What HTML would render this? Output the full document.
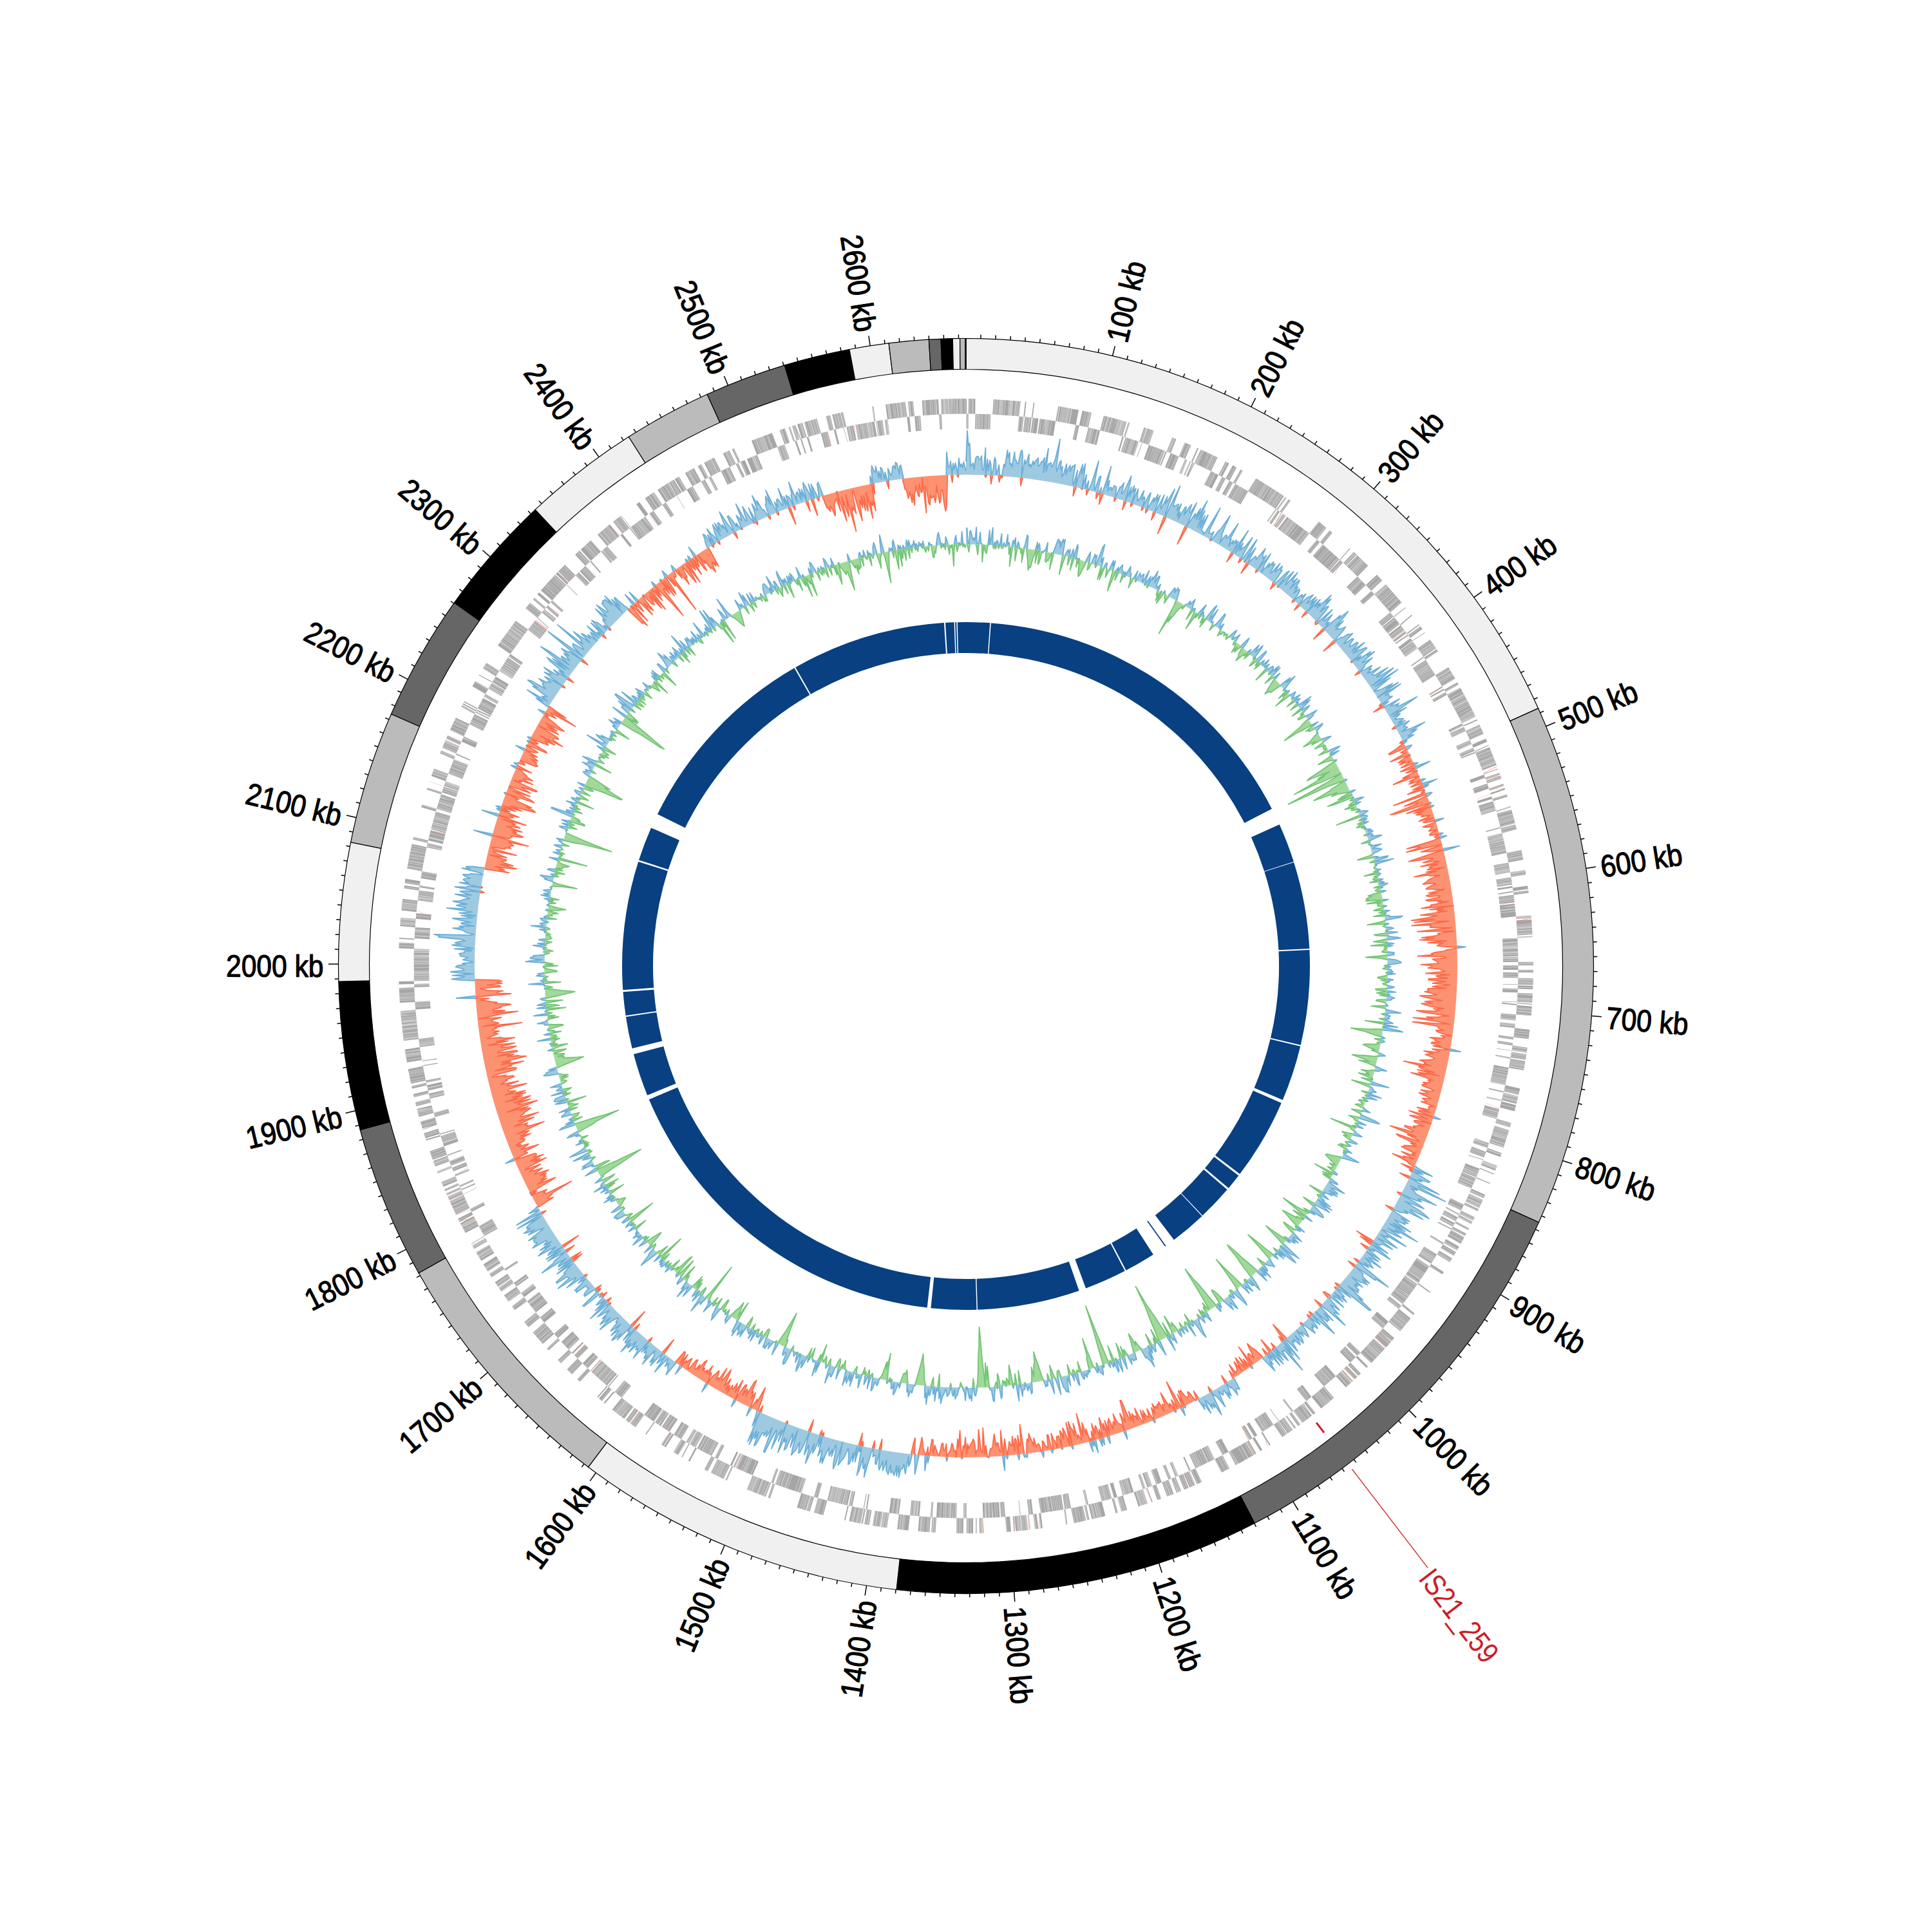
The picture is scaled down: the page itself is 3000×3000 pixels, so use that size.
<!DOCTYPE html><html><head><meta charset="utf-8"><style>html,body{margin:0;padding:0;background:#fff;}svg{display:block;}text{font-family:"Liberation Sans",sans-serif;}</style></head><body><svg width="3000" height="3000" viewBox="0 0 3000 3000"><rect width="3000" height="3000" fill="#fff"/><path d="M1503.9 630.8L1514.4 630.9M1542 631.8L1582 634.6M1581.7 634.6L1583.5 634.8M1590.6 635.5L1592.4 635.7M1603.3 636.9L1604.9 637.1M1641.2 642.3L1672.8 648.1M1678.2 649.2L1681.8 650M1682 650L1692.4 652.3M1711.1 656.8L1725.9 660.6M1726.1 660.7L1729.8 661.7M1730 661.7L1746.1 666.3M1748.5 667L1750.8 667.7M1772.9 674.7L1776.6 675.9M1777.5 676.2L1787.8 679.8M1816 690.2L1822.1 692.6M1835.2 698L1844.8 702M1854.5 706.3L1856.3 707.1M1859.6 708.6L1860.6 709.1M1860.8 709.2L1870.6 713.7M1870.8 713.8L1880.1 718.3M1880.3 718.4L1885.5 720.9M1897.6 727L1903.2 729.9M1908.7 732.8L1910.9 734M1911.1 734.1L1913 735.1M1913.3 735.3L1914.8 736.1M1920.6 739.3L1923.8 741.1M1944.2 752.8L1969.1 768.2M1969.3 768.3L1987.2 780.1M1988.9 781.3L1990.9 782.7M1994.2 784.9L1997 786.9M2040.5 819.2L2052.4 828.8M2057.1 832.8L2061.5 836.4M2088.1 859.9L2089 860.7M2094.1 865.4L2098.6 869.7M2099.5 870.6L2116.1 886.8M2129.4 900.4L2137.7 909.3M2143 915L2167.6 943.3M2173.2 950.1L2173.9 951M2182.8 962.1L2183.9 963.4M2193.6 976L2194.8 977.6M2196.1 979.3L2199.3 983.7M2202.7 988.3L2203.1 988.9M2211 1000L2220.2 1013.2M2221.1 1014.6L2223.3 1017.9M2238.9 1042.1L2245.4 1052.9M2245.7 1053.2L2249.5 1059.7M2252.8 1065.3L2254.7 1068.7M2257.1 1072.9L2275.8 1108M2275.9 1108.2L2278.8 1114M2278.9 1114.2L2280.7 1117.8M2282.7 1121.8L2283.4 1123.4M2286.6 1130.1L2293.1 1144.3M2296.2 1151.1L2296.3 1151.5M2296.5 1151.8L2298.5 1156.4M2300.6 1161.5L2301.1 1162.6M2301.9 1164.5L2302.4 1165.8M2302.5 1166L2310.1 1184.8M2310.2 1185L2312.9 1192M2314.9 1197.5L2315.3 1198.6M2317.2 1203.7L2318.3 1206.9M2318.9 1208.3L2320.4 1212.8M2323.2 1220.8L2324.4 1224.2M2325.4 1227.5L2326.2 1229.8M2328.5 1236.9L2329.6 1240.5M2334.2 1255.6L2334.7 1257.2M2335.6 1260.3L2341.3 1281.4M2341.7 1283.1L2343.7 1290.8M2350.8 1322L2353.8 1337M2356.7 1352.6L2357.9 1359.9M2360.5 1377L2361.2 1382.1M2361.5 1384.1L2362 1388M2365.8 1422.3L2366.1 1426.1M2366.3 1428.6L2367.9 1451.8M2368 1454.1L2368.1 1455.8M2369.2 1493.7L2369.2 1499M2369.2 1506.1L2369.2 1510.1M2369 1519L2368.8 1528.9M2368.7 1530.3L2368.5 1535.9M2368.2 1542.3L2368.1 1544.7M2368.1 1545L2367.4 1556.4M2367.3 1557.8L2367.2 1559.2M2367.1 1561.7L2365.9 1576.4M2363.7 1597.7L2362 1611.9M2360.2 1625.1L2359 1633.1M2358.6 1635.4L2357.3 1643.8M2356.9 1645.9L2355.8 1652.4M2355.7 1652.7L2354.4 1660M2348.8 1687.7L2346.6 1697.3M2346.1 1699.4L2343.2 1711.1M2342.8 1713L2340.3 1722.5M2335.3 1740.6L2333.4 1747.1M2332 1751.6L2326.8 1768.2M2326.8 1768.4L2323.5 1778.4M2320.7 1786.5L2318.6 1792.5M2313.6 1806.1L2310.8 1813.5M2309 1818.1L2308.5 1819.3M2303.1 1832.6L2302.6 1833.8M2295.5 1850.4L2293.1 1855.8M2292 1858.3L2286.2 1870.7M2285.4 1872.5L2283.9 1875.7M2279.3 1885L2276.8 1890.1M2276 1891.7L2274.1 1895.4M2270.9 1901.7L2269.4 1904.5M2266.3 1910.2L2264.5 1913.7M2263.7 1915.2L2262.7 1917M2262.6 1917.2L2258 1925.4M2255.5 1929.9L2252.2 1935.7M2250.7 1938.2L2247.3 1944M2244.9 1948L2241.3 1953.9M2232 1968.8L2230.4 1971.3M2230.2 1971.6L2229.6 1972.6M2211.7 1999.1L2210.6 2000.6M2187.5 2032L2186.5 2033.2M2186.4 2033.4L2185.4 2034.6M2181.3 2039.8L2165.2 2059.6M2156.2 2070.1L2152.3 2074.6M2151.6 2075.4L2145.6 2082M2145.5 2082.2L2143.5 2084.4M2141.7 2086.4L2135.9 2092.7M2135.7 2092.9L2120.8 2108.5M2115.8 2113.5L2113.5 2115.8M2105 2124.2L2101.2 2127.8M2099.6 2129.3L2095.7 2133.1M2092.9 2135.6L2091 2137.4M2090.2 2138.1L2082.1 2145.5M2063.6 2161.7L2057.2 2167.2M2057.1 2167.3L2044 2178M2035.4 2184.8L2031.9 2187.5M2030.3 2188.8L2029.1 2189.6M2028.9 2189.8L2025 2192.8M2024.9 2192.9L2022.4 2194.8M2022.2 2194.9L2015.1 2200.2M2012.5 2202.1L2008.9 2204.7M2005.2 2207.3L2003.2 2208.8M2000.7 2210.6L1992.7 2216.2M1991.8 2216.8L1984.3 2221.9M1966.5 2233.5L1964.6 2234.7M1954 2241.3L1950.9 2243.2M1944.8 2246.9L1940.8 2249.2M1940 2249.7L1917.5 2262.4M1917.2 2262.6L1913.2 2264.7M1903.7 2269.8L1891.4 2276.2M1861.2 2290.6L1853.8 2294M1851.5 2295L1842.5 2298.9M1841.2 2299.5L1834.5 2302.3M1829.7 2304.3L1825.3 2306.1M1825.1 2306.2L1822.9 2307M1818.6 2308.8L1818 2309M1817.8 2309.1L1809.6 2312.2M1809.4 2312.3L1808.3 2312.7M1799.3 2316.1L1795.9 2317.3M1795.7 2317.4L1794.2 2317.9M1794 2318L1793.2 2318.3M1785.5 2321L1783.9 2321.6M1778.4 2323.5L1764.2 2328.1M1746.9 2333.5L1738 2336M1732.9 2337.5L1729.5 2338.4M1713.6 2342.6L1707.7 2344.1M1707.4 2344.1L1692.8 2347.6M1689.1 2348.4L1685.9 2349.1M1683.8 2349.6L1680.2 2350.4M1680 2350.4L1665.4 2353.4M1655.9 2355.2L1653.7 2355.5M1617.6 2361.3L1614 2361.7M1610.9 2362.1L1605.5 2362.8M1598.8 2363.6L1597.2 2363.8M1594.8 2364.1L1585.9 2365M1585 2365.1L1584 2365.2M1583.7 2365.2L1576.2 2365.9M1575.1 2366L1573.5 2366.1M1569.1 2366.5L1561.8 2367.1M1526.8 2368.8L1525.3 2368.9M1524.3 2368.9L1520.8 2369M1516.7 2369.1L1514.9 2369.1M1511.1 2369.2L1500.9 2369.2M1495.9 2369.2L1485.3 2369.1M1453.3 2368L1447 2367.6M1444.1 2367.5L1426.5 2366.1M1411.7 2364.8L1394.5 2362.8M1378.9 2360.8L1369.6 2359.4M1368.4 2359.2L1363.9 2358.5M1363.7 2358.5L1356.9 2357.4M1351.6 2356.5L1344.1 2355.2M1342.1 2354.8L1339.5 2354.3M1338.2 2354.1L1323.9 2351.2M1323.7 2351.2L1320.9 2350.6M1315.3 2349.4L1313.5 2349M1281.4 2341.3L1267 2337.4M1260.7 2335.7L1255.7 2334.2M1255 2334L1240.9 2329.7M1199.5 2315.6L1196.3 2314.5M1193 2313.2L1189.6 2311.9M1189.4 2311.9L1182.6 2309.2M1182.3 2309.1L1164.3 2301.8M1133.6 2288.2L1131.4 2287.2M1128.5 2285.9L1109 2276.3M1104.3 2274L1099.3 2271.4M1076.5 2259.1L1074.3 2257.9M1065.1 2252.6L1063.8 2251.9M1059.2 2249.2L1051.7 2244.7M1040 2237.6L1037.1 2235.7M1036.5 2235.4L1033.3 2233.3M1010.2 2218.1L1008.9 2217.2M993.8 2206.6L990.5 2204.3M990.4 2204.2L985.8 2200.9M984.1 2199.6L978.8 2195.7M976.5 2193.9L974.5 2192.4M974.4 2192.3L971.8 2190.4M971.6 2190.2L968 2187.4M967.8 2187.3L962.2 2182.9M962 2182.8L958 2179.6M946.9 2170.6L945.3 2169.2M942.1 2166.6L937.6 2162.8M936.2 2161.6L934.8 2160.4M908.5 2136.9L904.4 2133.1M896.4 2125.5L888.7 2118M879.3 2108.6L876.5 2105.7M876.3 2105.5L874.8 2103.9M860.6 2088.9L858.4 2086.5M858.3 2086.3L857.7 2085.7M851.6 2079L848 2074.9M847.9 2074.7L836.4 2061.4M829.6 2053.3L823.1 2045.4M808.9 2027.3L808.2 2026.3M808.1 2026.1L804.4 2021.3M799.3 2014.5L793.1 2005.8M793 2005.7L792.3 2004.7M788.2 1998.9L784.1 1993M783.1 1991.6L778.3 1984.5M773.2 1976.8L769.7 1971.4M767.5 1967.9L760.5 1956.9M757.3 1951.7L749.6 1938.8M746.5 1933.3L743.6 1928.3M742.2 1925.8L741.8 1925.1M733.1 1909.2L725.2 1894M724 1891.7L723 1889.8M722.9 1889.4L721.7 1887M718.8 1881.2L714.1 1871.5M714.1 1871.3L709.2 1860.8M708.9 1860.2L708.6 1859.5M708.3 1858.8L707.4 1856.8M707.3 1856.6L705.8 1853.2M705 1851.5L703.6 1848.3M702.1 1844.8L700.9 1842M699.3 1838.3L696.3 1831.1M690.9 1817.8L689.6 1814.5M686.8 1807.2L683.7 1798.8M683.1 1797.2L678.4 1783.9M673 1767.8L672.4 1765.7M671.8 1764.1L669.4 1756.3M667.6 1750.3L667.3 1749.5M667.2 1749.1L664.1 1738.3M662 1731.1L660.7 1726.3M660.7 1726.1L659.5 1721.6M659.4 1721.4L658.9 1719.3M657.7 1714.8L656.2 1708.8M654.3 1701L653.2 1696.3M651.3 1687.8L650.4 1683.9M649.7 1680.4L645.2 1657.9M643.4 1647.9L641.4 1635.5M641.3 1635.2L640.9 1632.5M640.9 1632.2L640.2 1627.9M638.4 1614.8L634 1574.9M634 1574.7L633.5 1568.9M632.6 1556.5L631.4 1533.6M631.2 1528.3L631.1 1523.8M631.2 1472.8L631.5 1464M631.7 1458.4L631.8 1456.8M632.9 1439L633.9 1425.8M634.9 1414.9L635.3 1411.6M635.3 1411.1L636.9 1397.1M638.9 1381.1L639.6 1376.5M640 1373.2L641.1 1366.4M643.6 1350.9L646.7 1334.4M646.7 1334.2L648.7 1324.3M648.7 1324.1L651.1 1313M652.6 1306.2L653.5 1302.4M665.5 1256.7L666.7 1252.6M673.9 1229.6L674.9 1226.5M680.9 1209L685.1 1197.5M694 1174.4L695.9 1169.9M697.6 1165.7L702.5 1154.2M703.5 1151.8L705.8 1146.8M709.5 1138.6L718.4 1119.6M726.6 1103.1L727.9 1100.7M728.6 1099.3L729.5 1097.6M730.4 1095.8L731.2 1094.3M743.6 1071.7L748.4 1063.4M753.8 1054.2L754.4 1053.1M759.8 1044.2L765.3 1035.5M782.8 1008.9L786.7 1003.2M787 1002.8L810.4 970.7M825.4 951.9L832.2 943.5M836.6 938.3L838.9 935.6M843.2 930.6L845.9 927.5M848.6 924.5L857.5 914.5M857.7 914.3L859.3 912.6M859.4 912.4L870.6 900.4M871.6 899.4L874.4 896.5M875.3 895.6L885.4 885.3M901.1 870L904.4 866.9M904.5 866.8L907.9 863.6M909.5 862.1L924.3 848.7M924.5 848.6L925.3 847.9M935.2 839.3L954.3 823.4M959.2 819.4L970.4 810.7M971.6 809.8L972.1 809.4M995 792.5L999.7 789.1M1008.1 783.3L1022.1 773.9M1027.4 770.4L1044.2 759.8M1044.9 759.4L1052.5 754.8M1053.7 754.1L1060.3 750.2M1069.5 744.8L1078.4 739.8M1078.6 739.7L1083.1 737.3M1089 734.1L1094.6 731.1M1098.7 728.9L1114.1 721.1M1127.8 714.5L1137.7 709.8M1141.6 708.1L1144.6 706.7M1171.2 695.3L1202.9 683.1M1214.4 679L1222.6 676.2M1228.1 674.4L1230.5 673.6M1233.5 672.6L1237.7 671.3M1238 671.2L1238.7 670.9M1238.9 670.9L1239.4 670.7M1241.4 670.1L1249.3 667.7M1252 666.9L1271.5 661.3M1285.2 657.7L1291.8 656.1M1294.9 655.3L1307.2 652.4M1308.1 652.2L1311.6 651.4M1355.7 642.8L1357.8 642.5M1376.5 639.6L1407.1 635.7M1411.1 635.3L1418.9 634.5M1432.4 633.4L1457.6 631.8M1461.4 631.6L1479.1 631M1479.3 631L1501 630.8" fill="none" stroke="#a6a6a6" stroke-width="23.5"/><path d="M1500.6 654.3L1503.7 654.3M1514.2 654.4L1537.8 655.1M1581.3 658.2L1588.2 658.9M1590 659L1600.5 660.2M1602.1 660.4L1611.2 661.6M1613.2 661.9L1622.2 663.1M1622.4 663.1L1637.3 665.5M1668.1 671.1L1673.3 672.2M1687.3 675.2L1705.4 679.6M1739.5 688.9L1741.6 689.5M1744.1 690.2L1763.7 696.4M1763.9 696.5L1764.6 696.7M1769.2 698.2L1770 698.5M1780.1 702L1787.7 704.7M1788.1 704.8L1804.4 710.9M1805.7 711.4L1807.4 712.1M1813.5 714.5L1826.1 719.6M1835.6 723.7L1838.9 725.1M1842.9 726.9L1844.7 727.7M1846.7 728.6L1848.3 729.3M1848.6 729.4L1849.8 730M1875.1 742L1886.8 747.9M1892.4 750.8L1897.6 753.5M1903.6 756.7L1909.1 759.8M1912.5 761.7L1932.2 773M1974.1 799.6L1975.7 800.7M1977.7 802.1L1980.8 804.2M1983.6 806.2L1984.3 806.6M1985.8 807.7L1989.7 810.5M1991.7 811.9L2023.4 835.6M2023.1 835.5L2025.7 837.5M2037.5 847L2042 850.8M2046.4 854.4L2072.2 877.2M2073.2 878.1L2077.4 882M2099.4 903.4L2112.3 916.6M2120.6 925.4L2125.4 930.6M2149.6 958.4L2154.9 964.8M2155.8 965.9L2164.4 976.6M2165.5 978.1L2171.1 985.3M2172.3 986.9L2174.7 990.1M2176.1 991.8L2177.2 993.4M2180.6 997.9L2183.7 1002.1M2184.2 1002.8L2191.1 1012.5M2191.4 1012.9L2191.8 1013.5M2200.7 1026.4L2201.6 1027.7M2203.9 1031.1L2218.9 1054.5M2229.2 1071.6L2230.1 1073.1M2231.4 1075.3L2232.4 1077.1M2234.4 1080.5L2236.6 1084.4M2259.7 1128.3L2261.5 1132M2262.3 1133.6L2263.7 1136.7M2263.9 1137L2265.3 1140M2271.7 1153.9L2273.6 1158.2M2273.7 1158.4L2274.6 1160.5M2276.9 1165.7L2279 1170.6M2279.5 1171.8L2280.2 1173.6M2293.3 1206.8L2295.1 1211.7M2298.3 1220.6L2300.9 1228.3M2304.9 1240.3L2306 1243.9M2307.2 1247.6L2311.6 1262.1M2318.6 1287.4L2319 1288.9M2320.9 1296.4L2322.1 1301.2M2322.1 1301.4L2325.2 1314.5M2325.2 1314.7L2325.6 1316.5M2325.7 1316.8L2327.8 1326.7M2330.8 1341.5L2333.5 1356.5M2334.7 1363.8L2335.1 1366.3M2335.2 1366.6L2336.5 1375.2M2336.8 1377.6L2337.2 1380.3M2337.9 1385.3L2338.2 1387.2M2338.7 1391L2340.1 1402.6M2340.3 1404.5L2340.7 1407.6M2340.7 1407.9L2342.4 1424.3M2344.7 1457.2L2345.6 1485.1M2345.6 1486.2L2345.7 1493.8M2345.7 1499.2L2345.7 1505.9M2345.7 1509.9L2345.6 1514.4M2345.6 1514.6L2345.6 1518.3M2345.3 1528.2L2345.3 1529.1M2345 1535L2344.8 1540.9M2343.9 1555.2L2343.9 1556.1M2343.8 1557.8L2343.6 1559.9M2342.5 1574.5L2342.1 1579M2342 1579.2L2341.6 1583.6M2341.1 1588.5L2340.4 1595M2338.7 1608.9L2338.2 1612.6M2337.5 1617.8L2336.9 1621.7M2335.8 1629.5L2335.7 1630.2M2334.1 1639.9L2333.7 1642M2331.3 1655.8L2330.8 1658.4M2330.7 1658.6L2325.8 1682.6M2323.6 1692.1L2323.2 1693.9M2320.4 1705.4L2320 1707.2M2316.8 1719.2L2316.5 1720.4M2316.5 1720.6L2312.7 1734.1M2301.2 1771L2300.7 1772.3M2300.6 1772.5L2298.5 1778.7M2296.4 1784.6L2293.3 1793.1M2291.9 1796.8L2291.6 1797.8M2286.6 1810.7L2285.4 1813.9M2285.3 1814L2281.4 1823.6M2280.9 1824.8L2274.5 1839.7M2274.4 1839.9L2274 1840.9M2262.7 1865.5L2258.3 1874.6M2255.8 1879.6L2255 1881.1M2253.2 1884.7L2252.4 1886.2M2252.3 1886.5L2250.1 1890.8M2248.5 1893.7L2245.6 1899.1M2243.8 1902.5L2243.1 1903.9M2231.8 1924L2230.4 1926.3M2221.2 1941.8L2220.5 1942.9M2220.4 1943.1L2215.5 1951M2215.3 1951.2L2212.3 1956M2209.8 1959.8L2196 1980.6M2195.7 1980.9L2192.5 1985.6M2191.4 1987.1L2187.8 1992.2M2187.7 1992.4L2182.9 1999M2182.7 1999.2L2178.6 2004.8M2178.5 2005L2168.9 2017.5M2166.8 2020.3L2162.9 2025.2M2147.2 2044.5L2138.4 2054.7M2104 2092L2099.2 2096.9M2096.9 2099.2L2088.6 2107.3M2066.4 2128.1L2048.4 2143.8M2029.3 2159.7L2026.5 2161.8M2026.3 2162L2020.9 2166.3M2001.1 2181.3L1998.7 2183.1M1979.3 2196.8L1978.6 2197.3M1971.1 2202.4L1954.9 2213M1954.7 2213.1L1953.9 2213.6M1946 2218.6L1941.8 2221.2M1938.7 2223.1L1933.8 2226M1902 2244.1L1892.9 2249M1880.8 2255.2L1857.8 2266.3M1857.5 2266.5L1851.5 2269.3M1844 2272.6L1842 2273.5M1825.3 2280.7L1820.9 2282.5M1814.2 2285.2L1810 2286.9M1799.9 2290.8L1797.1 2291.8M1797 2291.9L1791.3 2294M1785.1 2296.2L1777.8 2298.8M1775.1 2299.8L1770.9 2301.2M1756.9 2305.8L1743 2310.1M1742.7 2310.2L1740.5 2310.8M1731.6 2313.4L1726.7 2314.8M1723.3 2315.7L1718.5 2317M1718.3 2317.1L1713.1 2318.5M1712.8 2318.5L1707.9 2319.8M1687.5 2324.7L1684 2325.5M1660.9 2330.3L1655.1 2331.4M1654.9 2331.5L1651.7 2332M1649.5 2332.4L1614.4 2338M1602.7 2339.5L1596.1 2340.3M1583.6 2341.6L1582.7 2341.7M1560.1 2343.6L1556.1 2343.9M1555.9 2343.9L1553.2 2344.1M1551.7 2344.2L1541.1 2344.8M1540.8 2344.8L1537.2 2344.9M1537 2344.9L1526.1 2345.3M1500.7 2345.7L1496.2 2345.7M1485.6 2345.6L1480.1 2345.5M1479.7 2345.5L1458.9 2344.8M1458.7 2344.7L1454.6 2344.5M1448.4 2344.2L1445.6 2344M1428.5 2342.7L1414.2 2341.4M1397.2 2339.5L1382.2 2337.5M1348.3 2332L1346.4 2331.7M1343.8 2331.2L1342.7 2331M1325.7 2327.6L1320.4 2326.5M1318.5 2326L1287.4 2318.6M1273.3 2314.8L1267.2 2313.1M1247.9 2307.3L1225 2299.8M1224.9 2299.7L1219.3 2297.8M1219.1 2297.7L1211.6 2295.1M1211.4 2295L1207.6 2293.6M1204.5 2292.4L1201.4 2291.3M1173.3 2280.1L1147.6 2268.8M1146.1 2268.2L1143.6 2267M1141.3 2265.9L1138.7 2264.7M1119.5 2255.3L1115.1 2253.1M1110.2 2250.5L1088 2238.6M1085.8 2237.4L1076.9 2232.3M1075.6 2231.6L1071.2 2229M1063.8 2224.6L1052.5 2217.7M1045.8 2213.5L1034.1 2205.8M1032.2 2204.6L1030.5 2203.5M1030.3 2203.3L1029.3 2202.7M1029.2 2202.6L1023.6 2198.8M1022.1 2197.8L1011.6 2190.5M1011.4 2190.3L1010.1 2189.4M1009.9 2189.3L1007.5 2187.5M972.6 2161.2L961.9 2152.5M952.7 2144.8L951.5 2143.8M950.1 2142.6L945 2138.2M944.9 2138.1L933.1 2127.7M933 2127.5L926.4 2121.6M925.1 2120.3L924.4 2119.7M920.5 2116L912.8 2108.6M905.2 2101.2L900.2 2096.2M897.8 2093.9L896.1 2092.2M891.5 2087.4L880.4 2075.7M875 2069.8L873 2067.6M872.8 2067.4L869.2 2063.3M854.3 2046.2L847.7 2038.3M841.3 2030.5L827.7 2013.2M823.2 2007.1L818.3 2000.6M811.4 1991L807.4 1985.4M794.8 1966.9L793 1964.1M762.3 1913.6L753.8 1898.2M742.7 1876.5L740.5 1872.2M729.9 1849.7L729.7 1849.3M727.2 1843.6L726.5 1842M725 1838.6L723.8 1835.9M718 1822.1L716.9 1819.4M714.9 1814.5L712.8 1809.2M711.5 1805.8L708.8 1798.9M705.8 1790.7L705.3 1789.3M700.6 1776.2L695.4 1760.6M694.7 1758.5L694.3 1757.1M686.6 1731.6L684.7 1724.9M679 1703.2L677.2 1695.6M676.1 1690.9L674.2 1682.7M673.4 1678.9L672.7 1675.5M668.3 1653.5L668.1 1652.3M667 1646.4L666.8 1645.2M663.4 1624.4L661.7 1611.8M656.9 1566.8L656.5 1561M656.4 1560.7L656 1555M654.9 1532.6L654.7 1527.5M654.6 1523.1L654.4 1483.3M654.4 1483.6L654.7 1473.6M655.3 1457.8L656.2 1442.8M656.2 1442.6L656.3 1440.6M657.3 1427.8L658.1 1418.9M660.2 1399.8L662.2 1384.3M662.8 1379.7L663.3 1376.6M665 1365.7L665.9 1360.2M665.9 1360L666.8 1355M674.1 1318.1L674.8 1314.8M674.8 1314.6L675.5 1311.6M676.4 1307.7L680.2 1292.1M680.6 1290.6L688 1263.4M689.2 1259.2L694.6 1242M694.6 1241.7L696.2 1237.1M697.2 1233.9L700.1 1225.2M700.5 1224.1L703 1216.9M707.1 1205.6L715.8 1183.2M718.6 1176.4L719.3 1174.8M727.3 1156.2L729.5 1151.2M729.6 1151L730.8 1148.4M739.6 1129.8L747.5 1113.9M748.8 1111.5L749.5 1110.1M750.4 1108.4L751.2 1106.7M752 1105.3L760.5 1089.6M761.6 1087.6L764 1083.3M768.7 1075.1L773.2 1067.4M773.4 1067.2L774 1066.2M774.6 1065.1L779.8 1056.5M785.2 1048L793.9 1034.5M794 1034.3L798.5 1027.6M799.5 1026.1L802.2 1022.2M829.1 985L840.1 971.1M842.9 967.5L843.6 966.7M850.3 958.5L854.5 953.5M856.8 950.8L859.4 947.8M863.8 942.8L866.2 940.1M887.9 916.4L888.6 915.7M902 901.9L907.1 896.9M908.3 895.6L917.2 887.1M923.9 880.8L925.4 879.5M940.8 865.5L942.9 863.7M943.1 863.5L943.5 863.2M943.7 863L950.4 857.1M970.9 840.2L973.8 837.9M984.8 829.3L985.9 828.4M986.5 828L1005 814.2M1005.3 814L1008.6 811.7M1015.1 807.1L1021.4 802.7M1035 793.5L1040.1 790.2M1056.6 779.8L1057.1 779.5M1072.2 770.4L1081.2 765.2M1094.4 757.9L1096.7 756.6M1096.9 756.5L1100 754.8M1105.7 751.8L1109.5 749.8M1124.6 742.1L1137.9 735.7M1147.6 731.2L1151.2 729.5M1154.3 728.1L1161.1 725.1M1164.3 723.7L1180 717.1M1210.9 705.2L1222.1 701.2M1237.9 695.9L1240.5 695M1246.5 693.1L1248.4 692.5M1256.1 690.2L1258.7 689.4M1277.6 684L1287.9 681.3M1297.6 678.8L1300.4 678.1M1312.6 675.3L1313.3 675.1M1316.8 674.3L1327.3 672.1M1330.4 671.4L1359.6 666M1361.7 665.6L1366.3 664.9M1366.5 664.8L1372 664M1375.1 663.5L1379.7 662.9M1409.6 659.1L1413.4 658.7M1421.1 657.9L1430 657.2M1458.8 655.3L1462.4 655.1" fill="none" stroke="#a6a6a6" stroke-width="23.5"/><path d="M2314 1195.1L2314.2 1195.5M2318.4 1206.9L2318.5 1207.4M2324.4 1224.3L2324.4 1224.5M2366.1 1426.2L2366.1 1426.6M2366.2 1427.7L2366.3 1428.2M2152.2 2074.6L2151.9 2075M2143.5 2084.4L2143.2 2084.7M2101.2 2127.8L2101 2128M2095.5 2133.2L2095.2 2133.5M2091 2137.5L2090.6 2137.8M2031.8 2187.6L2031.6 2187.7M2003.2 2208.8L2002.9 2209M1964.6 2234.7L1964.3 2234.8M1940.8 2249.2L1940.4 2249.4M1842.5 2298.9L1842.1 2299.1M1783.8 2321.6L1783.6 2321.7M1613.9 2361.8L1613.6 2361.8M1597.1 2363.8L1596.7 2363.8M1576.1 2365.9L1575.6 2366M1525.3 2368.9L1524.9 2368.9M1369.6 2359.4L1369.3 2359.4M1037 2235.7L1036.5 2235.4M985.8 2200.9L985.4 2200.6M749.6 1938.8L749.5 1938.6M743.6 1928.3L743.4 1927.9M725 1893.8L724.9 1893.4M719.4 1882.5L719.3 1882.2M709.1 1860.7L708.9 1860.3M677.9 1217.5L678 1217.2M702.5 1154.1L702.7 1153.7M786.7 1003.2L786.9 1002.9M874.4 896.5L874.7 896.1M954.3 823.4L954.6 823.1" fill="none" stroke="#fb6a4a" stroke-width="23.5"/><path d="M1611.3 661.6L1611.5 661.6M1764.7 696.7L1764.9 696.8M1804.4 710.9L1804.6 711M1839 725.2L1839.3 725.3M1984.4 806.7L1984.8 807M1989.7 810.5L1989.9 810.6M2077.4 882.1L2077.6 882.2M2171.2 985.4L2171.5 985.8M2230.1 1073.1L2230.4 1073.6M2303.9 1237.2L2304 1237.5M2340.1 1402.6L2340.2 1403M2317.6 1716.5L2317.5 1716.8M1933.8 2226L1933.4 2226.2M1553.1 2344.1L1552.9 2344.1M1147.4 2268.7L1147.2 2268.6M1034.1 2205.8L1033.9 2205.7M926.4 2121.5L925.9 2121.1M900.1 2096.2L899.8 2095.9M716.9 1819.3L716.7 1819M666.8 1645.2L666.8 1644.9M658.1 1418.9L658.2 1418.7M680.2 1292.1L680.3 1291.6M840.1 971.1L840.4 970.7M841 969.9L841.3 969.5M859.4 947.8L859.7 947.4M907.1 896.9L907.2 896.8M1013.3 808.3L1013.5 808.2M1287.9 681.3L1288.3 681.2M1327.4 672L1328 671.9" fill="none" stroke="#fb6a4a" stroke-width="23.5"/><path d="M1505.9 642.5L1506 619M1509.4 642.6L1509.6 619.1M1510.9 642.6L1511.2 619.1M1543.2 643.6L1544.4 620.1M1545.6 643.7L1546.8 620.2M1547.8 643.8L1549.1 620.4M1550.9 644L1552.3 620.6M1552.4 644.1L1553.8 620.6M1553.5 644.2L1554.9 620.7M1554.9 644.3L1556.4 620.8M1556.3 644.3L1557.8 620.9M1559.3 644.6L1561 621.1M1565.2 645L1567 621.6M1567 645.1L1568.8 621.7M1567.6 645.2L1569.5 621.7M1568.7 645.3L1570.6 621.8M1570.2 645.4L1572.1 622M1570.7 645.4L1572.7 622M1575.2 645.8L1577.3 622.4M1576.6 645.9L1578.7 622.5M1578.5 646.1L1580.6 622.7M1580.9 646.3L1583.1 622.9M1641.1 654.2L1644.9 631M1642 654.3L1645.9 631.2M1645.2 654.9L1649.2 631.7M1647.2 655.2L1651.2 632.1M1648.7 655.5L1652.8 632.4M1650.4 655.8L1654.6 632.7M1652.4 656.2L1656.6 633M1654.1 656.5L1658.3 633.3M1655.4 656.7L1659.7 633.6M1656.7 656.9L1661 633.8M1659.4 657.4L1663.7 634.4M1660.3 657.6L1664.7 634.5M1682 662L1686.9 639.1M1685.2 662.7L1690.3 639.8M1687.2 663.2L1692.3 640.2M1688.2 663.4L1693.3 640.5M1710.5 668.7L1716.2 645.9M1714.1 669.6L1719.9 646.9M1715 669.9L1720.9 647.1M1716.5 670.3L1722.5 647.5M1720 671.2L1726 648.5M1720.8 671.4L1726.8 648.7M1729.9 673.9L1736.2 651.3M1731.1 674.2L1737.5 651.6M1732.5 674.6L1738.9 652M1734.1 675.1L1740.5 652.5M1735.4 675.4L1741.8 652.8M1735.9 675.6L1742.3 653M1737 675.9L1743.5 653.3M1738.1 676.2L1744.6 653.6M1739.6 676.7L1746.2 654.1M1741.2 677.1L1747.8 654.6M1746.4 678.7L1753.1 656.1M1771.1 686.5L1778.5 664.2M1775 687.8L1782.5 665.5M1777.7 688.7L1785.3 666.5M1779.8 689.4L1787.4 667.2M1781.7 690.1L1789.5 667.9M1782.9 690.5L1790.6 668.3M1813.2 701.7L1821.8 679.9M1814.5 702.2L1823.1 680.4M1815.3 702.6L1823.9 680.7M1831.9 709.3L1841 687.7M1836.5 711.3L1845.7 689.7M1838.1 711.9L1847.3 690.4M1857.1 720.4L1866.8 699M1858 720.8L1867.8 699.4M1859.7 721.6L1869.5 700.2M1868 725.5L1878.1 704.3M1871.4 727.1L1881.5 705.9M1873.1 727.9L1883.3 706.8M1873.8 728.3L1884.1 707.1M1876.4 729.5L1886.7 708.4M1878.3 730.5L1888.7 709.4M1894 738.4L1904.8 717.5M1894.6 738.7L1905.4 717.8M1916.4 750.4L1927.8 729.9M1939.7 763.8L1951.7 743.6M1941.4 764.8L1953.4 744.7M1943.3 766L1955.5 745.9M1945.5 767.3L1957.7 747.3M1948.8 769.3L1961.1 749.3M1951.7 771.1L1964 751.1M1952.4 771.5L1964.8 751.6M1954 772.5L1966.4 752.6M1954.9 773.1L1967.3 753.2M1956.3 774L1968.8 754.1M1958.6 775.4L1971.2 755.6M1959.5 776L1972.1 756.1M1963.6 778.7L1976.4 758.9M1965.6 779.9L1978.4 760.2M1967.6 781.2L1980.4 761.5M1968.2 781.6L1981.1 761.9M1969.3 782.3L1982.2 762.7M1970.6 783.2L1983.5 763.5M1973 784.8L1986 765.2M1974.4 785.7L1987.4 766.1M1975.5 786.4L1988.5 766.9M1977.4 787.7L1990.5 768.2M1978.4 788.4L1991.5 768.9M1983.5 791.8L1996.7 772.4M1989 795.6L2002.4 776.3M2034.2 829.2L2048.9 810.9M2037.5 831.9L2052.3 813.6M2039.8 833.7L2054.6 815.5M2042.2 835.7L2057.1 817.5M2043.5 836.7L2058.3 818.5M2044.1 837.2L2059 819M2051 843L2066.1 825M2052.8 844.5L2068 826.5M2087.2 875.1L2103.3 858M2088.4 876.2L2104.5 859.1M2089.2 877L2105.3 859.9M2092.7 880.3L2109 863.4M2095.5 883L2111.8 866.1M2096.3 883.8L2112.7 866.9M2097.7 885.2L2114.1 868.3M2098.7 886.1L2115.1 869.2M2099.3 886.7L2115.7 869.9M2100.1 887.4L2116.5 870.7M2101 888.4L2117.5 871.6M2101.9 889.2L2118.4 872.5M2103.5 890.9L2120.1 874.2M2105.9 893.2L2122.5 876.6M2122.9 910.7L2140 894.5M2126.3 914.2L2143.4 898.2M2127.6 915.7L2144.8 899.7M2134.7 923.4L2152 907.5M2135.5 924.3L2152.9 908.5M2136.6 925.5L2154 909.7M2137 925.9L2154.4 910.2M2137.3 926.3L2154.8 910.6M2138.8 927.9L2156.3 912.2M2141 930.4L2158.6 914.8M2142.3 931.9L2160 916.4M2144.1 934L2161.8 918.5M2144.9 934.8L2162.6 919.3M2147 937.3L2164.7 921.8M2148.9 939.4L2166.7 924M2149.7 940.4L2167.5 925M2152.3 943.4L2170.1 928.1M2153.5 944.8L2171.4 929.6M2154.1 945.5L2172.1 930.3M2157.4 949.4L2175.4 934.3M2184.4 983.4L2203.2 969.2M2187.8 987.9L2206.6 973.8M2202.6 1008.4L2221.9 994.9M2204.5 1011.1L2223.8 997.7M2205 1011.9L2224.4 998.6M2206.3 1013.7L2225.6 1000.3M2207.1 1015L2226.5 1001.7M2207.8 1016L2227.2 1002.7M2208.5 1017L2228 1003.8M2209.5 1018.4L2228.9 1005.2M2213 1023.6L2232.5 1010.5M2229.6 1049.4L2249.6 1037.1M2231.1 1051.8L2251.1 1039.5M2231.8 1053L2251.8 1040.8M2232.1 1053.5L2252.2 1041.3M2233.7 1056.1L2253.8 1044M2234.6 1057.7L2254.8 1045.6M2236.8 1061.3L2257 1049.2M2238.8 1064.8L2259.1 1052.8M2243.9 1073.4L2264.3 1061.7M2247.3 1079.4L2267.8 1067.9M2247.6 1080L2268.1 1068.5M2250.5 1085.2L2271.1 1073.8M2252.5 1088.8L2273.1 1077.5M2252.8 1089.3L2273.4 1078.1M2253.1 1090L2273.7 1078.7M2253.9 1091.4L2274.5 1080.2M2254.7 1092.9L2275.4 1081.8M2256.4 1096.1L2277.1 1085M2257.4 1097.9L2278.2 1086.9M2257.7 1098.5L2278.4 1087.5M2258 1099.2L2278.8 1088.2M2259.1 1101.2L2279.9 1090.2M2260.5 1103.8L2281.3 1092.9M2261.6 1106L2282.5 1095.2M2263.7 1110L2284.6 1099.3M2266 1114.7L2287 1104.1M2266.8 1116.2L2287.8 1105.6M2267.6 1117.8L2288.7 1107.3M2268.8 1120.2L2289.9 1109.7M2269.3 1121.2L2290.4 1110.9M2269.7 1122L2290.8 1111.7M2276.6 1136.4L2297.9 1126.4M2277.3 1138L2298.6 1128.1M2277.7 1138.7L2299 1128.8M2278.1 1139.6L2299.4 1129.7M2278.6 1140.7L2299.9 1130.8M2279.9 1143.6L2301.3 1133.8M2280.9 1145.7L2302.3 1136M2282.1 1148.4L2303.5 1138.8M2292.7 1173.1L2314.5 1164.1M2293.3 1174.4L2315 1165.4M2294.4 1177.1L2316.1 1168.2M2295.2 1179.2L2317 1170.4M2296.7 1182.9L2318.5 1174.2M2297.2 1184.2L2319.1 1175.5M2297.6 1185.1L2319.4 1176.4M2298.4 1187.3L2320.3 1178.7M2299.7 1190.5L2321.6 1182M2300.2 1191.7L2322.1 1183.2M2300.6 1192.7L2322.5 1184.3M2300.9 1193.5L2322.8 1185.1M2306.7 1209.3L2328.8 1201.3M2307.3 1210.9L2329.4 1202.9M2308.3 1213.7L2330.4 1205.9M2308.9 1215.3L2331 1207.5M2312.7 1226.5L2335 1219M2313.2 1228L2335.5 1220.5M2317.7 1241.7L2340.1 1234.6M2323.2 1259.8L2345.7 1253.2M2324.7 1265.1L2347.3 1258.7M2326.1 1269.9L2348.7 1263.6M2326.4 1271.3L2349.1 1265M2327.1 1273.7L2349.8 1267.5M2327.8 1276.1L2350.4 1270M2328.1 1277.3L2350.8 1271.2M2328.6 1279.3L2351.3 1273.3M2329.6 1283.1L2352.4 1277.2M2330.8 1287.6L2353.6 1281.8M2331.2 1289.1L2353.9 1283.3M2332 1292.4L2354.8 1286.7M2339.5 1325.1L2362.5 1320.3M2339.9 1327.4L2363 1322.6M2340.5 1330.2L2363.6 1325.5M2341.1 1333.2L2364.2 1328.7M2341.3 1334.2L2364.4 1329.7M2341.7 1336.2L2364.8 1331.7M2345.2 1355.5L2368.4 1351.5M2345.4 1356.2L2368.5 1352.3M2345.6 1357.7L2368.8 1353.8M2346 1360.3L2369.2 1356.5M2350 1387L2373.3 1383.9M2354.2 1424.4L2377.6 1422.3M2354.3 1425.8L2377.7 1423.7M2354.4 1427.1L2377.8 1425.2M2355.1 1436.2L2378.6 1434.4M2355.3 1438.6L2378.7 1436.9M2355.4 1440.2L2378.9 1438.6M2355.5 1440.9L2378.9 1439.3M2355.5 1442.1L2379 1440.5M2355.7 1444.9L2379.2 1443.4M2355.8 1446.1L2379.3 1444.6M2356 1449.2L2379.5 1447.8M2356.1 1450.8L2379.6 1449.5M2356.4 1455.8L2379.8 1454.6M2357.5 1495.4L2381 1495.3M2357.5 1497L2381 1496.9M2357.5 1507.4L2381 1507.6M2357.3 1520.3L2380.8 1520.9M2357.2 1521.8L2380.7 1522.4M2357.2 1524.5L2380.6 1525.2M2357.1 1526.1L2380.6 1526.9M2356.9 1533L2380.3 1533.9M2356.4 1543.4L2379.9 1544.5M2356.1 1549.5L2379.5 1550.9M2356 1550.7L2379.5 1552.1M2355.9 1552.3L2379.4 1553.7M2355.8 1554.5L2379.2 1556M2355 1564.9L2378.5 1566.7M2354.9 1566.7L2378.3 1568.5M2354.7 1569.8L2378.1 1571.7M2354.6 1570.6L2378 1572.6M2354.3 1574.5L2377.7 1576.6M2351.6 1600.2L2375 1603M2351.2 1603.5L2374.6 1606.3M2350.7 1607.9L2374 1610.9M2348.4 1624.6L2371.7 1628M2348.2 1626L2371.4 1629.4M2347.7 1629.3L2370.9 1632.9M2347.6 1630.2L2370.8 1633.8M2346.8 1635.1L2370 1638.8M2346.5 1636.9L2369.7 1640.6M2346.1 1639.6L2369.2 1643.4M2344.9 1646.4L2368.1 1650.4M2344.5 1648.7L2367.6 1652.8M2343.9 1652.1L2367 1656.3M2343.4 1654.9L2366.5 1659.2M2343.3 1655.4L2366.4 1659.7M2336 1690.7L2358.9 1695.9M2335.5 1693L2358.4 1698.3M2334.4 1697.5L2357.3 1703M2334.2 1698.4L2357.1 1703.8M2333.9 1700L2356.7 1705.4M2333.2 1702.7L2356 1708.3M2332.9 1704.1L2355.7 1709.7M2332.5 1705.5L2355.3 1711.1M2330.3 1714.4L2353 1720.3M2323.4 1739.3L2346 1745.8M2323 1740.8L2345.6 1747.4M2322.5 1742.4L2345.1 1749.1M2320.4 1749.5L2342.9 1756.4M2319.9 1751.1L2342.4 1758M2319.3 1753.2L2341.7 1760.1M2318.5 1755.8L2340.9 1762.8M2318 1757.4L2340.4 1764.4M2317.4 1759L2339.8 1766.1M2317.1 1760L2339.5 1767.1M2316.7 1761.5L2339 1768.6M2316.4 1762.3L2338.8 1769.5M2314.5 1768.1L2336.8 1775.4M2314.1 1769.4L2336.4 1776.8M2313.2 1772L2335.5 1779.5M2312.9 1773L2335.2 1780.5M2308.9 1784.5L2331.1 1792.3M2308.7 1785.2L2330.8 1793M2302.1 1803.2L2324.1 1811.5M2301.9 1803.9L2323.8 1812.2M2301.5 1804.7L2323.5 1813.1M2301.2 1805.7L2323.1 1814.1M2300.7 1806.8L2322.7 1815.3M2283.6 1848.2L2305.1 1857.7M2283.1 1849.5L2304.5 1859M2280.8 1854.5L2302.2 1864.2M2280.3 1855.5L2301.7 1865.2M2279.6 1857.1L2301 1866.9M2278.3 1859.9L2299.6 1869.8M2277.8 1861L2299.1 1870.9M2277.5 1861.6L2298.9 1871.5M2276.7 1863.3L2298 1873.3M2276.1 1864.7L2297.4 1874.7M2273.9 1869.3L2295.1 1879.4M2268.1 1881.2L2289.2 1891.6M2267.2 1883.1L2288.2 1893.6M2266.8 1883.8L2287.8 1894.3M2264.8 1887.9L2285.7 1898.5M2264.1 1889.1L2285.1 1899.8M2260 1897.1L2280.8 1908M2255.1 1906.4L2275.8 1917.5M2253.1 1910.1L2273.7 1921.4M2250.5 1914.8L2271.1 1926.2M2249.6 1916.5L2270.1 1927.9M2243.2 1927.7L2263.6 1939.4M2242.6 1928.8L2263 1940.5M2239.5 1934.2L2259.7 1946.1M2237.8 1937.1L2258 1949M2233.5 1944.2L2253.6 1956.3M2232.6 1945.6L2252.7 1957.8M2231.9 1946.7L2252 1959M2169.9 2035.3L2188.2 2050M2168.1 2037.6L2186.4 2052.3M2166.6 2039.4L2184.9 2054.2M2165.8 2040.4L2184.1 2055.2M2164.7 2041.7L2182.9 2056.6M2163.3 2043.4L2181.5 2058.3M2162.4 2044.5L2180.6 2059.5M2161.8 2045.3L2179.9 2060.2M2160.3 2047L2178.4 2062M2158.5 2049.3L2176.5 2064.3M2157.8 2050.1L2175.8 2065.2M2157.1 2051L2175.1 2066.1M2145.5 2064.5L2163.2 2080M2143.4 2066.8L2161.1 2082.4M2141.7 2068.8L2159.3 2084.4M2140.2 2070.5L2157.8 2086.1M2139.2 2071.6L2156.7 2087.3M2134.8 2076.5L2152.2 2092.2M2132.2 2079.4L2149.5 2095.2M2131 2080.7L2148.3 2096.6M2129.1 2082.7L2146.4 2098.6M2127.6 2084.3L2144.8 2100.4M2125.5 2086.6L2142.6 2102.7M2124.7 2087.4L2141.8 2103.5M2124.2 2088L2141.3 2104.1M2123.1 2089.1L2140.2 2105.2M2122.4 2089.9L2139.4 2106.1M2121.7 2090.5L2138.8 2106.7M2120.4 2091.9L2137.4 2108.2M2118.3 2094.1L2135.2 2110.4M2117.1 2095.4L2134 2111.7M2113.4 2099.2L2130.2 2115.6M2095.1 2117.4L2111.4 2134.3M2093.1 2119.3L2109.3 2136.3M2090.9 2121.4L2107.1 2138.4M2088.7 2123.5L2104.8 2140.6M2084.1 2127.8L2100.1 2145M2083 2128.8L2099 2146M2081.7 2130.1L2097.6 2147.3M2080.4 2131.3L2096.3 2148.6M2077.5 2133.8L2093.4 2151.2M2076.8 2134.5L2092.6 2151.9M2054.8 2153.8L2070 2171.7M2054.3 2154.2L2069.5 2172.2M2051.1 2157L2066.2 2175M2047.7 2159.8L2062.8 2177.8M2047 2160.4L2062 2178.5M2045.7 2161.5L2060.6 2179.6M2044.5 2162.4L2059.5 2180.6M2043.4 2163.3L2058.3 2181.5M2041.8 2164.7L2056.6 2182.9M2040.5 2165.7L2055.4 2183.9M2027.1 2176.3L2041.6 2194.9M2024.7 2178.2L2039.1 2196.8M2020.1 2181.8L2034.4 2200.4M2019.3 2182.4L2033.5 2201.1M2014.3 2186.2L2028.4 2205M2012.7 2187.3L2026.8 2206.2M2011 2188.6L2025 2207.4M2009.3 2189.8L2023.3 2208.7M2008.9 2190.1L2022.9 2209.1M2005.1 2192.9L2018.9 2211.9M2003.8 2193.9L2017.6 2212.9M1996.9 2198.8L2010.6 2218M1996.4 2199.2L2010 2218.4M1993.3 2201.4L2006.8 2220.6M1992.2 2202.2L2005.7 2221.4M1990.8 2203.2L2004.2 2222.4M1989.8 2203.8L2003.2 2223.1M1988.1 2205L2001.5 2224.4M1983.6 2208.1L1996.8 2227.5M1983 2208.5L1996.3 2227.9M1981 2209.9L1994.2 2229.3M1978.4 2211.7L1991.5 2231.2M1958.3 2224.7L1970.9 2244.6M1937 2237.8L1949 2258M1935.8 2238.5L1947.7 2258.7M1934.8 2239.1L1946.7 2259.3M1931.9 2240.8L1943.8 2261.1M1926.8 2243.7L1938.5 2264.1M1926.2 2244.1L1937.9 2264.5M1922.2 2246.4L1933.8 2266.8M1910.3 2253L1921.5 2273.6M1908.9 2253.7L1920.1 2274.4M1897 2260.1L1907.9 2280.9M1896 2260.6L1906.9 2281.4M1892.8 2262.2L1903.6 2283.1M1890.8 2263.3L1901.5 2284.2M1886.9 2265.3L1897.5 2286.2M1855 2280.5L1864.8 2301.9M1850.7 2282.5L1860.3 2304M1846.1 2284.6L1855.6 2306.1M1845.1 2285L1854.5 2306.5M1842.7 2286L1852.1 2307.6M1840.5 2287L1849.8 2308.6M1837.9 2288.1L1847.1 2309.7M1834.5 2289.6L1843.6 2311.2M1831.6 2290.8L1840.7 2312.4M1823.6 2294.1L1832.5 2315.8M1822.7 2294.5L1831.5 2316.3M1820.2 2295.5L1828.9 2317.3M1811.5 2298.9L1820 2320.8M1809.3 2299.8L1817.7 2321.7M1808.7 2300L1817.2 2321.9M1806.3 2300.9L1814.7 2322.9M1794.2 2305.4L1802.3 2327.5M1780 2310.5L1787.7 2332.7M1774 2312.6L1781.5 2334.8M1772.8 2313L1780.2 2335.2M1772.2 2313.2L1779.6 2335.4M1770.4 2313.8L1777.8 2336.1M1769.2 2314.1L1776.6 2336.5M1767.3 2314.8L1774.6 2337.1M1765.6 2315.3L1772.9 2337.7M1764.5 2315.7L1771.8 2338M1763.6 2316L1770.8 2338.3M1740.7 2323L1747.3 2345.6M1738.5 2323.7L1745 2346.2M1736.4 2324.3L1742.9 2346.9M1735.6 2324.5L1742 2347.1M1728.7 2326.4L1735 2349.1M1703.1 2333.1L1708.7 2355.9M1701.5 2333.5L1707 2356.3M1699.3 2334L1704.8 2356.9M1698.5 2334.2L1703.9 2357.1M1695.4 2334.9L1700.8 2357.8M1694.2 2335.2L1699.6 2358.1M1692.8 2335.5L1698.1 2358.4M1684.7 2337.4L1689.8 2360.3M1679.8 2338.4L1684.7 2361.4M1673.5 2339.8L1678.3 2362.8M1670.2 2340.4L1674.9 2363.5M1668.2 2340.8L1672.8 2363.9M1664.8 2341.5L1669.3 2364.6M1652.5 2343.8L1656.7 2367M1613.3 2350L1616.4 2373.3M1612.4 2350.1L1615.5 2373.4M1605.9 2350.9L1608.8 2374.3M1604.8 2351.1L1607.7 2374.4M1596.8 2352L1599.5 2375.4M1595.8 2352.1L1598.4 2375.5M1592.1 2352.5L1594.6 2375.9M1590.9 2352.7L1593.4 2376M1588.2 2353L1590.6 2376.3M1585.7 2353.2L1588.1 2376.6M1581.2 2353.6L1583.4 2377M1580.4 2353.7L1582.6 2377.1M1578.7 2353.9L1580.9 2377.3M1575.1 2354.2L1577.2 2377.6M1561.9 2355.3L1563.6 2378.7M1525 2357.1L1525.6 2380.6M1522.3 2357.2L1522.9 2380.7M1515.4 2357.4L1515.8 2380.9M1507.5 2357.5L1507.7 2381M1503.9 2357.5L1504 2381M1502.5 2357.5L1502.6 2381M1492.9 2357.5L1492.7 2381M1490.3 2357.4L1490 2380.9M1487.1 2357.4L1486.8 2380.9M1452.3 2356.2L1451 2379.6M1449.9 2356L1448.5 2379.5M1449.5 2356L1448.1 2379.5M1442.8 2355.6L1441.2 2379M1440.7 2355.4L1439 2378.9M1435.5 2355.1L1433.7 2378.5M1432.8 2354.9L1431 2378.3M1431.3 2354.7L1429.4 2378.2M1430.3 2354.7L1428.4 2378.1M1405.7 2352.3L1403.1 2375.7M1403.7 2352.1L1401 2375.4M1402.6 2352L1400 2375.3M1400.1 2351.7L1397.3 2375M1398.7 2351.5L1395.9 2374.8M1379.2 2348.9L1375.9 2372.2M1377.8 2348.7L1374.4 2372M1375.4 2348.4L1372 2371.7M1374.1 2348.2L1370.6 2371.4M1372.6 2348L1369.1 2371.2M1371.4 2347.8L1367.9 2371M1368.7 2347.4L1365.1 2370.6M1363.6 2346.6L1359.8 2369.8M1362.6 2346.4L1358.8 2369.6M1359.9 2346L1356.1 2369.2M1352 2344.6L1348 2367.8M1350.6 2344.4L1346.5 2367.5M1347.7 2343.9L1343.5 2367M1343.5 2343.1L1339.2 2366.2M1338.4 2342.1L1334 2365.2M1336.2 2341.7L1331.7 2364.8M1334.7 2341.4L1330.2 2364.5M1333.4 2341.2L1328.9 2364.2M1329.7 2340.4L1325.1 2363.5M1329.1 2340.3L1324.4 2363.3M1327.3 2339.9L1322.6 2363M1282.1 2329.4L1276.2 2352.1M1276.5 2327.9L1270.4 2350.6M1274.7 2327.4L1268.5 2350M1273.1 2326.9L1266.8 2349.6M1271.2 2326.4L1264.9 2349.1M1261.7 2323.7L1255.2 2346.3M1259.9 2323.2L1253.3 2345.7M1257.4 2322.5L1250.8 2345M1254.9 2321.7L1248.2 2344.2M1253.2 2321.2L1246.4 2343.7M1250.9 2320.5L1244.1 2343M1248.5 2319.8L1241.6 2342.3M1202 2304L1193.8 2326.1M1195.4 2301.6L1187 2323.5M1194.8 2301.3L1186.4 2323.3M1191.5 2300.1L1183 2322M1189.5 2299.3L1181 2321.2M1185.4 2297.7L1176.8 2319.6M1184.5 2297.3L1175.8 2319.2M1183.8 2297.1L1175.1 2318.9M1180.2 2295.6L1171.4 2317.4M1177.8 2294.7L1169 2316.4M1176.7 2294.2L1167.8 2316M1175.8 2293.9L1166.9 2315.6M1174.6 2293.3L1165.6 2315.1M1173.1 2292.8L1164.2 2314.5M1171.9 2292.3L1162.9 2314M1170.3 2291.6L1161.2 2313.3M1137.9 2277.3L1128 2298.6M1132 2274.5L1121.9 2295.7M1130.5 2273.8L1120.3 2295M1127.9 2272.6L1117.7 2293.7M1126.4 2271.8L1116.2 2293M1125.4 2271.3L1115.1 2292.5M1123.9 2270.6L1113.6 2291.8M1122.6 2270L1112.2 2291.1M1121.2 2269.3L1110.8 2290.4M1120.1 2268.7L1109.7 2289.8M1117.9 2267.7L1107.4 2288.7M1116.8 2267.1L1106.3 2288.1M1115.1 2266.2L1104.5 2287.2M1108 2262.7L1097.3 2283.6M1106.3 2261.8L1095.5 2282.7M1064.1 2238.5L1052.2 2258.7M1060.5 2236.3L1048.5 2256.5M1059.3 2235.6L1047.2 2255.7M1058.2 2234.9L1046.1 2255.1M1043.8 2226.1L1031.3 2246M1043.3 2225.8L1030.8 2245.7M1042.8 2225.5L1030.3 2245.3M1040.5 2224L1027.9 2243.8M1000.2 2196.8L986.5 2215.9M998.9 2195.8L985.1 2214.9M995.4 2193.3L981.6 2212.3M994 2192.3L980.1 2211.3M992.8 2191.4L978.9 2210.4M989 2188.6L975 2207.5M987.6 2187.6L973.6 2206.4M983.1 2184.2L969 2203M979.7 2181.6L965.5 2200.3M977.6 2180L963.2 2198.6M976.2 2178.9L961.8 2197.5M974.4 2177.5L960 2196.1M972.9 2176.3L958.4 2194.9M972.1 2175.8L957.6 2194.3M971.3 2175.1L956.8 2193.6M970.6 2174.6L956.1 2193.1M967.9 2172.4L953.3 2190.8M948 2156.2L932.9 2174.2M915 2127L899 2144.2M913.1 2125.2L897 2142.3M903.5 2116L887.2 2132.9M901.7 2114.2L885.3 2131.1M900.5 2113.1L884.1 2129.9M898.4 2111.1L881.9 2127.8M886.7 2099.3L869.8 2115.7M885.6 2098.2L868.8 2114.6M867.8 2079.3L850.4 2095.2M858.5 2069L840.9 2084.6M857.3 2067.6L839.6 2083.2M854.4 2064.3L836.7 2079.8M854 2064L836.3 2079.4M852.3 2061.9L834.5 2077.3M849.6 2058.8L831.8 2074.1M849 2058.1L831.1 2073.4M847.3 2056.1L829.4 2071.4M846.3 2054.9L828.3 2070.1M837.3 2044.2L819.1 2059.1M835.1 2041.4L816.8 2056.3M834.2 2040.4L816 2055.2M833.3 2039.3L815 2054.1M815.9 2017L797.2 2031.2M814.7 2015.4L795.9 2029.6M808.3 2006.7L789.3 2020.6M807.9 2006.3L789 2020.2M807 2005L788 2018.9M805.8 2003.3L786.7 2017.1M805.2 2002.5L786.1 2016.3M803.9 2000.8L784.9 2014.5M797.2 1991.3L777.9 2004.8M796.9 1990.9L777.6 2004.3M795.4 1988.7L776 2002M794.5 1987.4L775.2 2000.8M792 1983.8L772.6 1997M790.6 1981.8L771.2 1995M789.8 1980.5L770.3 1993.7M781.7 1968.4L762.1 1981.3M780.4 1966.3L760.7 1979.1M780.1 1965.8L760.3 1978.6M776.8 1960.7L757 1973.4M774.9 1957.8L755.1 1970.3M774.4 1957L754.6 1969.5M774.1 1956.4L754.2 1969M773 1954.7L753 1967.1M765.5 1942.5L745.4 1954.7M765.1 1941.8L744.9 1953.9M763.8 1939.7L743.6 1951.7M763.2 1938.7L743 1950.7M762.9 1938.1L742.7 1950.1M762 1936.7L741.8 1948.6M760.4 1933.9L740.1 1945.8M759.8 1932.9L739.5 1944.8M755.8 1926L735.4 1937.7M755.2 1925L734.8 1936.7M754.4 1923.5L734 1935.1M753.8 1922.5L733.4 1934.1M741.9 1900.8L721.1 1911.7M740.8 1898.7L720 1909.6M739 1895.3L718.2 1906.1M738.6 1894.5L717.8 1905.3M738.1 1893.5L717.2 1904.2M737.5 1892.3L716.6 1903.1M737 1891.4L716.1 1902.1M728.8 1874.9L707.7 1885.2M727.7 1872.7L706.6 1882.9M726.8 1870.8L705.6 1881M725.9 1868.8L704.6 1878.9M725.6 1868.2L704.3 1878.2M723.3 1863.4L702 1873.3M723 1862.7L701.7 1872.6M721.2 1858.8L699.8 1868.6M720.7 1857.8L699.3 1867.6M719.8 1855.9L698.4 1865.6M719.6 1855.4L698.2 1865.1M717.3 1850.2L695.8 1859.8M716.9 1849.3L695.4 1858.8M715.4 1845.9L693.9 1855.4M714.6 1844.3L693.1 1853.7M712.1 1838.5L690.5 1847.8M708.8 1830.6L687.1 1839.7M708.3 1829.4L686.6 1838.4M707.6 1827.8L685.9 1836.8M701.6 1812.8L679.7 1821.4M701.1 1811.6L679.2 1820.2M700.8 1810.8L678.9 1819.3M697 1800.9L675 1809.1M696.3 1798.9L674.2 1807.1M696 1798.1L673.9 1806.3M695.5 1796.8L673.4 1804.9M693.6 1791.5L671.5 1799.5M692.7 1789.1L670.6 1797.1M691.4 1785.5L669.3 1793.4M690.2 1781.9L668 1789.6M682 1757.4L659.6 1764.4M681.3 1755.1L658.9 1762.1M677.6 1742.8L655 1749.4M676.9 1740.3L654.3 1746.9M675.6 1735.8L653 1742.3M672.6 1725.3L649.9 1731.4M671.8 1722.2L649.1 1728.3M671.4 1720.7L648.7 1726.7M671 1719.4L648.3 1725.4M668.6 1709.9L645.8 1715.6M668 1707.4L645.2 1713.1M665.4 1696.9L642.5 1702.2M662.2 1682.8L639.2 1687.8M660.7 1675.8L637.7 1680.6M660 1672.2L636.9 1676.9M658.9 1666.9L635.9 1671.5M658.3 1664L635.3 1668.5M657.9 1662L634.9 1666.4M657.5 1659.7L634.4 1664.1M654.4 1642.6L631.3 1646.5M653.6 1637.5L630.4 1641.3M653.3 1635.9L630.1 1639.6M653.1 1634.4L629.9 1638.1M652.4 1629.7L629.1 1633.2M649.8 1611.4L626.5 1614.4M649.6 1610.1L626.3 1613.1M649.5 1609L626.1 1612M649.1 1606.3L625.8 1609.2M648.7 1603L625.4 1605.8M648.6 1601.8L625.2 1604.6M648 1597.2L624.7 1599.9M647.9 1595.8L624.5 1598.4M647.7 1594.6L624.4 1597.2M647.3 1590.9L624 1593.4M647.2 1590.1L623.9 1592.6M647.2 1589.4L623.8 1591.8M647.1 1588.5L623.7 1591M646.8 1585.6L623.4 1587.9M646.7 1585L623.3 1587.3M646.6 1583.5L623.2 1585.8M646.6 1583.2L623.2 1585.5M646.3 1580.7L622.9 1582.9M646.1 1578.5L622.7 1580.6M645.8 1575.2L622.4 1577.3M645.5 1571.5L622.1 1573.4M645.4 1570.5L622 1572.4M645.3 1568.8L621.8 1570.7M644.1 1552.3L620.6 1553.8M644 1550L620.5 1551.4M643.9 1548.3L620.4 1549.7M643.8 1546.8L620.3 1548M643.6 1544L620.2 1545.2M643.5 1541.6L620 1542.7M643.2 1535.1L619.7 1536M643 1469.5L619.6 1468.7M643.2 1465.6L619.7 1464.7M644.8 1437L621.4 1435.3M644.9 1435.4L621.5 1433.7M645 1434.5L621.6 1432.7M645.1 1432.8L621.7 1430.9M645.4 1430L621.9 1428.1M645.5 1428.7L622.1 1426.7M645.5 1428L622.1 1426M647.1 1410.9L623.8 1408.4M647.3 1409L624 1406.5M647.5 1407.3L624.2 1404.8M647.7 1405.3L624.4 1402.7M647.9 1404.2L624.5 1401.6M648.2 1401.2L624.9 1398.5M650.9 1380.5L627.6 1377.2M652 1372.9L628.7 1369.4M655.4 1351.8L632.3 1347.8M655.9 1349.1L632.7 1345M656 1348.3L632.9 1344.2M656.8 1344.2L633.7 1339.9M657.3 1341.5L634.2 1337.2M657.5 1340.4L634.4 1336M658.5 1335L635.5 1330.5M659.1 1332L636.1 1327.4M659.5 1330.3L636.4 1325.6M660.6 1324.7L637.6 1319.9M661.3 1321.5L638.3 1316.6M662 1318.1L639 1313.1M664.5 1307L641.6 1301.7M677.6 1257.1L655.1 1250.4M685.8 1231L663.5 1223.7M693.2 1209.4L671.1 1201.5M693.7 1208L671.6 1200M694.7 1205.3L672.7 1197.3M695 1204.7L672.9 1196.6M695.6 1202.8L673.6 1194.7M705.6 1177.1L683.9 1168.2M706.2 1175.6L684.5 1166.7M709 1169L687.3 1159.9M709.6 1167.5L687.9 1158.3M710.9 1164.4L689.3 1155.2M712 1161.9L690.4 1152.6M712.4 1160.9L690.8 1151.6M712.7 1160.2L691.1 1150.9M713.3 1158.8L691.7 1149.5M714.6 1155.8L693.1 1146.4M715.8 1153.1L694.3 1143.6M720.7 1142.3L699.3 1132.5M722.6 1138.1L701.3 1128.2M724.5 1134L703.3 1124M725.2 1132.5L704 1122.5M726.5 1129.8L705.4 1119.6M727.2 1128.4L706 1118.2M727.8 1127.1L706.7 1116.9M737.7 1107.3L716.8 1096.6M757.7 1070.7L737.4 1058.9M758.4 1069.5L738 1057.7M770.2 1049.8L750.2 1037.5M771.6 1047.6L751.6 1035.2M772.4 1046.2L752.5 1033.7M773.1 1045L753.2 1032.6M774.4 1043L754.6 1030.4M795.2 1011.6L775.8 998.2M796.3 1009.9L777 996.5M796.6 1009.6L777.3 996.1M798.3 1007.1L779.1 993.6M800.4 1004.1L781.3 990.5M801.5 1002.6L782.4 989M802.8 1000.8L783.7 987.1M803.7 999.5L784.6 985.8M805.2 997.4L786.2 983.6M806.1 996.1L787.1 982.3M806.7 995.4L787.7 981.6M807.4 994.4L788.4 980.6M808 993.6L789.1 979.7M809 992.2L790.1 978.3M810.4 990.3L791.5 976.4M810.8 989.8L791.9 975.8M811.2 989.3L792.3 975.3M812 988.1L793.2 974.1M813.4 986.3L794.6 972.3M814 985.5L795.2 971.4M814.7 984.5L795.9 970.4M816.7 981.9L798 967.7M817.6 980.7L798.9 966.5M819.1 978.8L800.4 964.5M835.5 958.1L817.3 943.2M837.6 955.5L819.4 940.6M839.4 953.3L821.3 938.3M840.5 952L822.4 937M846.6 944.6L828.7 929.4M847.4 943.7L829.5 928.5M860.6 928.6L843.1 912.9M863.4 925.5L845.9 909.8M864.3 924.5L846.8 908.8M869.3 919L852 903.1M872.4 915.6L855.2 899.6M874.3 913.6L857.2 897.5M875.7 912.2L858.6 896M877.1 910.7L860 894.5M877.6 910.1L860.6 893.9M882.8 904.7L865.9 888.4M885.3 902.2L868.4 885.8M887.1 900.3L870.3 883.9M889 898.4L872.2 881.9M891 896.4L874.3 879.8M892.2 895.1L875.6 878.5M911.3 876.5L895.1 859.5M913.5 874.5L897.4 857.3M914.3 873.7L898.2 856.6M922.4 866.2L906.6 848.8M924 864.7L908.2 847.3M925.4 863.5L909.7 846M925.8 863.1L910.1 845.6M928.2 861L912.5 843.5M929.6 859.8L913.9 842.2M943.3 847.8L928 829.9M945.4 846L930.2 828M946.2 845.3L931 827.4M946.8 844.8L931.7 826.8M949.4 842.6L934.3 824.6M950.8 841.4L935.8 823.4M951.8 840.6L936.8 822.5M953.7 839L938.8 820.9M955.3 837.7L940.4 819.5M956.7 836.6L941.8 818.4M957.7 835.8L942.8 817.6M958.6 835L943.8 816.8M961.6 832.6L946.9 814.3M967.6 827.8L953 809.4M969.2 826.5L954.6 808.1M970.1 825.9L955.5 807.4M970.9 825.2L956.4 806.7M972.9 823.7L958.4 805.1M975.2 821.8L960.9 803.2M976.3 821L961.9 802.4M1017.3 791.3L1004 771.9M1020.5 789.1L1007.4 769.6M1021.3 788.5L1008.2 769M1025 786.1L1012 766.5M1025.9 785.5L1012.9 765.9M1027.1 784.7L1014.1 765.1M1028 784.1L1015 764.5M1037.4 778L1024.7 758.2M1037.7 777.8L1025 758M1040.1 776.3L1027.5 756.4M1043.6 774L1031.1 754.1M1045 773.2L1032.6 753.2M1047.8 771.4L1035.4 751.5M1049.2 770.5L1036.9 750.6M1053.4 768L1041.2 747.9M1054.7 767.2L1042.5 747.1M1056.3 766.2L1044.2 746.1M1063.9 761.7L1051.9 741.5M1065 761L1053.1 740.8M1078.2 753.4L1066.6 733M1079.7 752.6L1068.2 732.1M1080.7 752L1069.2 731.5M1081.7 751.4L1070.3 730.9M1086 749.1L1074.7 728.5M1095.1 744.1L1084 723.4M1098.2 742.5L1087.2 721.7M1098.9 742.1L1087.9 721.3M1107.1 737.8L1096.3 716.9M1109 736.9L1098.2 715.9M1111.1 735.8L1100.4 714.8M1113 734.8L1102.4 713.8M1114.4 734.1L1103.9 713.1M1115 733.8L1104.4 712.8M1117.4 732.6L1106.9 711.6M1135.9 723.6L1125.9 702.4M1137.4 722.9L1127.5 701.6M1138.3 722.5L1128.3 701.2M1140.1 721.7L1130.2 700.3M1141.4 721.1L1131.6 699.7M1148.1 718L1138.4 696.6M1179.5 704.7L1170.7 682.9M1181.9 703.7L1173.2 681.8M1182.6 703.4L1173.9 681.6M1185 702.4L1176.4 680.6M1187 701.7L1178.4 679.8M1188.4 701.1L1179.9 679.2M1189.9 700.5L1181.4 678.6M1191.3 700L1182.9 678.1M1192.8 699.4L1184.4 677.5M1193.5 699.2L1185.1 677.2M1198.6 697.2L1190.4 675.2M1200.2 696.6L1192 674.6M1220 689.5L1212.3 667.3M1221.2 689.1L1213.6 666.9M1225.4 687.7L1217.9 665.4M1232.6 685.3L1225.2 662.9M1238.8 683.3L1231.6 660.9M1239.8 682.9L1232.7 660.5M1248.5 680.2L1241.6 657.7M1249.9 679.8L1243.1 657.3M1250.9 679.5L1244.1 657M1256.8 677.7L1250.1 655.2M1260.7 676.6L1254.1 654M1262.5 676L1256 653.5M1264.3 675.5L1257.9 652.9M1265 675.3L1258.5 652.7M1267.8 674.5L1261.4 651.9M1269.5 674.1L1263.2 651.4M1272 673.4L1265.8 650.7M1272.8 673.1L1266.6 650.5M1288.9 668.9L1283.1 646.1M1291.6 668.2L1285.9 645.4M1293.2 667.8L1287.6 645M1300.4 666L1295 643.2M1302.2 665.6L1296.8 642.8M1304.6 665.1L1299.2 642.2M1305.5 664.8L1300.2 642M1307.8 664.3L1302.5 641.4M1312.5 663.2L1307.4 640.3M1358.3 654.3L1354.4 631.1M1381 650.8L1377.7 627.5M1382 650.7L1378.7 627.4M1383.6 650.4L1380.4 627.2M1384.2 650.4L1381 627.1M1389.2 649.7L1386.2 626.4M1391.8 649.3L1388.9 626M1394.9 649L1392 625.6M1395.8 648.9L1392.9 625.5M1398.7 648.5L1395.9 625.2M1400.3 648.3L1397.5 625M1400.9 648.2L1398.2 624.9M1402.4 648.1L1399.7 624.7M1404.8 647.8L1402.2 624.4M1406.7 647.6L1404.2 624.2M1413.9 646.8L1411.5 623.5M1415 646.7L1412.7 623.3M1418.5 646.4L1416.2 623M1435.6 644.9L1433.8 621.5M1437.7 644.8L1436 621.3M1438.2 644.7L1436.5 621.3M1445.5 644.2L1444 620.8M1448.2 644.1L1446.8 620.6M1451.7 643.9L1450.4 620.4M1454 643.7L1452.7 620.3M1454.8 643.7L1453.6 620.2M1463.1 643.3L1462.1 619.8M1465.6 643.2L1464.7 619.7M1466.6 643.1L1465.7 619.7M1467.5 643.1L1466.6 619.6M1468.7 643.1L1467.8 619.6M1470.2 643L1469.4 619.5M1472.2 642.9L1471.5 619.5M1473.4 642.9L1472.6 619.4M1474.3 642.9L1473.6 619.4M1476.8 642.8L1476.2 619.3M1478.4 642.8L1477.8 619.3M1481.9 642.7L1481.4 619.2M1485.2 642.6L1484.8 619.1M1486.8 642.6L1486.4 619.1M1490.8 642.5L1490.6 619.1M1492.2 642.5L1492 619M1494 642.5L1493.8 619M1498.5 642.5L1498.4 619" fill="none" stroke="#fff" stroke-width="0.55" stroke-opacity="0.8"/><path d="M1502.4 666L1502.4 642.5M1515.5 666.1L1515.9 642.6M1516.7 666.2L1517.2 642.7M1518.9 666.2L1519.4 642.7M1520.3 666.2L1520.8 642.8M1523 666.3L1523.7 642.8M1525 666.4L1525.7 642.9M1529.3 666.5L1530.1 643M1531.1 666.6L1532 643.1M1534 666.7L1534.9 643.2M1535.5 666.8L1536.5 643.3M1581.1 670L1583.4 646.6M1585.2 670.4L1587.6 647M1590.1 670.9L1592.7 647.5M1592.5 671.1L1595.1 647.8M1595.2 671.4L1597.8 648.1M1596.7 671.6L1599.4 648.3M1603.1 672.4L1606 649.1M1609.7 673.2L1612.8 649.9M1614 673.8L1617.2 650.6M1618.7 674.5L1622.1 651.2M1621.6 674.9L1625 651.7M1622.7 675.1L1626.2 651.8M1624.1 675.3L1627.6 652M1625.7 675.5L1629.3 652.3M1629.2 676.1L1632.9 652.9M1667.7 683L1672.5 660M1686.6 687.1L1691.9 664.2M1688.3 687.5L1693.6 664.6M1689.7 687.9L1695 665M1690.8 688.1L1696.1 665.2M1693 688.6L1698.4 665.8M1698.4 689.9L1704 667.1M1699.3 690.2L1704.9 667.3M1742.2 701.9L1749 679.4M1743.2 702.2L1750 679.8M1745.5 703L1752.5 680.5M1749.4 704.2L1756.4 681.7M1750.8 704.6L1757.8 682.2M1752.1 705L1759.2 682.6M1753.4 705.4L1760.5 683M1754.8 705.9L1762 683.5M1758.8 707.2L1766.1 684.8M1760.9 707.9L1768.3 685.6M1780 714.4L1787.9 692.3M1786.8 716.9L1794.9 694.8M1788.9 717.7L1797.1 695.6M1791.1 718.5L1799.4 696.4M1793.4 719.3L1801.6 697.3M1797 720.7L1805.4 698.7M1798.5 721.2L1806.9 699.3M1800.2 721.9L1808.6 700M1812.2 726.7L1821 704.9M1818 729L1827 707.3M1819.9 729.8L1828.9 708.1M1831.9 734.9L1841.3 713.3M1833.1 735.4L1842.5 713.9M1834.3 735.9L1843.7 714.4M1839.1 738L1848.6 716.6M1870.6 752.9L1881.1 731.8M1873.2 754.2L1883.7 733.2M1875.5 755.3L1886.1 734.3M1876.8 756L1887.4 735M1888.2 761.9L1899.1 741.1M1889.9 762.7L1900.9 742M1900.8 768.6L1912.1 748M1902.6 769.6L1913.9 749M1908.7 773L1920.2 752.5M1911.5 774.6L1923.1 754.1M1912.9 775.4L1924.6 755M1914.2 776.1L1925.9 755.7M1916.1 777.2L1927.9 756.9M1917.8 778.2L1929.5 757.8M1919.5 779.2L1931.3 758.8M1921.4 780.3L1933.2 760M1924.3 782L1936.2 761.8M1968.3 809.9L1981.4 790.4M1972.3 812.6L1985.6 793.2M1980.8 818.6L1994.4 799.4M1981.4 819L1994.9 799.8M1982.9 820.1L1996.5 800.9M1987.6 823.4L2001.4 804.4M1988.9 824.4L2002.7 805.3M1989.9 825L2003.7 806M1991.2 826L2005.1 807M1992.9 827.2L2006.8 808.3M1993.7 827.8L2007.6 808.9M1994.8 828.6L2008.7 809.7M1995.6 829.3L2009.6 810.4M1996.3 829.7L2010.3 810.9M1998.5 831.4L2012.5 812.5M1999.4 832.1L2013.5 813.2M2003.1 834.8L2017.3 816.1M2010.4 840.4L2024.8 821.8M2011.7 841.4L2026.1 822.9M2012.7 842.2L2027.1 823.6M2015.1 844.1L2029.6 825.6M2016.2 844.9L2030.7 826.5M2017.3 845.8L2031.9 827.4M2031.1 856.9L2046 838.8M2033.2 858.7L2048.2 840.7M2040 864.4L2055.2 846.5M2044.9 868.6L2060.2 850.8M2046.9 870.4L2062.3 852.6M2048.5 871.7L2063.9 854M2051.2 874.1L2066.7 856.5M2055.1 877.6L2070.8 860.1M2057.4 879.6L2073.1 862.1M2061 882.9L2076.8 865.5M2062.2 884L2078 866.6M2062.8 884.5L2078.7 867.2M2067 888.4L2083 871.2M2068.2 889.5L2084.2 872.3M2069.4 890.6L2085.5 873.5M2092.9 913.5L2109.6 897M2094.5 915.1L2111.3 898.6M2095.8 916.4L2112.5 899.9M2096.7 917.4L2113.5 900.9M2097.2 917.9L2114 901.5M2098.3 918.9L2115.1 902.5M2102.3 923.1L2119.2 906.8M2112.6 934.1L2129.9 918.1M2115.3 937L2132.6 921.1M2141.8 967.4L2159.9 952.4M2143 968.8L2161.1 953.9M2144.3 970.4L2162.4 955.5M2148.2 975.3L2166.5 960.5M2149 976.2L2167.3 961.4M2153.7 982.1L2172.1 967.5M2154.7 983.4L2173.2 968.8M2158.4 988.1L2177 973.7M2159.1 989L2177.7 974.6M2160.6 990.9L2179.2 976.5M2161.8 992.5L2180.5 978.2M2163.5 994.7L2182.2 980.5M2165.1 996.9L2183.9 982.7M2175.9 1011.4L2195 997.7M2177 1012.9L2196.1 999.2M2178 1014.4L2197.1 1000.7M2179.6 1016.5L2198.7 1002.9M2180.2 1017.4L2199.4 1003.8M2181 1018.5L2200.1 1004.9M2195.2 1039.3L2214.8 1026.3M2196.3 1040.9L2215.9 1028M2197.8 1043.3L2217.5 1030.4M2198.9 1044.9L2218.6 1032.1M2199.1 1045.3L2218.8 1032.5M2200.1 1046.8L2219.8 1034M2201 1048.2L2220.8 1035.5M2201.4 1048.7L2221.1 1036M2202.5 1050.5L2222.3 1037.8M2203.2 1051.7L2223.1 1039M2204.6 1053.8L2224.4 1041.2M2205.7 1055.5L2225.6 1043M2206.8 1057.3L2226.7 1044.8M2208.4 1059.8L2228.4 1047.4M2220 1079L2240.3 1067.2M2225.1 1087.9L2245.5 1076.3M2250.5 1136.2L2271.6 1125.9M2252.4 1140.2L2273.6 1130M2254.1 1143.7L2275.3 1133.7M2261.6 1160.2L2283.1 1150.6M2262.2 1161.4L2283.6 1151.8M2263.4 1164.2L2284.9 1154.7M2263.6 1164.7L2285.2 1155.3M2266.4 1171.2L2288 1161.9M2267.1 1172.8L2288.7 1163.5M2288 1227L2310.2 1219.3M2297 1254.4L2319.5 1247.4M2297.7 1256.7L2320.2 1249.9M2298.8 1260.3L2321.3 1253.5M2299.2 1261.7L2321.7 1255M2299.5 1262.7L2322.1 1256M2299.9 1264L2322.4 1257.3M2309.7 1300L2332.5 1294.4M2310 1301.2L2332.8 1295.6M2310.4 1303.1L2333.3 1297.6M2311 1305.5L2333.9 1300M2311.2 1306.4L2334.1 1300.9M2311.6 1307.9L2334.4 1302.5M2312 1309.8L2334.9 1304.4M2312.2 1310.7L2335.1 1305.3M2312.8 1313.1L2335.7 1307.8M2313.4 1315.9L2336.3 1310.7M2314.5 1320.8L2337.5 1315.8M2315 1323.1L2338 1318.1M2315.3 1324.4L2338.3 1319.5M2315.6 1326L2338.6 1321.1M2319.5 1345.1L2342.6 1340.8M2319.9 1347.1L2343 1342.7M2320.1 1348.2L2343.2 1343.9M2320.5 1350.8L2343.7 1346.6M2320.9 1352.9L2344.1 1348.8M2321.1 1353.8L2344.2 1349.7M2321.3 1354.9L2344.4 1350.9M2321.5 1356.1L2344.6 1352.1M2321.7 1357.5L2344.9 1353.5M2323.3 1367L2346.5 1363.3M2323.8 1369.8L2347 1366.1M2324.2 1372.7L2347.5 1369.1M2324.4 1374.1L2347.7 1370.5M2324.6 1374.9L2347.8 1371.4M2327.3 1394.6L2350.6 1391.6M2327.6 1397.1L2351 1394.2M2327.8 1398.5L2351.1 1395.6M2328.1 1401L2351.4 1398.2M2328.5 1404L2351.8 1401.3M2329.5 1413.1L2352.8 1410.6M2329.6 1414.1L2352.9 1411.7M2329.9 1417.4L2353.3 1415.1M2333 1458.6L2356.4 1457.4M2333.2 1463.7L2356.7 1462.7M2333.3 1464.7L2356.7 1463.7M2333.4 1468L2356.9 1467.1M2333.5 1469.8L2356.9 1469M2333.5 1470.9L2357 1470.1M2333.5 1471.5L2357 1470.7M2333.5 1472.5L2357 1471.7M2333.6 1473.7L2357.1 1472.9M2333.7 1478.3L2357.2 1477.7M2333.7 1479.2L2357.2 1478.6M2333.8 1480.4L2357.3 1479.8M2333.8 1482.7L2357.3 1482.2M2333.9 1487.6L2357.4 1487.3M2333.9 1488.7L2357.4 1488.4M2334 1491.2L2357.5 1490.9M2334 1501.7L2357.5 1501.8M2333.9 1512.5L2357.4 1512.8M2333.8 1516L2357.3 1516.5M2333.2 1536.2L2356.7 1537.2M2330.6 1575.2L2354 1577.3M2330.1 1580.4L2353.5 1582.7M2330 1581.6L2353.4 1583.9M2329.3 1588.1L2352.7 1590.5M2329.2 1589.8L2352.5 1592.3M2329 1591.1L2352.4 1593.6M2326.8 1609.6L2350.1 1612.6M2325.6 1618.1L2348.9 1621.5M2322.3 1639.1L2345.5 1643.1M2318.8 1658.3L2341.9 1662.7M2318.2 1661.5L2341.3 1666.1M2317.5 1665.1L2340.5 1669.7M2317.2 1666.8L2340.2 1671.5M2316.6 1669.4L2339.6 1674.2M2316.1 1671.7L2339.1 1676.6M2315.9 1672.7L2338.9 1677.6M2315.5 1674.9L2338.4 1679.8M2315.1 1676.5L2338.1 1681.5M2314.7 1678.5L2337.6 1683.5M2314.5 1679.2L2337.5 1684.2M2308.8 1703.5L2331.6 1709.2M2304.3 1720.6L2327 1726.8M2304.1 1721.4L2326.7 1727.6M2303.4 1723.8L2326.1 1730.1M2302.6 1726.7L2325.2 1733.1M2302 1728.9L2324.6 1735.3M2301.8 1729.4L2324.4 1735.9M2289.9 1767.6L2312.2 1775.2M2289 1770.2L2311.2 1777.8M2288.8 1770.8L2311 1778.4M2287.8 1773.7L2310 1781.4M2284.5 1783L2306.6 1790.9M2283.9 1784.6L2306 1792.7M2283.1 1787L2305.1 1795.1M2273.9 1810.8L2295.7 1819.6M2272.9 1813.4L2294.6 1822.3M2272.6 1814.1L2294.3 1823M2271.9 1815.8L2293.7 1824.7M2271.2 1817.4L2293 1826.3M2269.2 1822.3L2290.9 1831.4M2268 1825.2L2289.6 1834.4M2267.4 1826.5L2289 1835.7M2266.9 1827.7L2288.5 1836.9M2265.7 1830.5L2287.3 1839.8M2265.4 1831.3L2286.9 1840.6M2264.2 1834L2285.7 1843.5M2251.4 1861.9L2272.6 1872.1M2249 1866.8L2270.1 1877.1M2248.2 1868.5L2269.3 1878.9M2240.9 1882.9L2261.8 1893.7M2240.4 1883.9L2261.3 1894.7M2236.6 1891.2L2257.3 1902.2M2236.2 1891.9L2256.9 1903M2220.8 1919.6L2241.1 1931.4M2209.2 1938.9L2229.1 1951.3M2207.9 1940.9L2227.9 1953.3M2207.4 1941.7L2227.4 1954.2M2206.6 1943L2226.6 1955.4M2205.9 1944.1L2225.8 1956.6M2204.9 1945.8L2224.7 1958.3M2204 1947.1L2223.8 1959.7M2199.3 1954.5L2219 1967.3M2198.5 1955.7L2218.2 1968.5M2192.8 1964.4L2212.3 1977.5M2191.8 1965.8L2211.3 1978.9M2190.8 1967.3L2210.3 1980.5M2189.9 1968.6L2209.3 1981.8M2188.9 1970.1L2208.3 1983.3M2187.7 1971.8L2207.1 1985.1M2186.9 1973L2206.3 1986.3M2183.7 1977.7L2202.9 1991.1M2181.1 1981.3L2200.3 1994.8M2180.3 1982.4L2199.5 1996M2179.6 1983.4L2198.8 1997M2176.2 1988.1L2195.3 2001.9M2175.5 1989.1L2194.6 2002.9M2174.3 1990.7L2193.3 2004.6M2172 1994L2190.9 2007.9M2170.5 1996L2189.4 2010M2168.5 1998.7L2187.3 2012.7M2167.5 2000L2186.3 2014.1M2166.1 2001.9L2184.9 2016M2165.5 2002.6L2184.3 2016.8M2164.4 2004.1L2183.1 2018.3M2161.8 2007.5L2180.5 2021.8M2160.6 2009L2179.3 2023.4M2156.4 2014.5L2174.9 2029M2155.2 2016L2173.7 2030.5M2154.5 2016.9L2172.9 2031.5M2133.8 2042.1L2151.7 2057.3M2133 2043L2150.8 2058.3M2132.2 2044L2150 2059.3M2130.7 2045.7L2148.5 2061M2094.6 2084.8L2111.3 2101.3M2092.7 2086.8L2109.4 2103.3M2087.1 2092.3L2103.6 2109M2085.4 2094.1L2101.8 2110.8M2084.4 2095L2100.8 2111.8M2082.8 2096.6L2099.2 2113.4M2054.9 2122.6L2070.5 2140.2M2053.6 2123.8L2069.2 2141.3M2051.5 2125.7L2067 2143.3M2050.2 2126.8L2065.7 2144.4M2049.6 2127.3L2065.1 2145M2048 2128.7L2063.5 2146.4M2046.7 2129.8L2062.1 2147.6M2045.3 2131.1L2060.6 2148.9M2044.4 2131.8L2059.7 2149.6M2042.7 2133.3L2057.9 2151.2M2018.1 2153.5L2032.7 2172M2016.2 2155L2030.8 2173.5M2014.4 2156.5L2028.9 2175M1993.7 2172.2L2007.6 2191.1M1992.3 2173.2L2006.2 2192.1M1963.3 2193.4L1976.4 2213M1961.3 2194.8L1974.3 2214.4M1958.2 2196.9L1971.1 2216.5M1956.1 2198.2L1968.9 2217.9M1954.7 2199.1L1967.6 2218.8M1952.8 2200.4L1965.6 2220.1M1951.9 2201L1964.6 2220.7M1950.6 2201.8L1963.3 2221.5M1930.3 2214.4L1942.5 2234.5M1928.8 2215.4L1940.8 2235.5M1927.8 2215.9L1939.8 2236.1M1890.9 2236.7L1901.9 2257.5M1888.5 2238L1899.4 2258.8M1874.6 2245.1L1885.2 2266.1M1873.4 2245.8L1883.9 2266.8M1872 2246.4L1882.5 2267.5M1869.6 2247.6L1880.1 2268.7M1866.2 2249.3L1876.6 2270.4M1865.7 2249.6L1876 2270.7M1864.9 2249.9L1875.2 2271.1M1862.3 2251.2L1872.5 2272.4M1858.7 2252.9L1868.8 2274.1M1855.5 2254.4L1865.5 2275.7M1853.6 2255.3L1863.6 2276.6M1850.6 2256.7L1860.5 2278M1849.7 2257.1L1859.6 2278.5M1848 2257.9L1857.8 2279.3M1820.1 2270.1L1829.1 2291.8M1819.1 2270.6L1828.1 2292.3M1818.4 2270.8L1827.4 2292.5M1808.4 2274.9L1817.1 2296.7M1806.5 2275.6L1815.1 2297.5M1789.6 2282.1L1797.7 2304.1M1788.2 2282.6L1796.3 2304.7M1780.3 2285.5L1788.2 2307.6M1779.4 2285.8L1787.3 2307.9M1777.9 2286.3L1785.7 2308.5M1776.6 2286.8L1784.4 2309M1770.7 2288.9L1778.3 2311.1M1769.8 2289.2L1777.4 2311.4M1768.1 2289.7L1775.7 2312M1749.7 2295.8L1756.7 2318.2M1748.2 2296.2L1755.2 2318.6M1746.6 2296.7L1753.6 2319.2M1744.4 2297.4L1751.3 2319.9M1741.9 2298.1L1748.7 2320.6M1740.7 2298.5L1747.5 2321M1738.4 2299.2L1745.1 2321.7M1719.3 2304.7L1725.5 2327.3M1717.7 2305.1L1723.8 2327.8M1713.9 2306.1L1719.9 2328.8M1712.2 2306.5L1718.2 2329.3M1710.7 2306.9L1716.7 2329.7M1708.1 2307.6L1713.9 2330.4M1705.9 2308.2L1711.7 2331M1683.2 2313.6L1688.3 2336.6M1682.5 2313.8L1687.6 2336.7M1656.4 2319.2L1660.8 2342.3M1654.5 2319.6L1658.8 2342.7M1651.5 2320.1L1655.8 2343.2M1645.3 2321.2L1649.4 2344.4M1642.4 2321.8L1646.4 2344.9M1639.7 2322.2L1643.6 2345.4M1637.1 2322.7L1641 2345.8M1634.4 2323.1L1638.2 2346.3M1631.4 2323.6L1635.1 2346.8M1630.6 2323.7L1634.3 2346.9M1626.6 2324.3L1630.1 2347.6M1625.3 2324.5L1628.8 2347.8M1623.5 2324.8L1627 2348M1620.1 2325.3L1623.5 2348.6M1614.6 2326.1L1617.8 2349.4M1598.2 2328.2L1600.9 2351.5M1596.3 2328.4L1599.1 2351.8M1556.9 2332.1L1558.5 2355.5M1553.5 2332.3L1555 2355.7M1552.4 2332.4L1553.9 2355.8M1547.4 2332.7L1548.7 2356.1M1544.6 2332.8L1545.9 2356.3M1539.8 2333.1L1540.9 2356.5M1535.7 2333.2L1536.7 2356.7M1534.1 2333.3L1535.1 2356.8M1530.9 2333.4L1531.7 2356.9M1529.7 2333.5L1530.5 2357M1529 2333.5L1529.8 2357M1498.9 2334L1498.8 2357.5M1497.8 2334L1497.7 2357.5M1484.9 2333.9L1484.5 2357.4M1483.4 2333.8L1482.9 2357.3M1476.9 2333.7L1476.2 2357.2M1476.2 2333.7L1475.5 2357.2M1474.9 2333.6L1474.1 2357.1M1472.7 2333.6L1472 2357M1469.5 2333.4L1468.6 2356.9M1468.2 2333.4L1467.4 2356.9M1466.1 2333.3L1465.2 2356.8M1461.5 2333.1L1460.5 2356.6M1447.7 2332.4L1446.2 2355.8M1426.6 2330.8L1424.5 2354.2M1425.8 2330.7L1423.7 2354.1M1424.9 2330.6L1422.7 2354M1422.5 2330.4L1420.3 2353.8M1421.7 2330.3L1419.5 2353.7M1421.1 2330.3L1418.8 2353.7M1419.6 2330.1L1417.3 2353.5M1417.1 2329.9L1414.8 2353.3M1396.3 2327.5L1393.3 2350.8M1395.6 2327.4L1392.6 2350.7M1394.1 2327.3L1391.1 2350.6M1389.7 2326.7L1386.6 2350M1388.1 2326.5L1384.9 2349.7M1325.9 2315.6L1321 2338.6M1324.6 2315.3L1319.7 2338.3M1318 2313.9L1312.9 2336.8M1316 2313.4L1310.8 2336.4M1314.1 2313L1308.9 2335.9M1313.3 2312.8L1308 2335.7M1310.1 2312.1L1304.8 2335M1307.9 2311.6L1302.5 2334.4M1306.6 2311.3L1301.2 2334.1M1305.2 2310.9L1299.7 2333.8M1304 2310.6L1298.5 2333.5M1302.2 2310.2L1296.7 2333M1301.1 2309.9L1295.4 2332.7M1299.9 2309.6L1294.2 2332.4M1298 2309.2L1292.3 2332M1296.3 2308.7L1290.5 2331.5M1294.9 2308.4L1289.1 2331.2M1293.8 2308.1L1287.9 2330.9M1292.7 2307.8L1286.8 2330.6M1275.3 2303.2L1269 2325.8M1272.5 2302.4L1266.1 2325M1250.6 2295.8L1243.6 2318.3M1249.6 2295.5L1242.6 2317.9M1247.3 2294.8L1240.1 2317.2M1245.9 2294.4L1238.8 2316.7M1242 2293.1L1234.7 2315.4M1230.7 2289.3L1223.1 2311.6M1227.2 2288.1L1219.5 2310.3M1226.1 2287.8L1218.4 2309.9M1220.8 2285.9L1212.9 2308M1219.9 2285.6L1212 2307.7M1217 2284.5L1209 2306.6M1213.8 2283.4L1205.7 2305.4M1212.4 2282.8L1204.3 2304.9M1206.8 2280.8L1198.6 2302.8M1174.9 2268L1165.7 2289.7M1167.6 2264.9L1158.2 2286.4M1166 2264.2L1156.6 2285.7M1164.4 2263.5L1154.9 2285M1163.2 2263L1153.7 2284.4M1160.5 2261.8L1150.9 2283.2M1154.5 2259.1L1144.7 2280.4M1153.3 2258.5L1143.5 2279.9M1150 2257L1140.1 2278.3M1123 2244L1112.4 2264.9M1121.3 2243.1L1110.6 2264M1113.6 2239.1L1102.7 2259.9M1112.4 2238.4L1101.4 2259.3M1111.2 2237.9L1100.3 2258.6M1109.5 2236.9L1098.5 2257.7M1106.4 2235.3L1095.3 2256M1103.9 2233.9L1092.8 2254.6M1101.6 2232.7L1090.4 2253.3M1100.8 2232.2L1089.5 2252.9M1097.7 2230.6L1086.4 2251.1M1096.4 2229.8L1085 2250.4M1090.4 2226.5L1078.9 2247M1089.5 2226L1077.9 2246.4M1088.2 2225.2L1076.6 2245.7M1085.5 2223.7L1073.8 2244.1M1084 2222.8L1072.3 2243.2M1080.2 2220.6L1068.4 2241M1079.4 2220.2L1067.6 2240.5M1078 2219.3L1066.1 2239.6M1069.2 2214.1L1057.1 2234.3M1066.9 2212.7L1054.7 2232.8M1064 2211L1051.7 2231M1063.2 2210.4L1050.9 2230.5M1061.7 2209.6L1049.4 2229.6M1049.1 2201.6L1036.4 2221.4M1048 2200.9L1035.3 2220.6M1044.6 2198.7L1031.7 2218.3M1042.6 2197.4L1029.7 2217.1M1040.5 2196L1027.6 2215.6M1035.1 2192.4L1022 2211.9M1032.8 2190.9L1019.7 2210.3M1031.1 2189.7L1017.9 2209.2M1028 2187.6L1014.7 2207M1023.4 2184.4L1010 2203.7M1021.2 2182.9L1007.7 2202.1M978.7 2151L964 2169.3M978.1 2150.5L963.4 2168.8M975.2 2148.1L960.4 2166.4M972.3 2145.9L957.5 2164.1M971.3 2145L956.4 2163.2M970.3 2144.2L955.4 2162.4M955.4 2131.7L940.1 2149.5M954.4 2130.7L939 2148.5M953.3 2129.8L937.9 2147.6M951.2 2128L935.7 2145.7M950.5 2127.4L935 2145.1M949.7 2126.7L934.2 2144.3M947.8 2125L932.2 2142.6M946 2123.4L930.4 2141M944.9 2122.4L929.3 2140M944 2121.6L928.3 2139.1M943.1 2120.8L927.4 2138.3M939.9 2117.9L924.1 2135.3M939.3 2117.4L923.5 2134.8M938.2 2116.4L922.4 2133.8M937.5 2115.8L921.7 2133.1M936.6 2114.9L920.7 2132.3M934.7 2113.2L918.8 2130.5M934.4 2112.9L918.4 2130.1M926.8 2105.8L910.6 2122.8M924.9 2104L908.7 2121M924.4 2103.5L908.2 2120.5M912.1 2091.6L895.5 2108.2M910.1 2089.5L893.4 2106.1M908.5 2087.9L891.8 2104.5M898.9 2078.1L881.9 2094.4M898.2 2077.4L881.2 2093.6M894.6 2073.6L877.5 2089.8M893.4 2072.4L876.3 2088.5M891.9 2070.8L874.8 2086.9M879.2 2056.9L861.7 2072.6M859.5 2034.1L841.4 2049.2M858.1 2032.5L840 2047.5M848.3 2020.4L829.9 2035.1M846.3 2017.9L827.9 2032.5M846.1 2017.6L827.6 2032.2M844.4 2015.5L826 2030.1M841.1 2011.3L822.5 2025.7M840.5 2010.5L821.9 2024.9M839.8 2009.6L821.2 2023.9M839.4 2009L820.8 2023.4M837.5 2006.6L818.8 2020.9M830.1 1996.8L811.3 2010.8M829 1995.3L810.1 2009.2M828.3 1994.4L809.4 2008.3M819.5 1982.2L800.4 1995.8M818.9 1981.3L799.7 1994.9M804 1959.5L784.4 1972.5M771.6 1906.1L751 1917.6M771.1 1905.2L750.5 1916.6M770 1903.4L749.5 1914.7M767.9 1899.4L747.2 1910.7M766.8 1897.4L746.1 1908.6M766 1895.9L745.3 1907.1M764.7 1893.6L744 1904.7M751.9 1868.7L730.8 1879.1M735.1 1832.3L713.5 1841.7M728.4 1816.5L706.6 1825.4M727.7 1814.9L706 1823.8M724.7 1807.3L702.8 1816M721.8 1799.9L699.9 1808.3M720.3 1796L698.3 1804.3M710.2 1767.9L687.9 1775.4M709.9 1767.1L687.7 1774.6M709.7 1766.6L687.5 1774.1M709.1 1764.6L686.8 1772.1M708.4 1762.5L686.1 1769.9M707.7 1760.5L685.4 1767.9M707 1758.3L684.7 1765.6M697.6 1727.5L675 1733.9M696.9 1724.8L674.2 1731.1M696.2 1722.4L673.6 1728.7M690 1698.5L667.1 1704.1M689.7 1697.3L666.9 1702.9M689.3 1695.7L666.4 1701.2M686.7 1684.8L663.8 1690M686.5 1684L663.6 1689.1M684.6 1675.1L661.6 1680M678.4 1643.1L655.2 1647.2M674.8 1620.6L651.5 1624M674.6 1619.5L651.3 1622.8M674.4 1618L651.1 1621.3M674.2 1616.4L650.9 1619.7M673.9 1614.4L650.6 1617.6M673.5 1611.9L650.2 1615M668.3 1561.6L644.8 1563.4M668 1557.9L644.6 1559.6M667.8 1555.2L644.4 1556.8M666.5 1529.2L643 1530M666.5 1527.6L643 1528.4M666.3 1521.7L642.8 1522.3M666.2 1520L642.7 1520.5M666.2 1517.7L642.7 1518.2M666.1 1515.1L642.6 1515.5M666.1 1513.7L642.6 1514.1M666.1 1511.2L642.6 1511.5M666.1 1510.7L642.6 1511M666.1 1509.3L642.6 1509.5M666 1507.8L642.5 1508M666 1502.4L642.5 1502.4M666 1497.1L642.5 1497.1M666 1495.4L642.5 1495.3M666 1493L642.5 1492.8M666 1492.2L642.5 1492M666.1 1489L642.6 1488.7M666.1 1486.7L642.6 1486.4M666.1 1485.5L642.6 1485.1M666.1 1484.4L642.7 1484M666.2 1483.5L642.7 1483.1M666.3 1479.2L642.8 1478.7M666.3 1478.6L642.8 1478M666.3 1476.5L642.8 1475.9M666.3 1476.1L642.9 1475.4M666.4 1475.1L642.9 1474.4M667.2 1455L643.7 1453.7M667.3 1453.8L643.8 1452.5M667.6 1448.9L644.1 1447.4M667.7 1447.1L644.2 1445.6M667.7 1446.1L644.3 1444.6M667.8 1445.2L644.4 1443.7M669.5 1424.1L646.1 1422M669.8 1420L646.4 1417.8M672 1400L648.7 1397.2M672.3 1397.8L649 1394.9M672.4 1397.1L649 1394.2M672.5 1396.1L649.2 1393.2M672.7 1394.1L649.4 1391.2M672.9 1393.2L649.6 1390.2M673.2 1390.6L649.9 1387.5M673.6 1387.9L650.3 1384.8M674.8 1378.9L651.6 1375.5M677.1 1364.1L654 1360.3M678.1 1358.5L654.9 1354.5M685.9 1319L662.9 1313.9M686 1318.3L663.1 1313.2M686.7 1315.4L663.8 1310.2M688.7 1306.6L665.9 1301.1M688.9 1305.9L666.1 1300.4M689.1 1305.1L666.2 1299.6M690.5 1299.5L667.7 1293.8M691.6 1295L668.8 1289.2M692.4 1291.8L669.7 1285.9M692.6 1290.9L669.9 1285M693.2 1288.8L670.5 1282.8M693.9 1285.9L671.2 1279.9M694.3 1284.6L671.6 1278.5M694.8 1282.8L672.1 1276.7M694.9 1282.4L672.2 1276.3M695.9 1278.6L673.3 1272.4M696.4 1276.9L673.7 1270.6M696.8 1275.6L674.1 1269.3M697 1274.7L674.4 1268.3M697.5 1272.8L674.9 1266.4M698.3 1270.3L675.7 1263.8M699.1 1267.3L676.6 1260.7M700.9 1261.4L678.3 1254.7M701.3 1259.9L678.8 1253.1M702.1 1257.2L679.7 1250.3M703.1 1254L680.6 1247.1M703.5 1252.6L681.1 1245.6M703.9 1251.6L681.4 1244.6M704.6 1249.2L682.2 1242.1M706.5 1243.4L684.1 1236.2M709.3 1234.8L687 1227.3M710.2 1232L688 1224.5M710.6 1230.9L688.4 1223.3M712.3 1226L690.1 1218.2M712.9 1224.3L690.7 1216.5M713.4 1223L691.2 1215.2M713.6 1222.1L691.5 1214.3M713.9 1221.4L691.8 1213.6M718.6 1208.6L696.6 1200.3M719.4 1206.5L697.4 1198.2M720.3 1204.1L698.3 1195.8M721.7 1200.3L699.8 1191.9M722.2 1199L700.3 1190.5M723.5 1195.6L701.7 1187M724.4 1193.5L702.5 1184.9M724.8 1192.3L703 1183.6M725.8 1189.9L704 1181.1M726.4 1188.5L704.6 1179.7M740.8 1154.8L719.4 1145.1M750.8 1133.6L729.7 1123.3M751.9 1131.4L730.8 1121M752.3 1130.5L731.2 1120.1M753.5 1128L732.5 1117.6M755.7 1123.7L734.8 1113M756.6 1121.9L735.7 1111.2M763.8 1108.1L743.1 1097M765.6 1104.7L744.9 1093.6M766.6 1102.9L745.9 1091.8M767.2 1101.7L746.6 1090.5M768.2 1099.9L747.6 1088.6M772.5 1092.2L752 1080.7M772.8 1091.6L752.3 1080.1M773.9 1089.7L753.5 1078.1M779.6 1079.8L759.3 1067.9M780 1079.2L759.7 1067.3M780.8 1077.7L760.6 1065.8M781.3 1076.9L761 1065M782.9 1074.2L762.7 1062.2M786.5 1068.1L766.4 1055.9M787.6 1066.4L767.5 1054.2M795.7 1053.3L775.8 1040.8M796 1052.8L776.2 1040.2M796.6 1051.9L776.8 1039.2M797.1 1051.1L777.3 1038.4M798 1049.8L778.2 1037.1M798.6 1048.8L778.8 1036.1M799.9 1046.8L780.1 1034M800.5 1045.9L780.8 1033.1M801.9 1043.7L782.2 1030.8M802.4 1042.9L782.7 1030.1M804.5 1039.7L784.9 1026.7M805.9 1037.6L786.3 1024.6M807.2 1035.8L787.6 1022.7M810.1 1031.4L790.7 1018.2M839.3 991L820.7 976.6M840.2 989.9L821.6 975.5M841.4 988.3L822.9 973.9M842.2 987.2L823.7 972.8M843.4 985.8L824.9 971.3M844.4 984.5L825.9 970M845.9 982.6L827.4 968M846.4 981.9L828 967.3M847.9 980L829.6 965.4M849.2 978.4L830.9 963.7M860.5 964.6L842.5 949.6M861.6 963.3L843.7 948.2M862 962.8L844.1 947.7M862.5 962.3L844.5 947.1M867.2 956.8L849.3 941.5M868.3 955.5L850.5 940.1M874 948.9L856.4 933.4M911 909.5L894.4 892.9M911.9 908.7L895.3 892M913.6 907L897.1 890.3M915.3 905.3L898.8 888.5M919.1 901.5L902.8 884.7M920.6 900.1L904.2 883.2M921.9 898.9L905.6 882M922.7 898.1L906.4 881.2M924.3 896.6L908.1 879.6M924.8 896.1L908.6 879.1M949.5 873.5L933.9 855.9M952.3 871.1L936.9 853.3M954.1 869.5L938.7 851.7M955.6 868.2L940.2 850.4M956.8 867.2L941.5 849.3M994.8 836.5L980.5 817.8M997.3 834.5L983.2 815.8M999.5 832.8L985.4 814M1000.7 832L986.6 813.2M1002.6 830.6L988.6 811.7M1003.4 830L989.4 811.1M1004.5 829.2L990.5 810.3M1005.6 828.3L991.7 809.4M1007 827.3L993.1 808.4M1008.5 826.2L994.6 807.2M1013.4 822.7L999.6 803.6M1014.2 822.1L1000.5 803M1022.5 816.2L1009.1 797M1025.6 814.1L1012.2 794.8M1026.7 813.3L1013.4 793.9M1043 802.4L1030.1 782.7M1045 801L1032.2 781.3M1082.4 778.1L1070.7 757.7M1084.7 776.8L1073 756.4M1085.4 776.3L1073.7 756M1101.1 767.6L1089.8 747M1103.4 766.4L1092.2 745.7M1112.2 761.7L1101.2 740.9M1113.3 761L1102.4 740.2M1132 751.6L1121.6 730.5M1137.2 749.1L1127 727.9M1138.5 748.4L1128.3 727.3M1139.1 748.1L1129 726.9M1141 747.2L1130.9 726M1154 741.1L1144.3 719.8M1160.7 738.2L1151.1 716.7M1176.3 731.4L1167.2 709.7M1177.2 731L1168.1 709.3M1178.2 730.6L1169.2 708.9M1179.5 730L1170.5 708.3M1180.1 729.8L1171.1 708.1M1182 729L1173 707.3M1215.8 715.9L1207.8 693.8M1217 715.5L1209 693.4M1220 714.4L1212.1 692.3M1221.5 713.9L1213.7 691.7M1223.9 713L1216.1 690.9M1224.7 712.7L1216.9 690.6M1283.6 694.6L1277.5 671.9M1286.6 693.8L1280.5 671.1M1288.9 693.2L1283 670.4M1290.8 692.7L1284.9 669.9M1321.2 685.4L1316.1 662.4M1322.8 685.1L1317.8 662.1M1323.9 684.8L1318.9 661.8M1326.7 684.2L1321.8 661.2M1329.7 683.6L1325 660.6M1333.8 682.7L1329.1 659.7M1335.3 682.4L1330.6 659.4M1336.6 682.2L1332 659.1M1340.2 681.5L1335.7 658.4M1342.2 681.1L1337.7 658M1343.3 680.9L1338.9 657.8M1345.6 680.4L1341.2 657.3M1348 680L1343.7 656.9M1349.9 679.6L1345.7 656.5M1350.6 679.5L1346.4 656.4M1351.1 679.4L1346.9 656.3M1352.5 679.2L1348.3 656M1353.3 679L1349.1 655.9M1355.2 678.7L1351.1 655.5M1356.7 678.4L1352.6 655.3M1357.5 678.3L1353.5 655.1M1364.1 677.1L1360.3 654M1365.3 676.9L1361.5 653.8M1365.7 676.9L1361.9 653.7M1370.9 676.1L1367.2 652.8M1372.6 675.8L1369 652.6M1377.9 675L1374.4 651.7M1379.6 674.7L1376.2 651.5M1380.4 674.6L1377 651.4M1425.5 669.3L1423.4 645.9M1428.4 669.1L1426.4 645.7M1429.4 669L1427.4 645.6M1461 666.9L1459.9 643.4" fill="none" stroke="#fff" stroke-width="0.55" stroke-opacity="0.8"/><path d="M1500 819.9L1501.6 820.1 1503.1 845 1504.6 845 1506.4 823.9 1507.9 825.7 1509.4 832.6 1510.9 837.9 1512.5 835.3 1514 840 1516.1 818.6 1517 845.2 1518.5 845.3 1520.2 839.8 1522.2 826.5 1523.3 842.7 1524.7 844.7 1526.2 845.5 1527.8 845.6 1529.3 845.7 1530.9 845.7 1532.4 845.8 1534 845.9 1536.7 823.4 1537.1 845.7 1539.3 834.7 1541.8 819.5 1541.7 845.4 1543.2 846.4 1545.1 841.4 1546.3 846.6 1548.4 838.8 1549.8 841.6 1550.9 847 1552.5 846.4 1555.5 828.6 1555.5 847.4 1557.1 847.5 1559 842.7 1560.1 847.7 1561.7 847.9 1565 830.1 1565 845.3 1566.9 842.5 1567.8 848.5 1569.4 848.7 1570.9 848.8 1573.6 838.8 1574.5 844.1 1577.2 835.1 1577 849.5 1578.6 849.7 1581.2 841.2 1582.3 844.7 1583.2 850.3 1584.7 850.5 1586.2 850.7 1587.8 850.9 1589.3 851.1 1591.3 847.7 1595.3 830.7 1596.6 833.1 1595.4 852 1596.9 852.2 1598.5 852.4 1600 852.7 1601.5 852.9 1603 853.2 1604.6 853.4 1606.1 853.6 1607.6 853.9 1611.2 842 1610.7 854.4 1614 844 1614.8 848.8 1615.2 855.2 1616.7 855.5 1618.3 855.8 1619.8 856 1621.6 854.7 1623.1 855.3 1627.1 842.6 1625.8 857.2 1627.4 857.5 1628.9 857.8 1630.4 858.1 1631.9 858.4 1633.4 858.6 1634.9 859 1638.2 851.1 1642.5 838.7 1644.4 837.2 1644.6 843.7 1647 840.4 1646.4 850.4 1651 837.3 1651.5 842.1 1654.2 837.4 1650.5 860.2 1651.5 862.8 1653 863.1 1655.7 858.4 1658.5 853.7 1659 858.3 1661.9 852.8 1660.5 865 1662 865.3 1666.9 852.6 1666.9 858.6 1666.5 866.5 1673.6 845.6 1674 850.4 1671 867.7 1672.8 866.7 1673.9 868.5 1675.9 867.1 1676.9 869.3 1678.4 869.8 1679.9 870.2 1681.4 870.6 1682.9 871 1684.3 871.5 1685.8 871.9 1689.8 863.9 1693.4 857.3 1692.5 865.7 1691.7 873.7 1693.2 874.1 1694.7 874.6 1700.7 860.7 1700.8 865.4 1703.5 862.3 1700.6 876.5 1702 876.9 1712.7 849.3 1715.6 845.6 1711 864.6 1710 872.8 1714 865.7 1710.8 879.9 1712.3 880.4 1713.8 880.9 1717.6 874.4 1719.2 874.5 1718.1 882.4 1719.6 882.9 1721 883.4 1722.5 883.9 1729.1 870.2 1727.8 878.5 1732.2 871.1 1728.3 886.1 1729.7 886.6 1731.2 887.2 1733.7 884.9 1736.9 880.9 1735.5 888.8 1740.5 880.3 1743.4 877 1742.3 884.2 1743.2 886.1 1744.4 887.5 1744.1 892.2 1747.5 887.9 1747 893.4 1751 887.6 1756 879.7 1755.5 884.9 1755.3 889.6 1756.5 890.7 1755.6 896.9 1757 897.5 1758.4 898.1 1760.3 897.7 1766.8 886.6 1763.1 898.9 1764.1 900.6 1770.6 889.6 1770.6 893.6 1771.5 895.3 1774.5 892.4 1776.6 891.7 1774.3 900.5 1774 904.8 1784.3 886.4 1780 899.3 1778.1 907 1782.9 900.5 1787.2 895.1 1782.3 909 1790.2 896 1789.8 900.5 1798.2 886.9 1794.9 897.2 1792.9 905 1799.7 894.6 1801 895.7 1795.5 910.1 1797.3 910.1 1797.2 913.7 1802.2 907.3 1798.9 917.2 1800.3 917.9 1801.7 918.6 1803.7 918 1804.4 920 1805.8 920.7 1809.3 917.3 1809 921.3 1809.8 922.9 1811.2 923.7 1812.6 924.4 1813.9 925.1 1818.3 920.4 1824.2 912.9 1825.1 914.6 1823.7 920.2 1829.7 912.7 1829.2 916.9 1831.6 915.8 1830.3 921.4 1828.3 927.9 1827.4 932.7 1828.7 933.5 1830.1 934.2 1831.4 935 1832.7 935.8 1834.1 936.6 1835.4 937.4 1836.7 938.2 1838 939 1839.4 939.8 1842 938.3 1843.8 938.4 1848.7 933.4 1847.5 938.3 1850.7 936.1 1855.9 930.8 1853.3 937.9 1851.8 943.3 1851.2 947.1 1854.4 944.9 1856.1 945.1 1855.1 949.6 1856.4 950.4 1857.7 951.3 1858.9 952.1 1860.2 953 1867.1 945.4 1872.9 939.5 1864.1 955.5 1869.3 950.6 1868.4 954.7 1869.6 955.7 1869.2 959 1870.5 959.9 1871.8 960.7 1884.9 944.5 1889.6 940.5 1880.3 956.6 1878.5 961.8 1891.2 946.6 1882.1 962.1 1880.9 966.5 1883.7 965.3 1883.1 968.7 1884.4 969.6 1885.6 970.5 1888.6 969.1 1902.1 953.3 1902.8 955.1 1896.5 966.3 1894.5 971.6 1894.1 974.7 1900.3 969 1895.5 977.9 1896.8 978.8 1898 979.8 1899.2 980.7 1900.6 981.5 1901.7 982.5 1902.9 983.6 1904.1 984.5 1905.8 984.9 1906.5 986.4 1907.7 987.4 1908.9 988.3 1916.7 981.1 1920.4 979 1915.7 987.4 1913.8 992.2 1917.8 989.7 1919.7 989.8 1925.4 985.4 1918.5 996.2 1919.7 997.1 1920.9 998.1 1922.1 999.1 1923.3 1000.1 1924.4 1001.1 1925.6 1002.1 1926.8 1003.1 1939.5 990.8 1937.6 995.4 1930.3 1006.2 1931.4 1007.2 1932.6 1008.2 1933.8 1009.2 1934.9 1010.2 1936.1 1011.3 1937.2 1012.3 1942.8 1008.4 1939.5 1014.4 1940.7 1015.4 1955 1002 1951.4 1008.3 1949.2 1013 1961 1002.6 1958.1 1008 1947.5 1021.7 1950 1021.2 1949.7 1023.8 1950.8 1024.9 1966.3 1010.8 1965.5 1014 1954.2 1028.1 1955.3 1029.1 1956.4 1030.2 1963.5 1025.2 1960.3 1030.6 1960.4 1032.8 1970.4 1024.9 1964.4 1033.1 1963.5 1036.2 1970.8 1031.2 1966.7 1037.4 1966.3 1040 1971 1037.6 1976.4 1034.4 1977.6 1035.4 1976.8 1038.5 1971.7 1045.5 1985.8 1034.2 1979.3 1042.5 1987.7 1036.7 1975.9 1050 1977 1051.1 1978.4 1051.9 1987.6 1045.4 1980.2 1054.5 1981.2 1055.6 1982.3 1056.8 1983.3 1057.9 1984.3 1059 1985.4 1060.2 1986.4 1061.3 1987.4 1062.5 1988.5 1063.6 2003.5 1052.3 1997 1060.2 2010.8 1050.2 2003.2 1058.9 1998.5 1065.2 1994.6 1070.6 1995.6 1071.7 1997.7 1072 1997.6 1074.1 2002.2 1072.2 1999.6 1076.4 2000.6 1077.6 2001.6 1078.8 2003.8 1079 2011.8 1074.4 2009.7 1078.2 2009 1080.7 2006.6 1084.8 2011.2 1083 2018.7 1078.8 2009.5 1088.3 2016 1085.1 2018.8 1084.9 2013.2 1091.3 2016.2 1090.9 2014.3 1094.4 2016.9 1094.3 2035.5 1081.8 2021.9 1094.3 2034.3 1086.7 2028.3 1093.4 2020 1101.7 2022.2 1101.9 2033.3 1095.5 2030.8 1099.3 2023.7 1106.6 2024.6 1107.9 2025.6 1109.1 2026.5 1110.3 2027.4 1111.6 2033.4 1109.1 2044.7 1102.8 2039 1108.9 2039.5 1110.5 2031.9 1117.8 2032.8 1119.1 2033.7 1120.3 2034.6 1121.6 2035.5 1122.9 2036.4 1124.1 2037.3 1125.4 2046.3 1121 2039.1 1127.9 2039.9 1129.2 2040.8 1130.5 2054 1123.4 2052.7 1126.1 2048 1131.2 2045 1135.1 2045.1 1136.9 2046.6 1137.8 2046.8 1139.4 2047.7 1140.7 2048.5 1142 2049.4 1143.3 2050.2 1144.6 2051 1145.9 2051.9 1147.2 2055.8 1146.6 2062.6 1144.1 2066.7 1143.4 2055.2 1152.4 2056 1153.7 2056.8 1155.1 2057.6 1156.4 2058.4 1157.7 2059.2 1159 2060 1160.3 2060.8 1161.6 2061.6 1163 2062.4 1164.3 2063.2 1165.6 2075.7 1160 2080.6 1159 2067.3 1168.6 2066.3 1170.9 2079.1 1165.4 2067.9 1173.6 2068.7 1175 2069.4 1176.3 2070.2 1177.6 2070.9 1179 2071.7 1180.3 2075.9 1179.8 2073.2 1183 2073.9 1184.4 2074.7 1185.7 2075.4 1187.1 2076.2 1188.5 2076.9 1189.8 2077.6 1191.2 2078.4 1192.5 2079.1 1193.9 2079.8 1195.3 2080.5 1196.6 2081.2 1198 2081.9 1199.4 2082.6 1200.7 2083.3 1202.1 2084 1203.5 2084.7 1204.9 2085.4 1206.3 2086.1 1207.6 2086.8 1209 2087.5 1210.4 2091.6 1210.1 2088.9 1213.2 2089.5 1214.6 2090.2 1216 2090.9 1217.3 2091.5 1218.7 2092.2 1220.1 2092.9 1221.5 2093.5 1222.9 2094.2 1224.3 2094.8 1225.7 2095.5 1227.1 2096.1 1228.5 2104.5 1226.4 2097.4 1231.4 2098 1232.8 2099.7 1233.7 2099.3 1235.6 2099.9 1237 2102 1237.8 2101.1 1239.8 2101.7 1241.3 2112.7 1238.2 2117.3 1238 2103.5 1245.5 2104.1 1246.9 2112.9 1245 2105.3 1249.8 2105.9 1251.2 2106.5 1252.6 2107.1 1254.1 2107.7 1255.5 2109.5 1256.4 2111.8 1257.2 2109.4 1259.8 2115.5 1259.1 2120.3 1258.9 2124.2 1259.1 2119.8 1262.4 2112.2 1267 2119.6 1265.8 2122.9 1266.3 2122.9 1268 2114.3 1272.8 2122.8 1271.3 2118.6 1274.5 2115.9 1277.1 2125 1275.5 2117 1280.1 2117.5 1281.5 2118.6 1282.8 2118.5 1284.4 2120.9 1285.2 2119.5 1287.3 2124.1 1287.4 2129.2 1287.3 2124.4 1290.6 2131.9 1289.7 2130.5 1291.8 2122.5 1296.1 2131.1 1295 2131.8 1296.4 2129 1298.9 2139.4 1297.2 2145.4 1297 2133.4 1302.4 2125.7 1306.4 2127.4 1307.5 2126.6 1309.4 2127.1 1310.9 2129.9 1311.6 2129.1 1313.5 2144.8 1310.5 2135.3 1314.9 2131.9 1317.5 2139.5 1316.9 2142.6 1317.7 2145.7 1318.5 2140 1321.7 2132.9 1325.3 2131.8 1327.2 2132.2 1328.7 2132.6 1330.2 2139.8 1329.8 2136.5 1332.3 2155.4 1329 2153.8 1331.1 2134.6 1337.6 2141.8 1337.4 2163.7 1333.5 2135.7 1342.1 2138.1 1343.1 2136.4 1345.1 2136.8 1346.6 2137.1 1348.1 2138.6 1349.4 2144 1349.7 2138.2 1352.6 2140.6 1353.7 2138.9 1355.6 2144 1356.1 2142.5 1358 2139.9 1360.2 2140.2 1361.7 2140.6 1363.2 2140.9 1364.7 2147.5 1364.9 2141.5 1367.7 2145.3 1368.5 2149.5 1369.3 2142.4 1372.3 2154.8 1371.4 2152.1 1373.5 2143.3 1376.8 2147.4 1377.6 2143.9 1379.8 2144.2 1381.4 2144.4 1382.9 2152.3 1383 2145 1385.9 2145.3 1387.4 2145.5 1389 2145.8 1390.5 2146 1392 2146.3 1393.5 2146.5 1395.1 2146.8 1396.6 2155.7 1396.7 2147.3 1399.6 2147.5 1401.2 2147.7 1402.7 2148 1404.2 2148.2 1405.7 2153.2 1406.6 2148.6 1408.8 2148.8 1410.3 2149 1411.9 2149.2 1413.4 2158 1413.8 2149.6 1416.5 2152.5 1417.7 2150.3 1419.5 2150.2 1421 2157.6 1421.7 2157.8 1423.3 2178 1422.5 2173.7 1424.6 2152.3 1428.6 2151.3 1430.3 2151.4 1431.8 2151.6 1433.3 2156.7 1434.4 2151.9 1436.4 2152.1 1437.9 2152.2 1439.5 2161.4 1440.2 2164.1 1441.5 2154.6 1443.9 2152.7 1445.6 2158.4 1446.7 2170.5 1447.3 2153.1 1450.2 2153.2 1451.8 2156.3 1453.1 2159.1 1454.5 2170 1455.3 2174.9 1456.6 2153.7 1459.5 2153.8 1461 2153.9 1462.6 2155.4 1464 2164.5 1465.1 2154.2 1467.2 2162.6 1468.3 2154.3 1470.3 2154.4 1471.8 2154.5 1473.4 2154.5 1474.9 2154.6 1476.5 2154.6 1478 2165.1 1479.2 2163.1 1480.8 2165 1482.4 2154.8 1484.2 2154.8 1485.7 2154.9 1487.3 2154.9 1488.8 2165.6 1490.2 2171 1491.7 2174 1493.2 2175.9 1494.8 2166.8 1496.5 2156.5 1498.1 2155 1499.6 2159.7 1501.2 2155 1502.7 2155 1504.2 2160.2 1505.8 2160.9 1507.4 2163.2 1509 2154.9 1510.4 2166.8 1512.2 2154.9 1513.5 2154.8 1515.1 2154.8 1516.6 2154.7 1518.1 2154.7 1519.7 2163.5 1521.5 2154.6 1522.8 2157.8 1524.4 2154.5 1525.9 2154.4 1527.4 2154.4 1528.9 2154.6 1530.5 2165.2 1532.6 2162.5 1534 2154.1 1535.1 2154 1536.7 2153.9 1538.2 2167.5 1540.6 2153.7 1541.3 2153.6 1542.8 2158.8 1544.7 2153.4 1545.9 2160.2 1547.9 2165.6 1549.9 2160.3 1551.1 2160.9 1552.7 2152.8 1553.6 2152.7 1555.1 2152.5 1556.7 2152.4 1558.2 2152.8 1559.8 2155.5 1561.6 2152 1562.8 2151.8 1564.4 2151.7 1565.9 2152.2 1567.5 2164.4 1570.4 2175.3 1573.1 2158.2 1572.8 2155.5 1574.1 2150.7 1575.1 2159.1 1577.7 2156.8 1579 2155.9 1580.4 2157.9 1582.2 2149.7 1582.8 2154.3 1584.9 2159.3 1587.2 2163.1 1589.3 2148.9 1588.9 2149 1590.5 2170.6 1595.1 2148.3 1593.5 2148.1 1595 2171.4 1600.1 2178.3 1602.7 2147.4 1599.6 2147.1 1601.1 2146.9 1602.7 2146.7 1604.2 2146.4 1605.7 2146.2 1607.2 2145.9 1608.8 2147.8 1610.6 2150.8 1612.7 2145.1 1613.3 2144.9 1614.8 2150.4 1617.4 2147.5 1618.5 2144 1619.4 2143.7 1620.9 2143.5 1622.4 2143.2 1623.9 2142.9 1625.5 2142.6 1627 2142.3 1628.5 2142 1630 2141.7 1631.5 2141.3 1633 2141 1634.5 2147.5 1637.5 2151 1639.8 2143.8 1639.9 2139.7 1640.6 2139.4 1642.1 2139.1 1643.6 2138.7 1645.1 2138.4 1646.6 2138 1648.1 2137.7 1649.6 2137.3 1651.1 2137 1652.6 2136.6 1654.1 2136.2 1655.6 2143.4 1659 2153.2 1663 2142.4 1662 2142.1 1663.5 2134.4 1663.1 2134 1664.6 2133.6 1666.1 2133.2 1667.6 2132.8 1669.1 2132.4 1670.6 2132 1672.1 2131.6 1673.6 2131.2 1675.1 2131.6 1676.8 2130.3 1678 2129.9 1679.5 2156.5 1688.8 2143.2 1686.6 2128.6 1684 2128.2 1685.4 2127.8 1686.9 2131.3 1689.6 2131.6 1691.3 2133.8 1693.6 2137 1696.2 2130.6 1695.9 2130.2 1697.4 2124.6 1697.3 2144.9 1705.4 2124.9 1700.6 2123.2 1701.7 2137.8 1708.1 2126.6 1706 2121.7 1706.1 2121.3 1707.5 2124 1710.1 2120.3 1710.5 2119.8 1711.9 2119.3 1713.4 2118.8 1714.8 2118.3 1716.3 2117.7 1717.8 2117.2 1719.2 2119 1721.5 2122.1 1724.3 2127.6 1727.9 2115.6 1725.2 2114.6 1726.5 2114.1 1727.9 2113.5 1729.4 2114.5 1731.4 2136.6 1741.4 2142.1 1745.3 2129.9 1742.3 2110.8 1736.6 2110.2 1738 2109.7 1739.5 2109.1 1740.9 2120.9 1747.3 2111.3 1745.1 2107.4 1745.2 2108.6 1747.4 2116.6 1752.3 2105.6 1749.5 2105.2 1751 2104.4 1752.4 2103.8 1753.8 2103.2 1755.2 2104.8 1757.5 2106.8 1760.1 2114.9 1765.3 2108.8 1764.3 2100.2 1762.3 2099.6 1763.7 2098.9 1765.1 2098.3 1766.5 2097.7 1767.9 2097.1 1769.3 2107.2 1775.7 2106.5 1777 2095.1 1773.6 2094.5 1775 2093.8 1776.4 2097.8 1779.9 2094.5 1780.1 2091.9 1780.6 2091.2 1782 2090.5 1783.3 2093.3 1786.4 2099 1790.9 2088.5 1787.5 2091.5 1790.7 2087.2 1790.3 2088.1 1792.5 2110.1 1805.2 2103.8 1803.9 2095.3 1801.3 2086.9 1798.8 2083 1798.6 2082.3 1799.9 2081.6 1801.3 2080.9 1802.7 2080.2 1804.1 2079.4 1805.4 2078.7 1806.8 2078 1808.1 2077.3 1809.5 2076.5 1810.9 2075.8 1812.2 2075.1 1813.6 2074.3 1814.9 2073.6 1816.3 2072.8 1817.6 2072.1 1819 2076.4 1823.2 2075.9 1824.7 2069.8 1823 2069 1824.4 2068.3 1825.7 2067.5 1827.1 2066.7 1828.4 2066 1829.7 2076.8 1837.9 2076.7 1839.7 2066.2 1835.2 2065.1 1836.4 2076.3 1844.9 2087.5 1853.5 2072.4 1846.3 2066.1 1844.3 2075.6 1851.9 2077.1 1854.7 2063.9 1848.4 2076.4 1858 2064.9 1852.7 2068.4 1856.8 2056.7 1851.3 2057 1853.3 2052.3 1852.1 2057.9 1857.5 2063.1 1862.8 2049.8 1856 2048.9 1857.3 2056.5 1864.1 2053.1 1863.7 2065.7 1874 2046.3 1863 2068 1879.4 2049.7 1869 2058.3 1876.7 2064.1 1882.5 2051.3 1875.7 2040.4 1870.2 2039.5 1871.4 2044.6 1876.9 2049.6 1882.2 2053.5 1886.9 2055.2 1890.1 2053.1 1890.5 2035.4 1879.9 2041.8 1886.4 2032.4 1881.6 2032.5 1883.5 2030.6 1884.1 2029.7 1885.3 2028.8 1886.6 2027.9 1887.8 2037.3 1896.7 2026 1890.3 2025.1 1891.5 2024.7 1893.2 2023.2 1894 2022.3 1895.2 2021.4 1896.5 2020.4 1897.7 2019.5 1898.9 2018.6 1900.1 2017.6 1901.4 2016.7 1902.6 2015.7 1903.8 2025.2 1913.2 2013.8 1906.2 2019.1 1912.4 2013.5 1909.9 2010.9 1909.9 2010 1911.1 2009 1912.3 2008 1913.5 2014 1920.4 2021 1928.1 2010.1 1921.1 2008.2 1921.7 2015.9 1930 2006.9 1924.6 2011.2 1930.3 2007.1 1928.8 1999.1 1924.1 2003.3 1929.7 1997.1 1926.5 1996.1 1927.7 1995.1 1928.8 1994.1 1930 1993.1 1931.2 2017.1 1954.3 2007.5 1948 2006 1948.8 1989 1935.8 2004.7 1951.9 2012.2 1960.8 2004.9 1956.4 1986.5 1941.8 1995.1 1951.8 1982.8 1942.7 1993.3 1954.5 1981.9 1946.1 1982.1 1948.4 1979.4 1947.9 1984.5 1954.9 1976.5 1949.4 1975.4 1950.6 1974.3 1951.7 1973.3 1952.8 1972.2 1953.9 1973.1 1956.9 1975.2 1961.1 1979.3 1967.3 1974.9 1965.2 1973.5 1966 1970.1 1964.9 1967.2 1964.2 1963.6 1962.7 1962.5 1963.8 1967.8 1971.4 1968.1 1973.9 1960.1 1968 1973.2 1983.6 1957.1 1969.4 1966 1980.8 1962.9 1979.9 1958 1977 1967.1 1988.8 1951.4 1974.6 1950.3 1975.7 1949.2 1976.7 1948 1977.8 1946.9 1978.8 1945.8 1979.9 1944.6 1980.9 1943.5 1982 1949.9 1991.2 1953.4 1997.5 1956.4 2003.1 1941.3 1988.8 1946.3 1996.6 1942.6 1994.9 1935.5 1989.2 1934.3 1990.3 1945.1 2004.9 1940 2001.4 1934 1997 1935.5 2001.1 1939.7 2008.2 1927.4 1996.4 1926.2 1997.4 1925 1998.4 1923.8 1999.4 1922.7 2000.4 1921.5 2001.4 1922.2 2004.7 1933.4 2020.5 1936.2 2026.4 1927.7 2018.6 1920.3 2012.1 1914.4 2007.3 1913.2 2008.3 1917.1 2015.5 1915.4 2016 1909.5 2011.2 1910.6 2014.9 1922.1 2031.9 1918.6 2030.1 1910.5 2022.4 1910.6 2025.1 1915.2 2033.6 1909.3 2028.5 1903.4 2023.4 1898.6 2019.7 1897.4 2020.7 1896.2 2021.6 1894.9 2022.6 1894.6 2024.7 1897 2030.5 1891.2 2025.3 1895.8 2034.1 1895.7 2036.6 1887.5 2028.1 1886.2 2029 1885 2029.9 1883.7 2030.8 1882.5 2031.7 1881.2 2032.6 1880 2033.5 1878.7 2034.4 1877.5 2035.3 1876.2 2036.2 1874.9 2037.1 1873.7 2038 1881.1 2051.4 1876.2 2047.1 1869.9 2040.6 1871.4 2045.7 1867.3 2042.3 1868.8 2047.3 1871.3 2053.8 1866.4 2049.3 1862.2 2045.8 1861.9 2048.2 1861.8 2050.8 1863.6 2056.4 1867.1 2064.6 1872.7 2076.3 1868.2 2072.2 1853.8 2052.7 1851.8 2052.5 1853.5 2058 1852.4 2059.3 1847.9 2055 1846.6 2055.8 1856.4 2074.5 1844 2057.4 1842.6 2058.2 1841.3 2059 1845 2068 1841.7 2065.5 1837.4 2061.4 1836 2062.2 1839.4 2070.8 1833.4 2063.8 1832.1 2064.6 1834.1 2071.1 1835 2075.8 1828.1 2066.9 1826.7 2067.7 1825.4 2068.5 1824 2069.2 1822.7 2070 1821.4 2070.8 1827.7 2085.3 1822.2 2078.7 1821.9 2081.4 1816 2073.8 1815.3 2075.7 1824.9 2096.6 1811.9 2076 1810.5 2076.7 1809.2 2077.4 1807.8 2078.2 1806.4 2078.9 1805.1 2079.6 1803.7 2080.3 1802.3 2081 1801 2081.8 1810.7 2104.1 1803.7 2093.9 1796.8 2083.9 1795.7 2085 1794.1 2085.3 1794 2088.6 1793.4 2090.9 1795.3 2098.3 1794 2099.1 1787.2 2088.7 1788.7 2095.3 1789.6 2100.8 1783 2090.7 1791.1 2111.3 1783.8 2099.5 1792.7 2122.2 1786.9 2113.6 1784 2111.1 1780.3 2106.9 1779.5 2109 1771.8 2095.9 1770.4 2096.6 1769 2097.2 1767.6 2097.8 1766.2 2098.5 1764.8 2099.1 1763.4 2099.7 1761.9 2100.3 1764.9 2111.1 1763.4 2111.6 1761.6 2111.2 1760.7 2113.2 1757.5 2109.7 1756.7 2111.8 1757.8 2118.5 1750.6 2105.2 1749.1 2105.8 1747.7 2106.4 1746.3 2106.9 1748.3 2116.2 1750.4 2125.5 1742 2108.7 1740.5 2109.2 1739.2 2110 1741.7 2120.6 1743.7 2130.1 1736.5 2115.9 1733.3 2112 1737.7 2127.8 1737 2130.6 1729 2113.7 1730 2120.8 1729.1 2122.8 1724.7 2115.3 1723.2 2115.8 1724.5 2123.9 1720.3 2116.8 1718.9 2117.4 1717.4 2117.9 1715.9 2118.4 1714.5 2118.9 1714.3 2123.2 1711.7 2120.2 1712.8 2128.4 1713.4 2135.1 1710.9 2132.5 1709 2131.7 1704.2 2122.3 1705.4 2130.9 1704 2131.6 1699.8 2123.8 1698.4 2124.2 1696.9 2124.7 1695.4 2125.2 1693.9 2125.6 1692.5 2126.1 1692.4 2131 1689.8 2127.8 1690 2134.1 1688 2132.8 1688.1 2138.7 1685.6 2135.8 1683.3 2133.2 1684.1 2141.6 1682.1 2140.4 1677.7 2130.4 1676.2 2130.9 1674.7 2131.3 1673.2 2131.7 1676.8 2151 1674.6 2148.8 1668.7 2132.9 1667.2 2133.3 1668.4 2144 1664.3 2134.4 1662.7 2134.5 1661.2 2134.8 1660.4 2137.7 1662.3 2151.8 1657.5 2139.2 1657.1 2143.7 1660 2162.4 1657.5 2159.1 1656.4 2161.4 1653.5 2156 1651.4 2154.1 1646.2 2138.5 1644.7 2138.8 1643.2 2139.1 1647.4 2165.2 1642.9 2152.2 1639.4 2143.3 1637.2 2140.5 1635.7 2140.8 1634.2 2141.1 1637.4 2164.3 1633.2 2151.8 1630.2 2145.1 1628.1 2142.3 1627.2 2145.5 1626.9 2152.4 1624.9 2150.4 1624 2153.7 1620.5 2143.8 1619 2144.1 1617.5 2144.4 1616 2144.7 1614.5 2144.9 1612.9 2145.2 1611.4 2145.5 1609.9 2145.7 1608.4 2146 1606.8 2146.2 1605.3 2146.5 1603.8 2146.7 1602.3 2147 1603.1 2162.1 1601.8 2164.2 1598.3 2151.8 1597.2 2154.8 1596.3 2159.7 1593.8 2152.9 1591.6 2148.6 1591.3 2157.8 1589.7 2157.8 1588.3 2159.1 1587.9 2168 1583.9 2149.6 1582.7 2151.8 1582.2 2160.9 1582.4 2175.4 1577.8 2150.4 1576.3 2150.5 1574.7 2150.7 1573.8 2155.8 1571.7 2151.1 1570.1 2151.2 1568.6 2151.4 1567.1 2151.6 1565.5 2151.7 1564 2151.9 1562.5 2152.4 1560.9 2152.2 1559.4 2152.3 1557.8 2152.4 1556.3 2152.6 1556.1 2168.6 1554.8 2171.8 1551.7 2153 1550.1 2153.1 1548.8 2156.5 1547.1 2153.3 1545.5 2153.4 1544.6 2162.6 1543.9 2176.6 1542.1 2173.7 1539.6 2158.6 1538.1 2158.7 1536.3 2154.9 1534.7 2154.1 1533.2 2154.2 1531.6 2154.2 1530.1 2154.3 1528.6 2154.4 1527 2154.4 1525.5 2154.5 1523.9 2154.6 1522.4 2154.6 1520.8 2154.7 1519.3 2154.7 1517.8 2154.8 1516.4 2160.9 1515 2167.5 1513.3 2166 1511.6 2154.9 1510.1 2156.5 1508.8 2175.6 1507.1 2166 1505.5 2172.1 1503.9 2165.7 1502.3 2156.2 1500.8 2155 1499.2 2174.8 1497.7 2162.3 1496.1 2159.5 1494.6 2155 1493.1 2155 1491.5 2154.9 1490 2154.9 1488.4 2158.7 1486.6 2166.8 1485 2167.5 1483.3 2172.4 1482.2 2157.9 1480.3 2168.2 1478.8 2165.7 1477.5 2157.7 1476.1 2154.6 1474.2 2163.5 1472.5 2165.9 1470.8 2168.4 1469.6 2160.1 1468.2 2157.2 1466.3 2163.7 1464.6 2166.4 1462.7 2171.7 1460.7 2179.3 1460.2 2161.1 1458 2171.9 1457.6 2153.6 1455.6 2160.1 1454.3 2156.4 1451.3 2175.8 1451.2 2155.7 1448.9 2165.1 1448.3 2153 1446.8 2152.8 1444.2 2165.6 1442.5 2167 1441.7 2157.4 1438.1 2180.6 1438.1 2162.7 1435.8 2170.6 1436 2151.9 1434.5 2151.7 1432.9 2151.6 1431.4 2151.4 1429.9 2151.2 1428.3 2151.1 1426.8 2150.9 1425.3 2150.7 1423.7 2150.5 1422.2 2150.4 1420.4 2152.2 1418.9 2151.5 1415.9 2163 1414.7 2160.4 1412.9 2162 1410.4 2168.9 1410.2 2158.1 1408.2 2161.5 1408.4 2148.6 1406.9 2148.3 1405.4 2148.1 1403.8 2147.9 1402.3 2147.7 1400.8 2147.4 1399.3 2147.2 1396.4 2155.3 1395.5 2150.8 1394.3 2149 1391.3 2157.1 1388.8 2162.8 1386.7 2165.6 1388.1 2148.5 1385.1 2156.1 1383.5 2156.4 1384 2144.7 1382.1 2146.4 1381 2144.1 1379.2 2145.2 1377 2148.5 1376.4 2143.2 1374.9 2142.9 1373.4 2142.6 1371.9 2142.3 1370.4 2142 1368.9 2141.7 1367.3 2141.4 1365.8 2141.1 1362 2151.5 1360.7 2150.3 1359.8 2147.2 1358.3 2146.9 1354.2 2157.8 1352.2 2159.7 1354.7 2141.2 1353.8 2138.5 1352.3 2138.1 1346.4 2156.3 1349.3 2137.4 1347.8 2137.1 1344.6 2143.7 1341.4 2149.9 1343.2 2136 1341.7 2135.6 1340.3 2135.2 1338.8 2134.8 1332 2154.9 1333.3 2143.6 1333.6 2136.3 1331.3 2138.9 1329.2 2140.5 1329.3 2134.2 1328.3 2132.1 1326.8 2131.7 1319.5 2152.4 1322.7 2134.9 1318.5 2144.3 1320 2132.9 1314.2 2147.7 1313.7 2143.5 1313.9 2137.3 1308.2 2151.1 1313.4 2127.9 1312 2127.4 1310.5 2127 1309 2126.5 1307.5 2126.1 1306.1 2125.6 1303.7 2128 1298 2141 1301.6 2124.2 1300.2 2123.8 1298.7 2123.3 1297.2 2123 1290.7 2137.9 1289.2 2137.1 1289 2132.9 1287 2133.9 1280.8 2147.3 1288.4 2119.9 1287 2119.4 1284.7 2121.3 1281.9 2124.6 1282.3 2118.8 1281.1 2117.4 1279.7 2116.8 1278.2 2116.3 1276.8 2115.8 1275.3 2115.3 1273.9 2114.7 1266.2 2130.9 1271 2113.7 1260.9 2136.1 1266.7 2116.2 1265.3 2115.6 1264.3 2113.8 1262.3 2114.7 1261.6 2112.1 1260.9 2109.8 1259.5 2109.2 1258 2108.7 1253.9 2114.9 1255.1 2107.5 1253.7 2106.9 1247.3 2118.6 1243.4 2123.9 1246.4 2112.6 1242.7 2117.2 1235.9 2129.5 1236.7 2123.5 1243 2104.4 1242.3 2102.2 1235 2115.3 1236.1 2108.7 1238.1 2100.3 1235.8 2101.6 1232.3 2105.8 1232.6 2101.2 1231.9 2099 1231 2097.2 1229.6 2096.6 1218.7 2116.8 1216.2 2118.4 1215.5 2116.1 1220.9 2100.6 1219.5 2100 1215.5 2104.7 1215.1 2101.9 1218.4 2091.4 1217 2090.7 1215.6 2090 1214.2 2089.4 1212.8 2088.7 1211.4 2088 1210.1 2087.3 1208.7 2086.6 1198.5 2103.5 1203.3 2090.4 1204.5 2084.6 1202.9 2084.3 1201.4 2083.9 1197.4 2088.3 1192.7 2094 1195.1 2085.9 1193.4 2085.9 1187.3 2094 1187.7 2090 1184.6 2092.4 1188.2 2082.4 1189.5 2076.7 1188.1 2076 1186.8 2075.2 1178.5 2087 1178.8 2083.3 1182.7 2073 1181.3 2072.3 1176.9 2077 1176.1 2075.2 1174.3 2075.4 1176 2069.2 1174.6 2068.5 1164.8 2082.4 1171.9 2066.9 1167.8 2071 1161.7 2078.3 1167.9 2064.6 1162.3 2071.1 1161.7 2069 1161.8 2065.9 1160.1 2065.6 1161.3 2060.6 1160 2059.8 1148.6 2075.6 1153 2065.3 1147.5 2071.3 1144.5 2073.1 1147.3 2065.7 1145.7 2065.2 1150.3 2055 1136.4 2074 1139.2 2066.6 1136.7 2067.6 1143.5 2054 1144.3 2050 1143 2049.2 1141.7 2048.3 1140.4 2047.5 1139.1 2046.6 1137.8 2045.8 1136.5 2044.9 1135.3 2044 1126.2 2054.7 1126.7 2051.2 1125.6 2050 1130.1 2040.7 1128.9 2039.7 1125.8 2041.5 1126.3 2038 1125.1 2037.1 1123.3 2036.9 1122.5 2035.3 1121.3 2034.4 1120 2033.5 1118.6 2032.8 1104.5 2049.9 1105.7 2045.3 1105.9 2042.4 1109.8 2034.4 1112.5 2028.1 1111.3 2027.2 1110 2026.3 1106.8 2027.9 1107.5 2024.4 1106.3 2023.5 1099.5 2029.9 1092.3 2036.8 1102.6 2020.7 1099.3 2022.5 1100.2 2018.8 1098.9 2017.9 1097.7 2016.9 1096.5 2016 1087.1 2025.5 1087.6 2022.3 1086.3 2021.3 1073.1 2035.4 1083.8 2019.4 1089.2 2010.2 1088 2009.2 1083.9 2011.9 1074.9 2020.4 1084.5 2006.3 1079 2010.5 1074.7 2013.2 1080.9 2003.4 1079.7 2002.4 1078.5 2001.4 1077.3 2000.4 1076.2 1999.4 1075 1998.4 1060.5 2012.9 1065.8 2004.3 1068.9 1998.3 1064.6 2000.9 1051.7 2013.4 1062.6 1998.5 1058 2001.3 1065.7 1990.3 1064.5 1989.2 1063.3 1988.2 1062.2 1987.2 1061.1 1986.2 1051.6 1994.3 1051.4 1992.1 1056.9 1983.8 1056.5 1982 1055.4 1980.9 1054.2 1979.9 1049.4 1982.8 1050.1 1979.8 1050.8 1976.7 1049.7 1975.7 1048.6 1974.6 1047.5 1973.5 1046.4 1972.5 1045.2 1971.4 1042 1972.5 1043 1969.3 1041.9 1968.2 1032.9 1975.1 1036.5 1969.2 1038.6 1964.9 1033.5 1967.8 1033.5 1965.7 1035.3 1961.7 1027.9 1966.8 1025.7 1966.8 1029 1961.4 1024.5 1963.6 1029.9 1956.1 1023.8 1960 1027.8 1953.9 1026.7 1952.8 1025.7 1951.7 1016 1958.7 1023.5 1949.4 1022.5 1948.3 1021.4 1947.2 1020.4 1946.1 1007.9 1955.5 995.6 1964.7 1000.7 1957.9 1007.1 1949.8 1007.4 1947.4 1014.1 1939.2 1013.1 1938.1 1012 1936.9 1000.6 1945.1 1009.9 1934.7 1009 1933.5 1007.9 1932.3 1006.9 1931.2 1005.9 1930 1004.9 1928.8 998.6 1932.2 992.4 1935.5 1001.9 1925.3 1000.2 1924.7 999.9 1923 998.9 1921.8 982.8 1933.3 988 1926.8 995.5 1918.6 990 1921.1 989.7 1919.4 983.1 1922.7 991.5 1913.8 986.6 1915.9 989.2 1911.7 988 1910.7 988.1 1908.6 987.1 1907.4 983 1908.8 976.3 1912.1 984.3 1903.8 983.3 1902.6 979.7 1903.5 981.4 1900.1 971.6 1905.8 974.5 1901.6 978.6 1896.5 977.7 1895.2 976.8 1894 967.3 1899.1 965.9 1898.3 974 1890.3 973.1 1889 972.1 1887.8 971.2 1886.6 961.3 1891.9 956.9 1893.1 957.9 1890.5 953.6 1891.6 955 1888.7 965.8 1879 964.9 1877.8 964 1876.5 954 1881.7 949.3 1883 961.4 1872.7 960.5 1871.4 959.6 1870.2 958.8 1868.9 957.9 1867.6 957 1866.3 956.2 1865.1 955.3 1863.8 949.3 1865.9 948 1864.9 952.7 1859.9 938.1 1867.7 951.1 1857.3 942.3 1861.2 947.3 1856.1 947.2 1854.3 947.7 1852.1 946.9 1850.8 939.4 1853.7 944.4 1848.7 944.3 1847 933 1852.2 942.8 1844.3 936.8 1846.2 941.2 1841.7 922.8 1851 935.1 1841.7 932.8 1841.3 934.2 1838.7 937.2 1835 936.4 1833.7 934.6 1833 924.3 1837.2 929.6 1832.3 933.3 1828.4 932.5 1827.1 931.7 1825.7 931 1824.4 930.2 1823 929.4 1821.7 928.7 1820.3 927.9 1819 927.2 1817.6 909 1825.9 916.3 1820.1 924.9 1813.6 924.2 1812.2 923.3 1811 919 1811.5 921 1808.7 903.8 1816 908.9 1811.6 904.3 1812.2 915.2 1804.7 918.4 1801.3 917.7 1799.9 917 1798.6 910.8 1800 904.7 1801.3 914.9 1794.4 901.4 1799.5 890.5 1803.1 912.8 1790.3 912.2 1788.9 911.5 1787.5 895.2 1793.7 884.7 1797 900.2 1787.8 906.4 1783.1 908.1 1780.6 907.5 1779.2 906.8 1777.8 906.2 1776.4 905.5 1775 894.3 1778.4 904.2 1772.2 898.8 1772.9 902.5 1769.6 902.3 1767.9 901.7 1766.5 901.1 1765.1 900.4 1763.7 894.1 1764.8 897.6 1761.6 880.8 1767.1 884.3 1763.9 897.4 1756.6 896.8 1755.2 896.2 1753.8 895.6 1752.4 895 1750.9 894.4 1749.5 893.8 1748.1 893.2 1746.6 868.7 1754.9 872.8 1751.5 890.4 1742.8 878.3 1745.9 890.3 1739.5 886.1 1739.5 883.4 1738.9 888.7 1735.2 888.1 1733.7 887.6 1732.3 886.8 1730.9 872 1734.8 873.2 1732.7 877.6 1729.4 877.5 1727.7 884.3 1723.6 868.4 1727.7 883.1 1720.7 882.8 1719.2 882.3 1717.8 881.7 1716.3 881.2 1714.8 880.7 1713.4 880.2 1711.9 869.2 1714 862.2 1714.7 878.7 1707.5 863.7 1710.9 860.5 1710.3 861.6 1708.2 862 1706.5 876.3 1700.2 874.6 1699.1 875.4 1697.3 856.1 1701.7 874.5 1694.3 874 1692.8 864.3 1694.2 865.2 1692.3 871.6 1688.7 870.3 1687.5 862.3 1688.2 854.8 1688.8 870.9 1682.5 870.5 1681 870.1 1679.5 869.7 1678 869.2 1676.5 868.8 1675.1 868.4 1673.6 868 1672.1 867.6 1670.6 867.2 1669.1 866.8 1667.6 848.9 1670.7 844.3 1670.3 848.2 1667.6 848 1666 862.1 1660.8 851.6 1661.9 864.1 1657.1 863.8 1655.6 863.4 1654.1 863 1652.6 862.7 1651.1 862.3 1649.6 862 1648.1 861.6 1646.6 861.3 1645.1 860.9 1643.6 860.6 1642.1 860.3 1640.6 859.9 1639.1 859.6 1637.6 859.3 1636.1 859 1634.5 858.7 1633 858.3 1631.5 850.7 1631.5 857.7 1628.5 857.4 1627 857.1 1625.5 856 1624.1 856.5 1622.4 853.5 1621.4 856 1619.4 855.7 1617.9 855.4 1616.4 855.1 1614.8 834.4 1616.9 854.6 1611.8 854.3 1610.3 854.1 1608.8 853.8 1607.2 844.7 1607.1 853.3 1604.2 853.1 1602.7 852.9 1601.1 850.3 1600 850.6 1598.3 852.2 1596.5 851.9 1595 851.7 1593.5 851.5 1592 845.1 1591.3 845.8 1589.6 834.4 1589.6 846.5 1586.4 848.7 1584.5 850.3 1582.8 850.1 1581.3 849.9 1579.7 849.7 1578.2 849.5 1576.7 829 1577.5 849.1 1573.6 849 1572 846.1 1570.8 847.6 1569.1 848.5 1567.4 848.3 1565.9 833.7 1565.8 848 1562.8 847.9 1561.3 834 1561 841.1 1558.8 847.5 1556.7 847.3 1555.1 846.9 1553.6 840.8 1552.6 839 1551.1 846.8 1549 846.7 1547.4 846.6 1545.9 846.5 1544.4 846.4 1542.8 846.3 1541.3 846.2 1539.7 846.1 1538.2 846 1536.7 845.3 1535.1 845.9 1533.6 845.8 1532 844.6 1530.5 845.3 1529 821 1528.4 845.5 1525.9 845.5 1524.3 838.8 1523 845.3 1521.2 843.4 1519.7 845.3 1518.1 845.2 1516.6 832.7 1515.3 839.5 1513.6 835 1512.2 845.1 1510.4 845.1 1508.9 845 1507.3 845 1505.8 845 1504.2 844.7 1502.7 843.2 1501.2 845 1499.6 845 1498.1 845 1496.5 845 1495 816.1 1493.1 826.3 1491.7 841.9 1490.3 823.4 1488.4 823.7 1486.8 829 1485.4 828 1483.8 844.8 1482.6 845.3 1481.1 845.3 1479.5 844 1478 845.4 1476.5 845.5 1474.9 842.9 1473.3 845.6 1471.8 838.9 1470 827.6 1467.9 845.8 1467.2 834.7 1465.1 846 1464.1 846.1 1462.6 843.5 1460.9 836.4 1458.9 846.4 1457.9 846.5 1456.4 846.6 1454.9 846.7 1453.3 846.8 1451.8 846.9 1450.2 847 1448.7 844.9 1447 847.3 1445.6 837.6 1443.2 847.5 1442.5 847.7 1441 824.3 1437.3 843.3 1437.5 842 1435.8 838.4 1433.9 844 1432.9 848.6 1431.8 842 1429.5 841.2 1427.9 838.9 1426 849.2 1425.6 844.6 1423.6 847.5 1422.3 849.8 1421 850 1419.5 850.2 1418 850.4 1416.5 850.5 1414.9 847.2 1412.9 851 1411.9 851.2 1410.3 851.4 1408.8 851.6 1407.3 849.1 1405.3 851.6 1404.1 852.3 1402.7 852.5 1401.2 851.3 1399.4 853 1398.1 845.2 1395.3 853.5 1395.1 853.7 1393.5 840 1389.7 852.7 1390.2 844.3 1387.2 851.3 1386.8 852.5 1385.5 843.7 1382.3 848.7 1381.6 855.2 1381.2 856.1 1379.8 854.2 1377.9 856 1376.7 857 1375.3 857.3 1373.8 857.6 1372.3 857.9 1370.7 858.2 1369.2 845.3 1365 848.8 1364.1 842.2 1361.1 838.9 1358.8 858.9 1361.5 860.1 1360.2 855.1 1357.5 860.8 1357.2 861.1 1355.6 861.4 1354.1 850.3 1350 852.4 1348.9 862.5 1349.6 862.9 1348.1 863.2 1346.6 863.6 1345.1 863.9 1343.6 864.3 1342.1 864.7 1340.6 865.1 1339.1 865.4 1337.6 865.1 1335.9 853 1331.2 866.6 1333.1 867 1331.7 867.4 1330.2 867.8 1328.7 868.2 1327.2 858.8 1323 869 1324.2 866.9 1322 863.6 1319.5 870.3 1319.7 870.7 1318.3 871.1 1316.8 860.6 1312.1 865.2 1311.8 872.5 1312.3 872.9 1310.9 872.9 1309.2 868 1306.1 870.2 1305.2 864.2 1301.7 875.2 1303.5 875.6 1302 876.1 1300.5 876.6 1299.1 877.1 1297.6 877.5 1296.1 878 1294.7 878.5 1293.2 879 1291.7 878.7 1290 880 1288.8 868.3 1283.1 872.3 1282.9 881.5 1284.4 882 1283 873.2 1278.2 883 1280.1 883.6 1278.6 872.1 1272.8 881.1 1274.4 885.1 1274.2 885.7 1272.8 886.2 1271.3 886.7 1269.9 887.3 1268.5 856.1 1254.9 856.6 1253.4 888.9 1264.1 879.6 1258.8 879.6 1257.2 890.6 1259.8 891.2 1258.4 884.5 1254 890.7 1254.9 892.9 1254.1 887.1 1250 894.1 1251.2 879.4 1243.5 890.3 1246.3 894.3 1246.3 896.5 1245.5 888.7 1240.5 887.2 1238.2 898.3 1241.3 895.1 1238.2 899.5 1238.4 900.1 1237 900.7 1235.6 894.8 1231.2 892.9 1228.7 892.2 1226.6 903.3 1229.9 903.9 1228.5 903 1226.4 899.1 1222.9 905.8 1224.3 906.5 1222.9 907.1 1221.5 897.2 1215.1 908.5 1218.7 909.1 1217.3 909.8 1216 910.5 1214.6 911.1 1213.2 911.8 1211.8 912.5 1210.4 913.2 1209 913.9 1207.6 914.6 1206.3 908.3 1201.4 905.3 1198.1 908.7 1198 912.6 1198.3 908.8 1194.6 918.8 1198 916.6 1195.1 914.6 1192.3 917.3 1192 904.4 1183.3 911.7 1185.5 913.8 1184.8 912.8 1182.5 924.6 1187.1 904.9 1174.6 911.4 1176.3 924.4 1181.7 927.6 1181.7 928.3 1180.3 929.1 1179 929.8 1177.6 929.7 1175.8 931.3 1175 932.1 1173.6 931.1 1171.3 933.7 1170.9 934.4 1169.6 935.2 1168.3 936 1166.9 935.3 1164.8 927.3 1158.2 938.4 1163 939.2 1161.6 935 1157.3 911.7 1141.3 936.1 1154.3 937.4 1153.3 940.3 1153.2 929.6 1144.8 925.8 1140.5 937.5 1146 933.6 1141.7 947.3 1148.5 946.4 1146.1 949 1145.9 947.3 1143 950.6 1143.3 948.2 1139.9 952.3 1140.7 948.6 1136.4 949.2 1135 954.9 1136.9 955.7 1135.6 956.6 1134.3 957.5 1133 951.4 1127 954.9 1127.5 952.1 1123.7 945.6 1117.3 957.3 1123.5 954.8 1119.8 963.1 1123.7 953.3 1115 965.4 1121.6 966.3 1120.3 967.2 1119.1 968.1 1117.8 969 1116.6 969.9 1115.3 970.8 1114.1 951.9 1098.3 972.6 1111.6 973.5 1110.3 974.4 1109.1 975.4 1107.9 965.1 1098.2 966.1 1097 968.3 1096.7 960.4 1088.7 980 1101.7 961.6 1085.6 955 1078.4 956.3 1077.4 973.7 1088.9 984.5 1095.4 985.7 1094.4 981.4 1089 965.8 1074.5 988.6 1090.8 989.6 1089.5 981 1080.6 983.9 1081 992.5 1085.9 992.4 1083.9 990.2 1080.1 995.4 1082.4 989.3 1075.3 997.4 1080 986.9 1069.2 992.8 1072.1 1000.4 1076.4 1001.4 1075.3 1002.4 1074.1 1000.9 1070.8 1002.6 1070.2 1005.4 1070.6 1003.6 1067 998.3 1060.2 1008.4 1067.1 1007.9 1064.6 1010.5 1064.8 1011.5 1063.6 1012.6 1062.5 1013.6 1061.3 1014.6 1060.2 1015.6 1059 1016.7 1057.9 1017.7 1056.8 1012 1049.4 1019.8 1054.5 1011.6 1044.7 1021.9 1052.2 1012.6 1041.3 1023.7 1049.6 1025.1 1048.9 1026.2 1047.8 1027.3 1046.6 1028.3 1045.5 1029.4 1044.4 1030.5 1043.3 1020.7 1031.5 1022 1030.6 1033.7 1040 1034.1 1038.2 1035.9 1037.8 1036.1 1035.9 1033.1 1030.6 1028.9 1024.1 1021.4 1014.3 1029.3 1020 1034.2 1022.8 1030.7 1017 1044.7 1029.1 1045.8 1028.1 1040.1 1019.9 1041.9 1019.5 1047.3 1022.9 1040.1 1013 1049 1020.2 1049.7 1018.7 1046.5 1012.9 1054.8 1019.6 1044 1005.6 1050.7 1010.6 1056.3 1014.4 1059.3 1015.4 1054.3 1007.5 1061.6 1013.3 1058.1 1007.1 1042.8 987.6 1062.5 1007.3 1066.2 1009.2 1055.7 995 1066.9 1005.2 1069.7 1006.2 1067.8 1001.6 1066.6 997.8 1063.5 991.8 1069.1 995.9 1066 989.9 1076.7 1000.1 1072.2 992.3 1078.1 996.9 1074.1 989.7 1081.5 996.2 1081.2 993.4 1072.8 980.7 1085.1 993.2 1086.2 992.2 1082.4 985.1 1087 988.3 1089.8 989.3 1086.4 982.5 1076.6 967.6 1093.5 986.4 1094.6 985.3 1093.4 981.3 1097.1 983.6 1096.1 979.7 1094.6 975.2 1100.8 980.7 1094.5 970 1103.2 978.8 1103.4 976.6 1096.2 964.4 1086.5 948.9 1108.2 975.1 1103.5 966.3 1091.9 948 1107.8 966.8 1103.7 958.6 1110.5 965.2 1115.6 969.6 1116.9 968.7 1118.1 967.8 1119.1 966.5 1120.6 966 1119.7 962 1123.2 964.3 1124.1 962.9 1114.5 946.3 1119.7 951.1 1127.1 959.1 1129.1 959.2 1127.3 953.9 1113.4 930.7 1127.4 948.4 1132.9 953.8 1135.9 955.5 1137.2 954.7 1138.5 953.8 1139.8 953 1141.1 952.1 1142.3 951.3 1143.6 950.4 1144.9 949.6 1146.2 948.8 1147.5 947.9 1148.8 947.1 1141.2 932.1 1147.1 938.6 1151.4 942.5 1150.2 937.6 1154.5 941.6 1156.7 942.2 1156.3 938.6 1147.1 920.5 1156.6 933.1 1153.1 924.2 1163.3 938.2 1164.6 937.4 1165.9 936.6 1159.3 922.4 1168.6 935 1169.9 934.2 1164 920.9 1172.4 932.3 1173.9 931.9 1172.9 927 1175.6 928.6 1178 929.6 1178.6 927.7 1180.7 928.1 1181.8 927 1180.7 921.8 1184.7 925.9 1186.1 925.1 1187.4 924.4 1185.1 916.8 1184.7 912.8 1184.5 909 1185.1 906.8 1186.8 906.6 1191.3 911.8 1197 919.3 1195 912.2 1199.7 917.9 1189.9 895.3 1197.5 906.8 1201.5 911.1 1205.2 915.1 1201.1 903.3 1202.4 902.5 1209.4 913 1210.7 912.3 1212.1 911.6 1213.5 911 1206.5 892.9 1205.5 887.1 1217.7 909 1215.1 900 1218.9 904.2 1217.9 898.4 1223.3 906.3 1224.7 905.7 1221.4 894.8 1227.5 904.4 1224.4 893.9 1230 902.3 1226.2 890.3 1229.5 893.7 1234.5 901.2 1235.9 900.6 1237.3 899.9 1238.8 899.3 1239.4 896.9 1241 896.8 1236 881.1 1244.4 896.9 1245.9 896.3 1245.8 892.2 1248.7 895.1 1250.1 894.5 1251.6 893.9 1253 893.4 1254.4 892.8 1255.9 892.2 1257.3 891.6 1255.1 881.9 1260.2 890.5 1258.9 882.9 1256.8 873.2 1258.9 874.4 1263.2 881 1267.4 887.7 1268.8 887.2 1270.2 886.4 1270 881.5 1273.2 885.5 1274.6 885 1274.2 879.3 1277.5 883.9 1278.3 881.4 1280.4 882.9 1281.9 882.4 1278.1 867 1280.7 869.7 1284.7 876.3 1287.7 880.4 1289.2 879.9 1290.1 877.6 1292.1 878.9 1289.7 866.8 1295 877.9 1296.5 877.4 1298 876.9 1299.4 876.5 1300.9 876 1301.7 873.4 1303.8 875.1 1305.3 874.6 1306.8 874.1 1308.3 873.7 1309.7 873.2 1311.2 872.8 1312.7 872.3 1314.2 871.9 1315.7 871.5 1317.1 871 1315.6 860.3 1320.1 870.2 1321.6 869.8 1323.1 869.3 1324.6 868.9 1326.1 868.5 1327.6 868.1 1329 867.7 1330.5 867.3 1332 866.9 1333.5 866.5 1333.6 860.7 1334.4 857.5 1338 865.3 1338.9 862.7 1341 864.6 1340.1 854.5 1344 863.8 1345.5 863.5 1347 863.1 1346.7 855 1350 862.4 1350.7 858.6 1352.7 860.6 1354.5 861.4 1356 861 1355.2 850.1 1355.9 846.3 1356.7 842.3 1362.1 859.7 1363.6 859.4 1365.1 859 1366.6 858.7 1368.1 858.4 1366.3 841.6 1365.7 830.7 1372.6 857.5 1374.2 857.2 1375.7 856.9 1377.2 856.6 1378.7 856.3 1380.2 856 1380.8 850.7 1383.2 855.3 1384.1 851.2 1386.3 854.9 1385.7 842.2 1386.6 838.5 1390.9 854.2 1392.4 853.9 1393.9 853.6 1394.3 846.1 1397 853.2 1397.6 847.2 1400 852.7 1401.5 852.4 1402.2 846.6 1404.6 852 1406.1 851.8 1406.9 846.4 1407.4 838.6 1410.7 851.1 1410.6 838.8 1413.2 846.7 1415.3 850.5 1416.3 845.8 1417.9 846.1 1418.6 839.4 1421.4 849.7 1422.3 843.8 1424.5 849.4 1425.8 846.9 1426.8 841.7 1428.9 847.3 1430.1 844 1432.2 848.5 1432.9 840.2 1435.2 848.2 1436.8 848.1 1438.3 847.9 1439.9 847.8 1441.4 847.6 1442.4 841.8 1444.4 846.1 1445.8 845.1 1447.6 847.1 1449.1 847 1450.6 846.9 1452.2 846.7 1453.7 846.6 1454.7 838.9 1455.7 830.5 1457.1 826.8 1459.3 836.7 1461.4 846.1 1462.8 843.6 1464.5 846 1466 844.3 1467.6 845.8 1468.5 833.4 1470.4 839.4 1472.2 845.6 1473.8 845.5 1475.3 845.5 1476.8 845.4 1478.4 845.4 1479.9 845.3 1481.5 845.3 1482.8 837 1484.2 831.4 1486.1 845.1 1487.6 845.1 1489.1 842.3 1490.7 845.1 1492.3 845 1493.6 825.3 1495.4 845 1496.9 844.8 1498.5 845 1500 845L1500 845A655.0 655.0 0 0 0 1500 2155A655.0 655.0 0 0 0 1500 845Z" fill="#9ecae1" fill-rule="nonzero"/><path d="M1500 819.9L1501.6 820.1 1503.1 845M1504.6 845L1506.4 823.9 1507.9 825.7 1509.4 832.6 1510.9 837.9 1512.5 835.3 1514 840 1516.1 818.6 1517 845.2M1518.5 845.3L1520.2 839.8 1522.2 826.5 1523.3 842.7 1524.7 844.7 1526.2 845.5M1534 845.9L1536.7 823.4 1537.1 845.7 1539.3 834.7 1541.8 819.5 1541.7 845.4 1543.2 846.4M1543.2 846.4L1545.1 841.4 1546.3 846.6M1546.3 846.6L1548.4 838.8 1549.8 841.6 1550.9 847M1550.9 847L1552.5 846.4 1555.5 828.6 1555.5 847.4M1557.1 847.5L1559 842.7 1560.1 847.7 1561.7 847.9M1561.7 847.9L1565 830.1 1565 845.3 1566.9 842.5 1567.8 848.5M1570.9 848.8L1573.6 838.8 1574.5 844.1 1577.2 835.1 1577 849.5M1578.6 849.7L1581.2 841.2 1582.3 844.7 1583.2 850.3M1589.3 851.1L1591.3 847.7 1595.3 830.7 1596.6 833.1 1595.4 852M1607.6 853.9L1611.2 842 1610.7 854.4M1610.7 854.4L1614 844 1614.8 848.8 1615.2 855.2M1619.8 856L1621.6 854.7 1623.1 855.3 1627.1 842.6 1625.8 857.2M1631.9 858.4L1633.4 858.6 1634.9 859M1634.9 859L1638.2 851.1 1642.5 838.7 1644.4 837.2 1644.6 843.7 1647 840.4 1646.4 850.4 1651 837.3 1651.5 842.1 1654.2 837.4 1650.5 860.2 1651.5 862.8M1653 863.1L1655.7 858.4 1658.5 853.7 1659 858.3 1661.9 852.8 1660.5 865M1662 865.3L1666.9 852.6 1666.9 858.6 1666.5 866.5M1666.5 866.5L1673.6 845.6 1674 850.4 1671 867.7M1671 867.7L1672.8 866.7 1673.9 868.5M1673.9 868.5L1675.9 867.1 1676.9 869.3M1685.8 871.9L1689.8 863.9 1693.4 857.3 1692.5 865.7 1691.7 873.7M1694.7 874.6L1700.7 860.7 1700.8 865.4 1703.5 862.3 1700.6 876.5M1702 876.9L1712.7 849.3 1715.6 845.6 1711 864.6 1710 872.8 1714 865.7 1710.8 879.9M1713.8 880.9L1717.6 874.4 1719.2 874.5 1718.1 882.4M1722.5 883.9L1729.1 870.2 1727.8 878.5 1732.2 871.1 1728.3 886.1M1731.2 887.2L1733.7 884.9 1736.9 880.9 1735.5 888.8M1735.5 888.8L1740.5 880.3 1743.4 877 1742.3 884.2 1743.2 886.1 1744.4 887.5 1744.1 892.2M1744.1 892.2L1747.5 887.9 1747 893.4M1747 893.4L1751 887.6 1756 879.7 1755.5 884.9 1755.3 889.6 1756.5 890.7 1755.6 896.9M1758.4 898.1L1760.3 897.7 1766.8 886.6 1763.1 898.9 1764.1 900.6M1764.1 900.6L1770.6 889.6 1770.6 893.6 1771.5 895.3 1774.5 892.4 1776.6 891.7 1774.3 900.5 1774 904.8 1784.3 886.4 1780 899.3 1778.1 907M1778.1 907L1782.9 900.5 1787.2 895.1 1782.3 909M1782.3 909L1790.2 896 1789.8 900.5 1798.2 886.9 1794.9 897.2 1792.9 905 1799.7 894.6 1801 895.7 1795.5 910.1 1797.3 910.1 1797.2 913.7 1802.2 907.3 1798.9 917.2M1801.7 918.6L1803.7 918 1804.4 920M1805.8 920.7L1809.3 917.3 1809 921.3 1809.8 922.9M1813.9 925.1L1818.3 920.4 1824.2 912.9 1825.1 914.6 1823.7 920.2 1829.7 912.7 1829.2 916.9 1831.6 915.8 1830.3 921.4 1828.3 927.9 1827.4 932.7M1839.4 939.8L1842 938.3 1843.8 938.4 1848.7 933.4 1847.5 938.3 1850.7 936.1 1855.9 930.8 1853.3 937.9 1851.8 943.3 1851.2 947.1M1851.2 947.1L1854.4 944.9 1856.1 945.1 1855.1 949.6M1860.2 953L1867.1 945.4 1872.9 939.5 1864.1 955.5M1864.1 955.5L1869.3 950.6 1868.4 954.7 1869.6 955.7 1869.2 959M1871.8 960.7L1884.9 944.5 1889.6 940.5 1880.3 956.6 1878.5 961.8 1891.2 946.6 1882.1 962.1 1880.9 966.5 1883.7 965.3 1883.1 968.7M1885.6 970.5L1888.6 969.1 1902.1 953.3 1902.8 955.1 1896.5 966.3 1894.5 971.6 1894.1 974.7 1900.3 969 1895.5 977.9M1899.2 980.7L1900.6 981.5 1901.7 982.5 1902.9 983.6M1904.1 984.5L1905.8 984.9 1906.5 986.4M1908.9 988.3L1916.7 981.1 1920.4 979 1915.7 987.4 1913.8 992.2M1913.8 992.2L1917.8 989.7 1919.7 989.8 1925.4 985.4 1918.5 996.2M1926.8 1003.1L1939.5 990.8 1937.6 995.4 1930.3 1006.2M1937.2 1012.3L1942.8 1008.4 1939.5 1014.4M1940.7 1015.4L1955 1002 1951.4 1008.3 1949.2 1013 1961 1002.6 1958.1 1008 1947.5 1021.7M1947.5 1021.7L1950 1021.2 1949.7 1023.8M1950.8 1024.9L1966.3 1010.8 1965.5 1014 1954.2 1028.1M1956.4 1030.2L1963.5 1025.2 1960.3 1030.6 1960.4 1032.8 1970.4 1024.9 1964.4 1033.1 1963.5 1036.2 1970.8 1031.2 1966.7 1037.4 1966.3 1040M1966.3 1040L1971 1037.6 1976.4 1034.4 1977.6 1035.4 1976.8 1038.5 1971.7 1045.5M1971.7 1045.5L1985.8 1034.2 1979.3 1042.5 1987.7 1036.7 1975.9 1050M1977 1051.1L1978.4 1051.9 1987.6 1045.4 1980.2 1054.5M1988.5 1063.6L2003.5 1052.3 1997 1060.2 2010.8 1050.2 2003.2 1058.9 1998.5 1065.2 1994.6 1070.6M1994.6 1070.6L1995.6 1071.7 1997.7 1072 1997.6 1074.1M1997.6 1074.1L2002.2 1072.2 1999.6 1076.4M2001.6 1078.8L2003.8 1079 2011.8 1074.4 2009.7 1078.2 2009 1080.7 2006.6 1084.8M2006.6 1084.8L2011.2 1083 2018.7 1078.8 2009.5 1088.3M2009.5 1088.3L2016 1085.1 2018.8 1084.9 2013.2 1091.3 2016.2 1090.9 2014.3 1094.4M2014.3 1094.4L2016.9 1094.3 2035.5 1081.8 2021.9 1094.3 2034.3 1086.7 2028.3 1093.4 2020 1101.7M2020 1101.7L2022.2 1101.9 2033.3 1095.5 2030.8 1099.3 2023.7 1106.6M2027.4 1111.6L2033.4 1109.1 2044.7 1102.8 2039 1108.9 2039.5 1110.5 2031.9 1117.8M2037.3 1125.4L2046.3 1121 2039.1 1127.9M2040.8 1130.5L2054 1123.4 2052.7 1126.1 2048 1131.2 2045 1135.1 2045.1 1136.9M2045.1 1136.9L2046.6 1137.8 2046.8 1139.4M2051.9 1147.2L2055.8 1146.6 2062.6 1144.1 2066.7 1143.4 2055.2 1152.4M2063.2 1165.6L2075.7 1160 2080.6 1159 2067.3 1168.6 2066.3 1170.9M2066.3 1170.9L2079.1 1165.4 2067.9 1173.6M2071.7 1180.3L2075.9 1179.8 2073.2 1183M2087.5 1210.4L2091.6 1210.1 2088.9 1213.2M2096.1 1228.5L2104.5 1226.4 2097.4 1231.4M2098 1232.8L2099.7 1233.7 2099.3 1235.6M2099.9 1237L2102 1237.8 2101.1 1239.8M2101.7 1241.3L2112.7 1238.2 2117.3 1238 2103.5 1245.5M2104.1 1246.9L2112.9 1245 2105.3 1249.8M2107.7 1255.5L2109.5 1256.4 2111.8 1257.2 2109.4 1259.8M2109.4 1259.8L2115.5 1259.1 2120.3 1258.9 2124.2 1259.1 2119.8 1262.4 2112.2 1267M2112.2 1267L2119.6 1265.8 2122.9 1266.3 2122.9 1268 2114.3 1272.8M2114.3 1272.8L2122.8 1271.3 2118.6 1274.5 2115.9 1277.1M2115.9 1277.1L2125 1275.5 2117 1280.1M2117.5 1281.5L2118.6 1282.8 2118.5 1284.4M2118.5 1284.4L2120.9 1285.2 2119.5 1287.3M2119.5 1287.3L2124.1 1287.4 2129.2 1287.3 2124.4 1290.6 2131.9 1289.7 2130.5 1291.8 2122.5 1296.1M2122.5 1296.1L2131.1 1295 2131.8 1296.4 2129 1298.9 2139.4 1297.2 2145.4 1297 2133.4 1302.4 2125.7 1306.4M2125.7 1306.4L2127.4 1307.5 2126.6 1309.4M2127.1 1310.9L2129.9 1311.6 2129.1 1313.5 2144.8 1310.5 2135.3 1314.9 2131.9 1317.5 2139.5 1316.9 2142.6 1317.7 2145.7 1318.5 2140 1321.7 2132.9 1325.3 2131.8 1327.2M2132.6 1330.2L2139.8 1329.8 2136.5 1332.3 2155.4 1329 2153.8 1331.1 2134.6 1337.6M2134.6 1337.6L2141.8 1337.4 2163.7 1333.5 2135.7 1342.1M2135.7 1342.1L2138.1 1343.1 2136.4 1345.1M2137.1 1348.1L2138.6 1349.4 2144 1349.7 2138.2 1352.6M2138.2 1352.6L2140.6 1353.7 2138.9 1355.6M2138.9 1355.6L2144 1356.1 2142.5 1358 2139.9 1360.2M2140.9 1364.7L2147.5 1364.9 2141.5 1367.7M2141.5 1367.7L2145.3 1368.5 2149.5 1369.3 2142.4 1372.3M2142.4 1372.3L2154.8 1371.4 2152.1 1373.5 2143.3 1376.8M2143.3 1376.8L2147.4 1377.6 2143.9 1379.8M2144.4 1382.9L2152.3 1383 2145 1385.9M2146.8 1396.6L2155.7 1396.7 2147.3 1399.6M2148.2 1405.7L2153.2 1406.6 2148.6 1408.8M2149.2 1413.4L2158 1413.8 2149.6 1416.5M2149.6 1416.5L2152.5 1417.7 2150.3 1419.5 2150.2 1421M2150.2 1421L2157.6 1421.7 2157.8 1423.3 2178 1422.5 2173.7 1424.6 2152.3 1428.6 2151.3 1430.3M2151.6 1433.3L2156.7 1434.4 2151.9 1436.4M2152.2 1439.5L2161.4 1440.2 2164.1 1441.5 2154.6 1443.9 2152.7 1445.6M2152.7 1445.6L2158.4 1446.7 2170.5 1447.3 2153.1 1450.2M2153.2 1451.8L2156.3 1453.1 2159.1 1454.5 2170 1455.3 2174.9 1456.6 2153.7 1459.5M2153.9 1462.6L2155.4 1464 2164.5 1465.1 2154.2 1467.2M2154.2 1467.2L2162.6 1468.3 2154.3 1470.3M2154.6 1478L2165.1 1479.2 2163.1 1480.8 2165 1482.4 2154.8 1484.2M2154.9 1488.8L2165.6 1490.2 2171 1491.7 2174 1493.2 2175.9 1494.8 2166.8 1496.5 2156.5 1498.1 2155 1499.6M2155 1499.6L2159.7 1501.2 2155 1502.7M2155 1504.2L2160.2 1505.8 2160.9 1507.4 2163.2 1509 2154.9 1510.4M2154.9 1510.4L2166.8 1512.2 2154.9 1513.5M2154.7 1519.7L2163.5 1521.5 2154.6 1522.8M2154.6 1522.8L2157.8 1524.4 2154.5 1525.9M2154.4 1528.9L2154.6 1530.5 2165.2 1532.6 2162.5 1534 2154.1 1535.1M2153.9 1538.2L2167.5 1540.6 2153.7 1541.3M2153.6 1542.8L2158.8 1544.7 2153.4 1545.9M2153.4 1545.9L2160.2 1547.9 2165.6 1549.9 2160.3 1551.1 2160.9 1552.7 2152.8 1553.6M2152.4 1558.2L2152.8 1559.8 2155.5 1561.6 2152 1562.8M2151.7 1565.9L2152.2 1567.5 2164.4 1570.4 2175.3 1573.1 2158.2 1572.8 2155.5 1574.1 2150.7 1575.1M2150.7 1575.1L2159.1 1577.7 2156.8 1579 2155.9 1580.4 2157.9 1582.2 2149.7 1582.8M2149.7 1582.8L2154.3 1584.9 2159.3 1587.2 2163.1 1589.3 2148.9 1588.9M2148.9 1588.9L2149 1590.5 2170.6 1595.1 2148.3 1593.5M2148.1 1595L2171.4 1600.1 2178.3 1602.7 2147.4 1599.6M2145.9 1608.8L2147.8 1610.6 2150.8 1612.7 2145.1 1613.3M2144.9 1614.8L2150.4 1617.4 2147.5 1618.5 2144 1619.4M2141 1634.5L2147.5 1637.5 2151 1639.8 2143.8 1639.9 2139.7 1640.6M2136.2 1655.6L2143.4 1659 2153.2 1663 2142.4 1662 2142.1 1663.5 2134.4 1663.1M2131.6 1673.6L2131.2 1675.1 2131.6 1676.8 2130.3 1678M2129.9 1679.5L2156.5 1688.8 2143.2 1686.6 2128.6 1684M2127.8 1686.9L2131.3 1689.6 2131.6 1691.3 2133.8 1693.6 2137 1696.2 2130.6 1695.9 2130.2 1697.4 2124.6 1697.3M2124.6 1697.3L2144.9 1705.4 2124.9 1700.6 2123.2 1701.7M2123.2 1701.7L2137.8 1708.1 2126.6 1706 2121.7 1706.1M2121.3 1707.5L2124 1710.1 2120.3 1710.5M2117.2 1719.2L2119 1721.5 2122.1 1724.3 2127.6 1727.9 2115.6 1725.2 2114.6 1726.5M2113.5 1729.4L2114.5 1731.4 2136.6 1741.4 2142.1 1745.3 2129.9 1742.3 2110.8 1736.6M2109.1 1740.9L2120.9 1747.3 2111.3 1745.1 2107.4 1745.2M2107.4 1745.2L2108.6 1747.4 2116.6 1752.3 2105.6 1749.5M2105.6 1749.5L2105.2 1751 2104.4 1752.4M2103.2 1755.2L2104.8 1757.5 2106.8 1760.1 2114.9 1765.3 2108.8 1764.3 2100.2 1762.3M2097.1 1769.3L2107.2 1775.7 2106.5 1777 2095.1 1773.6M2093.8 1776.4L2097.8 1779.9 2094.5 1780.1 2091.9 1780.6M2090.5 1783.3L2093.3 1786.4 2099 1790.9 2088.5 1787.5M2088.5 1787.5L2091.5 1790.7 2087.2 1790.3M2087.2 1790.3L2088.1 1792.5 2110.1 1805.2 2103.8 1803.9 2095.3 1801.3 2086.9 1798.8 2083 1798.6M2072.1 1819L2076.4 1823.2 2075.9 1824.7 2069.8 1823M2066 1829.7L2076.8 1837.9 2076.7 1839.7 2066.2 1835.2 2065.1 1836.4 2076.3 1844.9 2087.5 1853.5 2072.4 1846.3 2066.1 1844.3 2075.6 1851.9 2077.1 1854.7 2063.9 1848.4 2076.4 1858 2064.9 1852.7 2068.4 1856.8 2056.7 1851.3 2057 1853.3 2052.3 1852.1M2052.3 1852.1L2057.9 1857.5 2063.1 1862.8 2049.8 1856M2048.9 1857.3L2056.5 1864.1 2053.1 1863.7 2065.7 1874 2046.3 1863 2068 1879.4 2049.7 1869 2058.3 1876.7 2064.1 1882.5 2051.3 1875.7 2040.4 1870.2M2039.5 1871.4L2044.6 1876.9 2049.6 1882.2 2053.5 1886.9 2055.2 1890.1 2053.1 1890.5 2035.4 1879.9 2041.8 1886.4 2032.4 1881.6M2032.4 1881.6L2032.5 1883.5 2030.6 1884.1M2027.9 1887.8L2037.3 1896.7 2026 1890.3M2025.1 1891.5L2024.7 1893.2 2023.2 1894M2015.7 1903.8L2025.2 1913.2 2013.8 1906.2M2013.8 1906.2L2019.1 1912.4 2013.5 1909.9 2010.9 1909.9M2008 1913.5L2014 1920.4 2021 1928.1 2010.1 1921.1 2008.2 1921.7 2015.9 1930 2006.9 1924.6 2011.2 1930.3 2007.1 1928.8 1999.1 1924.1M1999.1 1924.1L2003.3 1929.7 1997.1 1926.5M1993.1 1931.2L2017.1 1954.3 2007.5 1948 2006 1948.8 1989 1935.8M1989 1935.8L2004.7 1951.9 2012.2 1960.8 2004.9 1956.4 1986.5 1941.8 1995.1 1951.8 1982.8 1942.7M1982.8 1942.7L1993.3 1954.5 1981.9 1946.1 1982.1 1948.4 1979.4 1947.9 1984.5 1954.9 1976.5 1949.4M1972.2 1953.9L1973.1 1956.9 1975.2 1961.1 1979.3 1967.3 1974.9 1965.2 1973.5 1966 1970.1 1964.9 1967.2 1964.2 1963.6 1962.7M1962.5 1963.8L1967.8 1971.4 1968.1 1973.9 1960.1 1968 1973.2 1983.6 1957.1 1969.4 1966 1980.8 1962.9 1979.9 1958 1977 1967.1 1988.8 1951.4 1974.6M1943.5 1982L1949.9 1991.2 1953.4 1997.5 1956.4 2003.1 1941.3 1988.8 1946.3 1996.6 1942.6 1994.9 1935.5 1989.2M1934.3 1990.3L1945.1 2004.9 1940 2001.4 1934 1997 1935.5 2001.1 1939.7 2008.2 1927.4 1996.4M1921.5 2001.4L1922.2 2004.7 1933.4 2020.5 1936.2 2026.4 1927.7 2018.6 1920.3 2012.1 1914.4 2007.3M1913.2 2008.3L1917.1 2015.5 1915.4 2016 1909.5 2011.2M1909.5 2011.2L1910.6 2014.9 1922.1 2031.9 1918.6 2030.1 1910.5 2022.4 1910.6 2025.1 1915.2 2033.6 1909.3 2028.5 1903.4 2023.4 1898.6 2019.7M1894.9 2022.6L1894.6 2024.7 1897 2030.5 1891.2 2025.3M1891.2 2025.3L1895.8 2034.1 1895.7 2036.6 1887.5 2028.1M1873.7 2038L1881.1 2051.4 1876.2 2047.1 1869.9 2040.6M1869.9 2040.6L1871.4 2045.7 1867.3 2042.3M1867.3 2042.3L1868.8 2047.3 1871.3 2053.8 1866.4 2049.3 1862.2 2045.8M1862.2 2045.8L1861.9 2048.2 1861.8 2050.8 1863.6 2056.4 1867.1 2064.6 1872.7 2076.3 1868.2 2072.2 1853.8 2052.7 1851.8 2052.5M1851.8 2052.5L1853.5 2058 1852.4 2059.3 1847.9 2055M1846.6 2055.8L1856.4 2074.5 1844 2057.4M1841.3 2059L1845 2068 1841.7 2065.5 1837.4 2061.4M1836 2062.2L1839.4 2070.8 1833.4 2063.8M1832.1 2064.6L1834.1 2071.1 1835 2075.8 1828.1 2066.9M1821.4 2070.8L1827.7 2085.3 1822.2 2078.7 1821.9 2081.4 1816 2073.8M1816 2073.8L1815.3 2075.7 1824.9 2096.6 1811.9 2076M1801 2081.8L1810.7 2104.1 1803.7 2093.9 1796.8 2083.9M1796.8 2083.9L1795.7 2085 1794.1 2085.3M1794.1 2085.3L1794 2088.6 1793.4 2090.9 1795.3 2098.3 1794 2099.1 1787.2 2088.7M1787.2 2088.7L1788.7 2095.3 1789.6 2100.8 1783 2090.7M1783 2090.7L1791.1 2111.3 1783.8 2099.5 1792.7 2122.2 1786.9 2113.6 1784 2111.1 1780.3 2106.9 1779.5 2109 1771.8 2095.9M1761.9 2100.3L1764.9 2111.1 1763.4 2111.6 1761.6 2111.2 1760.7 2113.2 1757.5 2109.7 1756.7 2111.8 1757.8 2118.5 1750.6 2105.2M1746.3 2106.9L1748.3 2116.2 1750.4 2125.5 1742 2108.7M1740.5 2109.2L1739.2 2110 1741.7 2120.6 1743.7 2130.1 1736.5 2115.9 1733.3 2112M1733.3 2112L1737.7 2127.8 1737 2130.6 1729 2113.7M1729 2113.7L1730 2120.8 1729.1 2122.8 1724.7 2115.3M1723.2 2115.8L1724.5 2123.9 1720.3 2116.8M1714.5 2118.9L1714.3 2123.2 1711.7 2120.2 1712.8 2128.4 1713.4 2135.1 1710.9 2132.5 1709 2131.7 1704.2 2122.3M1704.2 2122.3L1705.4 2130.9 1704 2131.6 1699.8 2123.8M1692.5 2126.1L1692.4 2131 1689.8 2127.8 1690 2134.1 1688 2132.8 1688.1 2138.7 1685.6 2135.8 1683.3 2133.2 1684.1 2141.6 1682.1 2140.4 1677.7 2130.4M1673.2 2131.7L1676.8 2151 1674.6 2148.8 1668.7 2132.9M1667.2 2133.3L1668.4 2144 1664.3 2134.4 1662.7 2134.5M1661.2 2134.8L1660.4 2137.7 1662.3 2151.8 1657.5 2139.2 1657.1 2143.7 1660 2162.4 1657.5 2159.1 1656.4 2161.4 1653.5 2156 1651.4 2154.1 1646.2 2138.5M1643.2 2139.1L1647.4 2165.2 1642.9 2152.2 1639.4 2143.3 1637.2 2140.5M1634.2 2141.1L1637.4 2164.3 1633.2 2151.8 1630.2 2145.1 1628.1 2142.3M1628.1 2142.3L1627.2 2145.5 1626.9 2152.4 1624.9 2150.4 1624 2153.7 1620.5 2143.8M1602.3 2147L1603.1 2162.1 1601.8 2164.2 1598.3 2151.8 1597.2 2154.8 1596.3 2159.7 1593.8 2152.9 1591.6 2148.6M1591.6 2148.6L1591.3 2157.8 1589.7 2157.8 1588.3 2159.1 1587.9 2168 1583.9 2149.6M1583.9 2149.6L1582.7 2151.8 1582.2 2160.9 1582.4 2175.4 1577.8 2150.4M1574.7 2150.7L1573.8 2155.8 1571.7 2151.1M1564 2151.9L1562.5 2152.4 1560.9 2152.2M1556.3 2152.6L1556.1 2168.6 1554.8 2171.8 1551.7 2153M1550.1 2153.1L1548.8 2156.5 1547.1 2153.3M1545.5 2153.4L1544.6 2162.6 1543.9 2176.6 1542.1 2173.7 1539.6 2158.6 1538.1 2158.7 1536.3 2154.9 1534.7 2154.1M1517.8 2154.8L1516.4 2160.9 1515 2167.5 1513.3 2166 1511.6 2154.9M1511.6 2154.9L1510.1 2156.5 1508.8 2175.6 1507.1 2166 1505.5 2172.1 1503.9 2165.7 1502.3 2156.2 1500.8 2155M1500.8 2155L1499.2 2174.8 1497.7 2162.3 1496.1 2159.5 1494.6 2155M1490 2154.9L1488.4 2158.7 1486.6 2166.8 1485 2167.5 1483.3 2172.4 1482.2 2157.9 1480.3 2168.2 1478.8 2165.7 1477.5 2157.7 1476.1 2154.6M1476.1 2154.6L1474.2 2163.5 1472.5 2165.9 1470.8 2168.4 1469.6 2160.1 1468.2 2157.2 1466.3 2163.7 1464.6 2166.4 1462.7 2171.7 1460.7 2179.3 1460.2 2161.1 1458 2171.9 1457.6 2153.6M1457.6 2153.6L1455.6 2160.1 1454.3 2156.4 1451.3 2175.8 1451.2 2155.7 1448.9 2165.1 1448.3 2153M1446.8 2152.8L1444.2 2165.6 1442.5 2167 1441.7 2157.4 1438.1 2180.6 1438.1 2162.7 1435.8 2170.6 1436 2151.9M1422.2 2150.4L1420.4 2152.2 1418.9 2151.5 1415.9 2163 1414.7 2160.4 1412.9 2162 1410.4 2168.9 1410.2 2158.1 1408.2 2161.5 1408.4 2148.6M1399.3 2147.2L1396.4 2155.3 1395.5 2150.8 1394.3 2149 1391.3 2157.1 1388.8 2162.8 1386.7 2165.6 1388.1 2148.5 1385.1 2156.1 1383.5 2156.4 1384 2144.7M1384 2144.7L1382.1 2146.4 1381 2144.1M1381 2144.1L1379.2 2145.2 1377 2148.5 1376.4 2143.2M1365.8 2141.1L1362 2151.5 1360.7 2150.3 1359.8 2147.2 1358.3 2146.9 1354.2 2157.8 1352.2 2159.7 1354.7 2141.2 1353.8 2138.5M1352.3 2138.1L1346.4 2156.3 1349.3 2137.4M1347.8 2137.1L1344.6 2143.7 1341.4 2149.9 1343.2 2136M1338.8 2134.8L1332 2154.9 1333.3 2143.6 1333.6 2136.3 1331.3 2138.9 1329.2 2140.5 1329.3 2134.2 1328.3 2132.1M1326.8 2131.7L1319.5 2152.4 1322.7 2134.9 1318.5 2144.3 1320 2132.9 1314.2 2147.7 1313.7 2143.5 1313.9 2137.3 1308.2 2151.1 1313.4 2127.9M1306.1 2125.6L1303.7 2128 1298 2141 1301.6 2124.2M1298.7 2123.3L1297.2 2123 1290.7 2137.9 1289.2 2137.1 1289 2132.9 1287 2133.9 1280.8 2147.3 1288.4 2119.9M1287 2119.4L1284.7 2121.3 1281.9 2124.6 1282.3 2118.8 1281.1 2117.4M1273.9 2114.7L1266.2 2130.9 1271 2113.7M1271 2113.7L1260.9 2136.1 1266.7 2116.2 1265.3 2115.6 1264.3 2113.8 1262.3 2114.7 1261.6 2112.1 1260.9 2109.8M1258 2108.7L1253.9 2114.9 1255.1 2107.5M1253.7 2106.9L1247.3 2118.6 1243.4 2123.9 1246.4 2112.6 1242.7 2117.2 1235.9 2129.5 1236.7 2123.5 1243 2104.4 1242.3 2102.2M1242.3 2102.2L1235 2115.3 1236.1 2108.7 1238.1 2100.3M1238.1 2100.3L1235.8 2101.6 1232.3 2105.8 1232.6 2101.2 1231.9 2099 1231 2097.2M1229.6 2096.6L1218.7 2116.8 1216.2 2118.4 1215.5 2116.1 1220.9 2100.6 1219.5 2100 1215.5 2104.7 1215.1 2101.9 1218.4 2091.4M1208.7 2086.6L1198.5 2103.5 1203.3 2090.4 1204.5 2084.6M1204.5 2084.6L1202.9 2084.3 1201.4 2083.9 1197.4 2088.3 1192.7 2094 1195.1 2085.9 1193.4 2085.9 1187.3 2094 1187.7 2090 1184.6 2092.4 1188.2 2082.4 1189.5 2076.7M1186.8 2075.2L1178.5 2087 1178.8 2083.3 1182.7 2073M1181.3 2072.3L1176.9 2077 1176.1 2075.2 1174.3 2075.4 1176 2069.2M1174.6 2068.5L1164.8 2082.4 1171.9 2066.9M1171.9 2066.9L1167.8 2071 1161.7 2078.3 1167.9 2064.6M1167.9 2064.6L1162.3 2071.1 1161.7 2069 1161.8 2065.9 1160.1 2065.6 1161.3 2060.6M1160 2059.8L1148.6 2075.6 1153 2065.3 1147.5 2071.3 1144.5 2073.1 1147.3 2065.7 1145.7 2065.2 1150.3 2055 1136.4 2074 1139.2 2066.6 1136.7 2067.6 1143.5 2054 1144.3 2050M1135.3 2044L1126.2 2054.7 1126.7 2051.2 1125.6 2050 1130.1 2040.7 1128.9 2039.7M1128.9 2039.7L1125.8 2041.5 1126.3 2038 1125.1 2037.1M1125.1 2037.1L1123.3 2036.9 1122.5 2035.3M1120 2033.5L1118.6 2032.8 1104.5 2049.9 1105.7 2045.3 1105.9 2042.4 1109.8 2034.4 1112.5 2028.1M1110 2026.3L1106.8 2027.9 1107.5 2024.4M1107.5 2024.4L1106.3 2023.5 1099.5 2029.9 1092.3 2036.8 1102.6 2020.7M1102.6 2020.7L1099.3 2022.5 1100.2 2018.8M1096.5 2016L1087.1 2025.5 1087.6 2022.3 1086.3 2021.3 1073.1 2035.4 1083.8 2019.4 1089.2 2010.2M1088 2009.2L1083.9 2011.9 1074.9 2020.4 1084.5 2006.3M1084.5 2006.3L1079 2010.5 1074.7 2013.2 1080.9 2003.4M1075 1998.4L1060.5 2012.9 1065.8 2004.3 1068.9 1998.3 1064.6 2000.9 1051.7 2013.4 1062.6 1998.5 1058 2001.3 1065.7 1990.3M1061.1 1986.2L1051.6 1994.3 1051.4 1992.1 1056.9 1983.8 1056.5 1982M1054.2 1979.9L1049.4 1982.8 1050.1 1979.8 1050.8 1976.7M1045.2 1971.4L1042 1972.5 1043 1969.3M1041.9 1968.2L1032.9 1975.1 1036.5 1969.2 1038.6 1964.9M1038.6 1964.9L1033.5 1967.8 1033.5 1965.7 1035.3 1961.7M1035.3 1961.7L1027.9 1966.8 1025.7 1966.8 1029 1961.4 1024.5 1963.6 1029.9 1956.1M1029.9 1956.1L1023.8 1960 1027.8 1953.9M1025.7 1951.7L1016 1958.7 1023.5 1949.4M1020.4 1946.1L1007.9 1955.5 995.6 1964.7 1000.7 1957.9 1007.1 1949.8 1007.4 1947.4 1014.1 1939.2M1012 1936.9L1000.6 1945.1 1009.9 1934.7 1009 1933.5M1004.9 1928.8L998.6 1932.2 992.4 1935.5 1001.9 1925.3M1001.9 1925.3L1000.2 1924.7 999.9 1923M998.9 1921.8L982.8 1933.3 988 1926.8 995.5 1918.6 990 1921.1 989.7 1919.4 983.1 1922.7 991.5 1913.8 986.6 1915.9 989.2 1911.7 988 1910.7 988.1 1908.6M987.1 1907.4L983 1908.8 976.3 1912.1 984.3 1903.8M983.3 1902.6L979.7 1903.5 981.4 1900.1M981.4 1900.1L971.6 1905.8 974.5 1901.6 978.6 1896.5M976.8 1894L967.3 1899.1 965.9 1898.3 974 1890.3M971.2 1886.6L961.3 1891.9 956.9 1893.1 957.9 1890.5 953.6 1891.6 955 1888.7 965.8 1879M964 1876.5L954 1881.7 949.3 1883 961.4 1872.7M955.3 1863.8L949.3 1865.9 948 1864.9 952.7 1859.9M952.7 1859.9L938.1 1867.7 951.1 1857.3M951.1 1857.3L942.3 1861.2 947.3 1856.1 947.2 1854.3 947.7 1852.1M946.9 1850.8L939.4 1853.7 944.4 1848.7 944.3 1847 933 1852.2 942.8 1844.3M942.8 1844.3L936.8 1846.2 941.2 1841.7M941.2 1841.7L922.8 1851 935.1 1841.7 932.8 1841.3 934.2 1838.7 937.2 1835M936.4 1833.7L934.6 1833 924.3 1837.2 929.6 1832.3 933.3 1828.4M927.2 1817.6L909 1825.9 916.3 1820.1 924.9 1813.6M924.2 1812.2L923.3 1811 919 1811.5 921 1808.7 903.8 1816 908.9 1811.6 904.3 1812.2 915.2 1804.7 918.4 1801.3M917 1798.6L910.8 1800 904.7 1801.3 914.9 1794.4M914.9 1794.4L901.4 1799.5 890.5 1803.1 912.8 1790.3M911.5 1787.5L895.2 1793.7 884.7 1797 900.2 1787.8 906.4 1783.1 908.1 1780.6M905.5 1775L894.3 1778.4 904.2 1772.2M904.2 1772.2L898.8 1772.9 902.5 1769.6 902.3 1767.9M900.4 1763.7L894.1 1764.8 897.6 1761.6 880.8 1767.1 884.3 1763.9 897.4 1756.6M893.2 1746.6L868.7 1754.9 872.8 1751.5 890.4 1742.8 878.3 1745.9 890.3 1739.5M890.3 1739.5L886.1 1739.5 883.4 1738.9 888.7 1735.2M887.6 1732.3L886.8 1730.9 872 1734.8 873.2 1732.7 877.6 1729.4 877.5 1727.7 884.3 1723.6M884.3 1723.6L868.4 1727.7 883.1 1720.7 882.8 1719.2M880.2 1711.9L869.2 1714 862.2 1714.7 878.7 1707.5M878.7 1707.5L863.7 1710.9 860.5 1710.3 861.6 1708.2 862 1706.5 876.3 1700.2M876.3 1700.2L874.6 1699.1 875.4 1697.3M875.4 1697.3L856.1 1701.7 874.5 1694.3M874 1692.8L864.3 1694.2 865.2 1692.3 871.6 1688.7 870.3 1687.5 862.3 1688.2 854.8 1688.8 870.9 1682.5M866.8 1667.6L848.9 1670.7 844.3 1670.3 848.2 1667.6 848 1666 862.1 1660.8 851.6 1661.9 864.1 1657.1M858.3 1631.5L850.7 1631.5 857.7 1628.5M857.1 1625.5L856 1624.1 856.5 1622.4M856.5 1622.4L853.5 1621.4 856 1619.4M855.1 1614.8L834.4 1616.9 854.6 1611.8M853.8 1607.2L844.7 1607.1 853.3 1604.2M852.9 1601.1L850.3 1600 850.6 1598.3 852.2 1596.5M851.5 1592L845.1 1591.3 845.8 1589.6 834.4 1589.6 846.5 1586.4 848.7 1584.5 850.3 1582.8M849.5 1576.7L829 1577.5 849.1 1573.6M849 1572L846.1 1570.8 847.6 1569.1 848.5 1567.4M848.3 1565.9L833.7 1565.8 848 1562.8M847.9 1561.3L834 1561 841.1 1558.8 847.5 1556.7M847.3 1555.1L846.9 1553.6 840.8 1552.6 839 1551.1 846.8 1549M846 1536.7L845.3 1535.1 845.9 1533.6M845.8 1532L844.6 1530.5 845.3 1529 821 1528.4 845.5 1525.9M845.5 1524.3L838.8 1523 845.3 1521.2M845.3 1521.2L843.4 1519.7 845.3 1518.1M845.2 1516.6L832.7 1515.3 839.5 1513.6 835 1512.2 845.1 1510.4M845 1504.2L844.7 1502.7 843.2 1501.2 845 1499.6M845 1495L816.1 1493.1 826.3 1491.7 841.9 1490.3 823.4 1488.4 823.7 1486.8 829 1485.4 828 1483.8 844.8 1482.6 845.3 1481.1M845.3 1479.5L844 1478 845.4 1476.5M845.5 1474.9L842.9 1473.3 845.6 1471.8M845.6 1471.8L838.9 1470 827.6 1467.9 845.8 1467.2M845.8 1467.2L834.7 1465.1 846 1464.1M846.1 1462.6L843.5 1460.9 836.4 1458.9 846.4 1457.9M847 1448.7L844.9 1447 847.3 1445.6M847.3 1445.6L837.6 1443.2 847.5 1442.5M847.7 1441L824.3 1437.3 843.3 1437.5 842 1435.8 838.4 1433.9 844 1432.9 848.6 1431.8M848.6 1431.8L842 1429.5 841.2 1427.9 838.9 1426 849.2 1425.6M849.2 1425.6L844.6 1423.6 847.5 1422.3 849.8 1421M850.5 1414.9L847.2 1412.9 851 1411.9M851.6 1407.3L849.1 1405.3 851.6 1404.1 852.3 1402.7M852.5 1401.2L851.3 1399.4 853 1398.1M853 1398.1L845.2 1395.3 853.5 1395.1M853.7 1393.5L840 1389.7 852.7 1390.2 844.3 1387.2 851.3 1386.8 852.5 1385.5 843.7 1382.3 848.7 1381.6 855.2 1381.2 856.1 1379.8M856.1 1379.8L854.2 1377.9 856 1376.7 857 1375.3M858.2 1369.2L845.3 1365 848.8 1364.1 842.2 1361.1 838.9 1358.8 858.9 1361.5 860.1 1360.2M860.1 1360.2L855.1 1357.5 860.8 1357.2M861.4 1354.1L850.3 1350 852.4 1348.9 862.5 1349.6M865.4 1337.6L865.1 1335.9 853 1331.2 866.6 1333.1M868.2 1327.2L858.8 1323 869 1324.2M869 1324.2L866.9 1322 863.6 1319.5 870.3 1319.7M871.1 1316.8L860.6 1312.1 865.2 1311.8 872.5 1312.3M872.9 1310.9L872.9 1309.2 868 1306.1 870.2 1305.2 864.2 1301.7 875.2 1303.5M879 1291.7L878.7 1290 880 1288.8M880 1288.8L868.3 1283.1 872.3 1282.9 881.5 1284.4M882 1283L873.2 1278.2 883 1280.1M883.6 1278.6L872.1 1272.8 881.1 1274.4 885.1 1274.2M887.3 1268.5L856.1 1254.9 856.6 1253.4 888.9 1264.1M888.9 1264.1L879.6 1258.8 879.6 1257.2 890.6 1259.8M891.2 1258.4L884.5 1254 890.7 1254.9 892.9 1254.1M892.9 1254.1L887.1 1250 894.1 1251.2M894.1 1251.2L879.4 1243.5 890.3 1246.3 894.3 1246.3 896.5 1245.5M896.5 1245.5L888.7 1240.5 887.2 1238.2 898.3 1241.3M898.3 1241.3L895.1 1238.2 899.5 1238.4M900.7 1235.6L894.8 1231.2 892.9 1228.7 892.2 1226.6 903.3 1229.9M903.9 1228.5L903 1226.4 899.1 1222.9 905.8 1224.3M907.1 1221.5L897.2 1215.1 908.5 1218.7M914.6 1206.3L908.3 1201.4 905.3 1198.1 908.7 1198 912.6 1198.3 908.8 1194.6 918.8 1198M918.8 1198L916.6 1195.1 914.6 1192.3 917.3 1192 904.4 1183.3 911.7 1185.5 913.8 1184.8 912.8 1182.5 924.6 1187.1M924.6 1187.1L904.9 1174.6 911.4 1176.3 924.4 1181.7 927.6 1181.7M929.8 1177.6L929.7 1175.8 931.3 1175M932.1 1173.6L931.1 1171.3 933.7 1170.9M936 1166.9L935.3 1164.8 927.3 1158.2 938.4 1163M939.2 1161.6L935 1157.3 911.7 1141.3 936.1 1154.3 937.4 1153.3 940.3 1153.2 929.6 1144.8 925.8 1140.5 937.5 1146 933.6 1141.7 947.3 1148.5M947.3 1148.5L946.4 1146.1 949 1145.9M949 1145.9L947.3 1143 950.6 1143.3M950.6 1143.3L948.2 1139.9 952.3 1140.7M952.3 1140.7L948.6 1136.4 949.2 1135 954.9 1136.9M957.5 1133L951.4 1127 954.9 1127.5 952.1 1123.7 945.6 1117.3 957.3 1123.5 954.8 1119.8 963.1 1123.7 953.3 1115 965.4 1121.6M970.8 1114.1L951.9 1098.3 972.6 1111.6M975.4 1107.9L965.1 1098.2 966.1 1097 968.3 1096.7 960.4 1088.7 980 1101.7M980 1101.7L961.6 1085.6 955 1078.4 956.3 1077.4 973.7 1088.9 984.5 1095.4 985.7 1094.4M985.7 1094.4L981.4 1089 965.8 1074.5 988.6 1090.8M989.6 1089.5L981 1080.6 983.9 1081 992.5 1085.9M992.5 1085.9L992.4 1083.9 990.2 1080.1 995.4 1082.4M995.4 1082.4L989.3 1075.3 997.4 1080M997.4 1080L986.9 1069.2 992.8 1072.1 1000.4 1076.4M1002.4 1074.1L1000.9 1070.8 1002.6 1070.2 1005.4 1070.6M1005.4 1070.6L1003.6 1067 998.3 1060.2 1008.4 1067.1M1008.4 1067.1L1007.9 1064.6 1010.5 1064.8M1014.6 1060.2L1015.6 1059 1016.7 1057.9M1017.7 1056.8L1012 1049.4 1019.8 1054.5M1019.8 1054.5L1011.6 1044.7 1021.9 1052.2M1021.9 1052.2L1012.6 1041.3 1023.7 1049.6 1025.1 1048.9M1030.5 1043.3L1020.7 1031.5 1022 1030.6 1033.7 1040M1033.7 1040L1034.1 1038.2 1035.9 1037.8M1035.9 1037.8L1036.1 1035.9 1033.1 1030.6 1028.9 1024.1 1021.4 1014.3 1029.3 1020 1034.2 1022.8 1030.7 1017 1044.7 1029.1M1045.8 1028.1L1040.1 1019.9 1041.9 1019.5 1047.3 1022.9 1040.1 1013 1049 1020.2 1049.7 1018.7 1046.5 1012.9 1054.8 1019.6M1054.8 1019.6L1044 1005.6 1050.7 1010.6 1056.3 1014.4 1059.3 1015.4M1059.3 1015.4L1054.3 1007.5 1061.6 1013.3M1061.6 1013.3L1058.1 1007.1 1042.8 987.6 1062.5 1007.3 1066.2 1009.2M1066.2 1009.2L1055.7 995 1066.9 1005.2 1069.7 1006.2M1069.7 1006.2L1067.8 1001.6 1066.6 997.8 1063.5 991.8 1069.1 995.9 1066 989.9 1076.7 1000.1M1076.7 1000.1L1072.2 992.3 1078.1 996.9 1074.1 989.7 1081.5 996.2M1081.5 996.2L1081.2 993.4 1072.8 980.7 1085.1 993.2M1086.2 992.2L1082.4 985.1 1087 988.3 1089.8 989.3M1089.8 989.3L1086.4 982.5 1076.6 967.6 1093.5 986.4M1093.5 986.4L1094.6 985.3 1093.4 981.3 1097.1 983.6M1097.1 983.6L1096.1 979.7 1094.6 975.2 1100.8 980.7M1100.8 980.7L1094.5 970 1103.2 978.8M1103.2 978.8L1103.4 976.6 1096.2 964.4 1086.5 948.9 1108.2 975.1M1108.2 975.1L1103.5 966.3 1091.9 948 1107.8 966.8 1103.7 958.6 1110.5 965.2 1115.6 969.6M1118.1 967.8L1119.1 966.5 1120.6 966M1120.6 966L1119.7 962 1123.2 964.3M1123.2 964.3L1124.1 962.9 1114.5 946.3 1119.7 951.1 1127.1 959.1 1129.1 959.2 1127.3 953.9 1113.4 930.7 1127.4 948.4 1132.9 953.8 1135.9 955.5M1148.8 947.1L1141.2 932.1 1147.1 938.6 1151.4 942.5 1150.2 937.6 1154.5 941.6 1156.7 942.2M1156.7 942.2L1156.3 938.6 1147.1 920.5 1156.6 933.1 1153.1 924.2 1163.3 938.2M1165.9 936.6L1159.3 922.4 1168.6 935M1169.9 934.2L1164 920.9 1172.4 932.3 1173.9 931.9M1173.9 931.9L1172.9 927 1175.6 928.6 1178 929.6M1178 929.6L1178.6 927.7 1180.7 928.1M1180.7 928.1L1181.8 927 1180.7 921.8 1184.7 925.9M1187.4 924.4L1185.1 916.8 1184.7 912.8 1184.5 909 1185.1 906.8 1186.8 906.6 1191.3 911.8 1197 919.3M1197 919.3L1195 912.2 1199.7 917.9M1199.7 917.9L1189.9 895.3 1197.5 906.8 1201.5 911.1 1205.2 915.1M1205.2 915.1L1201.1 903.3 1202.4 902.5 1209.4 913M1213.5 911L1206.5 892.9 1205.5 887.1 1217.7 909M1217.7 909L1215.1 900 1218.9 904.2 1217.9 898.4 1223.3 906.3M1224.7 905.7L1221.4 894.8 1227.5 904.4M1227.5 904.4L1224.4 893.9 1230 902.3 1226.2 890.3 1229.5 893.7 1234.5 901.2M1235.9 900.6L1237.3 899.9 1238.8 899.3M1238.8 899.3L1239.4 896.9 1241 896.8 1236 881.1 1244.4 896.9M1245.9 896.3L1245.8 892.2 1248.7 895.1M1257.3 891.6L1255.1 881.9 1260.2 890.5M1260.2 890.5L1258.9 882.9 1256.8 873.2 1258.9 874.4 1263.2 881 1267.4 887.7M1268.8 887.2L1270.2 886.4 1270 881.5 1273.2 885.5M1274.6 885L1274.2 879.3 1277.5 883.9M1277.5 883.9L1278.3 881.4 1280.4 882.9M1281.9 882.4L1278.1 867 1280.7 869.7 1284.7 876.3 1287.7 880.4M1289.2 879.9L1290.1 877.6 1292.1 878.9M1292.1 878.9L1289.7 866.8 1295 877.9M1300.9 876L1301.7 873.4 1303.8 875.1M1317.1 871L1315.6 860.3 1320.1 870.2M1333.5 866.5L1333.6 860.7 1334.4 857.5 1338 865.3M1338 865.3L1338.9 862.7 1341 864.6M1341 864.6L1340.1 854.5 1344 863.8M1347 863.1L1346.7 855 1350 862.4M1350 862.4L1350.7 858.6 1352.7 860.6 1354.5 861.4M1356 861L1355.2 850.1 1355.9 846.3 1356.7 842.3 1362.1 859.7M1368.1 858.4L1366.3 841.6 1365.7 830.7 1372.6 857.5M1380.2 856L1380.8 850.7 1383.2 855.3 1384.1 851.2 1386.3 854.9M1386.3 854.9L1385.7 842.2 1386.6 838.5 1390.9 854.2M1393.9 853.6L1394.3 846.1 1397 853.2M1397 853.2L1397.6 847.2 1400 852.7M1401.5 852.4L1402.2 846.6 1404.6 852M1406.1 851.8L1406.9 846.4 1407.4 838.6 1410.7 851.1M1410.7 851.1L1410.6 838.8 1413.2 846.7 1415.3 850.5M1415.3 850.5L1416.3 845.8 1417.9 846.1 1418.6 839.4 1421.4 849.7M1421.4 849.7L1422.3 843.8 1424.5 849.4M1424.5 849.4L1425.8 846.9 1426.8 841.7 1428.9 847.3 1430.1 844 1432.2 848.5M1432.2 848.5L1432.9 840.2 1435.2 848.2M1441.4 847.6L1442.4 841.8 1444.4 846.1 1445.8 845.1 1447.6 847.1M1453.7 846.6L1454.7 838.9 1455.7 830.5 1457.1 826.8 1459.3 836.7 1461.4 846.1M1461.4 846.1L1462.8 843.6 1464.5 846M1464.5 846L1466 844.3 1467.6 845.8M1467.6 845.8L1468.5 833.4 1470.4 839.4 1472.2 845.6M1481.5 845.3L1482.8 837 1484.2 831.4 1486.1 845.1M1487.6 845.1L1489.1 842.3 1490.7 845.1M1492.3 845L1493.6 825.3 1495.4 845M1495.4 845L1496.9 844.8 1498.5 845" fill="none" stroke="#6baed6" stroke-width="1.8" stroke-linejoin="round"/><path d="M1500 845L1501.5 845 1503.1 850.3 1504.5 857.1 1506.2 845 1507.7 845 1509.3 845.1 1510.8 845.1 1512.4 845.1 1513.9 845.1 1515.4 845.2 1516.8 850.8 1518.1 861.3 1520.1 845.3 1521.6 845.4 1523.2 845.4 1524.7 845.5 1525.2 872.7 1527.8 846.1 1529 853.8 1530.3 856.8 1531.7 859.7 1534 846 1535.5 846 1537 846 1538.6 846.1 1540.1 846.2 1541.7 846.3 1542.8 852.2 1544.7 846.5 1545.9 852.7 1547.8 846.7 1549.4 846.9 1550.5 852 1552.4 847.1 1554 847.2 1555.2 851.3 1556.7 851.6 1558.6 847.6 1560.1 847.8 1561.6 849.2 1563.2 848.1 1564.8 848.2 1566.3 848.4 1566.6 860.8 1569.2 850.3 1567.6 879.3 1572.4 849 1574 849.2 1575.5 849.4 1576.4 855.1 1576 870.8 1580.1 849.9 1581.6 850.1 1582.9 852.4 1584.6 851.5 1585.1 859.5 1587.3 854.3 1586.3 873.1 1590.8 851.3 1592.3 851.5 1593.9 851.8 1594.5 858.1 1595.1 864.3 1595.7 870.5 1596.1 878.1 1596.4 885.4 1598.8 879.5 1600 881.3 1604 866.5 1606.6 860.2 1609.1 854.2 1607.3 874.2 1612.2 854.7 1613.7 854.9 1611.5 876.1 1613.5 873.6 1618.2 855.9 1619.4 858.1 1621.3 856.3 1622.8 856.6 1624.3 856.9 1623 871.6 1624.3 873 1626.6 869 1627.8 870.7 1631 862.7 1633.4 858.7 1629.7 884 1636.4 859.4 1637.9 859.7 1639.5 860 1641 860.3 1642.5 860.7 1644 861 1645.5 861.4 1647 861.7 1648.5 862.1 1650 862.4 1644.6 891.9 1650.3 874.4 1654.5 863.5 1656 863.8 1657.5 864.2 1659 864.6 1657.4 877.3 1661.3 868.1 1663.5 865.7 1665 866.1 1661.6 885.1 1668 866.9 1669.5 867.3 1670.8 868.2 1672.4 868.1 1670.7 880.4 1675.4 868.9 1675.2 875.4 1675.1 881.4 1674.1 890.4 1674.3 895.1 1676.8 892 1680.1 885.9 1683.9 878.5 1687.3 872.3 1688.8 872.8 1690.3 873.2 1688.2 885.2 1690.5 882.8 1694.5 875.1 1696.2 875.1 1697.6 875.5 1699.1 876 1700.4 877 1700.6 881.4 1703.5 877.4 1705 877.9 1706.4 878.4 1707.9 878.9 1709.4 879.4 1704.1 899.7 1711.4 883 1707.1 900.2 1715.2 881.4 1716.7 881.9 1718.1 882.4 1717.6 888.5 1716.3 896.6 1721.1 887.9 1723.9 884.5 1725.4 885 1726.8 885.5 1727.8 887.3 1722.2 906.7 1719.7 917.5 1732.6 887.7 1734.1 888.3 1730.9 900.8 1737 889.4 1738.4 889.9 1739.8 890.5 1741.3 891.1 1742.7 891.6 1739.3 904.2 1745.6 892.8 1745.8 896.4 1748.4 893.9 1749.9 894.5 1751.3 895.1 1752.7 895.7 1754.1 896.3 1755.3 897.5 1755 902.1 1752.1 912.7 1759.8 898.7 1761.2 899.3 1762.6 900 1762.8 903.5 1765.5 901.2 1766.9 901.8 1768.3 902.5 1769.7 903.1 1771.1 903.7 1772.5 904.4 1773.9 905 1775.3 905.7 1776.7 906.3 1777.1 909.1 1779.5 907.6 1780.9 908.3 1780.6 912.6 1783.7 909.6 1785.1 910.3 1786.5 911 1787.9 911.6 1789.3 912.3 1790.6 913 1792 913.7 1793.4 914.4 1794.8 915.1 1796.2 915.8 1797.5 916.5 1795.4 924.1 1798.2 921.9 1794.3 932.7 1803 919.3 1795.6 936.7 1801 929.7 1807.1 921.5 1808.5 922.2 1808.7 925 1808 929.7 1809.8 929.4 1807.6 936.7 1815.3 925.9 1816.6 926.6 1818 927.4 1819.3 928.1 1820.7 928.9 1822 929.6 1823.4 930.4 1824.7 931.2 1826.1 931.9 1823.1 940.1 1799.5 983.8 1816.9 956.8 1813.5 965.6 1818.2 960.4 1824.7 952.4 1830.8 945.1 1833.2 944 1836.5 941.5 1835.6 945.9 1840.7 940.6 1842 941.4 1843.3 942.2 1844.6 943 1845.9 943.8 1847.2 944.6 1848.6 945.4 1849.9 946.3 1841.8 961.8 1852.5 947.9 1853.8 948.8 1853.6 951.9 1849.3 961.3 1841.5 976 1858.5 952.9 1856.1 959.3 1861.5 953.8 1862.8 954.7 1860.5 960.9 1865.4 956.4 1866.7 957.2 1867.9 958.1 1863.6 967.3 1870 960.6 1863 973.4 1873 961.6 1874.3 962.5 1875.6 963.4 1876.8 964.3 1878.1 965.1 1879.4 966 1880.6 966.9 1881.9 967.8 1882.9 969 1877.9 978.6 1883.6 973.3 1886.9 971.5 1888.1 972.4 1889.4 973.3 1890.6 974.2 1891.8 975.1 1893.1 976.1 1894.3 977 1894.6 979.2 1890.3 987.3 1895.2 983.4 1895.5 985.5 1900.4 981.7 1901.7 982.6 1899.9 987.4 1903.8 985 1905.3 985.5 1903.5 990.2 1903.5 992.7 1908.9 988.4 1910.2 989.3 1911.4 990.3 1912.6 991.3 1913 993.1 1914.9 993.2 1916.1 994.2 1917.3 995.2 1914.3 1001.2 1918.1 999.1 1917.6 1002 1917.4 1004.7 1912.5 1012.8 1921.1 1005 1916.6 1012.6 1923.9 1006.5 1928 1004.1 1929.1 1005.1 1925.2 1012 1922.8 1017.1 1923.1 1019 1919.1 1025.8 1926 1020.3 1932.1 1015.7 1931.6 1018.5 1938.4 1013.3 1931.9 1022.8 1940.4 1015.7 1941.8 1016.4 1942.9 1017.5 1944.1 1018.5 1945.2 1019.6 1946.3 1020.6 1945.9 1023.4 1948.6 1022.7 1940 1034.1 1943.8 1032.3 1952 1025.9 1953.1 1027 1949.1 1033.4 1955.3 1029.2 1948 1038.9 1957.5 1031.3 1958.6 1032.4 1959.7 1033.4 1960.8 1034.5 1961.9 1035.6 1963 1036.7 1964.1 1037.8 1965.2 1038.9 1950.3 1055.7 1967.4 1041.1 1968.4 1042.2 1969.5 1043.3 1970.6 1044.4 1969.4 1047.7 1972.7 1046.6 1973.8 1047.8 1974.9 1048.9 1964.5 1060.8 1974.5 1053.5 1978.1 1052.2 1979.1 1053.4 1976 1058.4 1973.1 1063.1 1970 1068 1967.5 1072.4 1964.1 1077.4 1969.7 1074.4 1972.7 1073.7 1973 1075.4 1984.4 1067.3 1989.5 1064.8 1990.5 1065.9 1991.6 1067.1 1992.6 1068.3 1993.6 1069.4 1992.4 1072.5 1995.6 1071.8 1996.6 1072.9 1985.8 1084.2 1998.6 1075.3 1992.6 1082.4 1993 1084.1 1981.3 1095.9 2002.6 1080 2003.6 1081.2 2004.6 1082.4 2005.6 1083.6 2005.4 1085.7 2007.5 1085.9 2008.5 1087.1 1998.8 1097 2010.4 1089.5 2011.4 1090.8 2012.4 1092 2013.3 1093.2 2004 1102.5 2015.2 1095.6 2016.2 1096.8 2017.1 1098 2018.1 1099.2 2019 1100.5 2006.6 1112 2020.9 1102.9 2021.9 1104.2 2022.8 1105.4 2019.1 1110 2024.1 1108.3 2015.2 1116.8 2016.3 1117.9 2024.9 1113.4 2028.3 1112.8 2029.2 1114.1 2030.1 1115.3 2031 1116.6 2022.7 1124.5 2019.1 1128.9 2007.3 1139.1 1994.5 1150 2013.6 1138.3 2021.4 1134.6 2037 1125.6 2038.2 1126.6 2027.8 1135.7 2033.3 1133.7 2032.4 1136.2 2041.7 1131.7 2042.5 1133 2043.4 1134.3 2044.3 1135.6 2044.3 1137.4 2046 1138.2 2040.8 1143.4 2037.7 1147.3 2035 1150.8 2024.1 1159.7 2032.9 1155.8 2042.7 1151.3 2037.1 1156.6 2052.7 1148.5 2053.5 1149.8 2054.4 1151.1 2053.4 1153.5 2041.5 1162.8 2048.9 1159.9 2053.4 1158.9 2058.1 1157.9 2054.9 1161.7 2054.9 1163.4 2059.7 1162.3 2057.5 1165.4 2047.9 1173 2057.8 1168.8 2064 1166.9 2064.8 1168.3 2065.6 1169.6 2065.1 1171.7 2067.1 1172.3 2063.6 1176.1 2047 1187.3 2056.5 1183.6 2062.3 1182.1 2067.1 1181.1 2071.5 1180.4 2072.4 1181.7 2061.1 1189.7 2051.7 1196.6 2034.1 1207.9 2029.5 1212.1 2041.9 1207 2050.1 1204.2 2064.3 1198.3 2046.3 1209.6 2055.8 1206.2 2035.4 1218.6 2010 1233.5 2042.5 1218.1 2053.6 1214 2082.5 1200.8 2072 1207.9 2056.6 1217.4 2033.8 1230.6 2000.5 1248.9 2028.2 1236.5 2061.7 1221.5 2076 1216.1 2088.2 1211.8 2078.9 1218 2068.9 1224.5 2064.5 1228.3 2050.1 1236.9 2040.2 1243.1 2052.5 1238.9 2065.5 1234.4 2076.5 1230.9 2067.7 1236.6 2080.2 1232.5 2085.3 1231.8 2092 1230.4 2096.7 1229.9 2084.3 1237.2 2077.6 1241.9 2098.6 1234.2 2061.6 1252.2 2070.6 1249.8 2100.5 1238.4 2100.1 1240.3 2096.3 1243.6 2102.3 1242.7 2102.9 1244.1 2096.5 1248.5 2094.4 1251 2104.7 1248.4 2088.2 1256.9 2095 1255.7 2102.1 1254.4 2097.9 1257.8 2100.4 1258.4 2108.2 1256.9 2108.8 1258.4 2105.1 1261.5 2109.9 1261.2 2110.5 1262.7 2111.1 1264.1 2111.6 1265.6 2075.5 1281 2112.7 1268.5 2113.3 1269.9 2113.8 1271.3 2110 1274.4 2114.9 1274.2 2115.4 1275.7 2108.1 1280 2116.4 1278.6 2109.9 1282.6 2106.8 1285.3 2118 1283 2114.3 1285.9 2119 1285.9 2118.6 1287.7 2120 1288.8 2120.5 1290.3 2121 1291.7 2121.5 1293.2 2122 1294.7 2117.9 1297.6 2122.9 1297.6 2123.4 1299.1 2123.9 1300.5 2124.4 1302 2124.8 1303.5 2125.3 1305 2113.8 1310.1 2126.2 1307.9 2125.9 1309.6 2125 1311.5 2127.5 1312.3 2128 1313.8 2128.4 1315.3 2128.9 1316.8 2129.3 1318.3 2129.7 1319.7 2130.1 1321.2 2130.6 1322.7 2131 1324.2 2131.4 1325.7 2128.6 1328 2107.8 1335.3 2115.6 1334.7 2133 1331.7 2133.4 1333.1 2133.8 1334.6 2134.2 1336.1 2126.7 1339.6 2134.9 1339.1 2135.3 1340.6 2135.1 1342.3 2136.1 1343.6 2134.7 1345.6 2133.5 1347.4 2134 1348.9 2137.5 1349.6 2137.9 1351.1 2133 1353.8 2138.6 1354.1 2118.4 1360.3 2139.2 1357.2 2139.6 1358.7 2133.2 1361.6 2138.6 1362 2131.8 1365.1 2133.5 1366.3 2141.2 1366.2 2127 1370.7 2141.8 1369.2 2142.1 1370.7 2140.6 1372.6 2142.7 1373.8 2143 1375.3 2133.5 1378.7 2143.6 1378.3 2138.7 1380.8 2135.1 1383 2138.5 1384 2144.7 1384.4 2135.1 1387.7 2124.4 1391.1 2130 1391.6 2125 1394 2120.8 1396.2 2125.6 1396.9 2120.7 1399.3 2139.1 1397.8 2147 1398.1 2122.5 1403.5 2144.1 1401.7 2138.6 1404.1 2139.9 1405.4 2139.5 1407 2148.4 1407.3 2148.4 1408.8 2138.1 1411.8 2133.1 1414 2144.7 1414 2149.5 1414.9 2140.8 1417.6 2149.8 1418 2150 1419.5 2133 1423.1 2150.4 1422.6 2150.6 1424.1 2150.8 1425.6 2150.9 1427.2 2151.1 1428.7 2147.1 1430.7 2137.8 1433.2 2123.3 1436.2 2151.8 1434.9 2150.4 1436.5 2147.2 1438.4 2151.3 1439.6 2152.3 1441 2152.5 1442.5 2152.6 1444.1 2151.2 1445.8 2152.9 1447.2 2153 1448.7 2133.7 1451.7 2137.8 1452.9 2153.3 1453.3 2153.4 1454.9 2153.5 1456.4 2153.6 1457.9 2143.6 1460.1 2132.9 1462.3 2142.4 1463.2 2154 1464.1 2154.1 1465.7 2128.7 1468.5 2154.3 1468.7 2149.2 1470.5 2153.6 1471.9 2149.2 1473.6 2149.9 1475.1 2147.2 1476.7 2145.6 1478.3 2154.7 1479.5 2154.7 1481.1 2154.8 1482.6 2142.8 1484.5 2120.9 1486.5 2137.9 1487.6 2147.7 1488.9 2154.9 1490.3 2154.9 1491.9 2155 1493.4 2155 1495 2155 1496.5 2155 1498.1 2149.1 1499.6 2155 1501.2 2149.8 1502.7 2147.1 1504.2 2155 1505.8 2155 1507.3 2154.9 1508.9 2152.3 1510.4 2154.9 1512 2153.5 1513.5 2152.5 1515 2144.4 1516.3 2139 1517.7 2141.5 1519.3 2154.7 1521.2 2144.6 1522.4 2154.5 1524.3 2152.4 1525.8 2147.1 1527.1 2148.3 1528.7 2154.3 1530.5 2154.2 1532 2154.1 1533.6 2152.6 1535 2135.9 1535.6 2136.7 1537.2 2153.8 1539.7 2144.2 1540.7 2137.7 1541.8 2153.5 1544.4 2142.2 1545.1 2153.3 1547.4 2153.2 1549 2153 1550.5 2152.9 1552.1 2138 1552.4 2136.6 1553.8 2148.1 1556.3 2152.1 1558.2 2152.3 1559.8 2152.1 1561.3 2140.9 1561.8 2129.1 1562.1 2151 1565.8 2151.5 1567.4 2151.4 1569 2151.2 1570.5 2151 1572 2150.9 1573.6 2145 1574.5 2150.5 1576.7 2150.3 1578.2 2150.1 1579.7 2149.9 1581.3 2141.6 1581.7 2149.6 1584.3 2149.4 1585.8 2149.1 1587.4 2119.7 1584.9 2148.7 1590.4 2148.5 1592 2148.3 1593.5 2146.9 1594.9 2147.8 1596.5 2147.6 1598.1 2135.5 1597.8 2128.1 1598.2 2113.4 1597.3 2097.5 1596.3 2117.5 1601 2125.6 1603.8 2133.5 1606.7 2145.7 1610.3 2145.4 1611.8 2144.1 1613.1 2134.3 1613 2144.6 1616.4 2144.3 1617.9 2138.2 1618.3 2140.7 1620.3 2136.2 1621.1 2129.4 1621.3 2121 1621.2 2116.4 1621.8 2121.7 1624.4 2126.7 1626.9 2135 1630.1 2129.8 1630.6 2138.2 1633.9 2140.7 1636.1 2140.4 1637.6 2140.1 1639.1 2137.9 1640.2 2130.2 1640 2117.2 1638.7 2110.7 1638.7 2099.5 1637.7 2110.4 1641.7 2120.5 1645.6 2127 1648.7 2110.1 1646.2 2123.9 1651 2133.9 1655.1 2135.9 1657.1 2135.5 1658.6 2135.1 1660.1 2134.7 1661.6 2129 1661.7 2125.1 1662.3 2113.5 1660.8 2125.3 1665.5 2121.5 1666.1 2126.9 1669.1 2109.7 1666 2118.8 1670 2131.2 1675.1 2130.8 1676.5 2113.8 1673.3 2127.9 1678.9 2129.5 1681 2129.1 1682.5 2126.2 1683.3 2099 1676.8 2113.9 1682.8 2127.3 1688.4 2126.9 1689.9 2126.4 1691.4 2126 1692.8 2125.5 1694.3 2125.1 1695.8 2114 1693.9 2124.1 1698.7 2123.7 1700.2 2119.5 1700.5 2122.7 1703.1 2122.2 1704.6 2115.1 1703.9 2118 1706.4 2120.8 1709 2111 1707.3 2109.7 1708.5 2114.3 1711.7 2115.4 1713.7 2113.5 1714.7 2107.7 1714.2 2104.4 1714.6 2116.7 1720.7 2116.2 1722.1 2115.7 1723.6 2115.1 1725 2104.9 1722.9 2098.7 1722.2 2110.8 1728.4 2113 1730.8 2112.4 1732.3 2111.9 1733.7 2111.3 1735.2 2102.5 1733.4 2094.3 1731.8 2102.7 1736.7 2103 1738.5 2108.5 1742.3 2107.9 1743.8 2103.8 1743.8 2106.8 1746.6 2106.2 1748.1 2100.2 1747.3 2105 1750.9 2066.6 1736.6 2097.8 1751.3 2097.2 1752.6 2102.6 1756.6 2102 1758 2101.4 1759.5 2100.8 1760.9 2093.2 1759.2 2084 1756.9 2087.6 1760.1 2092.2 1763.8 2086.1 1762.7 2091.6 1766.9 2096.4 1770.8 2095.8 1772.2 2093.5 1772.8 2088.8 1772.3 2090.6 1774.9 2093.2 1777.8 2092.5 1779.2 2081.1 1775.5 2085.5 1779.3 2077.5 1777.1 2089.9 1784.7 2089.2 1786.1 2085.7 1786.1 2087.8 1788.9 2085.8 1789.6 2086.5 1791.7 2085.8 1793.1 2085.1 1794.4 2084.4 1795.8 2083.7 1797.2 2077.9 1795.9 2072.4 1794.9 2066.1 1793.3 2060.8 1792.2 2058.4 1792.7 2060.1 1795.2 2064.2 1799.1 2067 1802.3 2071.6 1806.5 2073.3 1809.1 2064.6 1806.1 2069.1 1810.4 2069.3 1812.2 2068.6 1813.6 2061.4 1811.3 2066.9 1816.1 2071.3 1820.3 2070.6 1821.7 2041.9 1807.2 2068.5 1824.1 2062.5 1822.4 2053.6 1819 2065.7 1827.8 2053.9 1822.7 2065.2 1831.1 2064.4 1832.4 2063.6 1833.7 2062.8 1835 2062 1836.4 2061.2 1837.7 2060.4 1839 2059.6 1840.3 2058.8 1841.7 2058 1843 2057.2 1844.3 2056.4 1845.6 2055.6 1846.9 2054.8 1848.2 2053.9 1849.5 2053.1 1850.8 2033.8 1840.4 2051.5 1853.4 2050.6 1854.7 2048.3 1855.1 2045.3 1855 2048.1 1858.6 2047.3 1859.9 2046.4 1861.2 2045.5 1862.5 2044.7 1863.8 2043.8 1865.1 2043 1866.3 2042.1 1867.6 2041.2 1868.9 2023.9 1858.9 2031.4 1865.9 2038.6 1872.7 2037.7 1874 2036.9 1875.3 2036 1876.5 2035.1 1877.8 2034.2 1879 2033.3 1880.3 2024.4 1875.8 2031.5 1882.8 2023.3 1878.8 2014.3 1874.2 1992.8 1860.3 2010 1874.7 2026.9 1889 2016.9 1883.5 2008.2 1879 2024.2 1892.8 2022.4 1893.3 2013.5 1888.6 2014.7 1891.4 2005.8 1886.5 1997.5 1882 1991.7 1879.4 1997.8 1886 2002.2 1891.3 2007.9 1897.7 2014.8 1905 2011 1904 2012.9 1907.4 2011.9 1908.6 2009.9 1909 1993.3 1897.6 1994.7 1900.7 2000.3 1907.2 2007 1914.7 2006.1 1915.8 2005.1 1917 2004.1 1918.2 2003.1 1919.4 2002.1 1920.6 2001.1 1921.8 2000.1 1923 1994.2 1920 1998.1 1925.3 1989.1 1919.6 1978.5 1912.5 1965.8 1903.5 1974.5 1912.9 1985.1 1924.2 1992.1 1932.3 1991 1933.5 1990 1934.6 1987.8 1934.8 1988 1936.9 1986.9 1938.1 1985.9 1939.2 1984.9 1940.4 1983.8 1941.5 1977.3 1937.7 1981.7 1943.8 1980.7 1944.9 1979.6 1946.1 1978.6 1947.2 1977.5 1948.3 1965.8 1939.4 1950.8 1927.3 1938.1 1917.2 1949.7 1930.2 1962.1 1944.2 1971.1 1955 1970.1 1956.1 1969 1957.2 1967.9 1958.4 1966.8 1959.5 1965.7 1960.6 1964.7 1961.7 1959.6 1958.8 1952.4 1953.7 1961.4 1964.9 1960.3 1966 1959.2 1967.1 1958.1 1968.2 1957 1969.3 1955.9 1970.3 1954.8 1971.4 1953.6 1972.5 1952.5 1973.5 1939.4 1962 1929.3 1953.5 1915 1940.4 1906 1933 1908.7 1937.9 1921.3 1953.5 1925.5 1960.2 1934.1 1971.8 1942.4 1983 1941.2 1984.1 1940.1 1985.1 1938.9 1986.2 1937.8 1987.2 1936.7 1988.2 1933 1986.4 1931.9 1987.5 1933.2 1991.3 1932 1992.3 1930.9 1993.3 1929.7 1994.3 1928.5 1995.4 1914.2 1981.1 1903.8 1971.3 1888.7 1955.8 1902.7 1974.4 1910.9 1986.5 1918.2 1997.5 1920.3 2002.4 1919.1 2003.4 1917.9 2004.3 1916.7 2005.3 1915.5 2006.3 1910.9 2003 1909.4 2003.7 1912 2009.2 1910.8 2010.2 1909.1 2010.6 1908.3 2012.1 1907.1 2013.1 1905.9 2014.1 1904.7 2015 1903.5 2016 1902.3 2016.9 1901.1 2017.9 1899.8 2018.8 1890 2008.6 1885.2 2004.8 1882 2003 1881.4 2004.6 1893.7 2023.5 1892.5 2024.4 1890.3 2024.1 1890 2026.3 1888.7 2027.2 1875.2 2011.4 1860.3 1993.4 1853.8 1987 1840.4 1970.8 1848.5 1984.4 1859.7 2002.5 1867.5 2015.9 1876.9 2031.8 1874.9 2031.7 1867.3 2023.4 1871.7 2032.5 1868.4 2030.3 1872.4 2038.8 1871.1 2039.7 1866 2035 1868.6 2041.5 1861.3 2033.5 1866 2043.2 1864.7 2044 1863.5 2044.9 1858.8 2040.7 1860.9 2046.6 1859.6 2047.5 1858.3 2048.3 1857 2049.2 1855.7 2050 1854.4 2050.8 1853.1 2051.7 1850 2049.7 1850.5 2053.3 1849.2 2054.1 1839.2 2041 1846 2054.8 1845.3 2056.6 1841.4 2053.3 1839.3 2052.8 1840.2 2057.2 1840 2059.8 1838.7 2060.6 1836.8 2060.5 1831.1 2054 1834.7 2063 1833.2 2063.5 1831.5 2063.7 1830.7 2065.4 1829.4 2066.1 1822.3 2056.9 1818.5 2053.5 1820.1 2059.3 1817.7 2058.2 1807.9 2043.8 1818.9 2066.5 1820 2071.5 1818.7 2072.3 1817.3 2073 1805 2053.8 1814.6 2074.5 1813.2 2075.2 1804.2 2061.7 1793.3 2044.7 1786.1 2034.4 1779.2 2024.4 1763.5 1997.8 1777.9 2028 1782.6 2040.1 1786.2 2049.9 1794.1 2068.4 1799.6 2082.5 1798.2 2083.2 1786.9 2064.4 1795.5 2084.6 1790.5 2078.1 1792.7 2086 1791.3 2086.6 1789.9 2087.3 1788.6 2088 1778.9 2071.7 1785.8 2089.4 1784.4 2090 1782.7 2090 1781.6 2091.4 1780.2 2092 1778.8 2092.7 1777.4 2093.4 1776 2094 1774.6 2094.7 1773.2 2095.3 1769.9 2091.7 1766.4 2087.8 1762.5 2082.9 1763.3 2088.3 1756.7 2077.1 1752.4 2071.2 1755.7 2082.2 1758.2 2091.7 1760.5 2101 1759.1 2101.6 1757.7 2102.2 1756.3 2102.8 1754.8 2103.4 1753.4 2104 1752 2104.6 1748.6 2100.5 1745 2095.6 1746.7 2104 1739.8 2090.9 1744.9 2107.5 1743.4 2108.1 1733 2086 1736.9 2100.1 1739.1 2109.8 1737.7 2110.4 1736.2 2110.9 1734.8 2111.5 1732.1 2108.8 1731.9 2112.6 1730.5 2113.1 1720.2 2090.2 1727.6 2114.2 1726.1 2114.7 1723.5 2112.1 1723.1 2115.4 1721.8 2116.3 1710 2087.9 1699.5 2062.7 1685.9 2028.3 1698.7 2068.9 1704.7 2090.7 1713 2119.4 1711.6 2119.9 1710.1 2120.4 1708.6 2120.9 1707.2 2121.4 1705.7 2121.9 1702.3 2116.3 1702.8 2122.8 1701.3 2123.3 1699.7 2123.3 1697.2 2120.7 1689.5 2101.2 1680.9 2078.7 1688.1 2106.9 1687.1 2108.7 1691 2126.5 1689.5 2127 1688 2127.4 1686.6 2127.9 1685.1 2128.3 1683.6 2128.7 1682.1 2129.2 1680.6 2129.6 1679.1 2130 1673.2 2114.6 1676.1 2130.5 1673.9 2128.4 1672 2127.5 1671.7 2132.1 1670.2 2132.5 1667.3 2127.5 1665.5 2126.9 1665.7 2133.7 1664.2 2134.1 1661.9 2131 1657.2 2119 1659.7 2135.2 1658.3 2135.6 1656.8 2136 1655.3 2136.3 1653.8 2136.7 1652.2 2137.1 1650.7 2137.4 1649.2 2137.8 1647.7 2138.1 1643.8 2127.6 1642.4 2128.5 1641.3 2130.7 1641.7 2139.5 1640.2 2139.8 1638.7 2140.1 1636.2 2135.7 1632.9 2127.9 1629.8 2120.2 1632.7 2141.4 1631.1 2141.7 1629.6 2142 1626.3 2133.3 1626.6 2142.6 1625.1 2142.9 1623.6 2143.2 1622.1 2143.5 1620.4 2142.9 1617.7 2136.8 1614.1 2125.9 1610.8 2116 1608.2 2109.7 1604.9 2099.2 1606.3 2116 1605.2 2118.4 1605.2 2126.9 1605.4 2137.7 1601.5 2123 1602.1 2135.9 1602 2145 1600.7 2147.2 1599.2 2147.4 1597.7 2147.7 1596.2 2147.9 1594.6 2148.1 1593.1 2148.3 1591.4 2147 1590.1 2148.8 1588.5 2149 1587 2149.2 1585.5 2149.4 1581.2 2128.5 1582.4 2149.8 1580.9 2150 1579.3 2150.2 1575.8 2133.2 1576.2 2150.1 1574.4 2148.2 1573.2 2150.9 1569.8 2134.3 1566.7 2119.7 1566.7 2133.6 1566.8 2148.9 1564.7 2143.3 1562.8 2140 1562.4 2152 1560.2 2144.7 1559 2147.9 1557 2143.3 1556.2 2151 1554.8 2152.7 1553.2 2152.8 1550.4 2136.8 1548.6 2133.2 1548.6 2153.2 1546.6 2146.3 1545.3 2150.6 1544 2153.5 1542.4 2153.6 1540.9 2153.7 1539.4 2153.8 1537.8 2153.9 1536.3 2154 1533 2121.6 1532.6 2142 1529.8 2116.3 1530.1 2153.4 1527.6 2131.9 1525.3 2113.4 1522.8 2085 1520.5 2060.7 1520.2 2089.5 1519.2 2102.7 1518.7 2132.8 1517.6 2149.3 1516.2 2154.8 1514.7 2154.8 1513.1 2154.9 1511.3 2140.5 1510 2154.9 1508.5 2154.9 1506.9 2155 1505.4 2155 1503.9 2155 1502.3 2155 1500.8 2153 1499.2 2155 1497.7 2155 1496.1 2155 1494.6 2153.3 1493.1 2150.6 1491.6 2146.7 1490 2154.8 1488.4 2154.9 1486.9 2154.9 1485.3 2154.8 1483.8 2154.8 1482.2 2154.8 1480.7 2154.7 1479.2 2154.7 1477.6 2154.6 1476.3 2148 1474.5 2154.5 1473 2154.4 1471.4 2154.4 1469.9 2154.3 1468.4 2154.2 1466.8 2154.2 1465.3 2154.1 1463.7 2154 1462.2 2153.9 1460.6 2153.8 1459.1 2153.7 1458.9 2133.7 1456 2153.5 1454.5 2153.4 1452.9 2153.3 1451.4 2153.2 1449.9 2153.1 1449.4 2139.1 1447.4 2145.2 1445.2 2152.7 1443.7 2152.6 1442.2 2152.4 1440.6 2152.3 1439.1 2152.2 1437.6 2152 1436.5 2147.4 1435.3 2143.1 1435.1 2131 1434.6 2121.1 1433.8 2114.9 1433.7 2102.2 1430.9 2114.3 1428.4 2123.6 1425.8 2133 1423.3 2141.3 1420.7 2150.2 1419.1 2150 1417.6 2149.8 1416.1 2149.6 1414.5 2149.4 1413 2149.2 1411.5 2149 1409.9 2148.8 1409.2 2143.3 1408.9 2134.6 1408.4 2127.5 1405.9 2134.3 1404.6 2132.4 1403 2133.2 1400.3 2140.5 1397.7 2147 1396.2 2146.7 1394.7 2146.5 1393.2 2146.2 1391.6 2146 1390.1 2145.7 1388.6 2145.5 1387.1 2145.2 1385.5 2144.9 1384.6 2141.4 1382.5 2144.4 1381.9 2139.1 1379.5 2143.8 1377.9 2143.5 1379.1 2129.2 1383 2101.6 1376.6 2126.6 1377.4 2114.4 1374.3 2122.8 1370.6 2133.1 1368.3 2137 1366.1 2140 1364.3 2140.8 1362.8 2140.5 1361.3 2140.1 1359.8 2139.8 1358.3 2139.5 1356.8 2139.1 1355.3 2138.8 1355.1 2132.6 1353.1 2134.4 1350.8 2137.8 1350.1 2133.9 1350.2 2126.8 1346.2 2136.7 1344.7 2136.3 1344.7 2130 1342.3 2133.2 1343.2 2123.4 1339.3 2132.9 1337.3 2134.5 1335.8 2134.1 1334.3 2133.7 1332.8 2133.3 1331.3 2132.9 1329.8 2132.5 1331.1 2121.8 1328.3 2126.1 1325.3 2131.3 1323.8 2130.9 1322.3 2130.4 1320.9 2130 1319.4 2129.6 1317.9 2129.2 1316.4 2128.7 1314.9 2128.3 1313.7 2127 1312.4 2125.9 1312.4 2120.8 1313.2 2112.6 1308.4 2123.3 1308.1 2119.1 1304.6 2125.2 1303.1 2124.7 1305.5 2112 1304.6 2109.9 1301.5 2114.6 1297.2 2122.8 1295.8 2122.3 1294.3 2121.9 1292.8 2121.4 1291.4 2120.9 1289.9 2120.4 1289.8 2115.9 1290.2 2110 1285.5 2118.9 1284.1 2118.4 1282.6 2117.9 1283.7 2110.3 1283.6 2106 1279.1 2113.9 1278.3 2111.7 1276.8 2111.3 1283.6 2088.4 1272.4 2114.2 1274.9 2103.2 1269.5 2113.1 1268.1 2112.6 1266.7 2112 1265.2 2111.5 1263.8 2110.9 1262.3 2110.4 1261.6 2108.1 1265.7 2093.4 1258.3 2107.9 1256.6 2108.1 1260.8 2093.6 1254.4 2105.2 1252.3 2106.4 1250.9 2105.8 1249.4 2105.2 1248 2104.6 1246.6 2104 1245.2 2103.4 1243.7 2102.8 1242.4 2102 1240.9 2101.6 1239.5 2101 1238.4 2099.6 1236.6 2099.7 1235.2 2099.1 1233.8 2098.5 1232.4 2097.8 1231.6 2095.8 1232.7 2089.8 1228.2 2095.9 1226.8 2095.3 1225.4 2094.7 1224 2094 1222.6 2093.4 1221.2 2092.7 1219.8 2092 1223.5 2080.7 1221.5 2081.4 1225.7 2069 1230.8 2055.1 1236.9 2039.4 1227.7 2054.8 1219.7 2067.9 1214.5 2075 1207.3 2086 1205.9 2085.3 1206 2081.6 1203.2 2083.9 1201.8 2083.2 1200.4 2082.5 1199 2081.8 1197.7 2081 1196.3 2080.3 1194.9 2079.6 1193.6 2078.9 1192.2 2078.2 1190.8 2077.4 1194.8 2066.9 1194.6 2063.9 1192.8 2064.1 1185.4 2074.5 1184 2073.8 1183.4 2071.8 1184.2 2067.2 1180 2071.5 1178.6 2070.8 1177.3 2070 1178.8 2064.2 1177.2 2064 1173.3 2067.7 1172.8 2065.5 1170.6 2066.1 1169.3 2065.4 1172.9 2056.1 1166.6 2063.8 1165.3 2063 1164 2062.2 1162.6 2061.4 1167.6 2050.3 1168.8 2045.2 1158.7 2059 1157.4 2058.2 1156 2057.4 1154.7 2056.6 1153.4 2055.8 1152.1 2055 1150.8 2054.1 1149.5 2053.3 1148.2 2052.5 1146.9 2051.7 1145.6 2050.8 1161.6 2023.2 1146.4 2044 1148.4 2038 1152.1 2029.6 1154.8 2022.9 1147.3 2031.5 1144 2033.7 1139 2038.5 1134 2043.2 1132.7 2042.3 1131.4 2041.5 1130.1 2040.6 1132.8 2033.9 1127.6 2038.8 1126.3 2038 1127.7 2033.3 1123.8 2036.2 1123.2 2034.4 1131.6 2019.9 1130.8 2018.4 1118.8 2032.6 1117.5 2031.7 1116.3 2030.8 1115 2029.9 1113.8 2029 1121 2016.5 1113.5 2024.2 1111.9 2023.7 1108.8 2025.3 1114.6 2015 1106.3 2023.5 1105.1 2022.6 1103.8 2021.6 1103 2020.2 1101.4 2019.7 1103.3 2014.7 1105.9 2008.9 1135.8 1968 1103.6 2006.9 1095.3 2015 1094.1 2014.1 1092.9 2013.1 1091.7 2012.1 1090.5 2011.2 1095.7 2002.2 1096.2 1999.2 1086.8 2008.3 1085.6 2007.3 1086.3 2004.1 1083.3 2005.3 1082.1 2004.3 1090.1 1992.2 1081.9 1999.7 1090.6 1986.9 1081.5 1995.4 1090.4 1982.6 1077 1996 1073.8 1997.4 1072.6 1996.4 1071.5 1995.4 1070.3 1994.3 1069.1 1993.3 1068 1992.3 1066.8 1991.3 1066.4 1989.4 1068.4 1984.8 1070.3 1980.5 1064.7 1984.4 1078.7 1966.7 1059.9 1985.1 1058.8 1984.1 1057.6 1983 1063.6 1974.2 1076.5 1958 1061.1 1972.5 1053.1 1978.8 1052 1977.8 1074.6 1951.5 1070.4 1953.8 1051.4 1971.7 1053.7 1967 1048.9 1969.8 1046.7 1969.9 1044.1 1970.3 1055.3 1956.6 1046.2 1963.9 1040.8 1967.1 1039.7 1966 1042.3 1961.2 1037.5 1963.8 1036.4 1962.7 1039 1958 1034.3 1960.6 1033.2 1959.5 1032.1 1958.4 1031 1957.2 1039.7 1946.6 1028.9 1955 1028 1953.7 1056.8 1924 1028.3 1949.1 1024.6 1950.6 1024.9 1948.1 1036.5 1935.1 1026.9 1942.1 1024.5 1942.2 1019.3 1944.9 1018.3 1943.8 1017.2 1942.7 1016.2 1941.5 1015.1 1940.4 1014.8 1938.6 1018 1933.7 1018.2 1931.5 1011 1935.8 1010 1934.6 1016.2 1927.1 1022.1 1919.9 1026.6 1913.9 1020.9 1917 1011.8 1922.8 1003.9 1927.7 1002.9 1926.5 1007.5 1920.5 1000.9 1924.1 1004.1 1919.4 999.1 1921.6 997.9 1920.6 996.9 1919.4 995.9 1918.2 994.9 1917 993.9 1915.8 993 1914.7 992 1913.5 991 1912.3 990 1911.1 989.1 1909.9 988.8 1908.1 1002.5 1895.2 986.2 1906.2 985.2 1905 986.6 1902 985.3 1901 982.4 1901.4 983.8 1898.3 980.5 1898.9 979.6 1897.7 996.2 1883.1 1013.1 1868.4 983.9 1888.6 975.8 1892.8 974.9 1891.5 982 1884.3 979.5 1884.3 973 1887.1 971.5 1886.4 970.3 1885.3 969.4 1884.1 968.5 1882.8 967.6 1881.6 966.7 1880.3 970.2 1876 968.4 1875.3 968 1873.8 963.1 1875.3 962.3 1874 965 1870.2 966.5 1867.3 968.3 1864.3 971.5 1860.2 968.9 1860.2 964.3 1861.4 959.3 1863 959.5 1861 954.5 1862.5 953.6 1861.2 955 1858.5 951.9 1858.6 952.3 1856.5 950.2 1856 949.4 1854.7 948.5 1853.4 968 1839.2 950.2 1848.7 946.1 1849.5 945.2 1848.2 944.4 1846.9 943.6 1845.6 954.7 1836.9 942 1843 959.8 1830.3 940.4 1840.3 939.6 1839 938.8 1837.7 938 1836.4 950.9 1826.9 954.6 1823 935.6 1832.4 934.8 1831.1 934 1829.7 937.1 1826.2 936 1825 948.3 1816.2 966.9 1803.9 981.5 1794 995 1784.7 980 1791.5 957.7 1802.4 946.4 1807 926.4 1816.3 925.7 1814.9 946.4 1801.9 941.7 1802.8 923.5 1810.9 922.7 1809.5 922 1808.1 921.3 1806.8 920.6 1805.4 919.8 1804.1 919.1 1802.7 918.7 1801.2 924.4 1796.5 919.2 1797.4 916.3 1797.2 915.6 1795.8 916.1 1793.8 914.2 1793.1 913.5 1791.7 919.4 1787.1 915.3 1787.4 916.2 1785.2 910.8 1786.1 910.1 1784.7 909.5 1783.3 908.8 1782 914.4 1777.6 907.8 1779 914.7 1774.1 906.5 1776.2 911.2 1772.3 904.9 1773.6 907.4 1770.7 903.6 1770.8 902.9 1769.3 913 1763.1 904 1765.5 901.9 1764.8 901.3 1763.3 899.8 1762.3 899.2 1760.9 898.6 1759.5 898 1758 909.9 1751.3 921.1 1744.9 924.6 1741.8 939.7 1733.9 960.1 1723.9 938.7 1731.3 927.7 1734.2 910.4 1739.7 892.6 1745.2 892.1 1743.8 891.5 1742.3 890.9 1740.9 904 1734.1 889.8 1738 889.2 1736.6 897.5 1731.8 897.5 1730.1 899.6 1727.7 887 1730.8 886.5 1729.4 885.9 1727.9 885.4 1726.5 884.9 1725 896.3 1719.2 883.8 1722.1 883.3 1720.7 897.7 1713.9 891.2 1714.6 889.7 1713.5 881.9 1714.6 883.3 1712.5 909.7 1701.8 879.7 1710.5 879.2 1709 883.2 1706.1 878.3 1706.1 877.8 1704.6 877.3 1703.1 876.8 1701.7 886.2 1697 875.9 1698.7 879.8 1695.9 874.9 1695.8 882.8 1691.7 887.1 1688.8 873.6 1691.4 873.1 1689.9 872.7 1688.4 872.2 1686.9 871.8 1685.4 871.4 1684 876.6 1680.8 880 1678.3 878.3 1677.2 872.6 1677.2 873 1675.5 882.3 1671.3 871.9 1672.6 882 1668.3 875.1 1668.6 871.9 1667.8 867.5 1667.4 866.4 1666.1 866 1664.6 865.6 1663.1 865.3 1661.6 864.9 1660.1 864.5 1658.6 871.8 1655.2 881.7 1651.2 889.7 1647.8 899.6 1643.9 906.2 1640.8 896.2 1641.7 887.7 1642.1 879.5 1642.5 874 1642.2 875.9 1640.2 866.7 1640.7 876.2 1637.1 876.1 1635.6 863.9 1636.6 860.5 1635.8 872.2 1631.8 879.5 1628.7 858.5 1631.5 858 1630 862 1627.6 868.5 1624.8 881.4 1620.7 856.8 1623.9 865.4 1620.7 856.3 1620.9 861.9 1618.3 859.9 1617.1 862.8 1615 869.3 1612.3 854.9 1613.3 865.6 1609.9 859.6 1609.4 864 1607.1 856 1606.9 853.6 1605.7 871.3 1601.3 858.7 1601.8 860.8 1599.9 852.6 1599.6 852.4 1598.1 863.9 1594.8 875 1591.6 871.3 1590.7 858.1 1591 851.3 1590.4 851.1 1588.9 850.9 1587.4 850.6 1585.8 850.4 1584.3 852.6 1582.5 867.7 1579 851.2 1579.6 862.1 1576.7 851.7 1576.4 849.3 1575.1 857.7 1572.6 850.9 1571.8 848.8 1570.5 848.6 1569 878.4 1564.3 850.7 1565.7 848.2 1564.4 868.2 1560.9 861 1560.1 847.7 1559.8 847.6 1558.2 857.4 1555.8 873.9 1552.9 847.2 1553.6 847.1 1552.1 847 1550.5 857.4 1548.2 868.3 1545.9 875.3 1543.9 885.3 1541.7 892.7 1539.8 884.9 1538.8 872.5 1538.1 864.8 1537.1 857.1 1536 845.9 1535.1 858.1 1532.9 852.7 1531.7 845.7 1530.5 845.6 1528.9 845.6 1527.4 870.6 1524.9 852.4 1524.1 845.4 1522.8 848.8 1521.1 845.3 1519.7 848 1518.1 851 1516.5 845.2 1515.1 845.1 1513.5 845.1 1512 850.5 1510.3 865 1508.6 863.9 1507.1 854.9 1505.7 849.1 1504.2 845 1502.7 845 1501.2 866.3 1499.6 848.2 1498.1 859.1 1496.6 849.3 1495 845 1493.4 845.1 1491.9 845.1 1490.3 845.1 1488.8 845.1 1487.3 845.2 1485.7 845.2 1484.2 845.2 1482.6 849.2 1481.2 853.5 1479.8 845.4 1478 858.7 1476.9 852.7 1475.2 845.5 1473.4 849.2 1472 845.7 1470.3 845.7 1468.7 849 1467.4 845.9 1465.7 852.2 1464.5 857.1 1463.2 846.2 1461 846.3 1459.5 853.3 1458.4 856.9 1457.1 854.6 1455.4 855 1453.9 848 1451.9 854.7 1450.8 850.6 1449 847.1 1447.2 848.3 1445.7 847.4 1444.1 853.9 1443.1 852.8 1441.5 847.8 1439.5 847.9 1437.9 848.1 1436.4 848.2 1434.9 848.4 1433.3 851.7 1432.1 848.7 1430.3 848.9 1428.7 849.1 1427.2 864.1 1427.4 849.4 1424.1 849.6 1422.6 857.7 1422 857 1420.4 858.5 1419 866.7 1418.6 857.9 1415.9 850.8 1413.4 866.2 1413.9 870.7 1413 878.7 1412.6 862.2 1408.8 851.8 1405.7 852 1404.2 854.5 1403 863 1402.8 852.7 1399.6 859.2 1399.1 853.2 1396.6 867.9 1397.4 853.9 1393.6 854 1392 854.2 1390.5 854.5 1389 854.7 1387.4 855 1385.9 855.3 1384.4 855.6 1382.9 855.8 1381.4 856.9 1380 856.4 1378.3 856.7 1376.8 862.6 1376.4 874.8 1377.2 895.9 1379.9 865.4 1372.3 858.2 1369.2 858.5 1367.7 858.8 1366.2 859.1 1364.7 859.4 1363.2 859.8 1361.7 867.3 1361.7 860.4 1358.7 865.7 1358.3 861.9 1355.8 876.9 1357.7 861.8 1352.6 862.1 1351.1 874 1352.4 863 1348.2 873.1 1349 874 1347.7 873.6 1346 881.1 1346.3 884.2 1345.5 869.6 1340.3 869.6 1338.7 865.8 1336.1 866.2 1334.6 911.3 1344.9 867.1 1331.7 870.9 1331.1 870.1 1329.3 873.5 1328.6 868.6 1325.7 876.8 1326.4 869.4 1322.7 869.9 1321.2 870.6 1319.8 874.3 1319.3 872.2 1317.1 871.6 1315.3 872 1313.8 874.7 1313 883.9 1314.2 873.4 1309.4 873.8 1307.9 874.3 1306.4 874.7 1305 892.6 1309 903 1310.7 922.6 1315.4 949.1 1322.4 925.8 1313.4 909.4 1306.6 895.7 1300.5 879.5 1293.5 879.5 1291.9 879.5 1290.3 881.4 1289.3 880.5 1287.3 881 1285.9 884.9 1285.6 895.8 1287.8 882.5 1281.5 887.1 1281.5 892.2 1281.7 884.1 1277.1 884.6 1275.7 907.9 1282.6 907.6 1280.9 896.4 1275.2 900.5 1275.1 898.9 1272.9 887.8 1267 888.4 1265.6 892.7 1265.6 889.5 1262.7 890.1 1261.2 893 1260.7 903.8 1263.4 891.8 1256.9 892.3 1255.5 901.1 1257.4 893.5 1252.6 896.9 1252.4 894.7 1249.8 895.3 1248.4 895.9 1246.9 921.3 1256 897.1 1244.1 897.7 1242.7 900.3 1242.1 898.9 1239.8 905 1240.8 913.7 1243 905.2 1237.5 901.4 1234.2 902 1232.8 902.6 1231.4 916.2 1235.8 908 1230.4 904.5 1227.1 905.2 1225.7 907.5 1225.1 919.1 1228.8 921.6 1228.3 907.8 1220.1 924.1 1226.2 937 1230.7 963.2 1241.7 966.2 1241.5 955.4 1234.7 944.9 1228 938.3 1223.1 947.2 1225.9 936.2 1218.8 927.3 1212.7 915.3 1204.9 916 1203.5 916.7 1202.1 917.4 1200.7 918.1 1199.4 925.2 1201.4 919.5 1196.6 920.2 1195.3 920.9 1193.9 921.6 1192.5 922.4 1191.2 923.1 1189.8 923.8 1188.5 948.4 1200.1 925.3 1185.7 926.1 1184.4 926.8 1183 930.5 1183.3 938.4 1186 932.8 1181.1 931.7 1178.7 930.6 1176.3 933.5 1176.2 939 1177.6 932.9 1172.3 945 1177.5 939.6 1172.6 942.6 1172.6 945.6 1172.6 936.8 1165.6 937.6 1164.3 946.4 1167.8 955.7 1171.6 940 1160.3 940.8 1159 941.6 1157.7 942.4 1156.4 943.2 1155.1 944 1153.7 944.8 1152.4 945.6 1151.1 946.5 1149.8 950 1150.2 948.1 1147.2 955.3 1150 949.8 1144.6 950.9 1143.5 951.5 1142 957.1 1143.8 953.2 1139.4 954 1138.2 956.9 1138.2 961.9 1139.7 976.5 1147.7 958.1 1133.4 958.3 1131.7 959.2 1130.5 960.1 1129.2 960.9 1127.9 961.8 1126.6 962.7 1125.4 963.6 1124.1 964.5 1122.9 983.1 1134.2 995.4 1141 1024.6 1160.1 1031.3 1163.2 1018.7 1152.5 1006.6 1142 988.8 1127.2 971.7 1112.8 989.6 1124.1 983.1 1117.4 991.2 1121.6 982.9 1113.5 976.3 1106.6 977.2 1105.4 978.1 1104.2 979.1 1102.9 986.2 1106.4 981 1100.5 981.9 1099.2 982.9 1098 983.8 1096.8 984.8 1095.6 995.4 1102 986.7 1093.2 987.6 1092 995.9 1096.6 999.6 1097.7 990.5 1088.3 991.5 1087.1 1002.5 1094.1 993.4 1084.8 994.4 1083.6 1001.5 1087.4 996.4 1081.2 1000.5 1082.6 998.4 1078.8 999.4 1077.6 1004.5 1079.9 1012.3 1084.6 1004.1 1075.5 1003.4 1072.9 1004.4 1071.8 1006.8 1071.8 1006.4 1069.4 1007.4 1068.3 1010.6 1069 1009.5 1065.9 1014.4 1068.3 1019.3 1070.6 1024.5 1073.2 1021.8 1068.7 1018.7 1063.9 1015.7 1059 1036.3 1075.9 1020.4 1059.2 1018.8 1055.6 1021.4 1055.9 1020.9 1053.4 1028.3 1058.2 1023 1051.1 1024.1 1050 1030.9 1054.4 1028.3 1049.7 1028 1047.3 1035.1 1052.1 1049.6 1064 1031.4 1044.2 1031.6 1042.2 1032.6 1041.1 1039 1045.2 1034.8 1038.9 1036.4 1038.3 1037 1036.7 1038.1 1035.6 1039.2 1034.5 1040.3 1033.4 1041.4 1032.4 1042.5 1031.3 1043.6 1030.2 1046.8 1031.3 1052.2 1034.7 1046.9 1027 1048 1025.9 1049.2 1024.9 1050.3 1023.8 1051.4 1022.7 1052.5 1021.7 1053.7 1020.6 1061.7 1027 1055.9 1018.5 1057.1 1017.5 1058.2 1016.4 1071 1028.3 1060.5 1014.4 1067.6 1020 1062.8 1012.3 1063.9 1011.3 1065.1 1010.2 1072.1 1015.9 1067.4 1008.2 1068.6 1007.2 1079.4 1017.2 1070.9 1005.1 1072 1004.1 1073.2 1003.1 1074.4 1002.1 1075.6 1001.1 1077 1000.4 1077.9 999.1 1079.1 998.1 1080.3 997.1 1082.4 997.3 1082.7 995.2 1083.9 994.2 1089 998 1091.8 999 1087.4 991.3 1088.6 990.3 1090.1 989.7 1091.1 988.3 1092.3 987.4 1094.6 987.8 1094.7 985.5 1095.9 984.5 1100 987.3 1098.3 982.6 1099.6 981.7 1101.4 981.5 1102 979.8 1106.2 982.8 1104.5 977.9 1105.7 977 1106.9 976.1 1111.6 979.7 1109.4 974.2 1110.6 973.3 1111.9 972.4 1113.1 971.5 1114.4 970.5 1120.8 976.8 1122.3 976.3 1138.8 996.6 1119.4 966.9 1126 973.5 1121.9 965.1 1141.9 990.9 1124.4 963.4 1125.7 962.5 1127 961.6 1128.2 960.7 1129.5 959.9 1130.8 959 1132.1 958.1 1133.3 957.2 1134.6 956.4 1138.1 958.8 1140.4 959.5 1144.2 962.5 1148.3 965.9 1152.8 970 1156 972.3 1154.6 967.4 1153.4 962.6 1151.8 957.5 1150.3 952.3 1149.2 947.6 1150.1 946.3 1151.4 945.4 1152.8 944.6 1154.1 943.8 1155.4 943 1163.2 952.7 1158 941.4 1159.3 940.6 1160.6 939.8 1162 939 1164.8 940.7 1171.8 949.5 1167.4 939 1167.3 935.8 1170.9 938.9 1175.1 943.1 1171.3 933.5 1172.6 932.7 1174.4 932.6 1175.3 931.2 1176.6 930.4 1178.7 930.9 1179.3 928.9 1183.7 933.5 1182 927.4 1183.4 926.6 1189.2 934.1 1189.1 930.7 1192.2 933.2 1188.8 923.7 1190.2 922.9 1191.5 922.2 1192.9 921.5 1194.2 920.7 1195.6 920 1198.6 922.5 1198.3 918.6 1200.3 919 1201.1 917.2 1202.5 916.5 1203.8 915.8 1209 922.6 1206.6 914.4 1208 913.7 1215.8 926 1215 921 1215.1 917.8 1215.2 914.4 1214.9 910.3 1216.3 909.6 1223.9 921.9 1219.1 908.3 1220.5 907.6 1221.9 907 1233.1 927.3 1227.4 911.6 1226.1 905 1228.2 905.9 1228.9 903.7 1230.3 903.1 1231.7 902.5 1233.1 901.8 1236.1 904.8 1239.4 908.4 1237.4 900 1246.3 916.8 1240.2 898.7 1241.6 898.1 1243 897.5 1247.9 905.1 1251.5 909.7 1247.3 895.7 1261.5 925.9 1251.1 896.9 1254.2 900.4 1258.6 907.1 1258.1 901.7 1268.8 924.5 1259.9 898.1 1258.7 891.1 1262.7 896.9 1261.6 889.9 1263 889.4 1264.5 888.8 1265.9 888.3 1268.7 891.2 1273.9 900.6 1270.3 886.6 1271.7 886.1 1275.2 891 1277.7 893.3 1276.1 884.5 1280 890.9 1279 883.4 1282.8 889.6 1286.7 896.2 1283.3 881.9 1284.8 881.4 1286.2 880.9 1292.1 893 1290.2 882.9 1290.6 879.4 1293 881.5 1293.6 878.4 1299.9 892.6 1296.7 878.1 1307.7 907 1306.6 898.8 1305.6 890.6 1302.4 875.5 1306 882 1308.4 884.5 1311 887.6 1314 892.3 1314 887.4 1315.6 887.3 1321.6 902.1 1327.2 915.9 1323.5 898.1 1320.7 883.3 1318.6 870.6 1320.7 872.3 1322.8 874.1 1325.7 878.6 1328.2 882 1328.6 877.6 1333.8 891 1331.3 876.2 1335.1 884.3 1335.4 879.7 1337.3 880.8 1335 866.1 1336.5 865.7 1341.4 878.7 1339.5 865 1341.1 865 1342.5 864.2 1345 867.8 1346.7 868.6 1347.3 864.4 1348.5 862.8 1353.8 878.5 1351.5 862.1 1353 861.7 1355.9 867.3 1356.5 863 1357.5 860.7 1359 860.3 1360.5 860 1363.7 867.4 1368.5 882.5 1367.4 870.1 1367.6 863.5 1368.7 861.3 1369.6 858.1 1371.1 857.8 1374.3 865.9 1383.5 904.8 1381.2 885.3 1380.5 873.7 1380.5 865.6 1380.4 857.2 1381.7 855.8 1383.3 855.5 1384.8 855.2 1388.3 866.1 1387.8 854.7 1389.3 854.4 1395.8 883.6 1395.2 870.9 1395 860.4 1395.4 853.4 1401.1 879.2 1398.5 852.9 1402.2 867 1402.3 857.2 1403.1 852.2 1407.2 870 1406.8 856.1 1407.7 851.5 1409.2 851.3 1412.9 866.8 1412.2 850.9 1413.8 850.7 1416.3 858.1 1416.8 850.3 1418.4 850.1 1419.9 849.9 1421.9 854 1423 849.5 1425.4 856.7 1426 849.2 1427.6 849 1429.1 848.8 1430.6 848.7 1432.5 851.6 1433.7 848.4 1435.8 853.4 1437.7 857.6 1438.7 851.5 1440.2 851.2 1442.1 855.5 1442.9 847.5 1444.5 847.4 1446 847.2 1449 865.4 1450.6 865.7 1451.3 855.6 1453.1 858.9 1453.9 849.7 1455.3 846.5 1456.8 846.4 1458.3 846.3 1459.9 846.2 1461.7 851.3 1463 846 1464.7 849.7 1466 845.9 1468 853.4 1469.1 845.7 1470.7 845.7 1472.5 851.5 1474.4 860.7 1475.4 847.4 1477 850.4 1478.4 846.1 1481 878.8 1481.7 851.9 1483 845.2 1484.6 845.2 1486.3 856.4 1487.7 849.8 1489.2 845.1 1490.8 847.4 1492.3 845.7 1493.8 845 1495.4 848.8 1496.9 845 1498.5 850.2 1500 847.5L1500 845A655.0 655.0 0 0 0 1500 2155A655.0 655.0 0 0 0 1500 845Z" fill="#a1d99b" fill-rule="nonzero"/><path d="M1501.5 845L1503.1 850.3 1504.5 857.1 1506.2 845M1515.4 845.2L1516.8 850.8 1518.1 861.3 1520.1 845.3M1524.7 845.5L1525.2 872.7 1527.8 846.1 1529 853.8 1530.3 856.8 1531.7 859.7 1534 846 1535.5 846M1541.7 846.3L1542.8 852.2 1544.7 846.5M1544.7 846.5L1545.9 852.7 1547.8 846.7M1549.4 846.9L1550.5 852 1552.4 847.1M1554 847.2L1555.2 851.3 1556.7 851.6 1558.6 847.6M1560.1 847.8L1561.6 849.2 1563.2 848.1M1566.3 848.4L1566.6 860.8 1569.2 850.3 1567.6 879.3 1572.4 849M1575.5 849.4L1576.4 855.1 1576 870.8 1580.1 849.9M1581.6 850.1L1582.9 852.4 1584.6 851.5 1585.1 859.5 1587.3 854.3 1586.3 873.1 1590.8 851.3M1593.9 851.8L1594.5 858.1 1595.1 864.3 1595.7 870.5 1596.1 878.1 1596.4 885.4 1598.8 879.5 1600 881.3 1604 866.5 1606.6 860.2 1609.1 854.2M1609.1 854.2L1607.3 874.2 1612.2 854.7M1613.7 854.9L1611.5 876.1 1613.5 873.6 1618.2 855.9 1619.4 858.1 1621.3 856.3M1624.3 856.9L1623 871.6 1624.3 873 1626.6 869 1627.8 870.7 1631 862.7 1633.4 858.7M1633.4 858.7L1629.7 884 1636.4 859.4M1650 862.4L1644.6 891.9 1650.3 874.4 1654.5 863.5M1659 864.6L1657.4 877.3 1661.3 868.1 1663.5 865.7M1665 866.1L1661.6 885.1 1668 866.9M1669.5 867.3L1670.8 868.2 1672.4 868.1M1672.4 868.1L1670.7 880.4 1675.4 868.9M1675.4 868.9L1675.2 875.4 1675.1 881.4 1674.1 890.4 1674.3 895.1 1676.8 892 1680.1 885.9 1683.9 878.5 1687.3 872.3M1690.3 873.2L1688.2 885.2 1690.5 882.8 1694.5 875.1 1696.2 875.1M1699.1 876L1700.4 877 1700.6 881.4 1703.5 877.4M1709.4 879.4L1704.1 899.7 1711.4 883 1707.1 900.2 1715.2 881.4M1716.7 881.9L1718.1 882.4 1717.6 888.5 1716.3 896.6 1721.1 887.9 1723.9 884.5M1726.8 885.5L1727.8 887.3 1722.2 906.7 1719.7 917.5 1732.6 887.7M1734.1 888.3L1730.9 900.8 1737 889.4M1742.7 891.6L1739.3 904.2 1745.6 892.8M1745.6 892.8L1745.8 896.4 1748.4 893.9M1754.1 896.3L1755.3 897.5 1755 902.1 1752.1 912.7 1759.8 898.7M1762.6 900L1762.8 903.5 1765.5 901.2M1776.7 906.3L1777.1 909.1 1779.5 907.6M1780.9 908.3L1780.6 912.6 1783.7 909.6M1797.5 916.5L1795.4 924.1 1798.2 921.9 1794.3 932.7 1803 919.3M1803 919.3L1795.6 936.7 1801 929.7 1807.1 921.5M1808.5 922.2L1808.7 925 1808 929.7 1809.8 929.4 1807.6 936.7 1815.3 925.9M1826.1 931.9L1823.1 940.1 1799.5 983.8 1816.9 956.8 1813.5 965.6 1818.2 960.4 1824.7 952.4 1830.8 945.1 1833.2 944 1836.5 941.5 1835.6 945.9 1840.7 940.6M1849.9 946.3L1841.8 961.8 1852.5 947.9M1853.8 948.8L1853.6 951.9 1849.3 961.3 1841.5 976 1858.5 952.9 1856.1 959.3 1861.5 953.8M1862.8 954.7L1860.5 960.9 1865.4 956.4M1867.9 958.1L1863.6 967.3 1870 960.6 1863 973.4 1873 961.6M1881.9 967.8L1882.9 969 1877.9 978.6 1883.6 973.3 1886.9 971.5M1894.3 977L1894.6 979.2 1890.3 987.3 1895.2 983.4 1895.5 985.5 1900.4 981.7M1901.7 982.6L1899.9 987.4 1903.8 985 1905.3 985.5M1905.3 985.5L1903.5 990.2 1903.5 992.7 1908.9 988.4 1910.2 989.3M1912.6 991.3L1913 993.1 1914.9 993.2M1917.3 995.2L1914.3 1001.2 1918.1 999.1 1917.6 1002 1917.4 1004.7 1912.5 1012.8 1921.1 1005 1916.6 1012.6 1923.9 1006.5 1928 1004.1M1929.1 1005.1L1925.2 1012 1922.8 1017.1 1923.1 1019 1919.1 1025.8 1926 1020.3 1932.1 1015.7 1931.6 1018.5 1938.4 1013.3M1938.4 1013.3L1931.9 1022.8 1940.4 1015.7 1941.8 1016.4M1946.3 1020.6L1945.9 1023.4 1948.6 1022.7M1948.6 1022.7L1940 1034.1 1943.8 1032.3 1952 1025.9M1953.1 1027L1949.1 1033.4 1955.3 1029.2 1948 1038.9 1957.5 1031.3M1965.2 1038.9L1950.3 1055.7 1967.4 1041.1M1970.6 1044.4L1969.4 1047.7 1972.7 1046.6M1974.9 1048.9L1964.5 1060.8 1974.5 1053.5 1978.1 1052.2M1979.1 1053.4L1976 1058.4 1973.1 1063.1 1970 1068 1967.5 1072.4 1964.1 1077.4 1969.7 1074.4 1972.7 1073.7 1973 1075.4 1984.4 1067.3 1989.5 1064.8M1993.6 1069.4L1992.4 1072.5 1995.6 1071.8M1996.6 1072.9L1985.8 1084.2 1998.6 1075.3M1998.6 1075.3L1992.6 1082.4 1993 1084.1 1981.3 1095.9 2002.6 1080M2005.6 1083.6L2005.4 1085.7 2007.5 1085.9M2008.5 1087.1L1998.8 1097 2010.4 1089.5M2013.3 1093.2L2004 1102.5 2015.2 1095.6M2019 1100.5L2006.6 1112 2020.9 1102.9M2022.8 1105.4L2019.1 1110 2024.1 1108.3 2015.2 1116.8 2016.3 1117.9 2024.9 1113.4 2028.3 1112.8M2031 1116.6L2022.7 1124.5 2019.1 1128.9 2007.3 1139.1 1994.5 1150 2013.6 1138.3 2021.4 1134.6 2037 1125.6 2038.2 1126.6M2038.2 1126.6L2027.8 1135.7 2033.3 1133.7 2032.4 1136.2 2041.7 1131.7M2044.3 1135.6L2044.3 1137.4 2046 1138.2M2046 1138.2L2040.8 1143.4 2037.7 1147.3 2035 1150.8 2024.1 1159.7 2032.9 1155.8 2042.7 1151.3 2037.1 1156.6 2052.7 1148.5M2054.4 1151.1L2053.4 1153.5 2041.5 1162.8 2048.9 1159.9 2053.4 1158.9 2058.1 1157.9 2054.9 1161.7 2054.9 1163.4 2059.7 1162.3 2057.5 1165.4 2047.9 1173 2057.8 1168.8 2064 1166.9M2065.6 1169.6L2065.1 1171.7 2067.1 1172.3M2067.1 1172.3L2063.6 1176.1 2047 1187.3 2056.5 1183.6 2062.3 1182.1 2067.1 1181.1 2071.5 1180.4 2072.4 1181.7M2072.4 1181.7L2061.1 1189.7 2051.7 1196.6 2034.1 1207.9 2029.5 1212.1 2041.9 1207 2050.1 1204.2 2064.3 1198.3 2046.3 1209.6 2055.8 1206.2 2035.4 1218.6 2010 1233.5 2042.5 1218.1 2053.6 1214 2082.5 1200.8 2072 1207.9 2056.6 1217.4 2033.8 1230.6 2000.5 1248.9 2028.2 1236.5 2061.7 1221.5 2076 1216.1 2088.2 1211.8M2088.2 1211.8L2078.9 1218 2068.9 1224.5 2064.5 1228.3 2050.1 1236.9 2040.2 1243.1 2052.5 1238.9 2065.5 1234.4 2076.5 1230.9 2067.7 1236.6 2080.2 1232.5 2085.3 1231.8 2092 1230.4 2096.7 1229.9M2096.7 1229.9L2084.3 1237.2 2077.6 1241.9 2098.6 1234.2M2098.6 1234.2L2061.6 1252.2 2070.6 1249.8 2100.5 1238.4M2100.5 1238.4L2100.1 1240.3 2096.3 1243.6 2102.3 1242.7M2102.9 1244.1L2096.5 1248.5 2094.4 1251 2104.7 1248.4M2104.7 1248.4L2088.2 1256.9 2095 1255.7 2102.1 1254.4 2097.9 1257.8 2100.4 1258.4 2108.2 1256.9M2108.8 1258.4L2105.1 1261.5 2109.9 1261.2M2111.6 1265.6L2075.5 1281 2112.7 1268.5M2113.8 1271.3L2110 1274.4 2114.9 1274.2M2115.4 1275.7L2108.1 1280 2116.4 1278.6M2116.4 1278.6L2109.9 1282.6 2106.8 1285.3 2118 1283M2118 1283L2114.3 1285.9 2119 1285.9M2119 1285.9L2118.6 1287.7 2120 1288.8M2122 1294.7L2117.9 1297.6 2122.9 1297.6M2125.3 1305L2113.8 1310.1 2126.2 1307.9M2126.2 1307.9L2125.9 1309.6 2125 1311.5 2127.5 1312.3M2131.4 1325.7L2128.6 1328 2107.8 1335.3 2115.6 1334.7 2133 1331.7M2134.2 1336.1L2126.7 1339.6 2134.9 1339.1M2135.3 1340.6L2135.1 1342.3 2136.1 1343.6M2136.1 1343.6L2134.7 1345.6 2133.5 1347.4 2134 1348.9 2137.5 1349.6M2137.9 1351.1L2133 1353.8 2138.6 1354.1M2138.6 1354.1L2118.4 1360.3 2139.2 1357.2M2139.6 1358.7L2133.2 1361.6 2138.6 1362 2131.8 1365.1 2133.5 1366.3 2141.2 1366.2M2141.2 1366.2L2127 1370.7 2141.8 1369.2M2142.1 1370.7L2140.6 1372.6 2142.7 1373.8M2143 1375.3L2133.5 1378.7 2143.6 1378.3M2143.6 1378.3L2138.7 1380.8 2135.1 1383 2138.5 1384 2144.7 1384.4M2144.7 1384.4L2135.1 1387.7 2124.4 1391.1 2130 1391.6 2125 1394 2120.8 1396.2 2125.6 1396.9 2120.7 1399.3 2139.1 1397.8 2147 1398.1M2147 1398.1L2122.5 1403.5 2144.1 1401.7 2138.6 1404.1 2139.9 1405.4 2139.5 1407 2148.4 1407.3M2148.4 1407.3L2148.4 1408.8 2138.1 1411.8 2133.1 1414 2144.7 1414 2149.5 1414.9M2149.5 1414.9L2140.8 1417.6 2149.8 1418M2150 1419.5L2133 1423.1 2150.4 1422.6M2151.1 1428.7L2147.1 1430.7 2137.8 1433.2 2123.3 1436.2 2151.8 1434.9M2151.8 1434.9L2150.4 1436.5 2147.2 1438.4 2151.3 1439.6 2152.3 1441M2152.6 1444.1L2151.2 1445.8 2152.9 1447.2M2153 1448.7L2133.7 1451.7 2137.8 1452.9 2153.3 1453.3M2153.6 1457.9L2143.6 1460.1 2132.9 1462.3 2142.4 1463.2 2154 1464.1M2154.1 1465.7L2128.7 1468.5 2154.3 1468.7M2154.3 1468.7L2149.2 1470.5 2153.6 1471.9 2149.2 1473.6 2149.9 1475.1 2147.2 1476.7 2145.6 1478.3 2154.7 1479.5M2154.8 1482.6L2142.8 1484.5 2120.9 1486.5 2137.9 1487.6 2147.7 1488.9 2154.9 1490.3M2155 1498.1L2149.1 1499.6 2155 1501.2M2155 1501.2L2149.8 1502.7 2147.1 1504.2 2155 1505.8M2154.9 1508.9L2152.3 1510.4 2154.9 1512M2154.9 1512L2153.5 1513.5 2152.5 1515 2144.4 1516.3 2139 1517.7 2141.5 1519.3 2154.7 1521.2M2154.7 1521.2L2144.6 1522.4 2154.5 1524.3M2154.5 1524.3L2152.4 1525.8 2147.1 1527.1 2148.3 1528.7 2154.3 1530.5M2154.1 1533.6L2152.6 1535 2135.9 1535.6 2136.7 1537.2 2153.8 1539.7M2153.8 1539.7L2144.2 1540.7 2137.7 1541.8 2153.5 1544.4M2153.5 1544.4L2142.2 1545.1 2153.3 1547.4M2152.9 1552.1L2138 1552.4 2136.6 1553.8 2148.1 1556.3 2152.1 1558.2 2152.3 1559.8M2152.1 1561.3L2140.9 1561.8 2129.1 1562.1 2151 1565.8 2151.5 1567.4M2150.9 1573.6L2145 1574.5 2150.5 1576.7M2149.9 1581.3L2141.6 1581.7 2149.6 1584.3M2149.1 1587.4L2119.7 1584.9 2148.7 1590.4M2148.5 1592L2148.3 1593.5 2146.9 1594.9 2147.8 1596.5M2147.6 1598.1L2135.5 1597.8 2128.1 1598.2 2113.4 1597.3 2097.5 1596.3 2117.5 1601 2125.6 1603.8 2133.5 1606.7 2145.7 1610.3M2145.4 1611.8L2144.1 1613.1 2134.3 1613 2144.6 1616.4M2144.3 1617.9L2138.2 1618.3 2140.7 1620.3 2136.2 1621.1 2129.4 1621.3 2121 1621.2 2116.4 1621.8 2121.7 1624.4 2126.7 1626.9 2135 1630.1 2129.8 1630.6 2138.2 1633.9 2140.7 1636.1M2140.1 1639.1L2137.9 1640.2 2130.2 1640 2117.2 1638.7 2110.7 1638.7 2099.5 1637.7 2110.4 1641.7 2120.5 1645.6 2127 1648.7 2110.1 1646.2 2123.9 1651 2133.9 1655.1 2135.9 1657.1M2134.7 1661.6L2129 1661.7 2125.1 1662.3 2113.5 1660.8 2125.3 1665.5 2121.5 1666.1 2126.9 1669.1 2109.7 1666 2118.8 1670 2131.2 1675.1M2130.8 1676.5L2113.8 1673.3 2127.9 1678.9 2129.5 1681M2129.1 1682.5L2126.2 1683.3 2099 1676.8 2113.9 1682.8 2127.3 1688.4M2125.1 1695.8L2114 1693.9 2124.1 1698.7M2123.7 1700.2L2119.5 1700.5 2122.7 1703.1M2122.2 1704.6L2115.1 1703.9 2118 1706.4 2120.8 1709M2120.8 1709L2111 1707.3 2109.7 1708.5 2114.3 1711.7 2115.4 1713.7 2113.5 1714.7 2107.7 1714.2 2104.4 1714.6 2116.7 1720.7M2115.1 1725L2104.9 1722.9 2098.7 1722.2 2110.8 1728.4 2113 1730.8M2111.3 1735.2L2102.5 1733.4 2094.3 1731.8 2102.7 1736.7 2103 1738.5 2108.5 1742.3M2107.9 1743.8L2103.8 1743.8 2106.8 1746.6M2106.2 1748.1L2100.2 1747.3 2105 1750.9M2105 1750.9L2066.6 1736.6 2097.8 1751.3 2097.2 1752.6 2102.6 1756.6M2100.8 1760.9L2093.2 1759.2 2084 1756.9 2087.6 1760.1 2092.2 1763.8 2086.1 1762.7 2091.6 1766.9 2096.4 1770.8M2095.8 1772.2L2093.5 1772.8 2088.8 1772.3 2090.6 1774.9 2093.2 1777.8M2092.5 1779.2L2081.1 1775.5 2085.5 1779.3 2077.5 1777.1 2089.9 1784.7M2089.2 1786.1L2085.7 1786.1 2087.8 1788.9M2087.8 1788.9L2085.8 1789.6 2086.5 1791.7M2083.7 1797.2L2077.9 1795.9 2072.4 1794.9 2066.1 1793.3 2060.8 1792.2 2058.4 1792.7 2060.1 1795.2 2064.2 1799.1 2067 1802.3 2071.6 1806.5 2073.3 1809.1 2064.6 1806.1 2069.1 1810.4 2069.3 1812.2 2068.6 1813.6 2061.4 1811.3 2066.9 1816.1 2071.3 1820.3M2070.6 1821.7L2041.9 1807.2 2068.5 1824.1 2062.5 1822.4 2053.6 1819 2065.7 1827.8 2053.9 1822.7 2065.2 1831.1M2053.1 1850.8L2033.8 1840.4 2051.5 1853.4M2050.6 1854.7L2048.3 1855.1 2045.3 1855 2048.1 1858.6M2041.2 1868.9L2023.9 1858.9 2031.4 1865.9 2038.6 1872.7M2033.3 1880.3L2024.4 1875.8 2031.5 1882.8M2031.5 1882.8L2023.3 1878.8 2014.3 1874.2 1992.8 1860.3 2010 1874.7 2026.9 1889M2026.9 1889L2016.9 1883.5 2008.2 1879 2024.2 1892.8M2024.2 1892.8L2022.4 1893.3 2013.5 1888.6 2014.7 1891.4 2005.8 1886.5 1997.5 1882 1991.7 1879.4 1997.8 1886 2002.2 1891.3 2007.9 1897.7 2014.8 1905M2014.8 1905L2011 1904 2012.9 1907.4M2011.9 1908.6L2009.9 1909 1993.3 1897.6 1994.7 1900.7 2000.3 1907.2 2007 1914.7M2000.1 1923L1994.2 1920 1998.1 1925.3M1998.1 1925.3L1989.1 1919.6 1978.5 1912.5 1965.8 1903.5 1974.5 1912.9 1985.1 1924.2 1992.1 1932.3M1990 1934.6L1987.8 1934.8 1988 1936.9M1983.8 1941.5L1977.3 1937.7 1981.7 1943.8M1977.5 1948.3L1965.8 1939.4 1950.8 1927.3 1938.1 1917.2 1949.7 1930.2 1962.1 1944.2 1971.1 1955M1964.7 1961.7L1959.6 1958.8 1952.4 1953.7 1961.4 1964.9M1952.5 1973.5L1939.4 1962 1929.3 1953.5 1915 1940.4 1906 1933 1908.7 1937.9 1921.3 1953.5 1925.5 1960.2 1934.1 1971.8 1942.4 1983M1936.7 1988.2L1933 1986.4 1931.9 1987.5 1933.2 1991.3M1928.5 1995.4L1914.2 1981.1 1903.8 1971.3 1888.7 1955.8 1902.7 1974.4 1910.9 1986.5 1918.2 1997.5 1920.3 2002.4M1915.5 2006.3L1910.9 2003 1909.4 2003.7 1912 2009.2M1910.8 2010.2L1909.1 2010.6 1908.3 2012.1M1899.8 2018.8L1890 2008.6 1885.2 2004.8 1882 2003 1881.4 2004.6 1893.7 2023.5M1892.5 2024.4L1890.3 2024.1 1890 2026.3M1888.7 2027.2L1875.2 2011.4 1860.3 1993.4 1853.8 1987 1840.4 1970.8 1848.5 1984.4 1859.7 2002.5 1867.5 2015.9 1876.9 2031.8 1874.9 2031.7 1867.3 2023.4 1871.7 2032.5 1868.4 2030.3 1872.4 2038.8M1871.1 2039.7L1866 2035 1868.6 2041.5M1868.6 2041.5L1861.3 2033.5 1866 2043.2M1863.5 2044.9L1858.8 2040.7 1860.9 2046.6M1853.1 2051.7L1850 2049.7 1850.5 2053.3M1849.2 2054.1L1839.2 2041 1846 2054.8 1845.3 2056.6M1845.3 2056.6L1841.4 2053.3 1839.3 2052.8 1840.2 2057.2 1840 2059.8M1838.7 2060.6L1836.8 2060.5 1831.1 2054 1834.7 2063M1834.7 2063L1833.2 2063.5 1831.5 2063.7 1830.7 2065.4M1829.4 2066.1L1822.3 2056.9 1818.5 2053.5 1820.1 2059.3 1817.7 2058.2 1807.9 2043.8 1818.9 2066.5 1820 2071.5M1817.3 2073L1805 2053.8 1814.6 2074.5M1813.2 2075.2L1804.2 2061.7 1793.3 2044.7 1786.1 2034.4 1779.2 2024.4 1763.5 1997.8 1777.9 2028 1782.6 2040.1 1786.2 2049.9 1794.1 2068.4 1799.6 2082.5M1798.2 2083.2L1786.9 2064.4 1795.5 2084.6M1795.5 2084.6L1790.5 2078.1 1792.7 2086M1788.6 2088L1778.9 2071.7 1785.8 2089.4M1784.4 2090L1782.7 2090 1781.6 2091.4M1773.2 2095.3L1769.9 2091.7 1766.4 2087.8 1762.5 2082.9 1763.3 2088.3 1756.7 2077.1 1752.4 2071.2 1755.7 2082.2 1758.2 2091.7 1760.5 2101M1752 2104.6L1748.6 2100.5 1745 2095.6 1746.7 2104 1739.8 2090.9 1744.9 2107.5M1743.4 2108.1L1733 2086 1736.9 2100.1 1739.1 2109.8M1734.8 2111.5L1732.1 2108.8 1731.9 2112.6M1730.5 2113.1L1720.2 2090.2 1727.6 2114.2M1726.1 2114.7L1723.5 2112.1 1723.1 2115.4 1721.8 2116.3M1721.8 2116.3L1710 2087.9 1699.5 2062.7 1685.9 2028.3 1698.7 2068.9 1704.7 2090.7 1713 2119.4M1705.7 2121.9L1702.3 2116.3 1702.8 2122.8M1701.3 2123.3L1699.7 2123.3 1697.2 2120.7 1689.5 2101.2 1680.9 2078.7 1688.1 2106.9 1687.1 2108.7 1691 2126.5M1679.1 2130L1673.2 2114.6 1676.1 2130.5 1673.9 2128.4 1672 2127.5 1671.7 2132.1M1670.2 2132.5L1667.3 2127.5 1665.5 2126.9 1665.7 2133.7M1664.2 2134.1L1661.9 2131 1657.2 2119 1659.7 2135.2M1647.7 2138.1L1643.8 2127.6 1642.4 2128.5 1641.3 2130.7 1641.7 2139.5M1638.7 2140.1L1636.2 2135.7 1632.9 2127.9 1629.8 2120.2 1632.7 2141.4M1629.6 2142L1626.3 2133.3 1626.6 2142.6M1622.1 2143.5L1620.4 2142.9 1617.7 2136.8 1614.1 2125.9 1610.8 2116 1608.2 2109.7 1604.9 2099.2 1606.3 2116 1605.2 2118.4 1605.2 2126.9 1605.4 2137.7 1601.5 2123 1602.1 2135.9 1602 2145 1600.7 2147.2M1593.1 2148.3L1591.4 2147 1590.1 2148.8M1585.5 2149.4L1581.2 2128.5 1582.4 2149.8M1579.3 2150.2L1575.8 2133.2 1576.2 2150.1 1574.4 2148.2 1573.2 2150.9M1573.2 2150.9L1569.8 2134.3 1566.7 2119.7 1566.7 2133.6 1566.8 2148.9 1564.7 2143.3 1562.8 2140 1562.4 2152M1562.4 2152L1560.2 2144.7 1559 2147.9 1557 2143.3 1556.2 2151 1554.8 2152.7M1553.2 2152.8L1550.4 2136.8 1548.6 2133.2 1548.6 2153.2M1548.6 2153.2L1546.6 2146.3 1545.3 2150.6 1544 2153.5M1536.3 2154L1533 2121.6 1532.6 2142 1529.8 2116.3 1530.1 2153.4 1527.6 2131.9 1525.3 2113.4 1522.8 2085 1520.5 2060.7 1520.2 2089.5 1519.2 2102.7 1518.7 2132.8 1517.6 2149.3 1516.2 2154.8M1513.1 2154.9L1511.3 2140.5 1510 2154.9M1502.3 2155L1500.8 2153 1499.2 2155M1496.1 2155L1494.6 2153.3 1493.1 2150.6 1491.6 2146.7 1490 2154.8 1488.4 2154.9M1477.6 2154.6L1476.3 2148 1474.5 2154.5M1459.1 2153.7L1458.9 2133.7 1456 2153.5M1449.9 2153.1L1449.4 2139.1 1447.4 2145.2 1445.2 2152.7M1437.6 2152L1436.5 2147.4 1435.3 2143.1 1435.1 2131 1434.6 2121.1 1433.8 2114.9 1433.7 2102.2 1430.9 2114.3 1428.4 2123.6 1425.8 2133 1423.3 2141.3 1420.7 2150.2M1409.9 2148.8L1409.2 2143.3 1408.9 2134.6 1408.4 2127.5 1405.9 2134.3 1404.6 2132.4 1403 2133.2 1400.3 2140.5 1397.7 2147M1385.5 2144.9L1384.6 2141.4 1382.5 2144.4M1382.5 2144.4L1381.9 2139.1 1379.5 2143.8M1377.9 2143.5L1379.1 2129.2 1383 2101.6 1376.6 2126.6 1377.4 2114.4 1374.3 2122.8 1370.6 2133.1 1368.3 2137 1366.1 2140 1364.3 2140.8M1355.3 2138.8L1355.1 2132.6 1353.1 2134.4 1350.8 2137.8M1350.8 2137.8L1350.1 2133.9 1350.2 2126.8 1346.2 2136.7M1344.7 2136.3L1344.7 2130 1342.3 2133.2 1343.2 2123.4 1339.3 2132.9 1337.3 2134.5M1329.8 2132.5L1331.1 2121.8 1328.3 2126.1 1325.3 2131.3M1314.9 2128.3L1313.7 2127 1312.4 2125.9 1312.4 2120.8 1313.2 2112.6 1308.4 2123.3 1308.1 2119.1 1304.6 2125.2M1303.1 2124.7L1305.5 2112 1304.6 2109.9 1301.5 2114.6 1297.2 2122.8M1289.9 2120.4L1289.8 2115.9 1290.2 2110 1285.5 2118.9M1282.6 2117.9L1283.7 2110.3 1283.6 2106 1279.1 2113.9 1278.3 2111.7 1276.8 2111.3 1283.6 2088.4 1272.4 2114.2M1272.4 2114.2L1274.9 2103.2 1269.5 2113.1M1262.3 2110.4L1261.6 2108.1 1265.7 2093.4 1258.3 2107.9 1256.6 2108.1M1256.6 2108.1L1260.8 2093.6 1254.4 2105.2 1252.3 2106.4M1243.7 2102.8L1242.4 2102 1240.9 2101.6M1239.5 2101L1238.4 2099.6 1236.6 2099.7M1232.4 2097.8L1231.6 2095.8 1232.7 2089.8 1228.2 2095.9M1219.8 2092L1223.5 2080.7 1221.5 2081.4 1225.7 2069 1230.8 2055.1 1236.9 2039.4 1227.7 2054.8 1219.7 2067.9 1214.5 2075 1207.3 2086M1205.9 2085.3L1206 2081.6 1203.2 2083.9M1190.8 2077.4L1194.8 2066.9 1194.6 2063.9 1192.8 2064.1 1185.4 2074.5M1184 2073.8L1183.4 2071.8 1184.2 2067.2 1180 2071.5M1177.3 2070L1178.8 2064.2 1177.2 2064 1173.3 2067.7M1173.3 2067.7L1172.8 2065.5 1170.6 2066.1M1169.3 2065.4L1172.9 2056.1 1166.6 2063.8M1162.6 2061.4L1167.6 2050.3 1168.8 2045.2 1158.7 2059M1145.6 2050.8L1161.6 2023.2 1146.4 2044 1148.4 2038 1152.1 2029.6 1154.8 2022.9 1147.3 2031.5 1144 2033.7 1139 2038.5 1134 2043.2M1130.1 2040.6L1132.8 2033.9 1127.6 2038.8M1126.3 2038L1127.7 2033.3 1123.8 2036.2M1123.8 2036.2L1123.2 2034.4 1131.6 2019.9 1130.8 2018.4 1118.8 2032.6M1113.8 2029L1121 2016.5 1113.5 2024.2 1111.9 2023.7 1108.8 2025.3M1108.8 2025.3L1114.6 2015 1106.3 2023.5M1103.8 2021.6L1103 2020.2 1101.4 2019.7M1101.4 2019.7L1103.3 2014.7 1105.9 2008.9 1135.8 1968 1103.6 2006.9 1095.3 2015M1090.5 2011.2L1095.7 2002.2 1096.2 1999.2 1086.8 2008.3M1085.6 2007.3L1086.3 2004.1 1083.3 2005.3M1082.1 2004.3L1090.1 1992.2 1081.9 1999.7 1090.6 1986.9 1081.5 1995.4 1090.4 1982.6 1077 1996 1073.8 1997.4M1066.8 1991.3L1066.4 1989.4 1068.4 1984.8 1070.3 1980.5 1064.7 1984.4 1078.7 1966.7 1059.9 1985.1M1057.6 1983L1063.6 1974.2 1076.5 1958 1061.1 1972.5 1053.1 1978.8M1052 1977.8L1074.6 1951.5 1070.4 1953.8 1051.4 1971.7 1053.7 1967 1048.9 1969.8 1046.7 1969.9 1044.1 1970.3M1044.1 1970.3L1055.3 1956.6 1046.2 1963.9 1040.8 1967.1M1039.7 1966L1042.3 1961.2 1037.5 1963.8M1036.4 1962.7L1039 1958 1034.3 1960.6M1031 1957.2L1039.7 1946.6 1028.9 1955M1028.9 1955L1028 1953.7 1056.8 1924 1028.3 1949.1 1024.6 1950.6M1024.6 1950.6L1024.9 1948.1 1036.5 1935.1 1026.9 1942.1 1024.5 1942.2 1019.3 1944.9M1015.1 1940.4L1014.8 1938.6 1018 1933.7 1018.2 1931.5 1011 1935.8M1010 1934.6L1016.2 1927.1 1022.1 1919.9 1026.6 1913.9 1020.9 1917 1011.8 1922.8 1003.9 1927.7M1002.9 1926.5L1007.5 1920.5 1000.9 1924.1M1000.9 1924.1L1004.1 1919.4 999.1 1921.6 997.9 1920.6M989.1 1909.9L988.8 1908.1 1002.5 1895.2 986.2 1906.2M985.2 1905L986.6 1902 985.3 1901 982.4 1901.4M982.4 1901.4L983.8 1898.3 980.5 1898.9M979.6 1897.7L996.2 1883.1 1013.1 1868.4 983.9 1888.6 975.8 1892.8M974.9 1891.5L982 1884.3 979.5 1884.3 973 1887.1 971.5 1886.4 970.3 1885.3M966.7 1880.3L970.2 1876 968.4 1875.3 968 1873.8 963.1 1875.3M962.3 1874L965 1870.2 966.5 1867.3 968.3 1864.3 971.5 1860.2 968.9 1860.2 964.3 1861.4 959.3 1863 959.5 1861 954.5 1862.5M953.6 1861.2L955 1858.5 951.9 1858.6M951.9 1858.6L952.3 1856.5 950.2 1856M948.5 1853.4L968 1839.2 950.2 1848.7 946.1 1849.5M943.6 1845.6L954.7 1836.9 942 1843M942 1843L959.8 1830.3 940.4 1840.3M938 1836.4L950.9 1826.9 954.6 1823 935.6 1832.4M934 1829.7L937.1 1826.2 936 1825 948.3 1816.2 966.9 1803.9 981.5 1794 995 1784.7 980 1791.5 957.7 1802.4 946.4 1807 926.4 1816.3M925.7 1814.9L946.4 1801.9 941.7 1802.8 923.5 1810.9M919.1 1802.7L918.7 1801.2 924.4 1796.5 919.2 1797.4 916.3 1797.2M915.6 1795.8L916.1 1793.8 914.2 1793.1M913.5 1791.7L919.4 1787.1 915.3 1787.4 916.2 1785.2 910.8 1786.1M908.8 1782L914.4 1777.6 907.8 1779 914.7 1774.1 906.5 1776.2 911.2 1772.3 904.9 1773.6M904.9 1773.6L907.4 1770.7 903.6 1770.8M902.9 1769.3L913 1763.1 904 1765.5 901.9 1764.8 901.3 1763.3 899.8 1762.3M898 1758L909.9 1751.3 921.1 1744.9 924.6 1741.8 939.7 1733.9 960.1 1723.9 938.7 1731.3 927.7 1734.2 910.4 1739.7 892.6 1745.2M890.9 1740.9L904 1734.1 889.8 1738M889.2 1736.6L897.5 1731.8 897.5 1730.1 899.6 1727.7 887 1730.8M884.9 1725L896.3 1719.2 883.8 1722.1M883.3 1720.7L897.7 1713.9 891.2 1714.6 889.7 1713.5 881.9 1714.6 883.3 1712.5 909.7 1701.8 879.7 1710.5M879.2 1709L883.2 1706.1 878.3 1706.1M876.8 1701.7L886.2 1697 875.9 1698.7M875.9 1698.7L879.8 1695.9 874.9 1695.8M874.9 1695.8L882.8 1691.7 887.1 1688.8 873.6 1691.4M871.4 1684L876.6 1680.8 880 1678.3 878.3 1677.2 872.6 1677.2 873 1675.5 882.3 1671.3 871.9 1672.6 882 1668.3 875.1 1668.6 871.9 1667.8 867.5 1667.4 866.4 1666.1M864.5 1658.6L871.8 1655.2 881.7 1651.2 889.7 1647.8 899.6 1643.9 906.2 1640.8 896.2 1641.7 887.7 1642.1 879.5 1642.5 874 1642.2 875.9 1640.2 866.7 1640.7 876.2 1637.1 876.1 1635.6 863.9 1636.6 860.5 1635.8 872.2 1631.8 879.5 1628.7 858.5 1631.5 858 1630M858 1630L862 1627.6 868.5 1624.8 881.4 1620.7 856.8 1623.9M856.8 1623.9L865.4 1620.7 856.3 1620.9M856.3 1620.9L861.9 1618.3 859.9 1617.1 862.8 1615 869.3 1612.3 854.9 1613.3M854.9 1613.3L865.6 1609.9 859.6 1609.4 864 1607.1 856 1606.9 853.6 1605.7M853.6 1605.7L871.3 1601.3 858.7 1601.8 860.8 1599.9 852.6 1599.6M852.4 1598.1L863.9 1594.8 875 1591.6 871.3 1590.7 858.1 1591 851.3 1590.4M850.4 1584.3L852.6 1582.5 867.7 1579 851.2 1579.6 862.1 1576.7 851.7 1576.4 849.3 1575.1M849.3 1575.1L857.7 1572.6 850.9 1571.8 848.8 1570.5M848.6 1569L878.4 1564.3 850.7 1565.7 848.2 1564.4M848.2 1564.4L868.2 1560.9 861 1560.1 847.7 1559.8M847.6 1558.2L857.4 1555.8 873.9 1552.9 847.2 1553.6M847 1550.5L857.4 1548.2 868.3 1545.9 875.3 1543.9 885.3 1541.7 892.7 1539.8 884.9 1538.8 872.5 1538.1 864.8 1537.1 857.1 1536 845.9 1535.1M845.9 1535.1L858.1 1532.9 852.7 1531.7 845.7 1530.5M845.6 1527.4L870.6 1524.9 852.4 1524.1 845.4 1522.8M845.4 1522.8L848.8 1521.1 845.3 1519.7M845.3 1519.7L848 1518.1 851 1516.5 845.2 1515.1M845.1 1512L850.5 1510.3 865 1508.6 863.9 1507.1 854.9 1505.7 849.1 1504.2 845 1502.7M845 1501.2L866.3 1499.6 848.2 1498.1 859.1 1496.6 849.3 1495 845 1493.4M845.2 1482.6L849.2 1481.2 853.5 1479.8 845.4 1478M845.4 1478L858.7 1476.9 852.7 1475.2 845.5 1473.4M845.5 1473.4L849.2 1472 845.7 1470.3M845.7 1468.7L849 1467.4 845.9 1465.7M845.9 1465.7L852.2 1464.5 857.1 1463.2 846.2 1461M846.3 1459.5L853.3 1458.4 856.9 1457.1 854.6 1455.4 855 1453.9 848 1451.9 854.7 1450.8 850.6 1449 847.1 1447.2M847.1 1447.2L848.3 1445.7 847.4 1444.1M847.4 1444.1L853.9 1443.1 852.8 1441.5 847.8 1439.5M848.4 1433.3L851.7 1432.1 848.7 1430.3M849.1 1427.2L864.1 1427.4 849.4 1424.1M849.6 1422.6L857.7 1422 857 1420.4 858.5 1419 866.7 1418.6 857.9 1415.9 850.8 1413.4M850.8 1413.4L866.2 1413.9 870.7 1413 878.7 1412.6 862.2 1408.8 851.8 1405.7M852 1404.2L854.5 1403 863 1402.8 852.7 1399.6M852.7 1399.6L859.2 1399.1 853.2 1396.6M853.2 1396.6L867.9 1397.4 853.9 1393.6 854 1392M855.8 1381.4L856.9 1380 856.4 1378.3M856.7 1376.8L862.6 1376.4 874.8 1377.2 895.9 1379.9 865.4 1372.3 858.2 1369.2 858.5 1367.7M859.8 1361.7L867.3 1361.7 860.4 1358.7M860.4 1358.7L865.7 1358.3 861.9 1355.8 876.9 1357.7 861.8 1352.6M862.1 1351.1L874 1352.4 863 1348.2 873.1 1349 874 1347.7 873.6 1346 881.1 1346.3 884.2 1345.5 869.6 1340.3 869.6 1338.7 865.8 1336.1M866.2 1334.6L911.3 1344.9 867.1 1331.7 870.9 1331.1 870.1 1329.3 873.5 1328.6 868.6 1325.7M868.6 1325.7L876.8 1326.4 869.4 1322.7M869.9 1321.2L870.6 1319.8 874.3 1319.3 872.2 1317.1 871.6 1315.3M872 1313.8L874.7 1313 883.9 1314.2 873.4 1309.4M874.7 1305L892.6 1309 903 1310.7 922.6 1315.4 949.1 1322.4 925.8 1313.4 909.4 1306.6 895.7 1300.5 879.5 1293.5 879.5 1291.9 879.5 1290.3M879.5 1290.3L881.4 1289.3 880.5 1287.3M881 1285.9L884.9 1285.6 895.8 1287.8 882.5 1281.5M882.5 1281.5L887.1 1281.5 892.2 1281.7 884.1 1277.1M884.6 1275.7L907.9 1282.6 907.6 1280.9 896.4 1275.2 900.5 1275.1 898.9 1272.9 887.8 1267M888.4 1265.6L892.7 1265.6 889.5 1262.7M890.1 1261.2L893 1260.7 903.8 1263.4 891.8 1256.9M892.3 1255.5L901.1 1257.4 893.5 1252.6M893.5 1252.6L896.9 1252.4 894.7 1249.8M895.9 1246.9L921.3 1256 897.1 1244.1M897.7 1242.7L900.3 1242.1 898.9 1239.8M898.9 1239.8L905 1240.8 913.7 1243 905.2 1237.5 901.4 1234.2M902.6 1231.4L916.2 1235.8 908 1230.4 904.5 1227.1M905.2 1225.7L907.5 1225.1 919.1 1228.8 921.6 1228.3 907.8 1220.1M907.8 1220.1L924.1 1226.2 937 1230.7 963.2 1241.7 966.2 1241.5 955.4 1234.7 944.9 1228 938.3 1223.1 947.2 1225.9 936.2 1218.8 927.3 1212.7 915.3 1204.9M918.1 1199.4L925.2 1201.4 919.5 1196.6M923.8 1188.5L948.4 1200.1 925.3 1185.7M926.8 1183L930.5 1183.3 938.4 1186 932.8 1181.1 931.7 1178.7 930.6 1176.3M930.6 1176.3L933.5 1176.2 939 1177.6 932.9 1172.3M932.9 1172.3L945 1177.5 939.6 1172.6 942.6 1172.6 945.6 1172.6 936.8 1165.6M937.6 1164.3L946.4 1167.8 955.7 1171.6 940 1160.3M946.5 1149.8L950 1150.2 948.1 1147.2M948.1 1147.2L955.3 1150 949.8 1144.6M949.8 1144.6L950.9 1143.5 951.5 1142M951.5 1142L957.1 1143.8 953.2 1139.4M954 1138.2L956.9 1138.2 961.9 1139.7 976.5 1147.7 958.1 1133.4 958.3 1131.7M964.5 1122.9L983.1 1134.2 995.4 1141 1024.6 1160.1 1031.3 1163.2 1018.7 1152.5 1006.6 1142 988.8 1127.2 971.7 1112.8M971.7 1112.8L989.6 1124.1 983.1 1117.4 991.2 1121.6 982.9 1113.5 976.3 1106.6M979.1 1102.9L986.2 1106.4 981 1100.5M984.8 1095.6L995.4 1102 986.7 1093.2M987.6 1092L995.9 1096.6 999.6 1097.7 990.5 1088.3M991.5 1087.1L1002.5 1094.1 993.4 1084.8M994.4 1083.6L1001.5 1087.4 996.4 1081.2M996.4 1081.2L1000.5 1082.6 998.4 1078.8M999.4 1077.6L1004.5 1079.9 1012.3 1084.6 1004.1 1075.5 1003.4 1072.9M1004.4 1071.8L1006.8 1071.8 1006.4 1069.4M1007.4 1068.3L1010.6 1069 1009.5 1065.9M1009.5 1065.9L1014.4 1068.3 1019.3 1070.6 1024.5 1073.2 1021.8 1068.7 1018.7 1063.9 1015.7 1059M1015.7 1059L1036.3 1075.9 1020.4 1059.2 1018.8 1055.6M1018.8 1055.6L1021.4 1055.9 1020.9 1053.4M1020.9 1053.4L1028.3 1058.2 1023 1051.1M1024.1 1050L1030.9 1054.4 1028.3 1049.7 1028 1047.3 1035.1 1052.1 1049.6 1064 1031.4 1044.2 1031.6 1042.2M1032.6 1041.1L1039 1045.2 1034.8 1038.9M1034.8 1038.9L1036.4 1038.3 1037 1036.7M1043.6 1030.2L1046.8 1031.3 1052.2 1034.7 1046.9 1027M1053.7 1020.6L1061.7 1027 1055.9 1018.5M1058.2 1016.4L1071 1028.3 1060.5 1014.4M1060.5 1014.4L1067.6 1020 1062.8 1012.3M1065.1 1010.2L1072.1 1015.9 1067.4 1008.2M1068.6 1007.2L1079.4 1017.2 1070.9 1005.1M1075.6 1001.1L1077 1000.4 1077.9 999.1M1080.3 997.1L1082.4 997.3 1082.7 995.2M1083.9 994.2L1089 998 1091.8 999 1087.4 991.3M1088.6 990.3L1090.1 989.7 1091.1 988.3M1092.3 987.4L1094.6 987.8 1094.7 985.5M1095.9 984.5L1100 987.3 1098.3 982.6M1099.6 981.7L1101.4 981.5 1102 979.8M1102 979.8L1106.2 982.8 1104.5 977.9M1106.9 976.1L1111.6 979.7 1109.4 974.2M1114.4 970.5L1120.8 976.8 1122.3 976.3 1138.8 996.6 1119.4 966.9M1119.4 966.9L1126 973.5 1121.9 965.1M1121.9 965.1L1141.9 990.9 1124.4 963.4M1134.6 956.4L1138.1 958.8 1140.4 959.5 1144.2 962.5 1148.3 965.9 1152.8 970 1156 972.3 1154.6 967.4 1153.4 962.6 1151.8 957.5 1150.3 952.3 1149.2 947.6 1150.1 946.3M1155.4 943L1163.2 952.7 1158 941.4M1162 939L1164.8 940.7 1171.8 949.5 1167.4 939 1167.3 935.8M1167.3 935.8L1170.9 938.9 1175.1 943.1 1171.3 933.5M1172.6 932.7L1174.4 932.6 1175.3 931.2M1176.6 930.4L1178.7 930.9 1179.3 928.9M1179.3 928.9L1183.7 933.5 1182 927.4M1183.4 926.6L1189.2 934.1 1189.1 930.7 1192.2 933.2 1188.8 923.7M1195.6 920L1198.6 922.5 1198.3 918.6M1198.3 918.6L1200.3 919 1201.1 917.2M1203.8 915.8L1209 922.6 1206.6 914.4M1208 913.7L1215.8 926 1215 921 1215.1 917.8 1215.2 914.4 1214.9 910.3M1216.3 909.6L1223.9 921.9 1219.1 908.3M1221.9 907L1233.1 927.3 1227.4 911.6 1226.1 905M1226.1 905L1228.2 905.9 1228.9 903.7M1233.1 901.8L1236.1 904.8 1239.4 908.4 1237.4 900M1237.4 900L1246.3 916.8 1240.2 898.7M1243 897.5L1247.9 905.1 1251.5 909.7 1247.3 895.7M1247.3 895.7L1261.5 925.9 1251.1 896.9 1254.2 900.4 1258.6 907.1 1258.1 901.7 1268.8 924.5 1259.9 898.1 1258.7 891.1M1258.7 891.1L1262.7 896.9 1261.6 889.9M1265.9 888.3L1268.7 891.2 1273.9 900.6 1270.3 886.6M1271.7 886.1L1275.2 891 1277.7 893.3 1276.1 884.5M1276.1 884.5L1280 890.9 1279 883.4M1279 883.4L1282.8 889.6 1286.7 896.2 1283.3 881.9M1286.2 880.9L1292.1 893 1290.2 882.9 1290.6 879.4M1290.6 879.4L1293 881.5 1293.6 878.4M1293.6 878.4L1299.9 892.6 1296.7 878.1 1307.7 907 1306.6 898.8 1305.6 890.6 1302.4 875.5M1302.4 875.5L1306 882 1308.4 884.5 1311 887.6 1314 892.3 1314 887.4 1315.6 887.3 1321.6 902.1 1327.2 915.9 1323.5 898.1 1320.7 883.3 1318.6 870.6M1318.6 870.6L1320.7 872.3 1322.8 874.1 1325.7 878.6 1328.2 882 1328.6 877.6 1333.8 891 1331.3 876.2 1335.1 884.3 1335.4 879.7 1337.3 880.8 1335 866.1M1336.5 865.7L1341.4 878.7 1339.5 865M1339.5 865L1341.1 865 1342.5 864.2M1342.5 864.2L1345 867.8 1346.7 868.6 1347.3 864.4 1348.5 862.8M1348.5 862.8L1353.8 878.5 1351.5 862.1M1353 861.7L1355.9 867.3 1356.5 863 1357.5 860.7M1360.5 860L1363.7 867.4 1368.5 882.5 1367.4 870.1 1367.6 863.5 1368.7 861.3 1369.6 858.1M1371.1 857.8L1374.3 865.9 1383.5 904.8 1381.2 885.3 1380.5 873.7 1380.5 865.6 1380.4 857.2 1381.7 855.8M1384.8 855.2L1388.3 866.1 1387.8 854.7M1389.3 854.4L1395.8 883.6 1395.2 870.9 1395 860.4 1395.4 853.4M1395.4 853.4L1401.1 879.2 1398.5 852.9M1398.5 852.9L1402.2 867 1402.3 857.2 1403.1 852.2M1403.1 852.2L1407.2 870 1406.8 856.1 1407.7 851.5M1409.2 851.3L1412.9 866.8 1412.2 850.9M1413.8 850.7L1416.3 858.1 1416.8 850.3M1419.9 849.9L1421.9 854 1423 849.5M1423 849.5L1425.4 856.7 1426 849.2M1430.6 848.7L1432.5 851.6 1433.7 848.4M1433.7 848.4L1435.8 853.4 1437.7 857.6 1438.7 851.5 1440.2 851.2 1442.1 855.5 1442.9 847.5M1446 847.2L1449 865.4 1450.6 865.7 1451.3 855.6 1453.1 858.9 1453.9 849.7 1455.3 846.5M1459.9 846.2L1461.7 851.3 1463 846M1463 846L1464.7 849.7 1466 845.9M1466 845.9L1468 853.4 1469.1 845.7M1470.7 845.7L1472.5 851.5 1474.4 860.7 1475.4 847.4 1477 850.4 1478.4 846.1 1481 878.8 1481.7 851.9 1483 845.2M1484.6 845.2L1486.3 856.4 1487.7 849.8 1489.2 845.1M1489.2 845.1L1490.8 847.4 1492.3 845.7 1493.8 845M1493.8 845L1495.4 848.8 1496.9 845M1496.9 845L1498.5 850.2 1500 847.5" fill="none" stroke="#74c476" stroke-width="1.8" stroke-linejoin="round"/><path d="M1500 717L1502 669 1503.8 692 1505.7 688.3 1507.3 724.3 1509.2 721.6 1511.1 718.9 1512.7 728.8 1514.9 711.9 1516.8 708.8 1518.7 708.6 1520.4 713.2 1522.3 713.5 1524.3 707.8 1525.4 729.9 1527.3 729.7 1530.4 695.4 1530.6 737.6 1533.4 713.1 1534.5 731.2 1537 715 1538.6 720.6 1539.6 738 1541.7 731.3 1544.7 710.4 1546.3 715.1 1546.9 736.4 1549 731.2 1551.4 722.1 1552.1 738.8 1554 737.9 1555.7 739 1558.9 720.9 1560.4 725.1 1564.4 698.8 1565.2 711.2 1567.9 702.5 1568.1 721.2 1570.1 719.8 1571.4 725.3 1575.5 701.9 1576.2 713.7 1578 714.8 1579.3 720 1581.2 720.2 1585.1 701.2 1587.2 699.2 1588.1 708.1 1586.2 741.9 1591.2 714.2 1592.3 720.4 1594.8 715.5 1597.9 705.3 1597.5 723.8 1599.7 721 1601 725.5 1604.2 715.7 1605.2 721.9 1607.9 715.6 1610.1 713.8 1612.3 711.2 1612.4 723.9 1614.5 722.6 1617.2 716.5 1619 717.5 1621.9 710.7 1620.1 734.2 1628 696.3 1624.1 732.7 1628 720.2 1629.9 720.2 1632.1 718.3 1632.8 725.5 1635.3 721.7 1638.8 712.7 1646.2 682 1640.2 725.8 1641 732 1645.5 717.7 1647.9 715.4 1647.1 729.4 1649.9 724.5 1648.7 740.5 1651.3 736.5 1656.5 720.3 1655 737.1 1658.8 727.4 1661.8 722.4 1661.7 731.9 1665.3 723.8 1667.2 723.8 1669.7 721.4 1665.8 747.7 1666.5 753.1 1673.4 730.3 1669.5 756.1 1676 735.9 1681.3 721.1 1679.6 736.7 1685.4 720.2 1683.8 735.1 1680 758.5 1687.1 737.1 1685.8 750.2 1685.5 758.6 1690.4 746.6 1688.7 760.7 1690.7 760.1 1695.1 750.5 1706 716 1700.5 744.2 1699.3 756 1699.7 761.3 1707.1 741 1709.6 739.2 1704.3 764.9 1706.1 765.4 1710.3 757 1709.5 766.3 1711.3 766.8 1725.4 724.5 1718.2 755.9 1723 746.1 1720.2 762.2 1723.7 756.9 1725.6 756.9 1726 761.8 1730.3 754.1 1731.8 755.2 1733.5 756 1732.7 764.6 1731.9 773.1 1739.5 755.6 1740.9 756.9 1745.3 749.6 1741.6 766.8 1744.2 764.6 1749.1 755.9 1756.7 739.1 1754.6 751.1 1747.3 778.2 1756.8 756.2 1753.8 770.6 1761.4 754.3 1760 763.8 1763.9 758.4 1757.5 781.8 1767.5 759.3 1766.2 768.3 1766.5 772.9 1766.6 777.9 1770.2 773.4 1776.4 761.9 1773 776.3 1776.8 771.4 1777.6 774.6 1774.3 788 1783.2 770.3 1787.1 765.1 1783.4 779.8 1781 790.6 1786 783 1792.2 772.6 1791.2 779.8 1798.1 767.8 1795.7 778.6 1801.6 769.2 1792.7 795.4 1797.6 788.3 1807.9 768.6 1802.7 785.6 1802.7 790.4 1812.9 771.3 1810.1 782.3 1816.1 773.2 1824.1 759.6 1809.9 796.6 1809.2 802.5 1832.5 754.7 1822.8 781 1822.1 787.1 1824.9 785.4 1827.5 784.2 1830.2 782.9 1827.4 793.2 1834.4 782.6 1827.7 801.2 1832.8 794.6 1829.4 806.1 1840 788.2 1842.5 787.2 1838.6 799.7 1845.7 789.2 1850.5 783.6 1846.9 795.3 1848.4 796.4 1858.2 780.9 1841.8 817.8 1848.6 808.4 1856.1 797.5 1854.8 804.2 1864.4 789.6 1857.6 806.7 1874.6 778 1861.3 807.6 1871 793 1859.4 819.1 1871.2 800.8 1863 820.2 1875.9 799.8 1865.5 823.1 1866.9 824.4 1868.4 825.4 1868.5 828.9 1872 826.3 1894.9 788.9 1878.4 822.3 1877.4 827.8 1879.2 828.3 1880.9 829 1884.9 825.7 1879.8 838.3 1882.6 836.9 1891.9 824.6 1896.3 820.6 1910 801 1901.9 818.4 1897.4 829.8 1897.4 833.3 1893.8 843 1902.9 831.3 1905.1 831.2 1904.4 835.9 1907.9 833.7 1922.7 813.2 1909.6 838 1912 837.5 1907.7 847.9 1915.3 839.2 1914.1 844.6 1920.2 838.4 1918.8 844 1923.1 840.7 1913.6 858.8 1938.3 824.1 1918.6 857.8 1930.3 843.3 1924.7 855 1930.2 850.1 1931.9 850.9 1945 834.6 1933.2 855.5 1927.1 867.8 1929.3 867.8 1951.7 838.1 1944.3 852.2 1933.1 871.8 1949.8 850.8 1942.1 865.2 1937.5 874.9 1944.4 868.1 1949.9 863.6 1950.5 865.9 1950.5 869 1965.1 851.8 1960.6 861.3 1961.2 863.6 1960.9 867.2 1966.5 862.7 1952.1 885.4 1973 860.2 1963.3 876.3 1962.2 880.9 1958.4 889 1971.4 874.7 1969.4 880.5 1977.7 872.5 1975.9 877.9 1980 875.7 1973.1 887.6 1973.4 890.2 1987.6 875 1979.4 888.4 1984.8 884.6 1991.4 879.1 1988.5 885.8 1991 885.7 1977.8 905.1 1979.2 906.2 1985.6 901.2 1998 888.9 2002.1 886.7 1984.8 910.8 1999.4 895.9 2008.6 887.8 1997.1 904.4 1995.9 908.7 2014.6 889.3 2007.1 901.1 2007.2 903.8 2014.5 898.1 2003.5 913.8 2017.5 900.4 2017.2 903.6 2010.7 913.9 2015.6 911.1 2008.9 921.5 2017.4 914.5 2018.1 916.6 2016.4 921.2 2009.3 931.9 2015.8 927.4 2022 923.2 2021 927.1 2027.6 922.5 2022.2 931.2 2017.3 939.1 2030.3 927.7 2034.5 926 2039 923.9 2029 937.2 2034.9 933.6 2043.5 927.2 2034.4 939.4 2045.3 930.7 2029.1 950.2 2050 931.2 2042.1 942 2050.3 936.3 2044.9 944.4 2067.1 924.5 2058.3 936.1 2066.8 930.2 2050 949.7 2060.2 942.1 2063 941.9 2056.4 951.1 2044.4 965.4 2045.7 966.7 2068.8 946.7 2054.5 963.1 2056 964.3 2068.8 954.5 2062.3 963.3 2058.8 969.1 2064.7 966 2055.6 977.1 2081.4 955.5 2078.7 960.6 2093.4 949.5 2086.8 958.1 2073.5 972.9 2085.9 964.1 2074.1 977.3 2077.8 976.4 2080.3 976.7 2083.6 976.2 2089.4 973.5 2085.4 979.5 2075.6 990.7 2072.6 995.7 2082.6 989.4 2083.8 990.7 2093.4 984.8 2095.8 985.2 2100.2 983.9 2090.1 995 2087 1000 2099.4 991.9 2101.8 992.2 2097.6 998.3 2095.8 1002.2 2095.7 1004.6 2107.1 997.5 2108.8 998.5 2105.1 1003.9 2099.4 1011 2118.6 997.8 2101.2 1014.2 2110 1009.5 2115 1007.8 2121 1005.5 2122.5 1006.6 2099.1 1027.5 2113.8 1018.2 2107 1025.9 2128.3 1011.7 2123.1 1018 2134.2 1011.8 2115.1 1028.9 2119.9 1027.5 2130.8 1021.5 2118.4 1033.2 2119.1 1035 2111.1 1043.2 2118.5 1040 2130.4 1033.4 2125.3 1039.5 2129.6 1038.6 2123.4 1045.4 2129.3 1043.4 2142.9 1035.8 2130.2 1047.2 2131.6 1048.4 2135.1 1048.2 2154.8 1036.5 2137.8 1050.8 2141.7 1050.3 2163.9 1037.1 2149.7 1049.3 2130.9 1064.6 2170.6 1039.5 2135.6 1065.7 2158.3 1052.5 2142.8 1065.2 2133.5 1073.7 2139 1072.2 2145.5 1070 2162.1 1061.2 2151.7 1070.3 2171.4 1059.6 2139 1083 2174.7 1062 2151.1 1079.4 2156.3 1078.3 2157 1080 2157.2 1082 2162 1081.2 2145.8 1093.6 2156.5 1089 2147.7 1096.6 2148.6 1098.2 2173 1085.3 2159 1096.1 2163.1 1095.7 2172.2 1092.3 2168.4 1096.8 2173.6 1095.8 2200.2 1082 2179 1096.9 2160 1110.2 2183.5 1098.6 2163.1 1112.6 2174.3 1108.2 2168.5 1113.7 2165.9 1117.3 2171.4 1116.2 2175.8 1115.8 2179.6 1115.8 2170.7 1122.9 2182.1 1118.6 2166.8 1129.2 2188.2 1119.4 2182.4 1124.7 2179.5 1128.4 2183.3 1128.4 2185.5 1129.3 2176.6 1136.2 2188.9 1131.7 2212.3 1121.3 2190 1135.3 2200.1 1132 2193.2 1137.7 2186.4 1143.3 2195.5 1140.7 2178.7 1151.4 2184.9 1150.2 2180.3 1154.6 2181.2 1156.2 2182 1157.8 2182.8 1159.4 2192.1 1156.8 2189.9 1159.9 2185.2 1164.3 2186 1165.9 2186.7 1167.5 2187.5 1169.1 2188.3 1170.7 2189.8 1172 2189.8 1174 2190.6 1175.6 2191.4 1177.2 2192.1 1178.9 2192.9 1180.5 2193.6 1182.1 2194.4 1183.8 2196 1185 2201.9 1184.4 2196.6 1188.7 2197.3 1190.3 2220.2 1182.2 2198.8 1193.6 2199.5 1195.3 2200.7 1196.7 2200.9 1198.6 2201.7 1200.2 2202.4 1201.9 2203.1 1203.6 2203.8 1205.2 2204.4 1206.9 2205.1 1208.5 2205.8 1210.2 2213.1 1209.2 2207.2 1213.5 2207.9 1215.2 2210.8 1215.9 2231.2 1209.8 2209.8 1220.2 2218.8 1218.6 2211.2 1223.6 2211.8 1225.2 2212.5 1226.9 2213.1 1228.6 2213.7 1230.3 2214.4 1232 2223.7 1230.4 2220.2 1233.7 2216.2 1237 2216.9 1238.7 2217.5 1240.4 2218.1 1242.1 2218.7 1243.8 2219.3 1245.5 2222.4 1246.3 2220.5 1248.9 2221.1 1250.6 2226.6 1250.6 2222.2 1254 2222.8 1255.7 2223.4 1257.4 2224 1259.1 2224.5 1260.8 2225.1 1262.5 2225.7 1264.2 2226.2 1265.9 2226.8 1267.6 2227.3 1269.4 2227.8 1271.1 2228.4 1272.8 2241.7 1270.6 2229.4 1276.2 2230 1277.9 2230.5 1279.7 2231 1281.4 2231.5 1283.1 2232 1284.8 2232.5 1286.6 2233 1288.3 2233.5 1290 2234 1291.8 2234.5 1293.5 2241 1293.6 2235.5 1297 2236 1298.7 2246.4 1297.7 2236.9 1302.2 2237.4 1303.9 2237.8 1305.6 2238.3 1307.4 2238.7 1309.1 2239.2 1310.9 2239.6 1312.6 2240.1 1314.3 2240.5 1316.1 2240.9 1317.8 2266.2 1313.5 2241.8 1321.3 2242.2 1323.1 2242.6 1324.8 2243 1326.6 2243.4 1328.3 2243.8 1330.1 2244.2 1331.8 2244.6 1333.6 2245 1335.4 2245.4 1337.1 2245.8 1338.9 2246.2 1340.6 2246.5 1342.4 2246.9 1344.2 2247.3 1345.9 2247.6 1347.7 2248 1349.4 2248.4 1351.2 2248.7 1353 2249 1354.7 2249.4 1356.5 2249.7 1358.3 2250.1 1360 2250.4 1361.8 2250.7 1363.6 2251 1365.3 2251.3 1367.1 2251.7 1368.9 2252 1370.7 2252.3 1372.4 2252.6 1374.2 2252.9 1376 2253.1 1377.8 2253.4 1379.5 2253.7 1381.3 2254 1383.1 2254.3 1384.9 2254.5 1386.6 2254.8 1388.4 2255.1 1390.2 2255.3 1392 2255.6 1393.8 2255.8 1395.5 2256.1 1397.3 2256.3 1399.1 2256.5 1400.9 2256.8 1402.7 2257 1404.5 2257.2 1406.2 2257.4 1408 2257.7 1409.8 2257.9 1411.6 2258.1 1413.4 2258.3 1415.2 2258.5 1417 2258.7 1418.8 2258.9 1420.5 2259 1422.3 2259.2 1424.1 2259.4 1425.9 2259.6 1427.7 2259.7 1429.5 2259.9 1431.3 2260.1 1433.1 2260.2 1434.9 2260.4 1436.7 2260.5 1438.5 2260.7 1440.2 2260.8 1442 2260.9 1443.8 2261.1 1445.6 2261.2 1447.4 2261.3 1449.2 2261.4 1451 2261.5 1452.8 2261.6 1454.6 2261.8 1456.4 2261.9 1458.2 2262 1460 2262 1461.8 2262.1 1463.6 2262.2 1465.4 2262.3 1467.2 2262.4 1469 2275.6 1470.3 2262.5 1472.6 2262.6 1474.4 2262.6 1476.2 2262.7 1478 2262.7 1479.8 2262.8 1481.6 2262.8 1483.4 2262.9 1485.2 2262.9 1487 2262.9 1488.8 2262.9 1490.6 2263 1492.4 2263 1494.2 2263 1496 2263 1497.8 2263 1499.6 2263 1501.3 2263 1503.1 2263 1504.9 2263 1506.7 2263 1508.5 2262.9 1510.3 2262.9 1512.1 2262.9 1513.9 2262.8 1515.7 2262.8 1517.5 2262.8 1519.3 2262.7 1521.1 2262.7 1522.9 2262.6 1524.7 2262.5 1526.5 2262.5 1528.3 2262.4 1530.1 2262.3 1531.9 2262.3 1533.7 2262.2 1535.5 2262.1 1537.3 2262 1539.1 2261.9 1540.9 2261.8 1542.7 2261.7 1544.5 2261.6 1546.3 2261.5 1548.1 2261.4 1549.9 2261.2 1551.7 2261.1 1553.5 2261 1555.3 2260.9 1557.1 2260.7 1558.9 2260.6 1560.6 2260.4 1562.4 2260.3 1564.2 2260.1 1566 2260 1567.8 2259.8 1569.6 2259.7 1571.4 2259.5 1573.2 2259.3 1575 2259.1 1576.8 2258.9 1578.6 2258.8 1580.4 2258.6 1582.1 2258.4 1583.9 2258.2 1585.7 2258 1587.5 2257.8 1589.3 2257.5 1591.1 2257.3 1592.9 2257.1 1594.6 2256.9 1596.4 2256.7 1598.2 2256.4 1600 2256.2 1601.8 2255.9 1603.6 2255.7 1605.3 2255.4 1607.1 2255.2 1608.9 2254.9 1610.7 2254.7 1612.5 2254.4 1614.2 2254.1 1616 2253.9 1617.8 2253.6 1619.6 2253.3 1621.4 2253 1623.1 2252.7 1624.9 2252.4 1626.7 2252.1 1628.5 2268.2 1633.1 2251.5 1632 2251.2 1633.8 2250.9 1635.5 2250.5 1637.3 2250.2 1639.1 2249.9 1640.9 2249.6 1642.6 2249.2 1644.4 2248.9 1646.2 2248.5 1647.9 2248.2 1649.7 2247.8 1651.4 2247.5 1653.2 2247.1 1655 2246.7 1656.7 2246.4 1658.5 2246 1660.2 2245.6 1662 2245.2 1663.8 2244.8 1665.5 2244.4 1667.3 2244 1669 2243.6 1670.8 2243.2 1672.5 2242.8 1674.3 2242.4 1676 2242 1677.8 2241.6 1679.5 2241.2 1681.3 2240.7 1683 2240.3 1684.8 2239.8 1686.5 2239.4 1688.3 2239 1690 2238.5 1691.8 2238.1 1693.5 2237.6 1695.2 2237.1 1697 2236.7 1698.7 2236.2 1700.4 2235.7 1702.2 2235.2 1703.9 2234.8 1705.6 2234.3 1707.4 2233.8 1709.1 2233.3 1710.8 2232.8 1712.6 2232.3 1714.3 2231.8 1716 2231.3 1717.7 2230.8 1719.5 2230.2 1721.2 2229.7 1722.9 2229.2 1724.6 2228.7 1726.4 2228.1 1728.1 2227.6 1729.8 2227 1731.5 2226.5 1733.2 2236.7 1738.4 2225.4 1736.6 2224.8 1738.3 2224.3 1740.1 2223.7 1741.8 2223.1 1743.5 2222.5 1745.2 2222 1746.9 2221.4 1748.6 2220.8 1750.3 2220.2 1752 2219.6 1753.7 2219 1755.4 2218.4 1757.1 2217.8 1758.8 2217.2 1760.4 2216.6 1762.1 2215.9 1763.8 2215.3 1765.5 2214.7 1767.2 2214.1 1768.9 2213.4 1770.6 2212.8 1772.2 2212.1 1773.9 2211.5 1775.6 2210.8 1777.3 2210.2 1779 2209.5 1780.6 2208.9 1782.3 2208.2 1784 2207.5 1785.6 2206.8 1787.3 2206.2 1789 2205.5 1790.6 2204.8 1792.3 2204.1 1794 2203.4 1795.6 2202.7 1797.3 2202 1798.9 2201.3 1800.6 2200.6 1802.2 2199.9 1803.9 2199.2 1805.5 2198.4 1807.2 2197.7 1808.8 2197 1810.5 2204 1815.6 2223.9 1826.6 2194.8 1815.4 2209.5 1824.1 2193.3 1818.7 2208.1 1827.5 2220.4 1835.3 2217.6 1836 2203.1 1831.3 2207.7 1835.5 2188.7 1828.4 2207.2 1839.3 2234.5 1854.6 2202.4 1841.1 2203.4 1843.7 2244.3 1865.8 2190.1 1841.2 2201 1848.6 2191.4 1845.9 2197 1850.8 2197.8 1853.2 2230.1 1871.7 2211.6 1864.4 2201.5 1861.3 2207.4 1866.5 2198.9 1864.2 2175.8 1854.2 2203 1870.6 2211.1 1877 2192.3 1869.1 2181.6 1865.5 2204.6 1879.9 2211.9 1886 2219.1 1892.1 2190.2 1878.5 2191.8 1881.5 2209.4 1893.4 2180.3 1879.3 2185.7 1884.5 2178.9 1882.8 2175 1882.7 2162.9 1877.9 2164.4 1880.8 2188.6 1896.8 2175.8 1891.6 2186.5 1899.9 2180 1898.3 2181.8 1901.5 2165.6 1894.1 2170.9 1899.4 2190.5 1913.3 2163.4 1899.2 2181.7 1912.4 2157.5 1899.8 2200.6 1928.3 2166.1 1909.4 2172.5 1915.5 2155.3 1907.1 2176.3 1922.3 2166.2 1918.2 2151.3 1911 2146.3 1909.9 2183.2 1935.6 2152.5 1918.2 2155.3 1922.2 2144.1 1917.1 2154.4 1926 2169.5 1938.1 2152 1928.8 2139.4 1922.7 2162.2 1940 2147.2 1932.2 2144.5 1932.7 2143 1933.8 2131.5 1928.2 2154.8 1946.3 2129.5 1931.2 2148.5 1946.5 2158.3 1955.5 2131.1 1938.9 2134.2 1943.3 2124.3 1938.6 2132.7 1946.7 2143.1 1956.3 2122.1 1943.6 2140.7 1959.2 2131.1 1954.5 2125.1 1952.5 2143.9 1968.4 2119.7 1953.1 2128.2 1961.5 2128.4 1964 2132.3 1969.2 2118.1 1960.9 2125.2 1968.4 2109.5 1959 2118 1967.6 2155.6 1998.5 2135.7 1985.8 2135.6 1988.1 2104.1 1966.1 2116.8 1978.3 2115.7 1979.7 2115.8 1982.1 2126.5 1992.9 2115.4 1986.5 2123.4 1995.3 2115.6 1991.4 2112.3 1991.1 2099.3 1983.1 2115.8 1998.8 2105.2 1992.5 2108.3 1997.5 2102.6 1995.2 2110 2003.7 2107.9 2004.4 2108.9 2007.6 2093.4 1997 2116.2 2018.6 2109.9 2015.8 2128.8 2034.3 2126.3 2034.7 2079.1 1996.8 2097.5 2015.1 2083 2005 2075.6 2000.9 2087.5 2013.7 2083.7 2012.8 2091.1 2021.8 2071.8 2007.2 2085.2 2021.5 2071.6 2011.9 2070.8 2013.6 2086.2 2029.9 2064.8 2013 2063.6 2014.3 2068.5 2021.3 2080.1 2034.4 2071 2028.6 2065.9 2026.3 2079.1 2041.1 2072.4 2037.4 2071.5 2039.1 2088.4 2057.7 2062 2035.1 2051.3 2027.5 2050.2 2028.9 2070 2050.5 2055.6 2039.2 2064 2049.9 2061.5 2050 2061.1 2052.2 2042.8 2036.8 2058.4 2054.8 2071.9 2070.9 2055.2 2056.8 2037.5 2041.6 2049.8 2056.6 2043.5 2052.9 2033.6 2045.4 2044.7 2059.3 2045.8 2063.1 2037.2 2056.9 2039.4 2061.8 2036.4 2061.3 2042.3 2070.2 2035.4 2065.5 2025.5 2057.7 2021.9 2056.6 2026.4 2064 2029.9 2070.4 2032.3 2075.8 2026.3 2072 2020.2 2068 2024 2074.9 2013.3 2065.8 2021.2 2077.3 2023 2082 2023.7 2085.5 2010.5 2073.6 2018.1 2084.8 2018.8 2088.4 2008.6 2079.5 2009.9 2083.8 2006.1 2082.3 2009.2 2088.5 2014.7 2097.8 1996.5 2079.4 1995.1 2080.6 2018 2110.3 1992.4 2082.9 2008.4 2104.7 1995 2091.7 2022.3 2127.2 1993.7 2095.8 1993.4 2098.3 1990.7 2097.9 2000.3 2112.5 1992.3 2105.6 1979.9 2093.2 1992.6 2111.9 1977.1 2095.5 1992.6 2117.8 1982.9 2108.5 1972.9 2098.8 1987.3 2120.2 1970 2101 1976.2 2112 1967.2 2103.2 1976.6 2118.4 1971.7 2115 1979.8 2128.6 1969.6 2118.3 1960 2108.7 1958.6 2109.8 1957.2 2110.9 1955.7 2112 1954.3 2113 1952.8 2114.1 1951.4 2115.2 1949.9 2116.2 1948.5 2117.3 1947 2118.3 1945.6 2119.4 1944.1 2120.4 1945.3 2125.2 1941.2 2122.5 1939.7 2123.6 1938.2 2124.6 1936.8 2125.6 1935.3 2126.7 1933.8 2127.7 1932.3 2128.7 1930.8 2129.7 1929.4 2130.7 1927.9 2131.7 1926.4 2132.8 1924.9 2133.8 1923.4 2134.8 1921.9 2135.8 1920.4 2136.7 1918.9 2137.7 1917.4 2138.7 1915.9 2139.7 1925.1 2157.2 1922.5 2156.7 1920 2156.1 1919.4 2158.6 1921.9 2166 1911.8 2153.5 1911 2155.6 1903.7 2147.4 1908.5 2158.6 1911.8 2167.3 1906.2 2161.7 1910.1 2171.7 1900.4 2159.2 1898.9 2160.2 1899.9 2165.4 1898 2166 1892.4 2160.1 1895.1 2168.2 1902.4 2184.2 1895.3 2175.7 1888.6 2167.9 1886.1 2167.3 1880.6 2161.3 1891.7 2184.3 1896.7 2196.8 1884.3 2178.8 1886.2 2185.9 1880.7 2179.9 1882.7 2187.3 1874.8 2176.9 1871.1 2173.9 1880.2 2194.4 1871.7 2182.6 1868.3 2180.1 1870.8 2188.6 1860.1 2172.7 1858.6 2173.5 1857.1 2174.6 1855.4 2175.2 1853.8 2176 1852.2 2176.9 1850.6 2177.7 1849 2178.5 1847.4 2179.3 1845.8 2180.1 1844.2 2181 1842.6 2181.8 1841 2182.6 1840.8 2186.2 1837.8 2184.2 1837.3 2187.3 1840.4 2197.9 1832.9 2186.5 1831.3 2187.3 1829.7 2188.1 1828 2188.9 1826.4 2189.7 1826.1 2193.2 1823.2 2191.2 1821.5 2191.9 1819.9 2192.7 1818.3 2193.5 1816.6 2194.2 1815 2194.9 1813.4 2195.7 1811.7 2196.4 1810.1 2197.2 1808.4 2197.9 1806.8 2198.6 1805.1 2199.3 1803.5 2200.1 1801.8 2200.8 1800.2 2201.5 1798.5 2202.2 1796.9 2202.9 1795.2 2203.6 1793.5 2204.3 1793.7 2209.3 1790.2 2205.6 1788.6 2206.3 1786.9 2207 1785.2 2207.7 1783.6 2208.4 1781.9 2209 1780.2 2209.7 1778.5 2210.3 1776.9 2211 1775.2 2211.6 1773.5 2212.3 1771.8 2212.9 1770.1 2213.6 1768.5 2214.2 1766.8 2214.8 1765.1 2215.5 1763.4 2216.1 1761.7 2216.7 1760 2217.3 1758.3 2217.9 1756.6 2218.5 1754.9 2219.1 1753.2 2219.7 1751.5 2220.3 1749.8 2220.9 1748.1 2221.5 1750.8 2234.8 1744.7 2222.7 1743 2223.3 1741.3 2223.8 1739.6 2224.4 1737.9 2225 1736.2 2225.5 1734.5 2226.1 1732.8 2226.6 1731.1 2227.2 1729.4 2227.7 1727.6 2228.3 1725.9 2228.8 1724.2 2229.3 1722.5 2229.8 1724.1 2241.5 1719 2230.9 1717.3 2231.4 1715.6 2231.9 1713.9 2232.4 1715.2 2243.4 1710.4 2233.4 1712.1 2245.9 1706.9 2234.4 1705.2 2234.9 1703.5 2235.4 1701.7 2235.8 1705.3 2255.7 1698.3 2236.8 1698.8 2245.6 1694.8 2237.7 1697.2 2254.1 1691.3 2238.6 1689.6 2239.1 1687.8 2239.5 1686.1 2240 1684.3 2240.4 1682.6 2240.8 1680.9 2241.3 1679.1 2241.7 1677.4 2242.1 1675.6 2242.5 1673.9 2242.9 1672.1 2243.3 1670.3 2243.7 1668.6 2244.1 1666.8 2244.5 1666.3 2250.4 1663.3 2245.3 1661.6 2245.7 1659.8 2246.1 1658.1 2246.5 1656.3 2246.8 1654.5 2247.2 1652.8 2247.6 1651 2247.9 1649.7 2250.6 1647.5 2248.6 1645.7 2249 1643.9 2249.3 1642.2 2249.6 1640.4 2250 1638.6 2250.3 1636.9 2250.6 1635.2 2251.6 1634.2 2256.4 1631.6 2251.6 1629.8 2251.9 1628 2252.2 1626.2 2252.5 1624.5 2252.8 1622.7 2253.1 1620.9 2253.4 1620.6 2262.9 1617.5 2254.6 1615.6 2254.2 1613.8 2254.5 1612 2254.7 1610.2 2255 1608.5 2255.3 1606.7 2255.5 1604.9 2255.8 1603.1 2256 1601.3 2256.2 1599.6 2256.5 1597.8 2256.7 1596 2256.9 1595 2263.7 1592.7 2259.8 1591.3 2263.1 1588.8 2257.8 1587.1 2258 1585.3 2258.2 1583.5 2258.4 1582.6 2266.6 1579.9 2258.8 1578.1 2259 1576.3 2259.2 1574.5 2259.4 1572.7 2259.5 1571 2259.7 1569.2 2259.9 1567.4 2260 1565.6 2260.2 1564.2 2265.5 1562 2260.5 1560.2 2260.6 1560.1 2283.4 1556.6 2260.9 1554.8 2261 1553 2261.2 1551.2 2261.3 1549.4 2261.4 1547.6 2261.5 1545.8 2261.6 1544 2261.7 1542.3 2261.8 1540.5 2261.9 1538.7 2262 1536.9 2262.1 1535.1 2263.8 1533.3 2262.3 1531.5 2262.4 1529.7 2262.4 1527.9 2262.5 1526.1 2262.6 1524.3 2262.6 1522.5 2262.7 1520.7 2262.7 1518.9 2262.8 1517.1 2262.8 1515.3 2262.8 1513.5 2262.9 1511.7 2262.9 1509.9 2262.9 1508.1 2263 1506.3 2263 1504.5 2263 1502.7 2263 1500.9 2263 1499.1 2263 1497.3 2263 1495.5 2263 1493.7 2265.6 1491.9 2263 1490.1 2262.9 1488.3 2262.9 1486.5 2262.9 1484.7 2262.8 1482.9 2262.8 1481.1 2262.8 1479.3 2262.7 1477.5 2262.7 1475.7 2262.6 1473.9 2262.6 1472.1 2262.5 1470.1 2268.9 1468.5 2262.4 1466.7 2262.3 1464.9 2262.2 1463.1 2262.1 1461.3 2262 1459.5 2261.9 1457.7 2261.8 1456 2261.7 1454.2 2261.6 1452.4 2261.5 1450.6 2261.4 1448.8 2261.3 1447 2261.2 1445.2 2261 1443.4 2260.9 1440.8 2271.6 1439.8 2260.6 1436.1 2283.5 1436.2 2260.3 1434.4 2260.2 1432.6 2260 1430.8 2259.9 1429 2259.7 1427.3 2259.5 1424.2 2272.3 1420.7 2289 1420.5 2272.9 1420.1 2258.8 1418.3 2258.6 1416.5 2258.4 1413.1 2272.3 1410.8 2276.9 1410.7 2261.9 1405.7 2288.4 1404.6 2281.9 1403.7 2273.6 1401 2280.8 1399.3 2279.7 1395.5 2293.9 1396 2276.3 1392 2292 1392.3 2275.7 1388.3 2291 1386.9 2287.3 1385.4 2284.5 1383.2 2287.1 1383.2 2274.5 1379 2289.6 1377.6 2286 1376.1 2283.7 1376.8 2267.3 1373.2 2278.1 1370.5 2283.4 1371 2269 1367.9 2276.3 1364.9 2282.5 1364.3 2275.4 1366.7 2251.3 1360.8 2273.5 1359 2273.3 1359.6 2259.9 1357.7 2259.9 1355.4 2262.2 1356.1 2249.3 1353.1 2254.8 1348.3 2270.2 1341.7 2293.5 1343.9 2273.1 1340.4 2280.8 1339.8 2274.5 1340.2 2263.5 1334.5 2281.8 1330.6 2290.7 1338.4 2245.7 1334.6 2254.6 1334.9 2244.9 1327.4 2270.2 1331 2245.9 1323.8 2269.4 1325.1 2255.6 1319.3 2272.3 1317 2273.9 1318 2261.6 1317.8 2254.6 1317.3 2249 1313.2 2257.7 1309.7 2264.3 1307 2267.5 1304 2271.8 1301.2 2275.2 1308.5 2239.4 1298.3 2271.3 1293.8 2280.7 1294 2272.8 1298.3 2249.6 1298 2243.5 1291.2 2261.4 1292.3 2250.8 1287.5 2260.8 1287.2 2255.3 1287.4 2247.6 1283.2 2255.7 1276.4 2272.5 1277.3 2262.8 1272.8 2271.2 1276.5 2252.1 1274.3 2253.3 1270 2260.8 1277.5 2229.8 1270.5 2246.7 1274.1 2228.8 1265.6 2249.9 1261.5 2256.6 1264.3 2241.9 1256.7 2259.3 1250.7 2272 1255.6 2250.7 1255.8 2244 1248.9 2259 1251.2 2246.3 1257 2223.3 1248.3 2243.1 1242.5 2254.5 1239.9 2256.4 1240.8 2247.9 1241.9 2239.2 1235.2 2252.6 1232.5 2254.6 1228.8 2259.4 1230.9 2247.8 1238.7 2220.8 1227.2 2247.2 1230.9 2231.6 1231 2225.9 1220.4 2249.3 1217.5 2251.6 1221.7 2235.2 1218.1 2239.4 1218.7 2232.6 1207.9 2255.5 1214.1 2234.1 1221.5 2210.3 1208.6 2238.1 1213.8 2219.9 1208.7 2227.7 1198 2249.4 1206.2 2224.1 1205.6 2220.7 1198 2234.2 1187.3 2255.3 1185.8 2253.9 1199.2 2216.9 1193 2226.9 1189.3 2230.9 1191.2 2221.7 1185.9 2229.3 1185.7 2224.9 1183.7 2225 1173.8 2242.9 1170.9 2244.7 1178 2223.9 1171.5 2234 1174.8 2222 1163.3 2242.8 1170 2223.5 1161.1 2238.4 1180.1 2192.7 1168.2 2214.1 1173.7 2197.9 1175.2 2190.4 1173.6 2189.7 1172 2188.9 1170.3 2188.1 1168.7 2187.3 1167.1 2186.5 1159.3 2198.4 1163.9 2185 1162.2 2184.2 1160.6 2183.4 1159 2182.6 1157.4 2181.8 1155.8 2181 1154.2 2180.1 1152.6 2179.3 1151 2178.5 1149.4 2177.7 1147.8 2176.9 1146.2 2176 1144.6 2175.2 1143 2174.3 1135.7 2184.3 1139.9 2172.7 1138.3 2171.8 1136.7 2170.9 1135.1 2170.1 1133.5 2169.2 1131.9 2168.4 1130.4 2167.5 1128.8 2166.6 1127.2 2165.7 1125.7 2164.9 1124.1 2164 1122.5 2163.1 1121 2162.2 1119.4 2161.3 1117.9 2160.4 1116.3 2159.5 1114.7 2158.6 1113.2 2157.7 1111.6 2156.8 1110.1 2155.9 1108.5 2154.9 1107 2154 1105.5 2153.1 1103.9 2152.1 1102.4 2151.2 1100.9 2150.3 1099.3 2149.3 1089.8 2161.3 1096.3 2147.4 1094.7 2146.5 1093.2 2145.5 1091.7 2144.6 1090.2 2143.6 1088.7 2142.6 1087.1 2141.7 1085.6 2140.7 1084.1 2139.7 1082.6 2138.7 1081.1 2137.7 1079.6 2136.7 1078.1 2135.8 1076.6 2134.8 1075.1 2133.8 1073.6 2132.8 1072.1 2131.7 1070.6 2130.7 1069.2 2129.7 1067.7 2128.7 1066.2 2127.7 1064.7 2126.7 1063.2 2125.6 1061.8 2124.6 1060.3 2123.6 1058.8 2122.5 1048.7 2133.7 1055.9 2120.4 1054.4 2119.4 1053 2118.3 1051.5 2117.3 1050.1 2116.2 1034.2 2134.8 1037.1 2127.7 1037.3 2124.4 1036.8 2122 1038.7 2116.5 1032.5 2121.7 1036 2114 1036.9 2109.8 1028.1 2118.3 1016.5 2130.4 1032.3 2106.8 1025 2113.3 1019.9 2116.9 1030 2101 1022.7 2107.4 1010.1 2120.4 1015.5 2110.5 1009.2 2115.5 1016.1 2103.9 1015.4 2101.9 1016.9 2097.1 997.5 2118.2 1005.6 2105.3 1000 2109.2 1002.8 2102.9 1003.7 2098.9 999.9 2100.6 1006.2 2090.3 996.1 2099.5 1007.6 2082.9 983.5 2108.5 989.3 2098.9 990.6 2094.4 987 2095.8 989.4 2090.2 986.4 2090.9 976.9 2099 988 2083.5 980.5 2089.2 974.7 2093 978.8 2085.6 964.4 2098.9 978.7 2080.1 971.3 2085.6 970.6 2083.6 986 2063.9 968 2080.9 977.7 2067.6 975.2 2067.6 980.7 2059 958.3 2080.4 964.3 2071.3 954.4 2079.1 949.9 2081.1 961.2 2066.4 958 2067.1 949.1 2073.7 963.9 2055.7 953.7 2063.7 948.3 2066.6 958.9 2053 956.2 2053.2 960 2046.7 957.1 2047.1 951 2050.6 944.2 2054.9 931.7 2064.6 947.8 2046.1 938.6 2052.5 931.8 2056.6 941.2 2044.8 935.4 2047.9 946.5 2034.6 940.5 2037.8 933.9 2041.6 927.9 2044.8 946.2 2024.9 941.7 2026.6 917 2047.3 942.5 2020.9 924.6 2035.1 939.7 2018.6 930.3 2024.8 925.8 2026.5 935.7 2015 935.2 2013 930.6 2014.7 932.8 2010.3 929.8 2010.6 907.1 2028.4 905 2027.7 928 2005 924.8 2005.4 925.6 2002.2 921.1 2003.8 907.9 2012.9 906.9 2011.3 908.2 2007.7 914.2 2000.2 911.7 1999.9 911.3 1997.9 910.2 1996.4 894.8 2007 896 2003.5 892.4 2004.1 904.3 1991.8 908.6 1986 897.6 1992.6 908.2 1981.6 899.5 1986.4 880.2 1999.6 893.3 1986.7 894.2 1983.6 883.1 1990.1 866.6 2000.7 884.7 1984.1 882 1983.9 880.4 1982.8 864.7 1992.6 863.6 1991.1 878 1977.6 875.6 1977.1 881 1970.7 888.1 1963 865 1978.2 889.4 1957.5 867.4 1971.7 887.2 1954.6 867.1 1967.3 867.7 1964.5 879 1954 862.9 1963.5 841.8 1976.5 859.7 1961.2 860.4 1958.4 878.8 1943 865.4 1950.3 850.8 1958.3 870.4 1942.3 848.3 1955.5 873.6 1935.7 850.9 1949.2 853.6 1945 863.3 1936.2 854.3 1940.1 836.1 1950.2 842.6 1943.6 854.4 1933.3 838.7 1941.6 856.1 1927.8 844.4 1933.4 849.4 1927.9 849.3 1925.7 827.1 1938 832.1 1932.5 834 1929.1 829.8 1929.6 830 1927.2 828.4 1926 832.9 1921 820.8 1926.4 833.8 1916 844.6 1907.1 836.9 1909.7 820.6 1917.6 830 1909.7 818.9 1914.2 813.6 1915.2 823.8 1906.9 818.2 1908 817.6 1906.2 821.9 1901.5 838.8 1889.4 803.6 1907.9 840.7 1884.1 831.9 1887.1 802.2 1902.2 831.9 1882.9 836.4 1878.3 821.4 1884.7 830.8 1877.3 834.5 1873.2 833.6 1871.6 832.7 1870 831.9 1868.4 831 1866.9 830.1 1865.3 829.3 1863.7 828.4 1862.1 827.6 1860.5 826.7 1859 825.9 1857.4 824.6 1856 824.2 1854.2 822.8 1852.9 822.5 1851 821.7 1849.4 820.9 1847.8 820.1 1846.2 819.2 1844.6 818.4 1843 817.6 1841.4 816.8 1839.8 816 1838.2 815.2 1836.5 814.4 1834.9 813.7 1833.3 812.9 1831.7 812.1 1830.1 811.3 1828.4 810.5 1826.8 809.8 1825.2 809 1823.6 808.2 1821.9 807.5 1820.3 806.7 1818.7 806 1817 805.2 1815.4 804.5 1813.8 803.8 1812.1 803 1810.5 802.3 1808.8 801.6 1807.2 800.8 1805.5 800.1 1803.9 799.4 1802.2 785 1806.5 798 1798.9 797.3 1797.3 796.6 1795.6 795.9 1794 795.2 1792.3 794.5 1790.6 793.8 1789 793.2 1787.3 792.5 1785.6 791.8 1784 791.1 1782.3 790.5 1780.6 789.8 1779 789.2 1777.3 788.5 1775.6 787.9 1773.9 787.2 1772.2 786.6 1770.6 785.9 1768.9 785.3 1767.2 784.7 1765.5 784.1 1763.8 783.4 1762.1 782.8 1760.4 782.2 1758.8 781.6 1757.1 781 1755.4 780.4 1753.7 779.8 1752 779.2 1750.3 778.6 1748.6 778 1746.9 777.5 1745.2 776.9 1743.5 776.3 1741.8 775.7 1740.1 775.2 1738.3 774.6 1736.6 774.1 1734.9 773.5 1733.2 773 1731.5 772.4 1729.8 771.9 1728.1 771.3 1726.4 770.8 1724.6 770.3 1722.9 769.8 1721.2 769.2 1719.5 768.7 1717.7 768.2 1716 767.7 1714.3 767.2 1712.6 766.7 1710.8 766.2 1709.1 765.7 1707.4 765.2 1705.6 764.8 1703.9 764.3 1702.2 763.8 1700.4 763.3 1698.7 762.9 1697 762.4 1695.2 761.9 1693.5 761.5 1691.8 761 1690 760.6 1688.3 760.2 1686.5 759.7 1684.8 759.3 1683 758.8 1681.3 758.4 1679.5 758 1677.8 757.6 1676 757.2 1674.3 756.8 1672.5 756.4 1670.8 756 1669 755.6 1667.3 755.2 1665.5 754.8 1663.8 754.4 1662 754 1660.2 753.6 1658.5 753.3 1656.7 752.9 1655 752.5 1653.2 752.2 1651.4 751.8 1649.7 751.5 1647.9 751.1 1646.2 750.8 1644.4 750.4 1642.6 750.1 1640.9 749.8 1639.1 749.5 1637.3 749.1 1635.5 748.8 1633.8 748.5 1632 748.2 1630.2 747.9 1628.5 747.6 1626.7 747.3 1624.9 747 1623.1 746.7 1621.4 746.4 1619.6 746.1 1617.8 745.9 1616 745.6 1614.2 745.3 1612.5 745.1 1610.7 744.8 1608.9 744.6 1607.1 744.3 1605.3 744.1 1603.6 743.8 1601.8 743.6 1600 743.3 1598.2 743.1 1596.4 742.9 1594.6 742.7 1592.9 742.5 1591.1 742.2 1589.3 742 1587.5 741.8 1585.7 741.6 1583.9 741.4 1582.1 741.2 1580.4 741.1 1578.6 740.9 1576.8 740.7 1575 740.5 1573.2 740.3 1571.4 740.2 1569.6 740 1567.8 739.9 1566 739.7 1564.2 739.6 1562.4 739.4 1560.6 739.3 1558.9 739.1 1557.1 739 1555.3 738.9 1553.5 738.8 1551.7 737.9 1549.9 708.6 1550 738.4 1546.3 738.3 1544.5 738.2 1542.7 738.1 1540.9 738 1539.1 737.9 1537.3 737.8 1535.5 737.7 1533.7 737.7 1531.9 737.6 1530.1 737.5 1528.3 737.5 1526.5 737.4 1524.7 737.3 1522.9 714.1 1521.8 701.1 1520.3 717.6 1518 721.3 1516.1 702.3 1514.6 735 1512.2 711 1510.7 699.8 1509 720.8 1506.9 720.2 1505.1 714.2 1503.2 707.5 1501.4 710.1 1499.5 722.5 1497.7 718 1495.9 734.6 1494.1 729 1492.3 718.7 1490.3 723.3 1488.6 726.9 1486.8 714.9 1484.7 715.1 1482.9 712.8 1481 720.7 1479.3 720.7 1477.5 732.6 1476 705.6 1473.3 734.6 1472.5 719.7 1470.1 701.9 1467.5 716.1 1466.2 706.3 1464 711.3 1462.3 722.7 1461 717.5 1458.9 680.6 1455 683.2 1453.2 674.1 1450.8 729.2 1452.2 736.2 1450.9 724.7 1448.3 721.6 1446.2 717.5 1444.1 703.1 1441.2 719.8 1440.6 712.8 1438.2 736 1438.2 717.3 1434.8 716.3 1432.9 731.3 1432.3 716.1 1429.1 702.6 1426 720.9 1425.8 734.3 1425.3 716.1 1421.7 738.8 1422.1 713 1417.6 725 1417 733.2 1416.1 693.7 1409.8 719.6 1410.8 723.4 1409.4 708.7 1405.8 713.3 1404.5 725 1404 703.4 1399.5 713.5 1398.9 717.9 1397.5 721.6 1396.2 729.4 1395.4 723 1392.6 706.6 1388.4 731.6 1390.1 720.9 1386.7 714.2 1383.8 722.9 1383.3 745.7 1384.9 706.6 1377 723.7 1377.7 725.7 1376.2 746.9 1377.8 713.4 1370.4 728.1 1371 722.3 1368.1 719.2 1365.7 722.6 1364.4 730.1 1363.8 722.2 1360.5 718.7 1358 728 1357.8 731.3 1356.6 749.6 1358.1 745.1 1355.4 717.3 1348.2 730.4 1348.9 723.3 1345.6 732.7 1345.5 752.4 1347.7 752.7 1345.9 753.1 1344.2 753.5 1342.4 753.8 1340.6 754.2 1338.9 754.6 1337.1 755 1335.4 755.4 1333.6 755.8 1331.8 756.2 1330.1 756.6 1328.3 757 1326.6 757.4 1324.8 757.8 1323.1 758.2 1321.3 758.6 1319.6 759.1 1317.8 759.5 1316.1 759.9 1314.3 760.4 1312.6 760.8 1310.9 761.3 1309.1 761.7 1307.4 762.2 1305.6 762.6 1303.9 763.1 1302.2 763.6 1300.4 764 1298.7 735.9 1289.1 765 1295.2 765.5 1293.5 766 1291.8 766.5 1290 767 1288.3 767.5 1286.6 768 1284.8 768.5 1283.1 769 1281.4 769.5 1279.7 770 1277.9 770.6 1276.2 771.1 1274.5 771.6 1272.8 772.2 1271.1 772.7 1269.4 773.2 1267.6 748.6 1257.8 774.3 1264.2 774.9 1262.5 775.5 1260.8 776 1259.1 771.1 1255.6 777.2 1255.7 770.2 1251.4 778.3 1252.3 778.9 1250.6 779.5 1248.9 780.1 1247.2 780.7 1245.5 781.3 1243.8 781.9 1242.1 782.5 1240.4 783.1 1238.7 783.8 1237 784.4 1235.3 785 1233.6 782.8 1230.9 786.3 1230.3 786.9 1228.6 787.5 1226.9 788.2 1225.2 788.8 1223.6 789.5 1221.9 790.2 1220.2 790.8 1218.5 791.5 1216.9 792.1 1215.2 792.8 1213.5 793.5 1211.9 794.2 1210.2 794.9 1208.5 795.6 1206.9 796.2 1205.2 796.9 1203.6 797.6 1201.9 798.3 1200.2 799.1 1198.6 799.8 1196.9 800.5 1195.3 801.2 1193.6 793.4 1188.2 802.7 1190.3 803.4 1188.7 798.1 1184.4 803.8 1184.9 805.6 1183.8 806.4 1182.1 807.1 1180.5 807.9 1178.9 808.6 1177.2 809.4 1175.6 810.2 1174 810.9 1172.4 811.7 1170.7 812.5 1169.1 813.3 1167.5 814 1165.9 801.1 1157.5 815.6 1162.7 816.4 1161 817.2 1159.4 817.1 1157.4 818.8 1156.2 819.7 1154.6 820.5 1153 818.6 1150 822.1 1149.8 822.9 1148.2 819.2 1144.2 824.6 1145 825.4 1143.4 826.3 1141.8 827.1 1140.2 828 1138.7 828.8 1137.1 829.7 1135.5 830.6 1133.9 831.4 1132.3 832.3 1130.8 833.2 1129.2 834 1127.6 834.9 1126.1 835.8 1124.5 836.7 1122.9 837.6 1121.4 838.5 1119.8 839.4 1118.2 840.3 1116.7 841.2 1115.1 842.1 1113.6 843 1112 843.9 1110.5 844.8 1108.9 836 1101.5 846.7 1105.8 847.6 1104.3 848.6 1102.8 849.5 1101.2 850.4 1099.7 851.4 1098.2 832.5 1084.3 843.3 1088.9 818.8 1071.3 850.3 1089 841.2 1081.1 845.5 1081.6 849.6 1082 827.1 1065.4 834.4 1067.8 819.6 1056 825.1 1057.3 847.4 1069.7 843.8 1065.1 842.2 1061.8 844.6 1061.1 836.8 1053.7 849 1059.6 851 1058.8 855.3 1059.5 845.7 1050.7 853.7 1053.9 873.1 1065.1 845.5 1043.7 853.7 1047.1 856.3 1046.7 844.8 1036.2 864.4 1047.9 867.2 1047.6 859.7 1040 881.4 1053.3 867.6 1041.1 875.9 1044.9 854.4 1026.9 849.2 1020.7 878.5 1040 858.3 1022.7 883.2 1038.9 839.8 1004.1 850.5 1009.7 883.2 1032.2 872 1021.3 871.7 1018.7 884.7 1026.3 881.8 1021.8 875.4 1014.5 883.5 1018.5 871.8 1006.9 881.2 1012 884 1011.8 903.1 1024.7 851.2 980.8 879.6 1001.1 904.3 1018.6 890.8 1005.4 889.4 1001.8 889.6 999.6 897 1003.3 906.3 1008.6 904.9 1005.1 865.8 970.1 905.1 1000.5 902 995.5 903.3 994.2 890.6 980.9 903.7 989.7 916.4 998.1 902.7 983.9 907.3 985.4 916.7 991.2 913.1 985.6 926.6 995 917.9 984.9 917.3 981.9 928.8 989.8 911.9 972.2 931.3 987.1 927.6 981.4 935.8 986.3 917.7 967.3 938 983.5 918.9 963.4 924.6 966.2 928.1 966.9 941.7 977.1 937.6 970.7 945.6 975.8 937.2 965.3 935.8 961.5 941.1 964 924.8 945.7 936.4 954.4 942.2 957.4 926.4 939.5 934.9 945.2 943.3 950.8 944.5 949.4 934.4 936.7 936.3 936 935.8 932.8 938.3 932.6 939.1 930.7 950.4 939.7 939.3 925.6 966.8 951.1 949.7 930.9 963.3 942.3 953.9 929.9 954.4 927.7 969.4 940.8 976.1 945.3 977.4 944 978.7 942.8 979.4 940.8 981.4 940.4 982.7 939.1 970.7 923.4 985.3 936.7 986.7 935.5 988 934.3 977.2 919.6 990.7 931.9 992 930.7 993.4 929.5 994.7 928.3 996.1 927.1 997.4 925.9 998 923.9 1000.1 923.6 1001.5 922.4 1002.8 921.2 1004.2 920 1005.6 918.9 1007 917.7 1008.3 916.5 1009.7 915.4 1011.1 914.2 1012.5 913.1 1013.9 911.9 1015.2 910.8 1011.6 903.5 1018 908.5 1019.4 907.4 1020.8 906.2 1022.2 905.1 1023.6 904 1025 902.9 1024.6 899.5 1027.9 900.6 1029.3 899.5 1030.7 898.4 1032.1 897.3 1031.3 893.3 1028.2 886.3 1036.4 894 1037.8 892.9 1039.2 891.8 1040.7 890.7 1042.1 889.7 1043.6 888.6 1045 887.5 1043.9 883 1042.3 877.8 1049.3 884.3 1050.8 883.2 1052.2 882.2 1053.7 881.1 1055.2 880.1 1056.6 879 1058.1 878 1059.6 877 1061 875.9 1062.5 874.9 1064 873.9 1065.5 872.8 1064.4 868.2 1068.4 870.8 1069.9 869.8 1067.8 863.4 1072.9 867.8 1074.4 866.7 1075.9 865.7 1077.4 864.7 1069.5 849.6 1080.4 862.8 1081.9 861.8 1083.4 860.8 1084.9 859.8 1086.4 858.8 1087.9 857.9 1089.4 856.9 1090.9 855.9 1092.5 855 1094 854 1095.5 853 1097 852.1 1098.6 851.1 1095.2 842.3 1094.4 837.4 1091.7 829.5 1094.8 831 1106.2 846.5 1098.7 830.5 1109.3 844.6 1097.6 821.3 1104.8 829.8 1108.5 832.5 1115.5 841 1110.3 828.4 1108.3 821.3 1106.7 814.7 1118.7 832.1 1109.5 812.2 1118.8 824.8 1114.3 813 1115.5 811.5 1122.6 820.4 1121.6 814.8 1130.3 826.8 1122.6 809 1117.2 795 1128.3 811.7 1135 820.3 1140.6 826.9 1129.5 802.1 1131 801 1136.8 807.9 1144.3 818.3 1143.2 812.2 1149.1 819.8 1151.8 821.1 1143.3 800.4 1147.3 804.2 1151.7 808.9 1149.7 800.8 1142.7 782.7 1157.6 808.5 1160 809.2 1155.8 796.5 1153.1 786.7 1161.4 799.6 1166.8 806.5 1171.1 811.5 1162.3 788.6 1174.4 810 1172.8 802.4 1172 796.2 1167.6 782.4 1174.1 792.1 1176.1 792 1168 769.8 1176.5 783.9 1175.6 777.6 1184.3 792.5 1185.9 791.4 1191.2 798.9 1194 801 1188.3 783.2 1189.8 782.1 1188.8 775.2 1188.9 770.7 1196.5 783.7 1189 761.3 1202.2 788 1207.3 795.4 1202.6 779.4 1207.8 787.2 1205.8 777.3 1206.7 774.8 1209.5 776.8 1215 785.5 1215.9 782.9 1208.2 758.3 1220.7 785.1 1217.1 770.9 1225.7 788 1220.4 769.1 1223.2 771.3 1225.3 771.9 1232.4 785.5 1228.2 769 1229.4 767 1224.8 749 1237.7 778.9 1236.1 769.3 1236.6 765.3 1238.1 764 1244.5 776.7 1240.3 759 1246.9 772.6 1244.4 759.6 1252.7 778.2 1247.7 757.8 1246.8 749.4 1251.1 756.5 1255.8 764.7 1261.2 775.3 1255.3 751.5 1264.6 774 1259.4 752 1264.1 760.6 1269.8 772.6 1271.5 772 1270.8 763.8 1269 751.7 1270.1 748.9 1278.4 769.9 1280.1 769.4 1281.8 768.9 1283.5 768.3 1285.3 767.8 1287 767.3 1288.7 766.8 1290.5 766.3 1292.2 765.8 1293.9 765.4 1295.7 764.9 1297.4 764.4 1299 763.3 1300.9 763.4 1302.6 763 1304.3 762.5 1306.1 762.1 1307.8 761.6 1309.6 761.2 1311.3 760.7 1313 760.3 1314.8 759.8 1316.5 759.4 1318.3 759 1320 758.5 1321.8 758.1 1323.5 757.7 1325.3 757.3 1327 756.9 1328.8 756.5 1330.5 756.1 1332.3 755.7 1334 755.3 1335.8 754.9 1337.6 754.5 1339.3 754.1 1341.1 753.7 1342.8 753.4 1344.6 753 1346.4 752.6 1348.1 752.3 1349.9 751.9 1351.6 751.6 1351.1 739.2 1355.2 750.9 1353.3 731.3 1353.6 723.1 1357.1 732 1359.3 733.3 1359.5 724 1364.7 742.6 1364.6 731.6 1368.6 744.2 1367.3 725.6 1369.5 728 1374.2 744.5 1374.2 733.3 1378.2 746.8 1379.9 745.9 1378.8 727.5 1381.9 735.1 1384.2 738.6 1385.2 732.7 1385.9 724.9 1387.5 723 1390.1 728 1390.5 717.9 1392.7 719.9 1396.8 736.7 1396.9 724 1398.6 722.2 1403.1 743.2 1404.9 742.9 1406.7 742.7 1408.5 742.5 1410.3 742.3 1412 742.1 1413.8 741.9 1415.6 741.7 1417.4 741.5 1419.2 741.3 1421 741.1 1422.8 740.9 1424.6 740.7 1426.4 740.6 1428.2 740.4 1429.9 740.2 1431.7 740.1 1433.5 739.9 1435.3 739.7 1437.1 739.6 1438.9 739.5 1440.7 739.3 1442.5 739.2 1444.3 739 1446.1 738.9 1447.9 738.8 1449.7 738.7 1451.5 738.5 1453.3 738.4 1455.1 738.3 1456.8 738.2 1458.6 738.1 1460.4 738 1462.2 737.9 1464 737.8 1465.8 737.8 1467.6 737.7 1469.4 737.6 1469.9 701.9 1472.6 725.4 1474.4 725.4 1476 716.1 1478.4 737.3 1479.8 719.6 1481.8 728.6 1483.4 718.8 1485.4 726.9 1487.4 737.1 1488.8 711.5 1490.9 725.1 1492.6 720.4 1494.5 726.3 1496.3 717.2 1498.2 724.6 1500 730.9L1500 737A763.0 763.0 0 0 0 1500 2263A763.0 763.0 0 0 0 1500 737Z" fill="#9ecae1" fill-rule="nonzero"/><path d="M1500 717L1502 669 1503.8 692 1505.7 688.3 1507.3 724.3 1509.2 721.6 1511.1 718.9 1512.7 728.8 1514.9 711.9 1516.8 708.8 1518.7 708.6 1520.4 713.2 1522.3 713.5 1524.3 707.8 1525.4 729.9 1527.3 729.7 1530.4 695.4 1530.6 737.6M1530.6 737.6L1533.4 713.1 1534.5 731.2 1537 715 1538.6 720.6 1539.6 738M1539.6 738L1541.7 731.3 1544.7 710.4 1546.3 715.1 1546.9 736.4 1549 731.2 1551.4 722.1 1552.1 738.8M1552.1 738.8L1554 737.9 1555.7 739M1555.7 739L1558.9 720.9 1560.4 725.1 1564.4 698.8 1565.2 711.2 1567.9 702.5 1568.1 721.2 1570.1 719.8 1571.4 725.3 1575.5 701.9 1576.2 713.7 1578 714.8 1579.3 720 1581.2 720.2 1585.1 701.2 1587.2 699.2 1588.1 708.1 1586.2 741.9M1586.2 741.9L1591.2 714.2 1592.3 720.4 1594.8 715.5 1597.9 705.3 1597.5 723.8 1599.7 721 1601 725.5 1604.2 715.7 1605.2 721.9 1607.9 715.6 1610.1 713.8 1612.3 711.2 1612.4 723.9 1614.5 722.6 1617.2 716.5 1619 717.5 1621.9 710.7 1620.1 734.2 1628 696.3 1624.1 732.7 1628 720.2 1629.9 720.2 1632.1 718.3 1632.8 725.5 1635.3 721.7 1638.8 712.7 1646.2 682 1640.2 725.8 1641 732 1645.5 717.7 1647.9 715.4 1647.1 729.4 1649.9 724.5 1648.7 740.5 1651.3 736.5 1656.5 720.3 1655 737.1 1658.8 727.4 1661.8 722.4 1661.7 731.9 1665.3 723.8 1667.2 723.8 1669.7 721.4 1665.8 747.7 1666.5 753.1 1673.4 730.3 1669.5 756.1M1669.5 756.1L1676 735.9 1681.3 721.1 1679.6 736.7 1685.4 720.2 1683.8 735.1 1680 758.5M1680 758.5L1687.1 737.1 1685.8 750.2 1685.5 758.6 1690.4 746.6 1688.7 760.7M1688.7 760.7L1690.7 760.1 1695.1 750.5 1706 716 1700.5 744.2 1699.3 756 1699.7 761.3 1707.1 741 1709.6 739.2 1704.3 764.9M1706.1 765.4L1710.3 757 1709.5 766.3M1711.3 766.8L1725.4 724.5 1718.2 755.9 1723 746.1 1720.2 762.2 1723.7 756.9 1725.6 756.9 1726 761.8 1730.3 754.1 1731.8 755.2 1733.5 756 1732.7 764.6 1731.9 773.1M1731.9 773.1L1739.5 755.6 1740.9 756.9 1745.3 749.6 1741.6 766.8 1744.2 764.6 1749.1 755.9 1756.7 739.1 1754.6 751.1 1747.3 778.2M1747.3 778.2L1756.8 756.2 1753.8 770.6 1761.4 754.3 1760 763.8 1763.9 758.4 1757.5 781.8M1757.5 781.8L1767.5 759.3 1766.2 768.3 1766.5 772.9 1766.6 777.9 1770.2 773.4 1776.4 761.9 1773 776.3 1776.8 771.4 1777.6 774.6 1774.3 788M1774.3 788L1783.2 770.3 1787.1 765.1 1783.4 779.8 1781 790.6M1781 790.6L1786 783 1792.2 772.6 1791.2 779.8 1798.1 767.8 1795.7 778.6 1801.6 769.2 1792.7 795.4M1792.7 795.4L1797.6 788.3 1807.9 768.6 1802.7 785.6 1802.7 790.4 1812.9 771.3 1810.1 782.3 1816.1 773.2 1824.1 759.6 1809.9 796.6 1809.2 802.5M1809.2 802.5L1832.5 754.7 1822.8 781 1822.1 787.1 1824.9 785.4 1827.5 784.2 1830.2 782.9 1827.4 793.2 1834.4 782.6 1827.7 801.2 1832.8 794.6 1829.4 806.1 1840 788.2 1842.5 787.2 1838.6 799.7 1845.7 789.2 1850.5 783.6 1846.9 795.3 1848.4 796.4 1858.2 780.9 1841.8 817.8M1841.8 817.8L1848.6 808.4 1856.1 797.5 1854.8 804.2 1864.4 789.6 1857.6 806.7 1874.6 778 1861.3 807.6 1871 793 1859.4 819.1 1871.2 800.8 1863 820.2 1875.9 799.8 1865.5 823.1 1866.9 824.4 1868.4 825.4 1868.5 828.9 1872 826.3 1894.9 788.9 1878.4 822.3 1877.4 827.8 1879.2 828.3 1880.9 829 1884.9 825.7 1879.8 838.3M1879.8 838.3L1882.6 836.9 1891.9 824.6 1896.3 820.6 1910 801 1901.9 818.4 1897.4 829.8 1897.4 833.3 1893.8 843 1902.9 831.3 1905.1 831.2 1904.4 835.9 1907.9 833.7 1922.7 813.2 1909.6 838 1912 837.5 1907.7 847.9 1915.3 839.2 1914.1 844.6 1920.2 838.4 1918.8 844 1923.1 840.7 1913.6 858.8M1913.6 858.8L1938.3 824.1 1918.6 857.8 1930.3 843.3 1924.7 855 1930.2 850.1 1931.9 850.9 1945 834.6 1933.2 855.5 1927.1 867.8M1927.1 867.8L1929.3 867.8 1951.7 838.1 1944.3 852.2 1933.1 871.8M1933.1 871.8L1949.8 850.8 1942.1 865.2 1937.5 874.9M1937.5 874.9L1944.4 868.1 1949.9 863.6 1950.5 865.9 1950.5 869 1965.1 851.8 1960.6 861.3 1961.2 863.6 1960.9 867.2 1966.5 862.7 1952.1 885.4M1952.1 885.4L1973 860.2 1963.3 876.3 1962.2 880.9 1958.4 889 1971.4 874.7 1969.4 880.5 1977.7 872.5 1975.9 877.9 1980 875.7 1973.1 887.6 1973.4 890.2 1987.6 875 1979.4 888.4 1984.8 884.6 1991.4 879.1 1988.5 885.8 1991 885.7 1977.8 905.1M1979.2 906.2L1985.6 901.2 1998 888.9 2002.1 886.7 1984.8 910.8M1984.8 910.8L1999.4 895.9 2008.6 887.8 1997.1 904.4 1995.9 908.7 2014.6 889.3 2007.1 901.1 2007.2 903.8 2014.5 898.1 2003.5 913.8 2017.5 900.4 2017.2 903.6 2010.7 913.9 2015.6 911.1 2008.9 921.5 2017.4 914.5 2018.1 916.6 2016.4 921.2 2009.3 931.9M2009.3 931.9L2015.8 927.4 2022 923.2 2021 927.1 2027.6 922.5 2022.2 931.2 2017.3 939.1M2017.3 939.1L2030.3 927.7 2034.5 926 2039 923.9 2029 937.2 2034.9 933.6 2043.5 927.2 2034.4 939.4 2045.3 930.7 2029.1 950.2M2029.1 950.2L2050 931.2 2042.1 942 2050.3 936.3 2044.9 944.4 2067.1 924.5 2058.3 936.1 2066.8 930.2 2050 949.7 2060.2 942.1 2063 941.9 2056.4 951.1 2044.4 965.4M2045.7 966.7L2068.8 946.7 2054.5 963.1 2056 964.3 2068.8 954.5 2062.3 963.3 2058.8 969.1 2064.7 966 2055.6 977.1M2055.6 977.1L2081.4 955.5 2078.7 960.6 2093.4 949.5 2086.8 958.1 2073.5 972.9 2085.9 964.1 2074.1 977.3 2077.8 976.4 2080.3 976.7 2083.6 976.2 2089.4 973.5 2085.4 979.5 2075.6 990.7 2072.6 995.7M2072.6 995.7L2082.6 989.4 2083.8 990.7 2093.4 984.8 2095.8 985.2 2100.2 983.9 2090.1 995 2087 1000 2099.4 991.9 2101.8 992.2 2097.6 998.3 2095.8 1002.2 2095.7 1004.6 2107.1 997.5 2108.8 998.5 2105.1 1003.9 2099.4 1011 2118.6 997.8 2101.2 1014.2 2110 1009.5 2115 1007.8 2121 1005.5 2122.5 1006.6 2099.1 1027.5M2099.1 1027.5L2113.8 1018.2 2107 1025.9 2128.3 1011.7 2123.1 1018 2134.2 1011.8 2115.1 1028.9 2119.9 1027.5 2130.8 1021.5 2118.4 1033.2 2119.1 1035 2111.1 1043.2M2111.1 1043.2L2118.5 1040 2130.4 1033.4 2125.3 1039.5 2129.6 1038.6 2123.4 1045.4 2129.3 1043.4 2142.9 1035.8 2130.2 1047.2 2131.6 1048.4 2135.1 1048.2 2154.8 1036.5 2137.8 1050.8 2141.7 1050.3 2163.9 1037.1 2149.7 1049.3 2130.9 1064.6 2170.6 1039.5 2135.6 1065.7 2158.3 1052.5 2142.8 1065.2 2133.5 1073.7 2139 1072.2 2145.5 1070 2162.1 1061.2 2151.7 1070.3 2171.4 1059.6 2139 1083 2174.7 1062 2151.1 1079.4 2156.3 1078.3 2157 1080 2157.2 1082 2162 1081.2 2145.8 1093.6M2145.8 1093.6L2156.5 1089 2147.7 1096.6M2148.6 1098.2L2173 1085.3 2159 1096.1 2163.1 1095.7 2172.2 1092.3 2168.4 1096.8 2173.6 1095.8 2200.2 1082 2179 1096.9 2160 1110.2 2183.5 1098.6 2163.1 1112.6 2174.3 1108.2 2168.5 1113.7 2165.9 1117.3 2171.4 1116.2 2175.8 1115.8 2179.6 1115.8 2170.7 1122.9 2182.1 1118.6 2166.8 1129.2M2166.8 1129.2L2188.2 1119.4 2182.4 1124.7 2179.5 1128.4 2183.3 1128.4 2185.5 1129.3 2176.6 1136.2 2188.9 1131.7 2212.3 1121.3 2190 1135.3 2200.1 1132 2193.2 1137.7 2186.4 1143.3 2195.5 1140.7 2178.7 1151.4M2178.7 1151.4L2184.9 1150.2 2180.3 1154.6M2182.8 1159.4L2192.1 1156.8 2189.9 1159.9 2185.2 1164.3M2188.3 1170.7L2189.8 1172 2189.8 1174M2194.4 1183.8L2196 1185 2201.9 1184.4 2196.6 1188.7M2197.3 1190.3L2220.2 1182.2 2198.8 1193.6M2199.5 1195.3L2200.7 1196.7 2200.9 1198.6M2205.8 1210.2L2213.1 1209.2 2207.2 1213.5M2207.9 1215.2L2210.8 1215.9 2231.2 1209.8 2209.8 1220.2M2209.8 1220.2L2218.8 1218.6 2211.2 1223.6M2214.4 1232L2223.7 1230.4 2220.2 1233.7 2216.2 1237M2219.3 1245.5L2222.4 1246.3 2220.5 1248.9M2221.1 1250.6L2226.6 1250.6 2222.2 1254M2228.4 1272.8L2241.7 1270.6 2229.4 1276.2M2234.5 1293.5L2241 1293.6 2235.5 1297M2236 1298.7L2246.4 1297.7 2236.9 1302.2M2240.9 1317.8L2266.2 1313.5 2241.8 1321.3M2262.4 1469L2275.6 1470.3 2262.5 1472.6M2252.1 1628.5L2268.2 1633.1 2251.5 1632M2226.5 1733.2L2236.7 1738.4 2225.4 1736.6M2197 1810.5L2204 1815.6 2223.9 1826.6 2194.8 1815.4M2194.8 1815.4L2209.5 1824.1 2193.3 1818.7M2193.3 1818.7L2208.1 1827.5 2220.4 1835.3 2217.6 1836 2203.1 1831.3 2207.7 1835.5 2188.7 1828.4M2188.7 1828.4L2207.2 1839.3 2234.5 1854.6 2202.4 1841.1 2203.4 1843.7 2244.3 1865.8 2190.1 1841.2 2201 1848.6 2191.4 1845.9 2197 1850.8 2197.8 1853.2 2230.1 1871.7 2211.6 1864.4 2201.5 1861.3 2207.4 1866.5 2198.9 1864.2 2175.8 1854.2M2175.8 1854.2L2203 1870.6 2211.1 1877 2192.3 1869.1 2181.6 1865.5 2204.6 1879.9 2211.9 1886 2219.1 1892.1 2190.2 1878.5 2191.8 1881.5 2209.4 1893.4 2180.3 1879.3 2185.7 1884.5 2178.9 1882.8 2175 1882.7 2162.9 1877.9M2162.9 1877.9L2164.4 1880.8 2188.6 1896.8 2175.8 1891.6 2186.5 1899.9 2180 1898.3 2181.8 1901.5 2165.6 1894.1 2170.9 1899.4 2190.5 1913.3 2163.4 1899.2 2181.7 1912.4 2157.5 1899.8 2200.6 1928.3 2166.1 1909.4 2172.5 1915.5 2155.3 1907.1 2176.3 1922.3 2166.2 1918.2 2151.3 1911 2146.3 1909.9 2183.2 1935.6 2152.5 1918.2 2155.3 1922.2 2144.1 1917.1 2154.4 1926 2169.5 1938.1 2152 1928.8 2139.4 1922.7 2162.2 1940 2147.2 1932.2 2144.5 1932.7 2143 1933.8 2131.5 1928.2M2131.5 1928.2L2154.8 1946.3 2129.5 1931.2M2129.5 1931.2L2148.5 1946.5 2158.3 1955.5 2131.1 1938.9 2134.2 1943.3 2124.3 1938.6M2124.3 1938.6L2132.7 1946.7 2143.1 1956.3 2122.1 1943.6 2140.7 1959.2 2131.1 1954.5 2125.1 1952.5 2143.9 1968.4 2119.7 1953.1 2128.2 1961.5 2128.4 1964 2132.3 1969.2 2118.1 1960.9 2125.2 1968.4 2109.5 1959M2109.5 1959L2118 1967.6 2155.6 1998.5 2135.7 1985.8 2135.6 1988.1 2104.1 1966.1M2104.1 1966.1L2116.8 1978.3 2115.7 1979.7 2115.8 1982.1 2126.5 1992.9 2115.4 1986.5 2123.4 1995.3 2115.6 1991.4 2112.3 1991.1 2099.3 1983.1 2115.8 1998.8 2105.2 1992.5 2108.3 1997.5 2102.6 1995.2 2110 2003.7 2107.9 2004.4 2108.9 2007.6 2093.4 1997 2116.2 2018.6 2109.9 2015.8 2128.8 2034.3 2126.3 2034.7 2079.1 1996.8M2079.1 1996.8L2097.5 2015.1 2083 2005 2075.6 2000.9M2075.6 2000.9L2087.5 2013.7 2083.7 2012.8 2091.1 2021.8 2071.8 2007.2 2085.2 2021.5 2071.6 2011.9 2070.8 2013.6 2086.2 2029.9 2064.8 2013M2063.6 2014.3L2068.5 2021.3 2080.1 2034.4 2071 2028.6 2065.9 2026.3 2079.1 2041.1 2072.4 2037.4 2071.5 2039.1 2088.4 2057.7 2062 2035.1 2051.3 2027.5M2051.3 2027.5L2050.2 2028.9 2070 2050.5 2055.6 2039.2 2064 2049.9 2061.5 2050 2061.1 2052.2 2042.8 2036.8 2058.4 2054.8 2071.9 2070.9 2055.2 2056.8 2037.5 2041.6M2037.5 2041.6L2049.8 2056.6 2043.5 2052.9 2033.6 2045.4M2033.6 2045.4L2044.7 2059.3 2045.8 2063.1 2037.2 2056.9 2039.4 2061.8 2036.4 2061.3 2042.3 2070.2 2035.4 2065.5 2025.5 2057.7 2021.9 2056.6M2021.9 2056.6L2026.4 2064 2029.9 2070.4 2032.3 2075.8 2026.3 2072 2020.2 2068 2024 2074.9 2013.3 2065.8 2021.2 2077.3 2023 2082 2023.7 2085.5 2010.5 2073.6 2018.1 2084.8 2018.8 2088.4 2008.6 2079.5 2009.9 2083.8 2006.1 2082.3 2009.2 2088.5 2014.7 2097.8 1996.5 2079.4M1995.1 2080.6L2018 2110.3 1992.4 2082.9M1992.4 2082.9L2008.4 2104.7 1995 2091.7 2022.3 2127.2 1993.7 2095.8 1993.4 2098.3 1990.7 2097.9 2000.3 2112.5 1992.3 2105.6 1979.9 2093.2M1979.9 2093.2L1992.6 2111.9 1977.1 2095.5M1977.1 2095.5L1992.6 2117.8 1982.9 2108.5 1972.9 2098.8M1972.9 2098.8L1987.3 2120.2 1970 2101M1970 2101L1976.2 2112 1967.2 2103.2M1967.2 2103.2L1976.6 2118.4 1971.7 2115 1979.8 2128.6 1969.6 2118.3 1960 2108.7M1944.1 2120.4L1945.3 2125.2 1941.2 2122.5M1915.9 2139.7L1925.1 2157.2 1922.5 2156.7 1920 2156.1 1919.4 2158.6 1921.9 2166 1911.8 2153.5 1911 2155.6 1903.7 2147.4M1903.7 2147.4L1908.5 2158.6 1911.8 2167.3 1906.2 2161.7 1910.1 2171.7 1900.4 2159.2 1898.9 2160.2 1899.9 2165.4 1898 2166 1892.4 2160.1 1895.1 2168.2 1902.4 2184.2 1895.3 2175.7 1888.6 2167.9 1886.1 2167.3 1880.6 2161.3M1880.6 2161.3L1891.7 2184.3 1896.7 2196.8 1884.3 2178.8 1886.2 2185.9 1880.7 2179.9 1882.7 2187.3 1874.8 2176.9 1871.1 2173.9 1880.2 2194.4 1871.7 2182.6 1868.3 2180.1 1870.8 2188.6 1860.1 2172.7M1858.6 2173.5L1857.1 2174.6 1855.4 2175.2M1841 2182.6L1840.8 2186.2 1837.8 2184.2M1837.8 2184.2L1837.3 2187.3 1840.4 2197.9 1832.9 2186.5M1826.4 2189.7L1826.1 2193.2 1823.2 2191.2M1793.5 2204.3L1793.7 2209.3 1790.2 2205.6M1748.1 2221.5L1750.8 2234.8 1744.7 2222.7M1722.5 2229.8L1724.1 2241.5 1719 2230.9M1713.9 2232.4L1715.2 2243.4 1710.4 2233.4M1710.4 2233.4L1712.1 2245.9 1706.9 2234.4M1701.7 2235.8L1705.3 2255.7 1698.3 2236.8M1698.3 2236.8L1698.8 2245.6 1694.8 2237.7M1694.8 2237.7L1697.2 2254.1 1691.3 2238.6M1666.8 2244.5L1666.3 2250.4 1663.3 2245.3M1651 2247.9L1649.7 2250.6 1647.5 2248.6M1636.9 2250.6L1635.2 2251.6 1634.2 2256.4 1631.6 2251.6M1620.9 2253.4L1620.6 2262.9 1617.5 2254.6 1615.6 2254.2M1596 2256.9L1595 2263.7 1592.7 2259.8 1591.3 2263.1 1588.8 2257.8M1583.5 2258.4L1582.6 2266.6 1579.9 2258.8M1565.6 2260.2L1564.2 2265.5 1562 2260.5M1560.2 2260.6L1560.1 2283.4 1556.6 2260.9M1536.9 2262.1L1535.1 2263.8 1533.3 2262.3 1531.5 2262.4M1495.5 2263L1493.7 2265.6 1491.9 2263M1472.1 2262.5L1470.1 2268.9 1468.5 2262.4M1443.4 2260.9L1440.8 2271.6 1439.8 2260.6M1439.8 2260.6L1436.1 2283.5 1436.2 2260.3M1427.3 2259.5L1424.2 2272.3 1420.7 2289 1420.5 2272.9 1420.1 2258.8M1416.5 2258.4L1413.1 2272.3 1410.8 2276.9 1410.7 2261.9 1405.7 2288.4 1404.6 2281.9 1403.7 2273.6 1401 2280.8 1399.3 2279.7 1395.5 2293.9 1396 2276.3 1392 2292 1392.3 2275.7 1388.3 2291 1386.9 2287.3 1385.4 2284.5 1383.2 2287.1 1383.2 2274.5 1379 2289.6 1377.6 2286 1376.1 2283.7 1376.8 2267.3 1373.2 2278.1 1370.5 2283.4 1371 2269 1367.9 2276.3 1364.9 2282.5 1364.3 2275.4 1366.7 2251.3M1366.7 2251.3L1360.8 2273.5 1359 2273.3 1359.6 2259.9 1357.7 2259.9 1355.4 2262.2 1356.1 2249.3M1356.1 2249.3L1353.1 2254.8 1348.3 2270.2 1341.7 2293.5 1343.9 2273.1 1340.4 2280.8 1339.8 2274.5 1340.2 2263.5 1334.5 2281.8 1330.6 2290.7 1338.4 2245.7M1338.4 2245.7L1334.6 2254.6 1334.9 2244.9M1334.9 2244.9L1327.4 2270.2 1331 2245.9 1323.8 2269.4 1325.1 2255.6 1319.3 2272.3 1317 2273.9 1318 2261.6 1317.8 2254.6 1317.3 2249 1313.2 2257.7 1309.7 2264.3 1307 2267.5 1304 2271.8 1301.2 2275.2 1308.5 2239.4 1298.3 2271.3 1293.8 2280.7 1294 2272.8 1298.3 2249.6 1298 2243.5 1291.2 2261.4 1292.3 2250.8 1287.5 2260.8 1287.2 2255.3 1287.4 2247.6 1283.2 2255.7 1276.4 2272.5 1277.3 2262.8 1272.8 2271.2 1276.5 2252.1 1274.3 2253.3 1270 2260.8 1277.5 2229.8M1277.5 2229.8L1270.5 2246.7 1274.1 2228.8M1274.1 2228.8L1265.6 2249.9 1261.5 2256.6 1264.3 2241.9 1256.7 2259.3 1250.7 2272 1255.6 2250.7 1255.8 2244 1248.9 2259 1251.2 2246.3 1257 2223.3M1257 2223.3L1248.3 2243.1 1242.5 2254.5 1239.9 2256.4 1240.8 2247.9 1241.9 2239.2 1235.2 2252.6 1232.5 2254.6 1228.8 2259.4 1230.9 2247.8 1238.7 2220.8 1227.2 2247.2 1230.9 2231.6 1231 2225.9 1220.4 2249.3 1217.5 2251.6 1221.7 2235.2 1218.1 2239.4 1218.7 2232.6 1207.9 2255.5 1214.1 2234.1 1221.5 2210.3M1221.5 2210.3L1208.6 2238.1 1213.8 2219.9 1208.7 2227.7 1198 2249.4 1206.2 2224.1 1205.6 2220.7 1198 2234.2 1187.3 2255.3 1185.8 2253.9 1199.2 2216.9 1193 2226.9 1189.3 2230.9 1191.2 2221.7 1185.9 2229.3 1185.7 2224.9 1183.7 2225 1173.8 2242.9 1170.9 2244.7 1178 2223.9 1171.5 2234 1174.8 2222 1163.3 2242.8 1170 2223.5 1161.1 2238.4 1180.1 2192.7M1180.1 2192.7L1168.2 2214.1 1173.7 2197.9 1175.2 2190.4M1167.1 2186.5L1159.3 2198.4 1163.9 2185M1143 2174.3L1135.7 2184.3 1139.9 2172.7M1099.3 2149.3L1089.8 2161.3 1096.3 2147.4M1058.8 2122.5L1048.7 2133.7 1055.9 2120.4M1050.1 2116.2L1034.2 2134.8 1037.1 2127.7 1037.3 2124.4 1036.8 2122 1038.7 2116.5 1032.5 2121.7 1036 2114 1036.9 2109.8 1028.1 2118.3 1016.5 2130.4 1032.3 2106.8 1025 2113.3 1019.9 2116.9 1030 2101M1030 2101L1022.7 2107.4 1010.1 2120.4 1015.5 2110.5 1009.2 2115.5 1016.1 2103.9 1015.4 2101.9 1016.9 2097.1 997.5 2118.2 1005.6 2105.3 1000 2109.2 1002.8 2102.9 1003.7 2098.9 999.9 2100.6 1006.2 2090.3 996.1 2099.5 1007.6 2082.9M1007.6 2082.9L983.5 2108.5 989.3 2098.9 990.6 2094.4 987 2095.8 989.4 2090.2 986.4 2090.9 976.9 2099 988 2083.5 980.5 2089.2 974.7 2093 978.8 2085.6 964.4 2098.9 978.7 2080.1 971.3 2085.6 970.6 2083.6 986 2063.9M986 2063.9L968 2080.9 977.7 2067.6 975.2 2067.6 980.7 2059M980.7 2059L958.3 2080.4 964.3 2071.3 954.4 2079.1 949.9 2081.1 961.2 2066.4 958 2067.1 949.1 2073.7 963.9 2055.7 953.7 2063.7 948.3 2066.6 958.9 2053 956.2 2053.2 960 2046.7 957.1 2047.1 951 2050.6 944.2 2054.9 931.7 2064.6 947.8 2046.1 938.6 2052.5 931.8 2056.6 941.2 2044.8 935.4 2047.9 946.5 2034.6 940.5 2037.8 933.9 2041.6 927.9 2044.8 946.2 2024.9M946.2 2024.9L941.7 2026.6 917 2047.3 942.5 2020.9M942.5 2020.9L924.6 2035.1 939.7 2018.6 930.3 2024.8 925.8 2026.5 935.7 2015 935.2 2013M935.2 2013L930.6 2014.7 932.8 2010.3M932.8 2010.3L929.8 2010.6 907.1 2028.4 905 2027.7 928 2005M928 2005L924.8 2005.4 925.6 2002.2M925.6 2002.2L921.1 2003.8 907.9 2012.9 906.9 2011.3 908.2 2007.7 914.2 2000.2 911.7 1999.9 911.3 1997.9 910.2 1996.4 894.8 2007 896 2003.5 892.4 2004.1 904.3 1991.8 908.6 1986 897.6 1992.6 908.2 1981.6M908.2 1981.6L899.5 1986.4 880.2 1999.6 893.3 1986.7 894.2 1983.6 883.1 1990.1 866.6 2000.7 884.7 1984.1 882 1983.9 880.4 1982.8 864.7 1992.6 863.6 1991.1 878 1977.6 875.6 1977.1 881 1970.7 888.1 1963 865 1978.2 889.4 1957.5M889.4 1957.5L867.4 1971.7 887.2 1954.6M887.2 1954.6L867.1 1967.3 867.7 1964.5 879 1954 862.9 1963.5 841.8 1976.5 859.7 1961.2 860.4 1958.4 878.8 1943M878.8 1943L865.4 1950.3 850.8 1958.3 870.4 1942.3 848.3 1955.5 873.6 1935.7M873.6 1935.7L850.9 1949.2 853.6 1945 863.3 1936.2 854.3 1940.1 836.1 1950.2 842.6 1943.6 854.4 1933.3 838.7 1941.6 856.1 1927.8 844.4 1933.4 849.4 1927.9 849.3 1925.7 827.1 1938 832.1 1932.5 834 1929.1 829.8 1929.6 830 1927.2 828.4 1926 832.9 1921 820.8 1926.4 833.8 1916 844.6 1907.1 836.9 1909.7 820.6 1917.6 830 1909.7 818.9 1914.2 813.6 1915.2 823.8 1906.9 818.2 1908 817.6 1906.2 821.9 1901.5 838.8 1889.4 803.6 1907.9 840.7 1884.1M840.7 1884.1L831.9 1887.1 802.2 1902.2 831.9 1882.9 836.4 1878.3 821.4 1884.7 830.8 1877.3 834.5 1873.2M825.9 1857.4L824.6 1856 824.2 1854.2M824.2 1854.2L822.8 1852.9 822.5 1851M799.4 1802.2L785 1806.5 798 1798.9M738.8 1551.7L737.9 1549.9 708.6 1550 738.4 1546.3M737.3 1522.9L714.1 1521.8 701.1 1520.3 717.6 1518 721.3 1516.1 702.3 1514.6 735 1512.2 711 1510.7 699.8 1509 720.8 1506.9 720.2 1505.1 714.2 1503.2 707.5 1501.4 710.1 1499.5 722.5 1497.7 718 1495.9 734.6 1494.1 729 1492.3 718.7 1490.3 723.3 1488.6 726.9 1486.8 714.9 1484.7 715.1 1482.9 712.8 1481 720.7 1479.3 720.7 1477.5 732.6 1476 705.6 1473.3 734.6 1472.5 719.7 1470.1 701.9 1467.5 716.1 1466.2 706.3 1464 711.3 1462.3 722.7 1461 717.5 1458.9 680.6 1455 683.2 1453.2 674.1 1450.8 729.2 1452.2 736.2 1450.9 724.7 1448.3 721.6 1446.2 717.5 1444.1 703.1 1441.2 719.8 1440.6 712.8 1438.2 736 1438.2 717.3 1434.8 716.3 1432.9 731.3 1432.3 716.1 1429.1 702.6 1426 720.9 1425.8 734.3 1425.3 716.1 1421.7 738.8 1422.1 713 1417.6 725 1417 733.2 1416.1 693.7 1409.8 719.6 1410.8 723.4 1409.4 708.7 1405.8 713.3 1404.5 725 1404 703.4 1399.5 713.5 1398.9 717.9 1397.5 721.6 1396.2 729.4 1395.4 723 1392.6 706.6 1388.4 731.6 1390.1 720.9 1386.7 714.2 1383.8 722.9 1383.3 745.7 1384.9M745.7 1384.9L706.6 1377 723.7 1377.7 725.7 1376.2 746.9 1377.8M746.9 1377.8L713.4 1370.4 728.1 1371 722.3 1368.1 719.2 1365.7 722.6 1364.4 730.1 1363.8 722.2 1360.5 718.7 1358 728 1357.8 731.3 1356.6 749.6 1358.1 745.1 1355.4 717.3 1348.2 730.4 1348.9 723.3 1345.6 732.7 1345.5 752.4 1347.7M764 1298.7L735.9 1289.1 765 1295.2M773.2 1267.6L748.6 1257.8 774.3 1264.2M776 1259.1L771.1 1255.6 777.2 1255.7M777.2 1255.7L770.2 1251.4 778.3 1252.3M785 1233.6L782.8 1230.9 786.3 1230.3M801.2 1193.6L793.4 1188.2 802.7 1190.3M803.4 1188.7L798.1 1184.4 803.8 1184.9 805.6 1183.8M814 1165.9L801.1 1157.5 815.6 1162.7M817.2 1159.4L817.1 1157.4 818.8 1156.2M820.5 1153L818.6 1150 822.1 1149.8M822.9 1148.2L819.2 1144.2 824.6 1145M844.8 1108.9L836 1101.5 846.7 1105.8M851.4 1098.2L832.5 1084.3 843.3 1088.9 818.8 1071.3 850.3 1089 841.2 1081.1 845.5 1081.6 849.6 1082 827.1 1065.4 834.4 1067.8 819.6 1056 825.1 1057.3 847.4 1069.7 843.8 1065.1 842.2 1061.8 844.6 1061.1 836.8 1053.7 849 1059.6 851 1058.8 855.3 1059.5 845.7 1050.7 853.7 1053.9 873.1 1065.1M873.1 1065.1L845.5 1043.7 853.7 1047.1 856.3 1046.7 844.8 1036.2 864.4 1047.9 867.2 1047.6 859.7 1040 881.4 1053.3M881.4 1053.3L867.6 1041.1 875.9 1044.9 854.4 1026.9 849.2 1020.7 878.5 1040 858.3 1022.7 883.2 1038.9 839.8 1004.1 850.5 1009.7 883.2 1032.2 872 1021.3 871.7 1018.7 884.7 1026.3 881.8 1021.8 875.4 1014.5 883.5 1018.5 871.8 1006.9 881.2 1012 884 1011.8 903.1 1024.7M903.1 1024.7L851.2 980.8 879.6 1001.1 904.3 1018.6 890.8 1005.4 889.4 1001.8 889.6 999.6 897 1003.3 906.3 1008.6 904.9 1005.1 865.8 970.1 905.1 1000.5 902 995.5 903.3 994.2 890.6 980.9 903.7 989.7 916.4 998.1 902.7 983.9 907.3 985.4 916.7 991.2 913.1 985.6 926.6 995 917.9 984.9 917.3 981.9 928.8 989.8 911.9 972.2 931.3 987.1 927.6 981.4 935.8 986.3M935.8 986.3L917.7 967.3 938 983.5 918.9 963.4 924.6 966.2 928.1 966.9 941.7 977.1 937.6 970.7 945.6 975.8M945.6 975.8L937.2 965.3 935.8 961.5 941.1 964 924.8 945.7 936.4 954.4 942.2 957.4 926.4 939.5 934.9 945.2 943.3 950.8 944.5 949.4 934.4 936.7 936.3 936 935.8 932.8 938.3 932.6 939.1 930.7 950.4 939.7 939.3 925.6 966.8 951.1 949.7 930.9 963.3 942.3 953.9 929.9 954.4 927.7 969.4 940.8 976.1 945.3M978.7 942.8L979.4 940.8 981.4 940.4M982.7 939.1L970.7 923.4 985.3 936.7M988 934.3L977.2 919.6 990.7 931.9M997.4 925.9L998 923.9 1000.1 923.6M1015.2 910.8L1011.6 903.5 1018 908.5M1025 902.9L1024.6 899.5 1027.9 900.6M1032.1 897.3L1031.3 893.3 1028.2 886.3 1036.4 894M1045 887.5L1043.9 883 1042.3 877.8 1049.3 884.3M1065.5 872.8L1064.4 868.2 1068.4 870.8M1069.9 869.8L1067.8 863.4 1072.9 867.8M1077.4 864.7L1069.5 849.6 1080.4 862.8M1098.6 851.1L1095.2 842.3 1094.4 837.4 1091.7 829.5 1094.8 831 1106.2 846.5M1106.2 846.5L1098.7 830.5 1109.3 844.6M1109.3 844.6L1097.6 821.3 1104.8 829.8 1108.5 832.5 1115.5 841M1115.5 841L1110.3 828.4 1108.3 821.3 1106.7 814.7 1118.7 832.1 1109.5 812.2 1118.8 824.8 1114.3 813 1115.5 811.5 1122.6 820.4 1121.6 814.8 1130.3 826.8 1122.6 809 1117.2 795 1128.3 811.7 1135 820.3 1140.6 826.9M1140.6 826.9L1129.5 802.1 1131 801 1136.8 807.9 1144.3 818.3 1143.2 812.2 1149.1 819.8 1151.8 821.1M1151.8 821.1L1143.3 800.4 1147.3 804.2 1151.7 808.9 1149.7 800.8 1142.7 782.7 1157.6 808.5 1160 809.2 1155.8 796.5 1153.1 786.7 1161.4 799.6 1166.8 806.5 1171.1 811.5M1171.1 811.5L1162.3 788.6 1174.4 810M1174.4 810L1172.8 802.4 1172 796.2 1167.6 782.4 1174.1 792.1 1176.1 792 1168 769.8 1176.5 783.9 1175.6 777.6 1184.3 792.5 1185.9 791.4 1191.2 798.9 1194 801M1194 801L1188.3 783.2 1189.8 782.1 1188.8 775.2 1188.9 770.7 1196.5 783.7 1189 761.3 1202.2 788 1207.3 795.4M1207.3 795.4L1202.6 779.4 1207.8 787.2 1205.8 777.3 1206.7 774.8 1209.5 776.8 1215 785.5 1215.9 782.9 1208.2 758.3 1220.7 785.1 1217.1 770.9 1225.7 788M1225.7 788L1220.4 769.1 1223.2 771.3 1225.3 771.9 1232.4 785.5M1232.4 785.5L1228.2 769 1229.4 767 1224.8 749 1237.7 778.9 1236.1 769.3 1236.6 765.3 1238.1 764 1244.5 776.7 1240.3 759 1246.9 772.6 1244.4 759.6 1252.7 778.2M1252.7 778.2L1247.7 757.8 1246.8 749.4 1251.1 756.5 1255.8 764.7 1261.2 775.3M1261.2 775.3L1255.3 751.5 1264.6 774 1259.4 752 1264.1 760.6 1269.8 772.6M1271.5 772L1270.8 763.8 1269 751.7 1270.1 748.9 1278.4 769.9M1297.4 764.4L1299 763.3 1300.9 763.4M1351.6 751.6L1351.1 739.2 1355.2 750.9M1355.2 750.9L1353.3 731.3 1353.6 723.1 1357.1 732 1359.3 733.3 1359.5 724 1364.7 742.6 1364.6 731.6 1368.6 744.2 1367.3 725.6 1369.5 728 1374.2 744.5 1374.2 733.3 1378.2 746.8M1378.2 746.8L1379.9 745.9 1378.8 727.5 1381.9 735.1 1384.2 738.6 1385.2 732.7 1385.9 724.9 1387.5 723 1390.1 728 1390.5 717.9 1392.7 719.9 1396.8 736.7 1396.9 724 1398.6 722.2 1403.1 743.2M1469.4 737.6L1469.9 701.9 1472.6 725.4 1474.4 725.4 1476 716.1 1478.4 737.3M1478.4 737.3L1479.8 719.6 1481.8 728.6 1483.4 718.8 1485.4 726.9 1487.4 737.1M1487.4 737.1L1488.8 711.5 1490.9 725.1 1492.6 720.4 1494.5 726.3 1496.3 717.2 1498.2 724.6 1500 730.9" fill="none" stroke="#6baed6" stroke-width="1.8" stroke-linejoin="round"/><path d="M1500 737L1501.8 737 1503.6 737 1505.4 737 1507.2 737 1509 737.1 1510.8 737.1 1512.6 737.1 1514.4 737.1 1516.2 737.2 1518 737.2 1519.8 737.3 1521.6 737.3 1523.4 737.4 1525.2 737.4 1527 737.5 1528.8 737.5 1530.4 741.2 1532.4 737.7 1534.2 737.8 1536 737.8 1537.8 737.9 1538.9 751.4 1541.4 738.1 1543.2 738.2 1544.9 738.3 1546.7 738.4 1548.5 738.5 1550.3 738.7 1551.5 748.6 1553.9 738.9 1555.5 742.2 1557.5 739.2 1559.3 739.3 1561.1 739.5 1562.9 739.6 1564.7 739.7 1566.5 739.9 1568.3 740.1 1570.1 740.2 1571.8 740.4 1573.6 740.6 1575.4 740.7 1577.2 740.9 1579 741.1 1580.8 741.3 1582.6 741.5 1584.4 741.7 1584.8 754.2 1588 742.1 1589.7 742.3 1591.5 742.5 1593.3 742.7 1595.1 742.9 1596.9 743.2 1598.7 743.4 1600.4 743.6 1602.2 743.9 1604 744.1 1605.8 744.4 1607.6 744.6 1609.4 744.9 1611.1 745.1 1612.9 745.4 1614.7 745.7 1616.5 745.9 1618.2 746.2 1620 746.5 1621.8 746.8 1623.6 747.1 1625.4 747.4 1627.1 747.7 1628.9 748 1630.7 748.3 1632.4 748.6 1634.2 748.9 1636 749.2 1637.8 749.5 1639.5 749.9 1641.3 750.2 1643.1 750.5 1644.8 750.9 1646.6 751.2 1648.4 751.6 1650.1 751.9 1651.9 752.3 1653.6 752.6 1655.4 753 1657.2 753.4 1658.9 753.7 1660.7 754.1 1662.4 754.5 1664.2 754.9 1666 755.3 1667.7 755.7 1666.2 770.2 1671.2 756.5 1673 756.9 1674.7 757.3 1676.5 757.7 1678.2 758.1 1679.7 759.8 1681.7 759 1683.5 759.4 1685.2 759.8 1687 760.3 1686.7 768.5 1690.4 761.2 1692.2 761.6 1693.9 762.1 1695.7 762.5 1697.4 763 1699.1 763.4 1700.9 763.9 1702.6 764.4 1701.8 774.1 1705.5 767.5 1707.8 765.8 1707.9 772 1706.6 783 1713 767.3 1714.7 767.8 1716.5 768.3 1718.2 768.9 1719.9 769.4 1721.6 769.9 1723.3 770.4 1725.1 770.9 1726.8 771.5 1728.5 772 1730.2 772.6 1730.2 778.6 1733.6 773.7 1735.4 774.2 1737.1 774.8 1738.8 775.3 1740.5 775.9 1742.2 776.5 1743.9 777 1745.6 777.6 1742.9 791.1 1749 778.8 1750.7 779.4 1752.4 780 1754.1 780.6 1755.8 781.2 1755.8 786.5 1759.2 782.4 1760.9 783 1762.6 783.6 1764.2 784.2 1765.9 784.8 1767.6 785.5 1769.3 786.1 1771 786.7 1772.7 787.4 1772.6 792.6 1776 788.7 1777.7 789.3 1779.4 790 1778.7 796.5 1782.7 791.3 1784.4 792 1786.1 792.7 1787.7 793.3 1789.4 794 1791.1 794.7 1787.8 807.3 1794.4 796.1 1796 796.8 1797.7 797.5 1799.3 798.2 1801 798.9 1802.7 799.6 1804.3 800.3 1806 801 1807.6 801.8 1797.8 828.4 1810.9 803.2 1812.5 803.9 1814.2 804.7 1815.8 805.4 1817.4 806.2 1819.1 806.9 1820.7 807.7 1822.3 808.4 1824 809.2 1825.6 810 1827.2 810.7 1828.9 811.5 1830.5 812.3 1832.1 813.1 1833.7 813.8 1835.3 814.6 1836.9 815.4 1838.6 816.2 1840.2 817 1828.3 844.7 1843.4 818.6 1845 819.4 1846.6 820.3 1848.2 821.1 1849.8 821.9 1851.4 822.7 1853 823.6 1854.6 824.4 1856.2 825.2 1857.8 826.1 1859.4 826.9 1860.9 827.8 1862.5 828.6 1864.1 829.5 1865.7 830.3 1867.3 831.2 1868.8 832.1 1870.4 832.9 1872 833.8 1873.6 834.7 1875.1 835.6 1876.7 836.5 1878.2 837.4 1879.1 839.6 1881.4 839.1 1882.9 840 1884.5 841 1886 841.9 1887.6 842.8 1889.1 843.7 1890.7 844.6 1892.2 845.5 1893.8 846.5 1895.3 847.4 1896.8 848.3 1898.4 849.3 1899.9 850.2 1901.4 851.1 1903 852.1 1904.5 853 1906 854 1907.5 855 1909.1 855.9 1910.6 856.9 1912.1 857.9 1905 872.2 1915.1 859.8 1916.6 860.8 1918.1 861.8 1919.6 862.8 1921.1 863.8 1922.6 864.7 1924.1 865.7 1925.6 866.7 1922.9 873.9 1928.6 868.8 1930.1 869.8 1931.6 870.8 1932.3 872.9 1934.5 872.8 1936 873.9 1927 889.9 1939 875.9 1940.4 877 1941.9 878 1943.4 879 1944.8 880.1 1946.3 881.1 1947.8 882.2 1949.2 883.2 1950.7 884.3 1949.4 889 1953.6 886.4 1955 887.5 1956.4 888.6 1957.9 889.7 1959.3 890.7 1960.8 891.8 1962.2 892.9 1963.6 894 1965 895.1 1966.5 896.2 1967.9 897.3 1969.3 898.4 1970.7 899.5 1972.1 900.6 1973.6 901.7 1975 902.9 1976.4 904 1976.4 906.8 1972.5 914.5 1980.6 907.4 1982 908.5 1983.4 909.6 1983.8 911.9 1986.1 911.9 1987.5 913.1 1988.9 914.2 1990.3 915.4 1991.7 916.5 1993 917.7 1994.4 918.9 1995.8 920 1997.2 921.2 1998.5 922.4 1999.9 923.6 2001.2 924.7 2002.6 925.9 2003.9 927.1 2005.3 928.3 2006.6 929.5 2008 930.7 2006.2 935.4 2010.7 933.1 2012 934.3 2013.3 935.5 2014.7 936.7 2016 937.9 2009.8 947.3 2018.6 940.4 2019.9 941.6 2021.3 942.8 2022.6 944 2023.9 945.3 2025.2 946.5 2026.5 947.8 2027.8 949 2021.3 958.4 2030.4 951.5 2031.7 952.7 2033 954 2034.2 955.3 2035.5 956.5 2036.8 957.8 2038.1 959 2039.4 960.3 2040.6 961.6 2041.9 962.9 2043.2 964.1 2042.2 967.6 2042.5 969.8 2046.9 968 2048.2 969.3 2049.4 970.6 2050.7 971.9 2051.9 973.2 2053.2 974.5 2054.4 975.8 2039.8 992.1 2056.9 978.4 2058.1 979.7 2059.3 981 2060.6 982.4 2061.8 983.7 2063 985 2064.2 986.3 2065.4 987.7 2066.6 989 2067.8 990.3 2069 991.7 2070.2 993 2071.4 994.4 2055.4 1010.9 2073.8 997.1 2075 998.4 2076.2 999.8 2077.3 1001.1 2078.5 1002.5 2079.7 1003.9 2080.8 1005.2 2082 1006.6 2083.2 1008 2084.3 1009.4 2085.5 1010.7 2086.6 1012.1 2087.8 1013.5 2088.9 1014.9 2090.1 1016.3 2091.2 1017.7 2092.3 1019.1 2093.5 1020.5 2094.6 1021.9 2095.7 1023.3 2096.9 1024.7 2098 1026.1 2097.8 1028.5 2100.2 1028.9 2101.3 1030.3 2102.4 1031.7 2103.5 1033.2 2104.6 1034.6 2105.7 1036 2106.8 1037.5 2107.9 1038.9 2109 1040.3 2110.1 1041.8 2104.1 1048.5 2112.2 1044.6 2113.3 1046.1 2114.4 1047.5 2115.4 1049 2116.5 1050.4 2117.5 1051.9 2118.6 1053.3 2119.7 1054.8 2120.7 1056.3 2121.7 1057.7 2122.8 1059.2 2123.8 1060.7 2124.9 1062.1 2125.9 1063.6 2126.9 1065.1 2127.9 1066.6 2129 1068 2130 1069.5 2131 1071 2132 1072.5 2133 1074 2134 1075.5 2135 1077 2136 1078.5 2137 1080 2138 1081.5 2139 1083 2139.9 1084.5 2140.9 1086 2141.9 1087.5 2142.9 1089 2143.8 1090.6 2144.8 1092.1 2141.8 1096.1 2146.7 1095.1 2133.1 1105.7 2148.4 1098.3 2149.6 1099.7 2150.5 1101.2 2151.4 1102.8 2152.4 1104.3 2153.3 1105.8 2154.2 1107.4 2155.2 1108.9 2156.1 1110.5 2157 1112 2157.9 1113.6 2158.8 1115.1 2159.7 1116.7 2160.6 1118.2 2161.5 1119.8 2162.4 1121.4 2163.3 1122.9 2164.2 1124.5 2165.1 1126.1 2166 1127.6 2161.7 1132.1 2167.7 1130.8 2168.6 1132.3 2169.4 1133.9 2170.3 1135.5 2171.2 1137.1 2172 1138.7 2172.9 1140.2 2173.7 1141.8 2174.6 1143.4 2175.4 1145 2176.2 1146.6 2177.1 1148.2 2177.9 1149.8 2173.6 1154 2179.5 1153 2175.6 1157 2168.8 1162.4 2156.3 1170.7 2157.8 1171.9 2183.6 1161 2184.4 1162.7 2175.2 1169.1 2179.4 1169.1 2182.9 1169.3 2159.1 1182.8 2174.1 1177.5 2189.1 1172.4 2176.3 1180.4 2171.3 1184.7 2182.2 1181.5 2173.4 1187.6 2190.4 1181.7 2185.8 1185.7 2175.7 1192.3 2195.1 1185.4 2195.9 1187.1 2175 1198.4 2185.8 1195.5 2198.1 1192 2183.3 1200.4 2193.4 1197.9 2200.2 1196.9 2178 1208.5 2188.5 1205.8 2163.6 1218.3 2195.4 1206.8 2203.6 1205.3 2188.1 1213.7 2194.8 1212.8 2187.8 1217.6 2206.5 1211.9 2199.3 1216.7 2190.8 1222.1 2208.5 1216.9 2209.2 1218.5 2193.3 1226.7 2210.5 1221.9 2185.9 1233.4 2205.7 1227.6 2212.3 1227 2207 1230.9 2210.9 1231.3 2164.2 1250.8 2215 1233.6 2215.6 1235.3 2202.2 1242.2 2180.8 1251.9 2201.7 1246.1 2201.6 1248 2159.2 1265 2167.4 1263.9 2219.9 1247.2 2214.7 1250.9 2184.1 1263.4 2221.7 1252.3 2195.5 1263.1 2210.1 1260 2199.1 1265.6 2206.2 1265 2209.4 1265.8 2207.1 1268.4 2220.1 1266 2217.2 1268.8 2203.4 1275.1 2225.3 1270 2209.6 1276.8 2214.1 1277.2 2228.9 1274.5 2228.7 1276.5 2209.6 1284.1 2214.5 1284.5 2223.6 1283.6 2223.3 1285.6 2221.3 1288 2218.6 1290.6 2231.7 1288.7 2222.1 1293.3 2219.9 1295.8 2220.6 1297.4 2235 1295.2 2227.5 1299.2 2228.6 1300.7 2236.4 1300.4 2225.2 1305.3 2184.8 1317.9 2203.7 1314.6 2206.1 1315.8 2184 1323.3 2237.6 1311.3 2230.8 1314.9 2206.4 1322.8 2215.9 1322.2 2221.2 1322.7 2241.4 1319.6 2220.1 1326.6 2203.2 1332.4 2187.5 1337.8 2204.3 1335.6 2225.1 1332.6 2223.5 1334.7 2209.7 1339.7 2226.3 1337.7 2234.8 1337.6 2206 1345.7 2233.1 1341.6 2219.3 1346.4 2223.6 1347.2 2216.2 1350.6 2242.1 1347 2214.6 1354.4 2231.2 1352.8 2196 1361.6 2218.4 1358.9 2221 1360.2 2235.8 1359.1 2224.7 1363 2218.7 1365.9 2216.7 1368 2213.8 1370.3 2209.5 1372.8 2226.8 1371.5 2229.1 1372.8 2221.3 1375.9 2216.5 1378.5 2214.1 1380.6 2224.4 1380.7 2230.2 1381.5 2242.8 1381.2 2218.3 1386.9 2230.5 1386.7 2214.6 1390.9 2218.5 1392.1 2235.9 1391.2 2235.3 1393.1 2214 1397.9 2217.9 1399.1 2237.8 1398 2232.7 1400.5 2249 1400.1 2221.6 1405.5 2222.5 1407.1 2207.3 1410.7 2257 1406.3 2220.1 1412.6 2241.8 1411.7 2231.3 1414.7 2247 1414.7 2205.5 1421.1 2217.7 1421.4 2231.9 1421.6 2218.1 1424.8 2191.4 1429.3 2227.8 1427.3 2196.4 1432.1 2232.1 1430.3 2249.4 1430.5 2192.2 1437.4 2222.5 1436.4 2220.8 1438.2 2220.6 1440 2232.8 1440.7 2254.5 1440.7 2200.9 1446.6 2228.3 1446.2 2257.8 1445.9 2232.3 1449.4 2235.3 1451 2230.1 1453 2207.7 1456.1 2227.8 1456.6 2204.9 1459.7 2224.4 1460.3 2245.7 1460.8 2217.4 1464 2241.1 1464.6 2234.2 1466.7 2231.7 1468.5 2241.8 1469.8 2262.4 1470.8 2259.6 1472.7 2246.6 1474.9 2242.3 1476.8 2227.5 1479 2222.5 1480.8 2225.5 1482.5 2201.1 1484.7 2243 1485.5 2245.5 1487.3 2224.5 1489.3 2227.1 1491 2231 1492.7 2232.4 1494.4 2233.9 1496.1 2206.5 1497.9 2223.6 1499.6 2223.7 1501.3 2217.4 1503 2236.5 1504.8 2238 1506.5 2244.4 1508.3 2229.5 1509.9 2213.6 1511.4 2251.3 1513.7 2230 1515.1 2231.9 1516.8 2248.1 1519 2218.2 1519.9 2218.2 1521.6 2245.1 1524.2 2232.3 1525.5 2224.4 1526.9 2251.4 1529.7 2233.1 1530.7 2224.4 1532 2245.7 1534.7 2217.3 1535.1 2216.8 1536.8 2219.4 1538.6 2212.3 1539.9 2223.9 1542.3 2230.8 1544.4 2222.9 1545.7 2204.8 1546.2 2212 1548.3 2223.1 1550.8 2239.4 1553.7 2222.6 1554.2 2212.3 1555.1 2224.8 1557.8 2207.2 1558.1 2213.3 1560.3 2222.5 1562.8 2241.8 1566.2 2225.7 1566.5 2234.3 1569 2228 1570.2 2199.5 1569.1 2210 1571.8 2250.4 1577.7 2238.6 1578.2 2233.2 1579.4 2215.3 1579.2 2226 1582.1 2194.5 1580.2 2232.5 1586.3 2251.3 1590.3 2224.9 1588.9 2193.3 1586.7 2230.8 1593.1 2233.7 1595.2 2233.9 1597 2242.4 1599.9 2229.5 1599.9 2231.5 1602 2238.5 1604.7 2253.9 1608.7 2237.4 1608.1 2243.4 1610.8 2240.5 1612.1 2220.4 1610.8 2229.1 1613.9 2227.7 1615.5 2236.4 1618.6 2223.3 1618.3 2222.6 1619.9 2237.5 1624.2 2225.2 1623.9 2251.8 1630.2 2239.2 1629.8 2223.9 1628.9 2235.1 1632.7 2231.7 1633.9 2211 1631.8 2226 1636.4 2218.1 1636.6 2213.2 1637.5 2222.5 1641 2227.9 1643.8 2225.2 1645.1 2219.9 1645.8 2211.3 1645.8 2204.5 1646.1 2213.1 1649.7 2211.4 1651.1 2222.5 1655.2 2179.8 1647.7 2210.9 1656.2 2202.9 1656.2 2207 1658.9 2227.6 1665.3 2200.9 1661 2234.2 1670.4 2202.7 1664.9 2213.1 1669.1 2191 1665.6 2211 1672.1 2224.7 1677.3 2217.2 1677.2 2220.8 1679.9 2218.5 1681.1 2209.8 1680.7 2214.5 1683.7 2208.4 1683.9 2208.7 1685.8 2222.3 1691.2 2226.7 1694.2 2220.2 1694.3 2206.1 1692.2 2217.4 1697.1 2215.6 1698.5 2203.4 1696.9 2211.8 1701 2222.3 1705.8 2216.3 1705.9 2208.4 1705.5 2212.8 1708.6 2215.2 1711.1 2206.5 1710.4 2227.6 1718.5 2219.7 1718 2218.2 1719.4 2219 1721.5 2218.6 1723.2 2200.6 1719.4 2220.7 1727.6 2203.1 1723.9 2203.5 1725.8 2225.9 1734.9 2188.1 1724.5 2203.2 1731.2 2215.5 1737.2 2195.2 1732.2 2189 1732 2222.2 1745.1 2202.2 1740.1 2196.3 1739.9 2195.8 1741.6 2211.1 1748.8 2201.7 1747.4 2200 1748.6 2194.3 1748.4 2197.7 1751.5 2181.4 1747.5 2181.3 1749.2 2194.7 1756 2193.9 1757.6 2174.2 1752.1 2158.9 1748.1 2198.8 1765 2185.2 1761.7 2201.9 1770 2203.2 1772.4 2168.3 1760.7 2172.7 1764.2 2199.6 1776.7 2190.3 1774.9 2199.4 1780.5 2191 1779 2185.9 1778.8 2180.5 1778.5 2180.9 1780.5 2176.1 1780.4 2198.1 1791.4 2192.9 1791.2 2197.6 1795.1 2176.2 1788 2186.2 1794.1 2195.2 1799.9 2179 1794.8 2180.7 1797.5 2162.4 1791.3 2184.8 1803.1 2186.9 1806 2196.2 1812.1 2195.5 1813.8 2175.9 1806.8 2194 1817 2188.2 1816.3 2192.5 1820.3 2191.8 1821.9 2191 1823.6 2190.2 1825.2 2189.5 1826.8 2173.7 1821.3 2187.9 1830.1 2187.1 1831.7 2186.3 1833.3 2185.6 1834.9 2184.8 1836.5 2184 1838.2 2183.2 1839.8 2182.4 1841.4 2181.6 1843 2180.8 1844.6 2179.9 1846.2 2179.1 1847.8 2178.3 1849.4 2177.5 1851 2176.6 1852.6 2169.7 1851 2175 1855.8 2174.1 1857.4 2173.3 1859 2172.4 1860.5 2171.6 1862.1 2170.7 1863.7 2169.9 1865.3 2169 1866.9 2168.1 1868.4 2167.3 1870 2166.4 1871.6 2165.5 1873.2 2164.6 1874.7 2163.8 1876.3 2151.6 1871.4 2162 1879.4 2161.1 1881 2160.2 1882.5 2159.3 1884.1 2158.4 1885.6 2157.5 1887.2 2156.5 1888.7 2155.6 1890.3 2154.7 1891.8 2153.8 1893.4 2152.8 1894.9 2151.9 1896.5 2151 1898 2150 1899.5 2149.1 1901.1 2148.1 1902.6 2147.2 1904.1 2146.2 1905.6 2145.3 1907.2 2144.3 1908.7 2143.4 1910.2 2142.4 1911.7 2141.4 1913.2 2140.4 1914.7 2139.5 1916.3 2138.5 1917.8 2137.5 1919.3 2136.5 1920.8 2135.5 1922.3 2134.5 1923.8 2133.5 1925.3 2132.5 1926.7 2106.7 1911.4 2130.5 1929.7 2112.5 1919.6 2128.4 1932.7 2127.4 1934.2 2126.4 1935.7 2125.4 1937.1 2113 1930.6 2123.3 1940.1 2122.3 1941.5 2121.2 1943 2120.2 1944.5 2119.1 1945.9 2118.1 1947.4 2117 1948.8 2116 1950.3 2114.9 1951.7 2113.8 1953.2 2112.8 1954.6 2111.7 1956.1 2110.6 1957.5 2102.7 1953.9 2108.4 1960.4 2107.4 1961.8 2106.3 1963.3 2105.2 1964.7 2093.9 1958.3 2103 1967.5 2101.9 1969 2100.8 1970.4 2099.6 1971.8 2098.5 1973.2 2097.4 1974.6 2096.3 1976 2095.2 1977.4 2094 1978.8 2092.9 1980.2 2091.8 1981.6 2090.6 1983 2089.5 1984.4 2088.4 1985.8 2087.2 1987.2 2086.1 1988.6 2084.9 1989.9 2083.8 1991.3 2082.6 1992.7 2081.4 1994.1 2080.3 1995.4 2073.4 1991.9 2077.9 1998.2 2076.7 1999.5 2072.5 1998.2 2074.4 2002.2 2073.2 2003.6 2072 2005 2070.8 2006.3 2069.6 2007.6 2068.4 2009 2067.2 2010.3 2066 2011.7 2057.2 2006.1 2054.5 2006.1 2062.4 2015.7 2061.2 2017 2059.9 2018.3 2058.7 2019.6 2057.5 2020.9 2056.3 2022.2 2055 2023.6 2053.8 2024.9 2052.6 2026.2 2041.7 2018.2 2050.1 2028.8 2048.8 2030.1 2047.6 2031.4 2046.3 2032.6 2045.1 2033.9 2043.8 2035.2 2042.5 2036.5 2041.3 2037.8 2040 2039 2038.7 2040.3 2032.6 2036.6 2036.2 2042.9 2034.9 2044.1 2029.6 2041.2 2032.3 2046.6 2031 2047.9 2029.7 2049.1 2028.4 2050.4 2027.1 2051.6 2025.8 2052.9 2024.5 2054.1 2023.2 2055.3 2019 2053.5 2020.6 2057.8 2019.3 2059 2018 2060.2 2016.6 2061.5 2015.3 2062.7 2014 2063.9 2012.7 2065.1 2011.3 2066.3 2010 2067.5 2008.6 2068.7 2007.3 2069.9 2006 2071.1 2004.6 2072.3 2003.3 2073.5 2001.9 2074.7 2000.6 2075.9 1999.2 2077 1997.8 2078.2 1976.9 2056.6 1983.6 2067.1 1993.7 2081.7 1985.8 2075.2 1991 2084 1989.6 2085.2 1988.2 2086.4 1986.8 2087.5 1985.5 2088.6 1984.1 2089.8 1982.7 2090.9 1981.3 2092.1 1973.7 2085.6 1978.5 2094.3 1976.1 2094.2 1975.7 2096.6 1974.3 2097.7 1958.3 2080.4 1971.4 2099.9 1969.8 2100.7 1968.6 2102.1 1960.2 2094.2 1965.8 2104.3 1964.3 2105.4 1962.9 2106.5 1961.5 2107.6 1953.7 2100.3 1947.3 2094.8 1943.8 2093 1936.8 2086.5 1939.6 2093.2 1944.1 2102.2 1946.7 2108.7 1939.4 2101.8 1937.7 2102.4 1937.8 2105.6 1944.3 2117.7 1923.6 2091.8 1942.6 2121.5 1937.5 2117.4 1930.5 2110.5 1936.8 2122.5 1924 2107.4 1934.2 2125.1 1927.1 2118 1918.4 2108.4 1921.1 2115.5 1928.2 2129 1916.3 2114.7 1919.6 2122.7 1921.2 2128.3 1919.8 2129.4 1919.7 2132.4 1908.7 2119.1 1916.6 2134.3 1915 2135.1 1908.7 2128.7 1914.4 2140.7 1912.9 2141.7 1911.3 2142.6 1909.8 2143.6 1908.3 2144.6 1906.8 2145.5 1905.3 2146.5 1896.7 2136.2 1902.2 2148.4 1900.7 2149.3 1899.1 2150.3 1897.6 2151.2 1896.1 2152.1 1894.5 2153.1 1893 2154 1891.5 2154.9 1889.9 2155.9 1888.4 2156.8 1886.8 2157.7 1885.3 2158.6 1883.7 2159.5 1882.1 2160.4 1876 2153.3 1879 2162.2 1877.5 2163.1 1875.9 2164 1874.3 2164.9 1872.8 2165.7 1871.2 2166.6 1869.6 2167.5 1868.1 2168.4 1866.5 2169.2 1864.9 2170.1 1863.3 2170.9 1861.7 2171.8 1853.4 2160 1857.7 2171.9 1857 2174.3 1853 2170.6 1847 2163 1844 2161.1 1845.4 2167.6 1844.5 2169.7 1842.2 2169.1 1838.9 2166.6 1833 2158.9 1832.4 2161.4 1829.6 2159.9 1839.4 2183.4 1828.3 2165 1836.1 2185 1834.5 2185.8 1822.1 2164.3 1811.4 2146 1828.4 2185.6 1824.6 2181.6 1818.8 2173.6 1824.8 2190.4 1818.6 2181.3 1815.7 2179.3 1816.7 2185.8 1809.7 2174.8 1802.3 2162.9 1808.6 2180.8 1807.1 2181.9 1804.6 2180.6 1807.6 2191.6 1799.1 2176.7 1799.2 2181.3 1796.8 2180.3 1797.6 2186.5 1794.4 2183.5 1794 2187.1 1789 2179.8 1793.8 2195.7 1787.8 2185.9 1790.3 2196.6 1791.9 2205 1787.8 2199.8 1781 2187.8 1784.2 2200.3 1781.9 2199.4 1779.7 2198.8 1774.4 2190.1 1778.4 2205.1 1770.4 2189.6 1775.9 2208.5 1773.5 2207.3 1768.6 2199.4 1761.8 2186.7 1767.4 2206.3 1762.6 2198.5 1761.2 2199.8 1757.5 2195.1 1760.6 2208.5 1752.6 2191.8 1756 2206.2 1752 2200.5 1741 2174.8 1739.1 2174.5 1743.2 2191.3 1747.3 2208 1743.2 2201.8 1738.9 2194.6 1746.4 2222.1 1740.9 2211.3 1739 2211.4 1737 2210.7 1733.6 2206.3 1728.3 2195.6 1732.1 2212.9 1728.5 2207.4 1728.1 2212.1 1728.6 2219.4 1721.5 2202.8 1720.7 2206 1719.9 2209.2 1723 2225.3 1715.2 2205.9 1720.8 2230.4 1712.9 2210.3 1714.3 2221.2 1706.6 2201.5 1708.6 2214.4 1712.1 2232.9 1706.4 2219.4 1708.7 2233.9 1701.1 2213.6 1700.2 2216.8 1701.1 2226.8 1694.8 2210.6 1700 2236.3 1694.4 2222.3 1696.5 2237.3 1693.6 2233.3 1693.1 2238.2 1686.2 2219 1686.7 2228 1680.1 2209.1 1681 2219.6 1681.8 2230.2 1671.4 2195.2 1679.7 2236.4 1676.8 2232.3 1674 2227.9 1673.5 2233.8 1666.3 2210.5 1669 2229.8 1664.8 2219.7 1662.5 2217.1 1658.6 2207.8 1665.1 2244.9 1655.3 2208.8 1661.5 2245.3 1656.8 2232 1653.1 2222.9 1650.1 2217.4 1651.8 2234.2 1648.2 2225.1 1645.7 2221.5 1649.2 2248.3 1643.7 2229.5 1642.1 2230.6 1640.4 2230.8 1642 2248.7 1638 2237.2 1635.9 2235.5 1632.3 2225.8 1635.1 2250.9 1633.3 2251.3 1627.5 2228.1 1625.7 2228.4 1627.5 2249 1625.3 2246.7 1623.1 2244.5 1620.4 2238.8 1618.4 2237.4 1619.1 2253.6 1617.4 2253.9 1614 2244.2 1611.9 2241.7 1610.4 2243.8 1609 2246.5 1605.3 2232.9 1605.2 2245.1 1602.4 2238 1599.9 2232.4 1597.3 2226 1597.2 2238.6 1594.9 2234.5 1594.1 2242 1594.2 2257.2 1592.4 2257.4 1590.6 2257.6 1583.5 2211.9 1585 2239.8 1583.9 2246.2 1580.2 2228.9 1581.7 2258.6 1577.3 2234.1 1575.6 2234.1 1575.8 2253.7 1571.7 2230.5 1571.3 2244.5 1569.6 2244.9 1567.2 2238.4 1566.2 2246.9 1565 2253.4 1563.8 2260.3 1559.9 2234.5 1559 2245.9 1558.4 2260.8 1553.7 2221.3 1554.3 2254.5 1552.5 2253.7 1549.9 2241.3 1548.1 2240.2 1546.6 2245.5 1543.8 2227 1542.5 2235.4 1541.4 2246.3 1539.8 2250 1538 2249.3 1536.5 2255.6 1535.1 2262.2 1533.3 2262.3 1530.7 2244.6 1529.5 2258.4 1526.2 2217.4 1525.8 2255.5 1524.1 2255.4 1521.9 2241.8 1519.5 2219.9 1518.6 2252.1 1516.9 2252.2 1515.2 2257.1 1513.1 2239.6 1511.3 2234.6 1509.6 2238.7 1507.9 2241.3 1506.2 2245.3 1504.4 2249.3 1502.6 2242 1500.9 2257.3 1499.1 2231.8 1497.4 2248.6 1495.6 2245 1493.7 2263 1492.1 2249.1 1490.6 2221.4 1488.5 2247.4 1487 2234.7 1484.7 2262.8 1483.2 2252.1 1481.4 2253.1 1479.8 2244.2 1478.1 2241.3 1476.1 2251.1 1474.2 2254.8 1472.3 2257.7 1470.3 2262.4 1469.4 2242 1467.1 2252.8 1465.4 2252.4 1464.2 2241.1 1462.4 2241.8 1460 2253.4 1457.9 2259.6 1456.2 2257.9 1454.7 2253.2 1453.1 2249.3 1451.7 2244.1 1449 2257.6 1448.8 2235.4 1447 2235.3 1443.8 2255.2 1441.6 2260.8 1440.9 2246.9 1438 2260.5 1436.6 2256.2 1435 2253.6 1433.6 2249 1432.7 2239.4 1431.6 2232 1428.4 2247.2 1425.5 2259.4 1423.7 2259.2 1421.9 2259 1420.3 2256.5 1421.1 2232.8 1418.4 2241.1 1414.7 2258.2 1412.9 2258 1411.2 2257.8 1409.4 2257.6 1407.6 2257.4 1405.8 2257.2 1404 2256.9 1402.2 2256.7 1400.4 2256.5 1398.7 2256.2 1396.9 2256 1395.1 2255.8 1393.3 2255.5 1391.5 2255.3 1389.8 2255 1388 2254.7 1386.2 2254.5 1384.4 2254.2 1382.6 2253.9 1380.9 2253.6 1379.1 2253.4 1377.3 2253.1 1375.5 2252.8 1373.8 2252.5 1372 2252.2 1370.2 2251.9 1368.4 2251.6 1369.6 2234.9 1364.9 2250.9 1363.1 2250.6 1361.4 2250.3 1359.6 2250 1357.8 2249.6 1358.3 2237.5 1354.3 2249 1352.5 2248.6 1350.8 2248.3 1349 2247.9 1347.2 2247.6 1345.5 2247.2 1343.7 2246.8 1341.9 2246.5 1340.2 2246.1 1340.1 2238 1336.7 2245.3 1339.2 2225.4 1333.2 2244.5 1331.4 2244.1 1329.7 2243.7 1327.9 2243.3 1326.1 2242.9 1324.4 2242.5 1322.6 2242.1 1320.9 2241.7 1319.1 2241.3 1317.4 2240.8 1315.7 2240.4 1313.9 2240 1312.2 2239.5 1310.4 2239.1 1308.7 2238.6 1306.9 2238.2 1305.2 2237.7 1303.5 2237.3 1301.7 2236.8 1300 2236.3 1298.3 2235.8 1296.5 2235.4 1294.8 2234.9 1293.1 2234.4 1291.3 2233.9 1289.6 2233.4 1287.9 2232.9 1286.1 2232.4 1284.4 2231.9 1282.7 2231.4 1281 2230.9 1279.2 2230.4 1279.2 2224.5 1275.8 2229.3 1276.5 2221 1272.4 2228.3 1270.6 2227.7 1268.9 2227.2 1267.2 2226.6 1265.5 2226.1 1263.8 2225.5 1262.1 2225 1260.4 2224.4 1258.7 2223.8 1263.2 2204.7 1255.3 2222.7 1253.6 2222.1 1251.9 2221.5 1250.2 2220.9 1248.5 2220.3 1246.8 2219.7 1245.1 2219.1 1243.4 2218.5 1241.7 2217.9 1240 2217.3 1238.3 2216.7 1236.6 2216.1 1234.9 2215.5 1233.2 2214.8 1231.5 2214.2 1229.9 2213.6 1228.2 2212.9 1226.5 2212.3 1224.8 2211.6 1223.1 2211 1223 2206.5 1219.8 2209.7 1218.1 2209 1216.4 2208.4 1214.8 2207.7 1213.1 2207 1211.4 2206.3 1209.8 2205.6 1208.1 2205 1206.5 2204.3 1204.8 2203.6 1203.1 2202.9 1201.5 2202.2 1199.8 2201.5 1198.2 2200.8 1196.5 2200.1 1194.9 2199.3 1193.2 2198.6 1191.6 2197.9 1189.9 2197.2 1188.3 2196.4 1186.6 2195.7 1185 2194.9 1183.4 2194.2 1181.7 2193.5 1184.5 2183.1 1178.5 2191.9 1176.8 2191.2 1182.8 2174.2 1185 2165.5 1188.3 2154.6 1175.2 2177.9 1175.6 2173 1169.3 2182.1 1165.5 2185.8 1171.4 2169.6 1172.9 2162.7 1166.3 2172 1169.9 2160.9 1166.9 2162.9 1174.8 2143.3 1171.4 2146.3 1158.4 2167.9 1161 2159.1 1160.1 2156.9 1153.1 2166.7 1159.7 2150.3 1157.4 2150.9 1151 2159.3 1141.4 2173.5 1147.1 2159.1 1153.6 2143.3 1141.5 2162 1143.4 2154.9 1145.1 2148 1137.9 2157.6 1137.2 2155.1 1137.6 2150.8 1128.9 2162.8 1133.5 2150.9 1126.9 2158.9 1135 2141.2 1129.1 2148 1124.9 2151.8 1132.1 2135.7 1135.2 2127.1 1127.6 2136.6 1121.1 2144.3 1120.8 2141.3 1128.5 2124.9 1116.1 2142.4 1116 2139.1 1111.9 2142.4 1116.5 2131.4 1116.3 2128.4 1111.4 2133.1 1107.4 2136.2 1097.8 2148.4 1104.4 2134.4 1104.4 2131.1 1100.3 2134.3 1106.5 2121.2 1097.4 2132.2 1098.4 2127.4 1094.6 2130.1 1093 2129.2 1094.2 2124.2 1089.8 2127.7 1097.8 2112.4 1094 2115 1084.1 2126.7 1087.1 2119.1 1079.8 2126.7 1078.8 2125 1080 2120.1 1083.6 2111.7 1081.2 2112.1 1070.6 2124.5 1068.1 2125 1070.3 2118.6 1074.6 2109.4 1070.7 2111.8 1065.1 2116.7 1065.9 2112.6 1057.4 2121.5 1068.1 2103.4 1056.4 2116.7 1063 2104.5 1064.3 2099.7 1062.8 2098.8 1048.6 2115.2 1047.2 2114.1 1045.7 2113 1044.3 2112 1042.8 2110.9 1041.4 2109.8 1040 2108.7 1038.5 2107.6 1037.1 2106.5 1035.7 2105.4 1034.2 2104.3 1032.8 2103.2 1031.4 2102.1 1046.1 2080.4 1028.6 2099.9 1027.1 2098.8 1025.7 2097.7 1024.3 2096.6 1022.9 2095.5 1021.5 2094.3 1020.1 2093.2 1018.7 2092.1 1017.3 2090.9 1015.9 2089.8 1014.5 2088.6 1013.2 2087.5 1011.8 2086.4 1010.4 2085.2 1009 2084 1012.5 2077.1 1006.3 2081.7 1004.9 2080.6 1003.5 2079.4 1002.2 2078.2 1000.8 2077 999.4 2075.9 998.1 2074.7 996.7 2073.5 995.4 2072.3 994 2071.1 992.7 2069.9 991.4 2068.7 990 2067.5 988.7 2066.3 987.3 2065.1 993.2 2056 984.7 2062.7 983.4 2061.5 982 2060.2 1001.1 2037 979.4 2057.8 978.1 2056.6 976.8 2055.3 975.5 2054.1 974.2 2052.9 972.9 2051.6 971.6 2050.4 970.3 2049.1 969 2047.9 967.7 2046.6 966.4 2045.4 965.1 2044.1 963.8 2042.9 962.5 2041.6 961.3 2040.3 960 2039 958.7 2037.8 957.5 2036.5 956.2 2035.2 954.9 2033.9 953.7 2032.6 952.4 2031.4 951.2 2030.1 949.9 2028.8 948.7 2027.5 947.4 2026.2 948.3 2022.8 945 2023.6 943.7 2022.2 949 2014.9 941.3 2019.6 940.1 2018.3 938.8 2017 937.6 2015.7 936.4 2014.3 942.3 2006.6 934 2011.7 935.8 2007.7 931.6 2009 930.4 2007.6 929.2 2006.3 932.6 2000.9 926.8 2003.6 933.4 1995.5 924.4 2000.9 923.3 1999.5 922.1 1998.2 920.9 1996.8 919.7 1995.4 918.6 1994.1 917.4 1992.7 916.2 1991.3 915.1 1989.9 913.9 1988.6 912.8 1987.2 911.6 1985.8 910.5 1984.4 909.4 1983 911.7 1978.8 907.1 1980.2 906 1978.8 904.8 1977.4 903.7 1976 902.6 1974.6 901.5 1973.2 900.4 1971.8 899.2 1970.4 898.1 1969 897 1967.5 895.9 1966.1 894.8 1964.7 893.7 1963.3 892.6 1961.8 891.6 1960.4 890.5 1959 903.6 1946.9 888.3 1956.1 901.7 1943.9 886.2 1953.2 885.1 1951.7 884 1950.3 883 1948.8 881.9 1947.4 880.9 1945.9 879.8 1944.5 891.8 1933.7 877.7 1941.5 876.7 1940.1 875.7 1938.6 874.6 1937.1 898.2 1918.5 872.6 1934.2 871.6 1932.7 870.5 1931.2 869.5 1929.7 868.5 1928.2 867.5 1926.7 866.5 1925.3 865.5 1923.8 864.5 1922.3 863.5 1920.8 862.5 1919.3 861.5 1917.8 860.5 1916.3 859.6 1914.7 858.6 1913.2 857.6 1911.7 856.6 1910.2 855.7 1908.7 854.7 1907.2 853.8 1905.6 852.8 1904.1 851.9 1902.6 850.9 1901.1 850 1899.5 849 1898 848.1 1896.5 847.2 1894.9 846.2 1893.4 845.3 1891.8 844.4 1890.3 843.5 1888.7 842.5 1887.2 841.6 1885.6 847.7 1880 839.8 1882.5 838.9 1881 838 1879.4 837.1 1877.9 836.2 1876.3 835.4 1874.7 859.5 1859.1 852.2 1861.2 849.9 1860.5 857.1 1854.5 857.8 1852.2 887.2 1834.2 846.5 1854.3 847 1852.1 843.6 1852 849.1 1847 837.7 1851.1 825 1855.8 833.7 1849.2 823.4 1852.6 842.9 1840.4 862.5 1828.4 848.4 1833.7 834.5 1838.8 849 1829.5 839.9 1832.2 847.9 1826.2 844 1826.2 848.2 1822.2 838.3 1825.2 851.8 1816.7 841.4 1819.8 830.1 1823.4 833.3 1819.9 842.1 1813.8 831.1 1817.1 821.9 1819.5 830.3 1813.6 839.3 1807.5 815.5 1816.6 820.7 1812.3 848.1 1797.8 830.1 1804.1 838.4 1798.5 823.8 1803.1 843.4 1792.5 828.4 1797.3 833 1793.4 832.8 1791.6 829.8 1791 808.9 1798.2 798.7 1800.6 819.2 1789.9 816.9 1789 813.7 1788.4 836.2 1777.1 819.5 1782.2 808.7 1784.8 817.8 1779.1 820.7 1776.1 804.1 1780.9 809.1 1777.1 800.7 1778.5 813.8 1771.4 815.3 1768.9 812.9 1768 807.4 1768.3 824 1760 808.6 1764.1 817.6 1758.8 821.3 1755.6 803.3 1760.5 827.8 1749.5 844.7 1741.5 818.3 1749.4 819.7 1747.1 814.9 1747 819.2 1743.6 798.6 1749.1 813.3 1742.1 829.3 1734.7 804.8 1741.4 814.3 1736.3 836.2 1727 809.1 1734.4 808.1 1733 813.6 1729.3 813.9 1727.4 820.3 1723.5 823.9 1720.5 807.2 1724.2 820.3 1718.2 787.5 1726.9 820.2 1714.7 834.1 1708.6 808.7 1714.8 803.7 1714.5 823.5 1706.6 798.1 1712.6 817.3 1705 823.5 1701.4 784.9 1711.1 811.3 1701.5 796.4 1704.1 816.3 1696.6 800.3 1699.4 815.5 1693.3 784.3 1700.3 801 1693.8 792.2 1694.5 788.3 1693.8 790.2 1691.5 817.7 1682.3 797.9 1685.8 790 1686.1 786.2 1685.3 805.2 1678.6 777.6 1683.9 781.8 1681.1 787.7 1677.8 785.2 1676.6 798.6 1671.6 796.8 1670.2 781.4 1672.2 786.1 1669.3 764.7 1672.5 766.6 1670.2 800.6 1660.6 802.2 1658.5 799.1 1657.5 768.9 1662.5 794.6 1655 790.2 1654.2 813.1 1647.6 778.2 1653.3 793.4 1648.3 778.7 1649.6 817.2 1640 808.7 1640 805.3 1639 787.4 1640.8 797.9 1637 773 1640.1 803.8 1632.5 802.2 1631.1 773 1634.8 773.6 1632.9 794 1627.5 801.5 1624.4 778.6 1626.7 778.7 1624.9 799.1 1619.7 776 1621.9 757.7 1623.2 788.9 1616.3 770.4 1617.5 799.1 1611.2 782.8 1612.1 778.3 1611 756.5 1612.6 761.3 1610.1 768.8 1607.2 773.3 1604.8 765.6 1604.1 775.1 1601.1 767.1 1600.4 764.7 1599 771.4 1596.3 767.9 1595 810.6 1587.8 749.8 1593.8 774.5 1589 771.8 1587.6 765.4 1586.6 762.4 1585.1 767.4 1582.8 778.5 1579.8 743.7 1581.9 764 1577.9 776.4 1574.9 804 1570.4 765 1572.6 784 1569 764.9 1569.1 767 1567.1 778.4 1564.4 776.7 1562.8 793.4 1559.7 786.9 1558.6 768.5 1558.3 772.2 1556.3 762.5 1555.3 755 1554.1 745.1 1553 759.6 1550.3 738.6 1549.9 738.5 1548.1 793.4 1543 773.6 1542.4 771.3 1540.8 781.2 1538.6 757.5 1538.1 752.8 1536.6 745.4 1535.2 777.4 1532 775.9 1530.3 756.6 1529.4 779.8 1526.8 771.1 1525.4 779 1523.4 773.7 1521.8 737.3 1521.1 737.2 1519.3 737.2 1517.5 737.2 1515.7 737.1 1513.9 737.1 1512.1 737.1 1510.3 737 1508.5 737 1506.7 737 1504.9 737 1503.1 737 1501.3 737 1499.6 737 1497.8 737 1496 737 1494.2 737 1492.4 737.1 1490.6 737.1 1488.8 737.1 1487 737.1 1485.2 737.2 1483.4 737.2 1481.6 737.3 1479.8 737.3 1478 737.4 1476.2 737.4 1474.4 737.5 1472.6 737.6 1470.8 737.6 1469 737.7 1467.2 737.8 1465.4 737.9 1463.6 738 1461.8 738 1460 738.1 1458.2 738.2 1456.4 738.4 1454.6 738.5 1452.8 738.6 1451 738.7 1449.2 738.8 1447.4 738.9 1445.6 739.1 1443.8 739.2 1442 739.3 1440.2 739.5 1438.5 739.6 1436.7 739.8 1434.9 739.9 1433.1 740.1 1431.3 740.3 1429.5 740.4 1427.7 740.6 1425.9 740.8 1424.1 741 1422.3 741.1 1420.5 741.3 1418.8 741.5 1417 741.7 1415.2 741.9 1413.4 742.1 1411.6 742.3 1409.8 742.6 1408 742.8 1406.2 743 1404.5 743.2 1402.7 743.5 1400.9 743.7 1399.1 743.9 1397.3 744.2 1395.5 744.4 1393.8 744.7 1392 744.9 1390.2 745.2 1388.4 745.5 1386.6 751.7 1385.8 746 1383.1 746.3 1381.3 746.6 1379.5 749.2 1378.1 747.1 1376 747.4 1374.2 747.7 1372.4 748 1370.7 748.3 1368.9 748.7 1367.1 749 1365.3 749.3 1363.6 749.6 1361.8 749.9 1360 750.3 1358.3 750.6 1356.5 751 1354.7 751.3 1353 751.6 1351.2 752 1349.4 790.5 1355.4 775 1350.5 783.3 1350.5 769 1345.7 789.6 1348.3 802.3 1349.3 776.3 1341.9 796.9 1344.6 782.2 1339.6 778.9 1337.1 785.4 1336.8 786.5 1335.3 761.1 1327.6 786.9 1331.8 775.5 1327.3 767 1323.4 766.3 1321.5 801.9 1328.4 765.8 1317.6 764 1315.4 783.9 1318.6 783.7 1316.7 793.4 1317.4 790.1 1314.8 793.7 1313.9 797.5 1313.2 793.4 1310.3 789.6 1307.5 820.4 1314.1 764.5 1297 790.8 1302.4 792.1 1301 794.9 1300 793.9 1297.9 808.7 1300.3 812.4 1299.6 796 1293.1 801.9 1293 793.9 1288.8 810.6 1292.1 786.9 1283.1 796.3 1284.1 807.5 1285.8 796.4 1280.5 800.2 1279.9 781.3 1272.1 816.9 1281.6 773.8 1265.9 791.5 1269.8 797.2 1269.8 791.4 1266.1 806 1269.1 776.6 1257.4 791.7 1260.6 777.8 1254 800.6 1259.9 781 1251.3 810.6 1259.7 792.3 1251.5 812.7 1256.8 831.3 1261.6 828.7 1258.9 817 1252.9 825.6 1254.2 801.2 1243.4 801.1 1241.5 805.9 1241.4 785.6 1232 829.3 1246.5 825.1 1243.1 812.6 1236.5 797.1 1228.7 822.8 1236.8 790.5 1222.3 791.6 1220.8 823.5 1231.5 813.6 1225.7 810.9 1222.7 832.6 1229.6 833.9 1228.3 798.5 1212 809.6 1214.6 806.6 1211.4 827.1 1218.2 811.8 1209.8 816.2 1209.8 827 1212.5 817.6 1206.5 818.3 1205 813 1200.7 811.4 1198.1 801.9 1192 825.4 1200.4 805 1189.4 804.1 1187.1 804.9 1185.4 815.3 1188.2 813.8 1185.6 807.9 1180.9 832.4 1190.3 835 1189.6 831.6 1186.1 833.5 1185 824.9 1179 834.9 1181.8 830.6 1177.8 824 1172.7 834.5 1175.8 814.8 1164.3 827.4 1168.5 831 1168.2 835.4 1168.5 818 1157.8 827.4 1160.5 849.1 1169.5 847.4 1166.8 821.3 1151.4 833.6 1155.7 835.6 1154.8 823.8 1146.6 837.5 1151.8 851.4 1157.2 849.8 1154.4 846.4 1150.6 861.3 1156.6 838.9 1142.5 873.2 1159.2 859.5 1149.7 859.1 1147.6 860.3 1146.3 867.3 1148.2 865.3 1145.1 837.3 1127.4 854.1 1134.8 867.2 1140.3 850.4 1128.7 864.5 1134.8 847.4 1122.9 870.1 1134 876.2 1135.6 866.4 1127.9 859.2 1121.6 846.5 1112 851.4 1112.9 845.8 1107.4 863.3 1115.8 857.6 1110.4 855.2 1106.8 893.2 1128 859.2 1105.1 878.6 1115 852.3 1096.6 853.3 1095.1 854.2 1093.6 855.2 1092.1 856.2 1090.6 857.1 1089 858.1 1087.5 859.1 1086 860.1 1084.5 861 1083 862 1081.5 863 1080 864 1078.5 865 1077 866 1075.5 867 1074 868 1072.5 869 1071 870 1069.5 871 1068 872.1 1066.6 877.6 1068.2 874.1 1063.6 875.1 1062.1 876.2 1060.7 877.2 1059.2 878.3 1057.7 879.3 1056.3 880.3 1054.8 890.5 1059.9 882.5 1051.9 883.5 1050.4 884.6 1049 885.6 1047.5 886.7 1046.1 887.8 1044.6 888.9 1043.2 889.9 1041.8 891 1040.3 892.1 1038.9 893.2 1037.5 894.3 1036 895.4 1034.6 896.5 1033.2 897.6 1031.7 898.7 1030.3 899.8 1028.9 900.9 1027.5 902 1026.1 912.6 1032.2 904.3 1023.3 905.4 1021.9 906.5 1020.5 907.7 1019.1 908.8 1017.7 909.9 1016.3 911.1 1014.9 912.2 1013.5 913.4 1012.1 914.5 1010.7 915.7 1009.4 916.8 1008 918 1006.6 919.2 1005.2 920.3 1003.9 921.5 1002.5 922.7 1001.1 923.8 999.8 925 998.4 926.2 997.1 927.4 995.7 928.6 994.4 929.8 993 931 991.7 932.2 990.3 933.4 989 934.6 987.7 941.2 991.3 937 985 938.2 983.7 939.4 982.4 940.7 981 941.9 979.7 943.1 978.4 944.4 977.1 948.6 978.6 946.8 974.5 948.1 973.2 949.3 971.9 950.6 970.6 951.8 969.3 953.1 968 954.3 966.7 955.6 965.4 956.8 964.1 958.1 962.9 959.4 961.6 960.6 960.3 961.9 959 963.2 957.8 964.5 956.5 965.8 955.3 967 954 968.3 952.7 969.6 951.5 970.9 950.2 972.2 949 973.5 947.8 974.8 946.5 997.9 968.3 997.8 965.7 1005.1 971 980.1 941.6 984.2 943.4 1005.4 963.8 984 937.9 989.7 941.4 999.2 949.2 993 939.8 989.3 933.1 995.8 937.6 1013.1 954.3 1000 937 1008.9 944.3 1014.5 948.1 999.4 928.2 998.8 924.7 1012.7 938.1 1015.9 939.1 1014.2 934.4 1009.1 925.7 1027.3 944.4 1008.7 919.7 1033.1 945.9 1014 920.6 1012.5 915.9 1028.5 932.3 1017.4 916.3 1027 925 1016.6 909.6 1031.2 924.6 1042.4 935.7 1060.6 955.5 1031.1 916.2 1030.9 913.1 1040.3 922 1026.4 901.7 1047 924.9 1031.6 902.5 1049.5 922.6 1046.8 916.3 1033.5 896.2 1035 895.1 1048.8 910.2 1041 897.1 1080.3 946 1048.5 901.1 1046.4 895.4 1049.3 896.2 1049.8 894 1046.4 886.4 1047.9 885.4 1059.1 897.6 1052.2 885.2 1070.4 907.3 1064.5 896 1067.1 896.7 1061.5 885.9 1059.6 880.1 1069.9 891.6 1081.2 904.6 1075.4 893.4 1065.5 876 1086.8 903.6 1066.9 871.8 1075.2 880.7 1080.1 884.7 1071.4 868.8 1089.1 891.7 1075.7 868.7 1085.5 880.1 1084.5 875.4 1078.9 863.8 1093.1 882 1097.7 885.9 1084.7 862.8 1094.8 875.1 1093.9 870.5 1104 883 1104.8 881 1111.4 888.1 1107.6 878.9 1105.7 872.7 1111.6 878.8 1110.2 873.3 1115.9 879.2 1100.1 850.2 1101.6 849.3 1103.2 848.3 1104.7 847.4 1108.3 849.9 1107.8 845.5 1109.5 844.9 1110.9 843.7 1112.4 842.8 1114 841.9 1118.1 845.4 1117.1 840 1118.6 839.1 1120.2 838.3 1121.8 837.4 1123.3 836.5 1124.9 835.6 1126.4 834.7 1128 833.8 1129.6 832.9 1131.2 832.1 1132.7 831.2 1134.3 830.3 1135.9 829.5 1137.5 828.6 1139.1 827.8 1145.5 836 1142.2 826.1 1143.8 825.2 1145.4 824.4 1147 823.6 1148.6 822.7 1150.2 821.9 1152.4 822.2 1153.4 820.3 1155 819.4 1156.6 818.6 1158.2 817.8 1159.8 817 1161.4 816.2 1163.1 815.4 1164.7 814.6 1166.3 813.8 1167.9 813.1 1169.5 812.3 1171.5 812.3 1172.8 810.7 1176.6 814.7 1176 809.2 1177.7 808.4 1179.3 807.7 1180.9 806.9 1182.6 806.2 1184.2 805.4 1185.8 804.7 1187.5 803.9 1189.1 803.2 1190.8 802.5 1192.4 801.8 1196.3 806.2 1195.7 800.3 1197.3 799.6 1199 798.9 1200.7 798.2 1202.3 797.5 1204 796.8 1205.6 796.1 1209.1 799.8 1208.9 794.7 1210.6 794 1212.3 793.3 1213.9 792.7 1215.6 792 1217.3 791.3 1219 790.6 1220.6 790 1222.3 789.3 1224 788.7 1235.6 813.8 1227.3 787.4 1229 786.7 1230.7 786.1 1234.9 792.1 1234.1 784.8 1235.8 784.2 1237.4 783.6 1239.1 783 1240.8 782.4 1242.5 781.8 1244.2 781.2 1245.9 780.6 1247.6 780 1249.3 779.4 1251 778.8 1258 793.6 1254.4 777.6 1256.1 777 1257.8 776.5 1259.5 775.9 1269.5 800.3 1262.9 774.8 1264.6 774.2 1266.4 773.7 1268.1 773.1 1271.5 777.9 1271.7 772.7 1273.2 771.5 1274.9 770.9 1276.7 770.4 1284.1 788.7 1286.1 789.2 1289.3 794 1289.6 788.9 1290.6 786 1296.8 801 1297.2 796.1 1295.3 783.2 1296.5 781.2 1297.2 777.1 1298.3 774.3 1305.4 793.5 1299.1 763.9 1308.1 790.2 1314.9 808.8 1306.8 771.6 1312.8 787.7 1318.3 802 1317.2 790.9 1313.3 768.4 1329.4 824.9 1321.9 788.2 1324.7 792.3 1325 786.5 1329.5 797.6 1323.4 764.8 1324.3 761.1 1332.3 787.3 1339 808.4 1335.8 786.9 1335.1 776.1 1339.7 788.4 1337.4 770.2 1344.2 793 1341.1 770.5 1347.8 793.5 1347.8 785.5 1345.2 764.4 1355.3 804.5 1351.6 778.3 1354.8 785.1 1355.2 778.3 1359.9 793.2 1353.4 751.2 1358.3 767.2 1356.9 750.5 1358.7 750.2 1360.5 749.9 1362.2 749.5 1364 749.2 1365.8 748.9 1367.6 748.6 1369.3 748.3 1371.1 748 1372.9 747.7 1374.6 747.4 1376.4 747.1 1380.1 758.8 1380 746.5 1381.8 746.2 1383.5 745.9 1385.3 745.7 1387.1 745.4 1388.9 745.1 1390.6 744.9 1392.4 744.6 1394.2 744.4 1396 744.1 1397.8 743.9 1399.6 743.6 1401.3 743.4 1405.2 759.7 1407.1 760.2 1410.6 774.1 1411.7 769.1 1412.8 763.8 1416.5 780.6 1416.7 767.5 1420.4 784.2 1420.1 766.1 1421.5 763.1 1422.3 753.8 1425.7 769.3 1427.6 771.1 1427.4 751.3 1430.5 764.8 1432.1 763.3 1431.9 742.2 1438.5 796.4 1436.7 755.4 1438.7 758.7 1442.2 780.9 1444.2 783.9 1444.7 768.3 1446.8 773.5 1448.4 771.7 1450 769.7 1452.4 780.3 1453.6 772.2 1454.2 753.9 1457 770.8 1459.3 781.2 1460.8 776.9 1461.6 760.3 1463.4 760.8 1466.2 782.9 1468.3 793.3 1469.8 788 1470.6 765.7 1471.2 737.5 1473 737.5 1474.8 737.4 1476.6 737.4 1478.7 748.9 1480.2 737.3 1482 737.2 1483.8 737.2 1485.6 737.1 1487.5 741.2 1489.2 737.1 1491 737.1 1492.8 737 1494.6 737 1496.4 737 1498.2 737 1500 737L1500 737A763.0 763.0 0 0 0 1500 2263A763.0 763.0 0 0 0 1500 737Z" fill="#fc9272" fill-rule="nonzero"/><path d="M1528.8 737.5L1530.4 741.2 1532.4 737.7M1537.8 737.9L1538.9 751.4 1541.4 738.1M1550.3 738.7L1551.5 748.6 1553.9 738.9M1553.9 738.9L1555.5 742.2 1557.5 739.2M1584.4 741.7L1584.8 754.2 1588 742.1M1667.7 755.7L1666.2 770.2 1671.2 756.5M1678.2 758.1L1679.7 759.8 1681.7 759M1687 760.3L1686.7 768.5 1690.4 761.2M1702.6 764.4L1701.8 774.1 1705.5 767.5 1707.8 765.8M1707.8 765.8L1707.9 772 1706.6 783 1713 767.3M1730.2 772.6L1730.2 778.6 1733.6 773.7M1745.6 777.6L1742.9 791.1 1749 778.8M1755.8 781.2L1755.8 786.5 1759.2 782.4M1772.7 787.4L1772.6 792.6 1776 788.7M1779.4 790L1778.7 796.5 1782.7 791.3M1791.1 794.7L1787.8 807.3 1794.4 796.1M1807.6 801.8L1797.8 828.4 1810.9 803.2M1840.2 817L1828.3 844.7 1843.4 818.6M1878.2 837.4L1879.1 839.6 1881.4 839.1M1912.1 857.9L1905 872.2 1915.1 859.8M1925.6 866.7L1922.9 873.9 1928.6 868.8M1931.6 870.8L1932.3 872.9 1934.5 872.8M1936 873.9L1927 889.9 1939 875.9M1950.7 884.3L1949.4 889 1953.6 886.4M1976.4 904L1976.4 906.8 1972.5 914.5 1980.6 907.4M1983.4 909.6L1983.8 911.9 1986.1 911.9M2008 930.7L2006.2 935.4 2010.7 933.1M2016 937.9L2009.8 947.3 2018.6 940.4M2027.8 949L2021.3 958.4 2030.4 951.5M2043.2 964.1L2042.2 967.6 2042.5 969.8 2046.9 968M2054.4 975.8L2039.8 992.1 2056.9 978.4M2071.4 994.4L2055.4 1010.9 2073.8 997.1M2098 1026.1L2097.8 1028.5 2100.2 1028.9M2110.1 1041.8L2104.1 1048.5 2112.2 1044.6M2144.8 1092.1L2141.8 1096.1 2146.7 1095.1M2146.7 1095.1L2133.1 1105.7 2148.4 1098.3 2149.6 1099.7M2166 1127.6L2161.7 1132.1 2167.7 1130.8M2177.9 1149.8L2173.6 1154 2179.5 1153M2179.5 1153L2175.6 1157 2168.8 1162.4 2156.3 1170.7 2157.8 1171.9 2183.6 1161M2184.4 1162.7L2175.2 1169.1 2179.4 1169.1 2182.9 1169.3 2159.1 1182.8 2174.1 1177.5 2189.1 1172.4M2189.1 1172.4L2176.3 1180.4 2171.3 1184.7 2182.2 1181.5 2173.4 1187.6 2190.4 1181.7 2185.8 1185.7 2175.7 1192.3 2195.1 1185.4M2195.9 1187.1L2175 1198.4 2185.8 1195.5 2198.1 1192M2198.1 1192L2183.3 1200.4 2193.4 1197.9 2200.2 1196.9M2200.2 1196.9L2178 1208.5 2188.5 1205.8 2163.6 1218.3 2195.4 1206.8 2203.6 1205.3 2188.1 1213.7 2194.8 1212.8 2187.8 1217.6 2206.5 1211.9M2206.5 1211.9L2199.3 1216.7 2190.8 1222.1 2208.5 1216.9M2209.2 1218.5L2193.3 1226.7 2210.5 1221.9M2210.5 1221.9L2185.9 1233.4 2205.7 1227.6 2212.3 1227 2207 1230.9 2210.9 1231.3 2164.2 1250.8 2215 1233.6M2215.6 1235.3L2202.2 1242.2 2180.8 1251.9 2201.7 1246.1 2201.6 1248 2159.2 1265 2167.4 1263.9 2219.9 1247.2M2219.9 1247.2L2214.7 1250.9 2184.1 1263.4 2221.7 1252.3M2221.7 1252.3L2195.5 1263.1 2210.1 1260 2199.1 1265.6 2206.2 1265 2209.4 1265.8 2207.1 1268.4 2220.1 1266 2217.2 1268.8 2203.4 1275.1 2225.3 1270 2209.6 1276.8 2214.1 1277.2 2228.9 1274.5M2228.9 1274.5L2228.7 1276.5 2209.6 1284.1 2214.5 1284.5 2223.6 1283.6 2223.3 1285.6 2221.3 1288 2218.6 1290.6 2231.7 1288.7 2222.1 1293.3 2219.9 1295.8 2220.6 1297.4 2235 1295.2M2235 1295.2L2227.5 1299.2 2228.6 1300.7 2236.4 1300.4M2236.4 1300.4L2225.2 1305.3 2184.8 1317.9 2203.7 1314.6 2206.1 1315.8 2184 1323.3 2237.6 1311.3 2230.8 1314.9 2206.4 1322.8 2215.9 1322.2 2221.2 1322.7 2241.4 1319.6M2241.4 1319.6L2220.1 1326.6 2203.2 1332.4 2187.5 1337.8 2204.3 1335.6 2225.1 1332.6 2223.5 1334.7 2209.7 1339.7 2226.3 1337.7 2234.8 1337.6 2206 1345.7 2233.1 1341.6 2219.3 1346.4 2223.6 1347.2 2216.2 1350.6 2242.1 1347 2214.6 1354.4 2231.2 1352.8 2196 1361.6 2218.4 1358.9 2221 1360.2 2235.8 1359.1 2224.7 1363 2218.7 1365.9 2216.7 1368 2213.8 1370.3 2209.5 1372.8 2226.8 1371.5 2229.1 1372.8 2221.3 1375.9 2216.5 1378.5 2214.1 1380.6 2224.4 1380.7 2230.2 1381.5 2242.8 1381.2 2218.3 1386.9 2230.5 1386.7 2214.6 1390.9 2218.5 1392.1 2235.9 1391.2 2235.3 1393.1 2214 1397.9 2217.9 1399.1 2237.8 1398 2232.7 1400.5 2249 1400.1 2221.6 1405.5 2222.5 1407.1 2207.3 1410.7 2257 1406.3 2220.1 1412.6 2241.8 1411.7 2231.3 1414.7 2247 1414.7 2205.5 1421.1 2217.7 1421.4 2231.9 1421.6 2218.1 1424.8 2191.4 1429.3 2227.8 1427.3 2196.4 1432.1 2232.1 1430.3 2249.4 1430.5 2192.2 1437.4 2222.5 1436.4 2220.8 1438.2 2220.6 1440 2232.8 1440.7 2254.5 1440.7 2200.9 1446.6 2228.3 1446.2 2257.8 1445.9 2232.3 1449.4 2235.3 1451 2230.1 1453 2207.7 1456.1 2227.8 1456.6 2204.9 1459.7 2224.4 1460.3 2245.7 1460.8 2217.4 1464 2241.1 1464.6 2234.2 1466.7 2231.7 1468.5 2241.8 1469.8 2262.4 1470.8M2262.4 1470.8L2259.6 1472.7 2246.6 1474.9 2242.3 1476.8 2227.5 1479 2222.5 1480.8 2225.5 1482.5 2201.1 1484.7 2243 1485.5 2245.5 1487.3 2224.5 1489.3 2227.1 1491 2231 1492.7 2232.4 1494.4 2233.9 1496.1 2206.5 1497.9 2223.6 1499.6 2223.7 1501.3 2217.4 1503 2236.5 1504.8 2238 1506.5 2244.4 1508.3 2229.5 1509.9 2213.6 1511.4 2251.3 1513.7 2230 1515.1 2231.9 1516.8 2248.1 1519 2218.2 1519.9 2218.2 1521.6 2245.1 1524.2 2232.3 1525.5 2224.4 1526.9 2251.4 1529.7 2233.1 1530.7 2224.4 1532 2245.7 1534.7 2217.3 1535.1 2216.8 1536.8 2219.4 1538.6 2212.3 1539.9 2223.9 1542.3 2230.8 1544.4 2222.9 1545.7 2204.8 1546.2 2212 1548.3 2223.1 1550.8 2239.4 1553.7 2222.6 1554.2 2212.3 1555.1 2224.8 1557.8 2207.2 1558.1 2213.3 1560.3 2222.5 1562.8 2241.8 1566.2 2225.7 1566.5 2234.3 1569 2228 1570.2 2199.5 1569.1 2210 1571.8 2250.4 1577.7 2238.6 1578.2 2233.2 1579.4 2215.3 1579.2 2226 1582.1 2194.5 1580.2 2232.5 1586.3 2251.3 1590.3 2224.9 1588.9 2193.3 1586.7 2230.8 1593.1 2233.7 1595.2 2233.9 1597 2242.4 1599.9 2229.5 1599.9 2231.5 1602 2238.5 1604.7 2253.9 1608.7 2237.4 1608.1 2243.4 1610.8 2240.5 1612.1 2220.4 1610.8 2229.1 1613.9 2227.7 1615.5 2236.4 1618.6 2223.3 1618.3 2222.6 1619.9 2237.5 1624.2 2225.2 1623.9 2251.8 1630.2M2251.8 1630.2L2239.2 1629.8 2223.9 1628.9 2235.1 1632.7 2231.7 1633.9 2211 1631.8 2226 1636.4 2218.1 1636.6 2213.2 1637.5 2222.5 1641 2227.9 1643.8 2225.2 1645.1 2219.9 1645.8 2211.3 1645.8 2204.5 1646.1 2213.1 1649.7 2211.4 1651.1 2222.5 1655.2 2179.8 1647.7 2210.9 1656.2 2202.9 1656.2 2207 1658.9 2227.6 1665.3 2200.9 1661 2234.2 1670.4 2202.7 1664.9 2213.1 1669.1 2191 1665.6 2211 1672.1 2224.7 1677.3 2217.2 1677.2 2220.8 1679.9 2218.5 1681.1 2209.8 1680.7 2214.5 1683.7 2208.4 1683.9 2208.7 1685.8 2222.3 1691.2 2226.7 1694.2 2220.2 1694.3 2206.1 1692.2 2217.4 1697.1 2215.6 1698.5 2203.4 1696.9 2211.8 1701 2222.3 1705.8 2216.3 1705.9 2208.4 1705.5 2212.8 1708.6 2215.2 1711.1 2206.5 1710.4 2227.6 1718.5 2219.7 1718 2218.2 1719.4 2219 1721.5 2218.6 1723.2 2200.6 1719.4 2220.7 1727.6 2203.1 1723.9 2203.5 1725.8 2225.9 1734.9M2225.9 1734.9L2188.1 1724.5 2203.2 1731.2 2215.5 1737.2 2195.2 1732.2 2189 1732 2222.2 1745.1 2202.2 1740.1 2196.3 1739.9 2195.8 1741.6 2211.1 1748.8 2201.7 1747.4 2200 1748.6 2194.3 1748.4 2197.7 1751.5 2181.4 1747.5 2181.3 1749.2 2194.7 1756 2193.9 1757.6 2174.2 1752.1 2158.9 1748.1 2198.8 1765 2185.2 1761.7 2201.9 1770 2203.2 1772.4 2168.3 1760.7 2172.7 1764.2 2199.6 1776.7 2190.3 1774.9 2199.4 1780.5 2191 1779 2185.9 1778.8 2180.5 1778.5 2180.9 1780.5 2176.1 1780.4 2198.1 1791.4 2192.9 1791.2 2197.6 1795.1 2176.2 1788 2186.2 1794.1 2195.2 1799.9 2179 1794.8 2180.7 1797.5 2162.4 1791.3 2184.8 1803.1 2186.9 1806 2196.2 1812.1M2195.5 1813.8L2175.9 1806.8 2194 1817M2194 1817L2188.2 1816.3 2192.5 1820.3M2189.5 1826.8L2173.7 1821.3 2187.9 1830.1M2176.6 1852.6L2169.7 1851 2175 1855.8M2163.8 1876.3L2151.6 1871.4 2162 1879.4M2132.5 1926.7L2106.7 1911.4 2130.5 1929.7M2130.5 1929.7L2112.5 1919.6 2128.4 1932.7M2125.4 1937.1L2113 1930.6 2123.3 1940.1M2110.6 1957.5L2102.7 1953.9 2108.4 1960.4M2105.2 1964.7L2093.9 1958.3 2103 1967.5M2080.3 1995.4L2073.4 1991.9 2077.9 1998.2M2076.7 1999.5L2072.5 1998.2 2074.4 2002.2M2066 2011.7L2057.2 2006.1 2054.5 2006.1 2062.4 2015.7M2052.6 2026.2L2041.7 2018.2 2050.1 2028.8M2038.7 2040.3L2032.6 2036.6 2036.2 2042.9M2034.9 2044.1L2029.6 2041.2 2032.3 2046.6M2023.2 2055.3L2019 2053.5 2020.6 2057.8M1997.8 2078.2L1976.9 2056.6 1983.6 2067.1 1993.7 2081.7M1993.7 2081.7L1985.8 2075.2 1991 2084M1981.3 2092.1L1973.7 2085.6 1978.5 2094.3M1978.5 2094.3L1976.1 2094.2 1975.7 2096.6M1974.3 2097.7L1958.3 2080.4 1971.4 2099.9M1971.4 2099.9L1969.8 2100.7 1968.6 2102.1M1968.6 2102.1L1960.2 2094.2 1965.8 2104.3M1961.5 2107.6L1953.7 2100.3 1947.3 2094.8 1943.8 2093 1936.8 2086.5 1939.6 2093.2 1944.1 2102.2 1946.7 2108.7 1939.4 2101.8 1937.7 2102.4 1937.8 2105.6 1944.3 2117.7 1923.6 2091.8 1942.6 2121.5M1942.6 2121.5L1937.5 2117.4 1930.5 2110.5 1936.8 2122.5 1924 2107.4 1934.2 2125.1 1927.1 2118 1918.4 2108.4 1921.1 2115.5 1928.2 2129 1916.3 2114.7 1919.6 2122.7 1921.2 2128.3 1919.8 2129.4 1919.7 2132.4 1908.7 2119.1 1916.6 2134.3 1915 2135.1 1908.7 2128.7 1914.4 2140.7M1905.3 2146.5L1896.7 2136.2 1902.2 2148.4M1882.1 2160.4L1876 2153.3 1879 2162.2M1861.7 2171.8L1853.4 2160 1857.7 2171.9 1857 2174.3M1857 2174.3L1853 2170.6 1847 2163 1844 2161.1 1845.4 2167.6 1844.5 2169.7 1842.2 2169.1 1838.9 2166.6 1833 2158.9 1832.4 2161.4 1829.6 2159.9 1839.4 2183.4M1839.4 2183.4L1828.3 2165 1836.1 2185M1834.5 2185.8L1822.1 2164.3 1811.4 2146 1828.4 2185.6 1824.6 2181.6 1818.8 2173.6 1824.8 2190.4M1824.8 2190.4L1818.6 2181.3 1815.7 2179.3 1816.7 2185.8 1809.7 2174.8 1802.3 2162.9 1808.6 2180.8 1807.1 2181.9 1804.6 2180.6 1807.6 2191.6 1799.1 2176.7 1799.2 2181.3 1796.8 2180.3 1797.6 2186.5 1794.4 2183.5 1794 2187.1 1789 2179.8 1793.8 2195.7 1787.8 2185.9 1790.3 2196.6 1791.9 2205M1791.9 2205L1787.8 2199.8 1781 2187.8 1784.2 2200.3 1781.9 2199.4 1779.7 2198.8 1774.4 2190.1 1778.4 2205.1 1770.4 2189.6 1775.9 2208.5 1773.5 2207.3 1768.6 2199.4 1761.8 2186.7 1767.4 2206.3 1762.6 2198.5 1761.2 2199.8 1757.5 2195.1 1760.6 2208.5 1752.6 2191.8 1756 2206.2 1752 2200.5 1741 2174.8 1739.1 2174.5 1743.2 2191.3 1747.3 2208 1743.2 2201.8 1738.9 2194.6 1746.4 2222.1M1746.4 2222.1L1740.9 2211.3 1739 2211.4 1737 2210.7 1733.6 2206.3 1728.3 2195.6 1732.1 2212.9 1728.5 2207.4 1728.1 2212.1 1728.6 2219.4 1721.5 2202.8 1720.7 2206 1719.9 2209.2 1723 2225.3 1715.2 2205.9 1720.8 2230.4M1720.8 2230.4L1712.9 2210.3 1714.3 2221.2 1706.6 2201.5 1708.6 2214.4 1712.1 2232.9M1712.1 2232.9L1706.4 2219.4 1708.7 2233.9M1708.7 2233.9L1701.1 2213.6 1700.2 2216.8 1701.1 2226.8 1694.8 2210.6 1700 2236.3M1700 2236.3L1694.4 2222.3 1696.5 2237.3M1696.5 2237.3L1693.6 2233.3 1693.1 2238.2M1693.1 2238.2L1686.2 2219 1686.7 2228 1680.1 2209.1 1681 2219.6 1681.8 2230.2 1671.4 2195.2 1679.7 2236.4 1676.8 2232.3 1674 2227.9 1673.5 2233.8 1666.3 2210.5 1669 2229.8 1664.8 2219.7 1662.5 2217.1 1658.6 2207.8 1665.1 2244.9M1665.1 2244.9L1655.3 2208.8 1661.5 2245.3 1656.8 2232 1653.1 2222.9 1650.1 2217.4 1651.8 2234.2 1648.2 2225.1 1645.7 2221.5 1649.2 2248.3M1649.2 2248.3L1643.7 2229.5 1642.1 2230.6 1640.4 2230.8 1642 2248.7 1638 2237.2 1635.9 2235.5 1632.3 2225.8 1635.1 2250.9M1633.3 2251.3L1627.5 2228.1 1625.7 2228.4 1627.5 2249 1625.3 2246.7 1623.1 2244.5 1620.4 2238.8 1618.4 2237.4 1619.1 2253.6M1617.4 2253.9L1614 2244.2 1611.9 2241.7 1610.4 2243.8 1609 2246.5 1605.3 2232.9 1605.2 2245.1 1602.4 2238 1599.9 2232.4 1597.3 2226 1597.2 2238.6 1594.9 2234.5 1594.1 2242 1594.2 2257.2M1590.6 2257.6L1583.5 2211.9 1585 2239.8 1583.9 2246.2 1580.2 2228.9 1581.7 2258.6M1581.7 2258.6L1577.3 2234.1 1575.6 2234.1 1575.8 2253.7 1571.7 2230.5 1571.3 2244.5 1569.6 2244.9 1567.2 2238.4 1566.2 2246.9 1565 2253.4 1563.8 2260.3M1563.8 2260.3L1559.9 2234.5 1559 2245.9 1558.4 2260.8M1558.4 2260.8L1553.7 2221.3 1554.3 2254.5 1552.5 2253.7 1549.9 2241.3 1548.1 2240.2 1546.6 2245.5 1543.8 2227 1542.5 2235.4 1541.4 2246.3 1539.8 2250 1538 2249.3 1536.5 2255.6 1535.1 2262.2M1533.3 2262.3L1530.7 2244.6 1529.5 2258.4 1526.2 2217.4 1525.8 2255.5 1524.1 2255.4 1521.9 2241.8 1519.5 2219.9 1518.6 2252.1 1516.9 2252.2 1515.2 2257.1 1513.1 2239.6 1511.3 2234.6 1509.6 2238.7 1507.9 2241.3 1506.2 2245.3 1504.4 2249.3 1502.6 2242 1500.9 2257.3 1499.1 2231.8 1497.4 2248.6 1495.6 2245 1493.7 2263M1493.7 2263L1492.1 2249.1 1490.6 2221.4 1488.5 2247.4 1487 2234.7 1484.7 2262.8 1483.2 2252.1 1481.4 2253.1 1479.8 2244.2 1478.1 2241.3 1476.1 2251.1 1474.2 2254.8 1472.3 2257.7 1470.3 2262.4M1470.3 2262.4L1469.4 2242 1467.1 2252.8 1465.4 2252.4 1464.2 2241.1 1462.4 2241.8 1460 2253.4 1457.9 2259.6 1456.2 2257.9 1454.7 2253.2 1453.1 2249.3 1451.7 2244.1 1449 2257.6 1448.8 2235.4 1447 2235.3 1443.8 2255.2 1441.6 2260.8M1441.6 2260.8L1440.9 2246.9 1438 2260.5M1438 2260.5L1436.6 2256.2 1435 2253.6 1433.6 2249 1432.7 2239.4 1431.6 2232 1428.4 2247.2 1425.5 2259.4M1421.9 2259L1420.3 2256.5 1421.1 2232.8 1418.4 2241.1 1414.7 2258.2M1368.4 2251.6L1369.6 2234.9 1364.9 2250.9M1357.8 2249.6L1358.3 2237.5 1354.3 2249M1340.2 2246.1L1340.1 2238 1336.7 2245.3M1336.7 2245.3L1339.2 2225.4 1333.2 2244.5M1279.2 2230.4L1279.2 2224.5 1275.8 2229.3M1275.8 2229.3L1276.5 2221 1272.4 2228.3M1258.7 2223.8L1263.2 2204.7 1255.3 2222.7M1223.1 2211L1223 2206.5 1219.8 2209.7M1181.7 2193.5L1184.5 2183.1 1178.5 2191.9M1176.8 2191.2L1182.8 2174.2 1185 2165.5 1188.3 2154.6 1175.2 2177.9 1175.6 2173 1169.3 2182.1 1165.5 2185.8M1165.5 2185.8L1171.4 2169.6 1172.9 2162.7 1166.3 2172 1169.9 2160.9 1166.9 2162.9 1174.8 2143.3 1171.4 2146.3 1158.4 2167.9 1161 2159.1 1160.1 2156.9 1153.1 2166.7 1159.7 2150.3 1157.4 2150.9 1151 2159.3 1141.4 2173.5M1141.4 2173.5L1147.1 2159.1 1153.6 2143.3 1141.5 2162 1143.4 2154.9 1145.1 2148 1137.9 2157.6 1137.2 2155.1 1137.6 2150.8 1128.9 2162.8 1133.5 2150.9 1126.9 2158.9 1135 2141.2 1129.1 2148 1124.9 2151.8 1132.1 2135.7 1135.2 2127.1 1127.6 2136.6 1121.1 2144.3 1120.8 2141.3 1128.5 2124.9 1116.1 2142.4 1116 2139.1 1111.9 2142.4 1116.5 2131.4 1116.3 2128.4 1111.4 2133.1 1107.4 2136.2 1097.8 2148.4M1097.8 2148.4L1104.4 2134.4 1104.4 2131.1 1100.3 2134.3 1106.5 2121.2 1097.4 2132.2 1098.4 2127.4 1094.6 2130.1 1093 2129.2 1094.2 2124.2 1089.8 2127.7 1097.8 2112.4 1094 2115 1084.1 2126.7 1087.1 2119.1 1079.8 2126.7 1078.8 2125 1080 2120.1 1083.6 2111.7 1081.2 2112.1 1070.6 2124.5 1068.1 2125 1070.3 2118.6 1074.6 2109.4 1070.7 2111.8 1065.1 2116.7 1065.9 2112.6 1057.4 2121.5M1057.4 2121.5L1068.1 2103.4 1056.4 2116.7 1063 2104.5 1064.3 2099.7 1062.8 2098.8 1048.6 2115.2M1031.4 2102.1L1046.1 2080.4 1028.6 2099.9M1009 2084L1012.5 2077.1 1006.3 2081.7M987.3 2065.1L993.2 2056 984.7 2062.7M982 2060.2L1001.1 2037 979.4 2057.8M947.4 2026.2L948.3 2022.8 945 2023.6M943.7 2022.2L949 2014.9 941.3 2019.6M936.4 2014.3L942.3 2006.6 934 2011.7M934 2011.7L935.8 2007.7 931.6 2009M929.2 2006.3L932.6 2000.9 926.8 2003.6M926.8 2003.6L933.4 1995.5 924.4 2000.9M909.4 1983L911.7 1978.8 907.1 1980.2M890.5 1959L903.6 1946.9 888.3 1956.1M888.3 1956.1L901.7 1943.9 886.2 1953.2M879.8 1944.5L891.8 1933.7 877.7 1941.5M874.6 1937.1L898.2 1918.5 872.6 1934.2M841.6 1885.6L847.7 1880 839.8 1882.5M835.4 1874.7L859.5 1859.1 852.2 1861.2 849.9 1860.5 857.1 1854.5 857.8 1852.2 887.2 1834.2 846.5 1854.3 847 1852.1 843.6 1852 849.1 1847 837.7 1851.1 825 1855.8M825 1855.8L833.7 1849.2 823.4 1852.6M823.4 1852.6L842.9 1840.4 862.5 1828.4 848.4 1833.7 834.5 1838.8 849 1829.5 839.9 1832.2 847.9 1826.2 844 1826.2 848.2 1822.2 838.3 1825.2 851.8 1816.7 841.4 1819.8 830.1 1823.4 833.3 1819.9 842.1 1813.8 831.1 1817.1 821.9 1819.5 830.3 1813.6 839.3 1807.5 815.5 1816.6 820.7 1812.3 848.1 1797.8 830.1 1804.1 838.4 1798.5 823.8 1803.1 843.4 1792.5 828.4 1797.3 833 1793.4 832.8 1791.6 829.8 1791 808.9 1798.2 798.7 1800.6M798.7 1800.6L819.2 1789.9 816.9 1789 813.7 1788.4 836.2 1777.1 819.5 1782.2 808.7 1784.8 817.8 1779.1 820.7 1776.1 804.1 1780.9 809.1 1777.1 800.7 1778.5 813.8 1771.4 815.3 1768.9 812.9 1768 807.4 1768.3 824 1760 808.6 1764.1 817.6 1758.8 821.3 1755.6 803.3 1760.5 827.8 1749.5 844.7 1741.5 818.3 1749.4 819.7 1747.1 814.9 1747 819.2 1743.6 798.6 1749.1 813.3 1742.1 829.3 1734.7 804.8 1741.4 814.3 1736.3 836.2 1727 809.1 1734.4 808.1 1733 813.6 1729.3 813.9 1727.4 820.3 1723.5 823.9 1720.5 807.2 1724.2 820.3 1718.2 787.5 1726.9 820.2 1714.7 834.1 1708.6 808.7 1714.8 803.7 1714.5 823.5 1706.6 798.1 1712.6 817.3 1705 823.5 1701.4 784.9 1711.1 811.3 1701.5 796.4 1704.1 816.3 1696.6 800.3 1699.4 815.5 1693.3 784.3 1700.3 801 1693.8 792.2 1694.5 788.3 1693.8 790.2 1691.5 817.7 1682.3 797.9 1685.8 790 1686.1 786.2 1685.3 805.2 1678.6 777.6 1683.9 781.8 1681.1 787.7 1677.8 785.2 1676.6 798.6 1671.6 796.8 1670.2 781.4 1672.2 786.1 1669.3 764.7 1672.5 766.6 1670.2 800.6 1660.6 802.2 1658.5 799.1 1657.5 768.9 1662.5 794.6 1655 790.2 1654.2 813.1 1647.6 778.2 1653.3 793.4 1648.3 778.7 1649.6 817.2 1640 808.7 1640 805.3 1639 787.4 1640.8 797.9 1637 773 1640.1 803.8 1632.5 802.2 1631.1 773 1634.8 773.6 1632.9 794 1627.5 801.5 1624.4 778.6 1626.7 778.7 1624.9 799.1 1619.7 776 1621.9 757.7 1623.2 788.9 1616.3 770.4 1617.5 799.1 1611.2 782.8 1612.1 778.3 1611 756.5 1612.6 761.3 1610.1 768.8 1607.2 773.3 1604.8 765.6 1604.1 775.1 1601.1 767.1 1600.4 764.7 1599 771.4 1596.3 767.9 1595 810.6 1587.8 749.8 1593.8 774.5 1589 771.8 1587.6 765.4 1586.6 762.4 1585.1 767.4 1582.8 778.5 1579.8 743.7 1581.9 764 1577.9 776.4 1574.9 804 1570.4 765 1572.6 784 1569 764.9 1569.1 767 1567.1 778.4 1564.4 776.7 1562.8 793.4 1559.7 786.9 1558.6 768.5 1558.3 772.2 1556.3 762.5 1555.3 755 1554.1 745.1 1553 759.6 1550.3 738.6 1549.9M738.5 1548.1L793.4 1543 773.6 1542.4 771.3 1540.8 781.2 1538.6 757.5 1538.1 752.8 1536.6 745.4 1535.2 777.4 1532 775.9 1530.3 756.6 1529.4 779.8 1526.8 771.1 1525.4 779 1523.4 773.7 1521.8 737.3 1521.1M745.5 1386.6L751.7 1385.8 746 1383.1M746.6 1379.5L749.2 1378.1 747.1 1376M752 1349.4L790.5 1355.4 775 1350.5 783.3 1350.5 769 1345.7 789.6 1348.3 802.3 1349.3 776.3 1341.9 796.9 1344.6 782.2 1339.6 778.9 1337.1 785.4 1336.8 786.5 1335.3 761.1 1327.6 786.9 1331.8 775.5 1327.3 767 1323.4 766.3 1321.5 801.9 1328.4 765.8 1317.6 764 1315.4 783.9 1318.6 783.7 1316.7 793.4 1317.4 790.1 1314.8 793.7 1313.9 797.5 1313.2 793.4 1310.3 789.6 1307.5 820.4 1314.1 764.5 1297M764.5 1297L790.8 1302.4 792.1 1301 794.9 1300 793.9 1297.9 808.7 1300.3 812.4 1299.6 796 1293.1 801.9 1293 793.9 1288.8 810.6 1292.1 786.9 1283.1 796.3 1284.1 807.5 1285.8 796.4 1280.5 800.2 1279.9 781.3 1272.1 816.9 1281.6 773.8 1265.9M773.8 1265.9L791.5 1269.8 797.2 1269.8 791.4 1266.1 806 1269.1 776.6 1257.4M776.6 1257.4L791.7 1260.6 777.8 1254M777.8 1254L800.6 1259.9 781 1251.3 810.6 1259.7 792.3 1251.5 812.7 1256.8 831.3 1261.6 828.7 1258.9 817 1252.9 825.6 1254.2 801.2 1243.4 801.1 1241.5 805.9 1241.4 785.6 1232M785.6 1232L829.3 1246.5 825.1 1243.1 812.6 1236.5 797.1 1228.7 822.8 1236.8 790.5 1222.3 791.6 1220.8 823.5 1231.5 813.6 1225.7 810.9 1222.7 832.6 1229.6 833.9 1228.3 798.5 1212 809.6 1214.6 806.6 1211.4 827.1 1218.2 811.8 1209.8 816.2 1209.8 827 1212.5 817.6 1206.5 818.3 1205 813 1200.7 811.4 1198.1 801.9 1192M801.9 1192L825.4 1200.4 805 1189.4 804.1 1187.1M804.9 1185.4L815.3 1188.2 813.8 1185.6 807.9 1180.9 832.4 1190.3 835 1189.6 831.6 1186.1 833.5 1185 824.9 1179 834.9 1181.8 830.6 1177.8 824 1172.7 834.5 1175.8 814.8 1164.3M814.8 1164.3L827.4 1168.5 831 1168.2 835.4 1168.5 818 1157.8M818 1157.8L827.4 1160.5 849.1 1169.5 847.4 1166.8 821.3 1151.4M821.3 1151.4L833.6 1155.7 835.6 1154.8 823.8 1146.6M823.8 1146.6L837.5 1151.8 851.4 1157.2 849.8 1154.4 846.4 1150.6 861.3 1156.6 838.9 1142.5 873.2 1159.2 859.5 1149.7 859.1 1147.6 860.3 1146.3 867.3 1148.2 865.3 1145.1 837.3 1127.4 854.1 1134.8 867.2 1140.3 850.4 1128.7 864.5 1134.8 847.4 1122.9 870.1 1134 876.2 1135.6 866.4 1127.9 859.2 1121.6 846.5 1112 851.4 1112.9 845.8 1107.4M845.8 1107.4L863.3 1115.8 857.6 1110.4 855.2 1106.8 893.2 1128 859.2 1105.1 878.6 1115 852.3 1096.6M872.1 1066.6L877.6 1068.2 874.1 1063.6M880.3 1054.8L890.5 1059.9 882.5 1051.9M902 1026.1L912.6 1032.2 904.3 1023.3M934.6 987.7L941.2 991.3 937 985M944.4 977.1L948.6 978.6 946.8 974.5M974.8 946.5L997.9 968.3 997.8 965.7 1005.1 971 980.1 941.6M980.1 941.6L984.2 943.4 1005.4 963.8 984 937.9M984 937.9L989.7 941.4 999.2 949.2 993 939.8 989.3 933.1M989.3 933.1L995.8 937.6 1013.1 954.3 1000 937 1008.9 944.3 1014.5 948.1 999.4 928.2 998.8 924.7M998.8 924.7L1012.7 938.1 1015.9 939.1 1014.2 934.4 1009.1 925.7 1027.3 944.4 1008.7 919.7 1033.1 945.9 1014 920.6 1012.5 915.9 1028.5 932.3 1017.4 916.3 1027 925 1016.6 909.6M1016.6 909.6L1031.2 924.6 1042.4 935.7 1060.6 955.5 1031.1 916.2 1030.9 913.1 1040.3 922 1026.4 901.7M1026.4 901.7L1047 924.9 1031.6 902.5 1049.5 922.6 1046.8 916.3 1033.5 896.2M1035 895.1L1048.8 910.2 1041 897.1 1080.3 946 1048.5 901.1 1046.4 895.4 1049.3 896.2 1049.8 894 1046.4 886.4M1047.9 885.4L1059.1 897.6 1052.2 885.2 1070.4 907.3 1064.5 896 1067.1 896.7 1061.5 885.9 1059.6 880.1 1069.9 891.6 1081.2 904.6 1075.4 893.4 1065.5 876 1086.8 903.6 1066.9 871.8M1066.9 871.8L1075.2 880.7 1080.1 884.7 1071.4 868.8M1071.4 868.8L1089.1 891.7 1075.7 868.7 1085.5 880.1 1084.5 875.4 1078.9 863.8M1078.9 863.8L1093.1 882 1097.7 885.9 1084.7 862.8 1094.8 875.1 1093.9 870.5 1104 883 1104.8 881 1111.4 888.1 1107.6 878.9 1105.7 872.7 1111.6 878.8 1110.2 873.3 1115.9 879.2 1100.1 850.2M1104.7 847.4L1108.3 849.9 1107.8 845.5M1107.8 845.5L1109.5 844.9 1110.9 843.7M1114 841.9L1118.1 845.4 1117.1 840M1139.1 827.8L1145.5 836 1142.2 826.1M1150.2 821.9L1152.4 822.2 1153.4 820.3M1169.5 812.3L1171.5 812.3 1172.8 810.7M1172.8 810.7L1176.6 814.7 1176 809.2M1192.4 801.8L1196.3 806.2 1195.7 800.3M1205.6 796.1L1209.1 799.8 1208.9 794.7M1224 788.7L1235.6 813.8 1227.3 787.4M1230.7 786.1L1234.9 792.1 1234.1 784.8M1251 778.8L1258 793.6 1254.4 777.6M1259.5 775.9L1269.5 800.3 1262.9 774.8M1268.1 773.1L1271.5 777.9 1271.7 772.7 1273.2 771.5M1276.7 770.4L1284.1 788.7 1286.1 789.2 1289.3 794 1289.6 788.9 1290.6 786 1296.8 801 1297.2 796.1 1295.3 783.2 1296.5 781.2 1297.2 777.1 1298.3 774.3 1305.4 793.5 1299.1 763.9M1299.1 763.9L1308.1 790.2 1314.9 808.8 1306.8 771.6 1312.8 787.7 1318.3 802 1317.2 790.9 1313.3 768.4 1329.4 824.9 1321.9 788.2 1324.7 792.3 1325 786.5 1329.5 797.6 1323.4 764.8 1324.3 761.1 1332.3 787.3 1339 808.4 1335.8 786.9 1335.1 776.1 1339.7 788.4 1337.4 770.2 1344.2 793 1341.1 770.5 1347.8 793.5 1347.8 785.5 1345.2 764.4 1355.3 804.5 1351.6 778.3 1354.8 785.1 1355.2 778.3 1359.9 793.2 1353.4 751.2M1353.4 751.2L1358.3 767.2 1356.9 750.5M1376.4 747.1L1380.1 758.8 1380 746.5M1401.3 743.4L1405.2 759.7 1407.1 760.2 1410.6 774.1 1411.7 769.1 1412.8 763.8 1416.5 780.6 1416.7 767.5 1420.4 784.2 1420.1 766.1 1421.5 763.1 1422.3 753.8 1425.7 769.3 1427.6 771.1 1427.4 751.3 1430.5 764.8 1432.1 763.3 1431.9 742.2 1438.5 796.4 1436.7 755.4 1438.7 758.7 1442.2 780.9 1444.2 783.9 1444.7 768.3 1446.8 773.5 1448.4 771.7 1450 769.7 1452.4 780.3 1453.6 772.2 1454.2 753.9 1457 770.8 1459.3 781.2 1460.8 776.9 1461.6 760.3 1463.4 760.8 1466.2 782.9 1468.3 793.3 1469.8 788 1470.6 765.7 1471.2 737.5M1476.6 737.4L1478.7 748.9 1480.2 737.3M1485.6 737.1L1487.5 741.2 1489.2 737.1" fill="none" stroke="#fb6a4a" stroke-width="1.8" stroke-linejoin="round"/><path d="M1500 966A534.0 534.0 0 0 1 1537.2 967.3L1533.9 1015.2A486.0 486.0 0 0 0 1500 1014ZM1538.8 967.4A534.0 534.0 0 0 1 1974.9 1255.9L1932.3 1277.9A486.0 486.0 0 0 0 1535.3 1015.3ZM1986.7 1280.3A534.0 534.0 0 0 1 2008.9 1338.1L1963.1 1352.7A486.0 486.0 0 0 0 1942.9 1300ZM2009.1 1338.9A534.0 534.0 0 0 1 2033.3 1472.9L1985.4 1475.3A486.0 486.0 0 0 0 1963.4 1353.4ZM2033.4 1475A534.0 534.0 0 0 1 2019.7 1622.7L1973 1611.7A486.0 486.0 0 0 0 1985.5 1477.2ZM2019.2 1624.8A534.0 534.0 0 0 1 1991.8 1708L1947.6 1689.3A486.0 486.0 0 0 0 1972.5 1613.6ZM1989.8 1712.8A534.0 534.0 0 0 1 1925.2 1823.1L1887 1794A486.0 486.0 0 0 0 1945.8 1693.6ZM1923.3 1825.6A534.0 534.0 0 0 1 1907.7 1844.9L1871 1813.9A486.0 486.0 0 0 0 1885.2 1796.3ZM1905.6 1847.3A534.0 534.0 0 0 1 1867.3 1887.6L1834.3 1852.8A486.0 486.0 0 0 0 1869.2 1816.1ZM1866.5 1888.4A534.0 534.0 0 0 1 1822.9 1925.3L1793.8 1887.1A486.0 486.0 0 0 0 1833.6 1853.4ZM1810.5 1934.5A534.0 534.0 0 0 1 1809 1935.5L1781.2 1896.4A486.0 486.0 0 0 0 1782.6 1895.4ZM1790.8 1947.9A534.0 534.0 0 0 1 1748.6 1972.6L1726.2 1930.1A486.0 486.0 0 0 0 1764.7 1907.6ZM1746.7 1973.6A534.0 534.0 0 0 1 1686.1 2000.5L1669.4 1955.5A486.0 486.0 0 0 0 1724.5 1931ZM1675.6 2004.3A534.0 534.0 0 0 1 1518 2033.7L1516.4 1985.7A486.0 486.0 0 0 0 1659.8 1959ZM1516.5 2033.7A534.0 534.0 0 0 1 1445.4 2031.2L1450.3 1983.5A486.0 486.0 0 0 0 1515 1985.8ZM1439.7 2030.6A534.0 534.0 0 0 1 1007.8 1707.2L1052.1 1688.5A486.0 486.0 0 0 0 1445.1 1982.9ZM1005.1 1700.7A534.0 534.0 0 0 1 983.9 1637.1L1030.3 1624.8A486.0 486.0 0 0 0 1049.6 1682.6ZM981.6 1628A534.0 534.0 0 0 1 971.9 1579L1019.4 1571.9A486.0 486.0 0 0 0 1028.2 1616.5ZM971.6 1577A534.0 534.0 0 0 1 967.5 1540.3L1015.4 1536.7A486.0 486.0 0 0 0 1019.1 1570.1ZM967.3 1537.2A534.0 534.0 0 0 1 991.2 1337.9L1036.9 1352.5A486.0 486.0 0 0 0 1015.2 1533.8ZM992 1335.4A534.0 534.0 0 0 1 1011 1285.4L1055 1304.7A486.0 486.0 0 0 0 1037.7 1350.2ZM1020.9 1264.2A534.0 534.0 0 0 1 1233.4 1037.3L1257.4 1078.9A486.0 486.0 0 0 0 1063.9 1285.4ZM1235.2 1036.3A534.0 534.0 0 0 1 1465.9 967.1L1469 1015A486.0 486.0 0 0 0 1259 1078ZM1468 967A534.0 534.0 0 0 1 1481.5 966.3L1483.2 1014.3A486.0 486.0 0 0 0 1470.9 1014.9ZM1483.1 966.3A534.0 534.0 0 0 1 1485.2 966.2L1486.6 1014.2A486.0 486.0 0 0 0 1484.6 1014.2ZM1486.8 966.2A534.0 534.0 0 0 1 1500 966L1500 1014A486.0 486.0 0 0 0 1488 1014.1Z" fill="#084081"/><path d="M1500 525.5A974.5 974.5 0 0 1 2388.6 1099.9L2344.8 1119.6A926.5 926.5 0 0 0 1500 573.5Z" fill="#f0f0f0" stroke="#000" stroke-width="1.2"/><path d="M2388.6 1099.9A974.5 974.5 0 0 1 2389.5 1898L2345.7 1878.4A926.5 926.5 0 0 0 2344.8 1119.6Z" fill="#bbbbbb" stroke="#000" stroke-width="1.2"/><path d="M2389.5 1898A974.5 974.5 0 0 1 1948.2 2365.3L1926.1 2322.7A926.5 926.5 0 0 0 2345.7 1878.4Z" fill="#666666" stroke="#000" stroke-width="1.2"/><path d="M1948.2 2365.3A974.5 974.5 0 0 1 1392 2468.5L1397.3 2420.8A926.5 926.5 0 0 0 1926.1 2322.7Z" fill="#000000" stroke="#000" stroke-width="1.2"/><path d="M1392 2468.5A974.5 974.5 0 0 1 913.4 2278.1L942.2 2239.8A926.5 926.5 0 0 0 1397.3 2420.8Z" fill="#f0f0f0" stroke="#000" stroke-width="1.2"/><path d="M913.4 2278.1A974.5 974.5 0 0 1 650.1 1976.8L692 1953.3A926.5 926.5 0 0 0 942.2 2239.8Z" fill="#bbbbbb" stroke="#000" stroke-width="1.2"/><path d="M650.1 1976.8A974.5 974.5 0 0 1 559.3 1754.5L605.6 1741.9A926.5 926.5 0 0 0 692 1953.3Z" fill="#666666" stroke="#000" stroke-width="1.2"/><path d="M559.3 1754.5A974.5 974.5 0 0 1 525.8 1524L573.8 1522.8A926.5 926.5 0 0 0 605.6 1741.9Z" fill="#000000" stroke="#000" stroke-width="1.2"/><path d="M525.8 1524A974.5 974.5 0 0 1 544.6 1307.9L591.7 1317.4A926.5 926.5 0 0 0 573.8 1522.8Z" fill="#f0f0f0" stroke="#000" stroke-width="1.2"/><path d="M544.6 1307.9A974.5 974.5 0 0 1 607.5 1108.7L651.5 1128A926.5 926.5 0 0 0 591.7 1317.4Z" fill="#bbbbbb" stroke="#000" stroke-width="1.2"/><path d="M607.5 1108.7A974.5 974.5 0 0 1 705.4 935.9L744.5 963.7A926.5 926.5 0 0 0 651.5 1128Z" fill="#666666" stroke="#000" stroke-width="1.2"/><path d="M705.4 935.9A974.5 974.5 0 0 1 831.1 791.4L864 826.3A926.5 926.5 0 0 0 744.5 963.7Z" fill="#000000" stroke="#000" stroke-width="1.2"/><path d="M831.1 791.4A974.5 974.5 0 0 1 976.2 678.3L1002 718.7A926.5 926.5 0 0 0 864 826.3Z" fill="#f0f0f0" stroke="#000" stroke-width="1.2"/><path d="M976.2 678.3A974.5 974.5 0 0 1 1098.1 612.2L1117.9 656A926.5 926.5 0 0 0 1002 718.7Z" fill="#bbbbbb" stroke="#000" stroke-width="1.2"/><path d="M1098.1 612.2A974.5 974.5 0 0 1 1218.3 567.1L1232.1 613.1A926.5 926.5 0 0 0 1117.9 656Z" fill="#666666" stroke="#000" stroke-width="1.2"/><path d="M1218.3 567.1A974.5 974.5 0 0 1 1318.9 542.5L1327.8 589.6A926.5 926.5 0 0 0 1232.1 613.1Z" fill="#000000" stroke="#000" stroke-width="1.2"/><path d="M1318.9 542.5A974.5 974.5 0 0 1 1380.1 532.9L1386 580.5A926.5 926.5 0 0 0 1327.8 589.6Z" fill="#f0f0f0" stroke="#000" stroke-width="1.2"/><path d="M1380.1 532.9A974.5 974.5 0 0 1 1442.4 527.2L1445.2 575.1A926.5 926.5 0 0 0 1386 580.5Z" fill="#bbbbbb" stroke="#000" stroke-width="1.2"/><path d="M1442.4 527.2A974.5 974.5 0 0 1 1461 526.3L1462.9 574.2A926.5 926.5 0 0 0 1445.2 575.1Z" fill="#666666" stroke="#000" stroke-width="1.2"/><path d="M1461 526.3A974.5 974.5 0 0 1 1479.3 525.7L1480.3 573.7A926.5 926.5 0 0 0 1462.9 574.2Z" fill="#000000" stroke="#000" stroke-width="1.2"/><path d="M1479.3 525.7A974.5 974.5 0 0 1 1490.6 525.5L1491 573.5A926.5 926.5 0 0 0 1480.3 573.7Z" fill="#f0f0f0" stroke="#000" stroke-width="1.2"/><path d="M1490.6 525.5A974.5 974.5 0 0 1 1499.1 525.5L1499.1 573.5A926.5 926.5 0 0 0 1491 573.5Z" fill="#bbbbbb" stroke="#000" stroke-width="1.2"/><path d="M1499.1 525.5A974.5 974.5 0 0 1 1500 525.5L1500 573.5A926.5 926.5 0 0 0 1499.1 573.5Z" fill="#000000" stroke="#000" stroke-width="1.2"/><path d="M1523 525.8L1523.1 519.8M1545.9 526.6L1546.2 520.6M1568.9 527.9L1569.3 522M1591.8 529.8L1592.3 523.9M1614.6 532.3L1615.3 526.3M1637.4 535.2L1638.2 529.3M1660.1 538.7L1661.1 532.8M1682.7 542.8L1683.8 536.9M1705.2 547.4L1706.5 541.5M1727.6 552.5L1731.3 537.4M1749.9 558.1L1751.4 552.3M1772 564.2L1773.7 558.5M1794 570.9L1795.8 565.2M1815.8 578.1L1817.8 572.4M1837.5 585.8L1839.6 580.2M1859 594L1861.2 588.4M1880.2 602.7L1882.6 597.2M1901.3 611.9L1903.7 606.5M1922.1 621.7L1924.7 616.2M1942.7 631.8L1949.7 618M1963 642.5L1965.9 637.2M1983.1 653.7L1986.1 648.5M2002.9 665.3L2006 660.2M2022.5 677.4L2025.7 672.3M2041.7 689.9L2045 684.9M2060.6 702.9L2064.1 698M2079.3 716.4L2082.8 711.5M2097.6 730.2L2101.3 725.5M2115.6 744.5L2119.4 739.9M2133.2 759.3L2143.3 747.5M2150.5 774.4L2154.5 769.9M2167.4 789.9L2171.5 785.6M2184 805.9L2188.2 801.6M2200.2 822.2L2204.5 818M2215.9 838.9L2220.3 834.8M2231.3 855.9L2235.8 852M2246.3 873.4L2250.9 869.5M2260.9 891.1L2265.6 887.4M2275 909.2L2279.8 905.6M2288.7 927.7L2301.3 918.6M2302 946.4L2306.9 943M2314.8 965.5L2319.8 962.2M2327.2 984.8L2332.3 981.7M2339.1 1004.5L2344.3 1001.4M2350.6 1024.4L2355.8 1021.5M2361.5 1044.6L2366.8 1041.8M2372 1065L2377.4 1062.3M2382 1085.7L2387.5 1083.2M2391.6 1106.6L2397.1 1104.2M2400.6 1127.7L2414.9 1121.8M2409.1 1149.1L2414.7 1146.9M2417.1 1170.6L2422.8 1168.6M2424.7 1192.3L2430.3 1190.4M2431.6 1214.2L2437.4 1212.4M2438.1 1236.2L2443.9 1234.6M2444.1 1258.4L2449.9 1256.9M2449.5 1280.8L2455.4 1279.4M2454.4 1303.2L2460.3 1302M2458.8 1325.8L2464.7 1324.7M2462.6 1348.4L2477.9 1346M2465.9 1371.1L2471.9 1370.3M2468.7 1393.9L2474.7 1393.3M2470.9 1416.8L2476.9 1416.3M2472.6 1439.7L2478.6 1439.4M2473.8 1462.7L2479.8 1462.4M2474.4 1485.6L2480.4 1485.6M2474.5 1508.6L2480.5 1508.7M2474 1531.6L2480 1531.8M2473 1554.5L2479 1554.9M2471.4 1577.5L2486.9 1578.7M2469.3 1600.3L2475.3 1601M2466.7 1623.2L2472.6 1623.9M2463.5 1645.9L2469.4 1646.8M2459.8 1668.6L2465.7 1669.6M2455.6 1691.2L2461.4 1692.3M2450.8 1713.6L2456.6 1715M2445.5 1736L2451.3 1737.5M2439.7 1758.2L2445.5 1759.8M2433.3 1780.3L2439.1 1782M2426.4 1802.2L2441.2 1807M2419.1 1824L2424.7 1826M2411.2 1845.6L2416.8 1847.7M2402.8 1866.9L2408.3 1869.2M2393.9 1888.1L2399.4 1890.5M2384.5 1909.1L2389.9 1911.6M2374.6 1929.8L2380 1932.5M2364.2 1950.3L2369.5 1953.1M2353.4 1970.6L2358.6 1973.5M2342 1990.6L2347.2 1993.6M2330.2 2010.3L2343.4 2018.4M2318 2029.7L2323 2033M2305.2 2048.8L2310.2 2052.2M2292.1 2067.7L2297 2071.2M2278.5 2086.2L2283.3 2089.8M2264.4 2104.4L2269.2 2108.1M2250 2122.2L2254.6 2126.1M2235.1 2139.7L2239.6 2143.7M2219.8 2156.9L2224.3 2160.9M2204.1 2173.7L2208.5 2177.8M2188.1 2190.1L2199 2201.1M2171.6 2206.1L2175.7 2210.5M2154.8 2221.8L2158.8 2226.2M2137.6 2237L2141.5 2241.5M2120 2251.8L2123.8 2256.4M2102.1 2266.2L2105.8 2270.9M2083.9 2280.2L2087.5 2285M2065.3 2293.8L2068.8 2298.6M2046.5 2306.9L2049.8 2311.8M2027.3 2319.5L2030.5 2324.6M2007.8 2331.7L2015.9 2345M1988.1 2343.5L1991.1 2348.7M1968.1 2354.7L1970.9 2360M1947.8 2365.5L1950.5 2370.9M1927.3 2375.8L1929.9 2381.2M1906.5 2385.7L1909 2391.1M1885.5 2395L1887.9 2400.5M1864.3 2403.9L1866.5 2409.4M1842.9 2412.2L1845 2417.8M1821.3 2420L1823.3 2425.7M1799.5 2427.3L1804.3 2442.1M1777.6 2434.1L1779.3 2439.9M1755.5 2440.4L1757 2446.2M1733.2 2446.2L1734.6 2452M1710.8 2451.4L1712.1 2457.3M1688.4 2456.1L1689.5 2462M1665.8 2460.3L1666.8 2466.2M1643.1 2463.9L1644 2469.9M1620.3 2467L1621.1 2473M1597.5 2469.6L1598.1 2475.6M1574.6 2471.6L1575.8 2487.1M1551.7 2473.1L1552 2479.1M1528.7 2474.1L1528.9 2480.1M1505.7 2474.5L1505.8 2480.5M1482.8 2474.3L1482.7 2480.3M1459.8 2473.7L1459.6 2479.7M1436.9 2472.5L1436.5 2478.4M1414 2470.7L1413.4 2476.7M1391.1 2468.4L1390.4 2474.4M1368.3 2465.6L1367.5 2471.5M1345.6 2462.2L1343.1 2477.5M1322.9 2458.3L1321.8 2464.2M1300.4 2453.8L1299.2 2459.7M1278 2448.9L1276.6 2454.7M1255.6 2443.4L1254.1 2449.2M1233.5 2437.3L1231.8 2443.1M1211.5 2430.8L1209.7 2436.5M1189.6 2423.7L1187.7 2429.4M1167.9 2416.2L1165.9 2421.8M1146.4 2408.1L1144.2 2413.7M1125.1 2399.5L1119.1 2413.8M1104 2390.4L1101.5 2395.9M1083.1 2380.8L1080.5 2386.2M1062.5 2370.7L1059.8 2376.1M1042 2360.2L1039.2 2365.5M1021.9 2349.2L1019 2354.4M1002 2337.7L998.9 2342.8M982.4 2325.7L979.2 2330.8M963.1 2313.2L959.8 2318.3M944.1 2300.4L940.6 2305.3M925.3 2287L916.2 2299.6M907 2273.3L903.3 2278M888.9 2259.1L885.1 2263.7M871.2 2244.5L867.3 2249M853.8 2229.4L849.8 2233.9M836.8 2214L832.7 2218.4M820.1 2198.2L815.9 2202.5M803.9 2181.9L799.6 2186.1M788 2165.3L783.6 2169.4M772.5 2148.4L768 2152.4M757.4 2131L745.6 2141.1M742.7 2113.3L738.1 2117.1M728.5 2095.3L723.7 2099M714.7 2077L709.8 2080.5M701.3 2058.3L696.4 2061.7M688.3 2039.3L683.3 2042.6M675.9 2020L670.8 2023.2M663.8 2000.5L658.7 2003.5M652.3 1980.6L647 1983.6M641.2 1960.5L635.9 1963.3M630.5 1940.1L616.7 1947.1M620.4 1919.5L615 1922.1M610.8 1898.6L605.3 1901.1M601.6 1877.6L596.1 1879.9M593 1856.3L587.4 1858.5M584.8 1834.8L579.2 1836.9M577.2 1813.1L571.5 1815.1M570.1 1791.3L564.3 1793.1M563.4 1769.3L557.7 1770.9M557.4 1747.1L551.6 1748.7M551.8 1724.8L536.7 1728.4M546.8 1702.4L540.9 1703.7M542.2 1679.9L536.4 1681M538.3 1657.3L532.4 1658.2M534.8 1634.5L528.9 1635.4M531.9 1611.8L526 1612.4M529.6 1588.9L523.6 1589.5M527.7 1566L521.8 1566.4M526.5 1543.1L520.5 1543.3M525.7 1520.1L519.7 1520.2M525.5 1497.1L510 1497.1M525.8 1474.2L519.8 1474M526.7 1451.2L520.7 1450.9M528.1 1428.3L522.2 1427.8M530.1 1405.4L524.1 1404.8M532.6 1382.5L526.6 1381.8M535.6 1359.8L529.7 1358.9M539.2 1337.1L533.3 1336.1M543.3 1314.5L537.4 1313.3M548 1292L542.1 1290.7M553.1 1269.6L538.1 1265.9M558.8 1247.3L553 1245.8M565 1225.2L559.3 1223.5M571.8 1203.2L566.1 1201.4M579 1181.4L573.4 1179.5M586.8 1159.8L581.2 1157.7M595.1 1138.4L589.5 1136.2M603.9 1117.1L598.3 1114.8M613.1 1096.1L607.7 1093.6M622.9 1075.3L617.5 1072.7M633.2 1054.8L619.4 1047.7M643.9 1034.5L638.6 1031.6M655.1 1014.4L649.9 1011.4M666.8 994.6L661.7 991.5M678.9 975.1L673.9 971.9M691.5 955.9L686.6 952.6M704.6 937L699.7 933.5M718.1 918.4L713.3 914.8M732 900.1L727.3 896.4M746.4 882.2L741.7 878.4M761.1 864.6L749.4 854.5M776.3 847.4L771.9 843.3M791.9 830.5L787.5 826.4M807.9 814L803.6 809.8M824.3 797.9L820.1 793.5M841 782.1L836.9 777.7M858.1 766.8L854.1 762.3M875.6 751.9L871.7 747.2M893.4 737.3L889.6 732.6M911.5 723.2L907.9 718.5M930 709.6L920.9 697M948.8 696.4L945.4 691.4M967.9 683.6L964.6 678.6M987.3 671.3L984.1 666.2M1007 659.4L1003.9 654.3M1026.9 648L1024 642.8M1047.1 637.1L1044.3 631.8M1067.6 626.7L1064.9 621.3M1088.3 616.7L1085.8 611.3M1109.2 607.3L1106.8 601.8M1130.4 598.3L1124.5 584M1151.8 589.8L1149.6 584.2M1173.3 581.9L1171.3 576.2M1195 574.4L1193.2 568.7M1216.9 567.5L1215.2 561.8M1239 561.1L1237.4 555.3M1261.2 555.2L1259.7 549.4M1283.6 549.8L1282.2 544M1306 545L1304.8 539.1M1328.6 540.7L1327.5 534.8M1351.2 536.9L1348.9 521.6M1374 533.7L1373.2 527.7M1396.8 531L1396.2 525M1419.7 528.8L1419.2 522.8M1442.6 527.2L1442.2 521.2M1465.5 526.1L1465.3 520.1M1488.5 525.6L1488.4 519.6" stroke="#000" stroke-width="1.5" fill="none"/><g font-family="Liberation Sans, sans-serif" font-size="48" fill="#000" stroke="#000" stroke-width="1.2"><text transform="translate(1733 530.1) rotate(-76.49) scale(0.887 1)" text-anchor="start" dy="17.8">100 kb</text><text transform="translate(1953.1 611.4) rotate(-62.98) scale(0.887 1)" text-anchor="start" dy="17.8">200 kb</text><text transform="translate(2148.2 741.8) rotate(-49.47) scale(0.887 1)" text-anchor="start" dy="17.8">300 kb</text><text transform="translate(2307.3 914.2) rotate(-35.97) scale(0.887 1)" text-anchor="start" dy="17.8">400 kb</text><text transform="translate(2421.9 1119) rotate(-22.46) scale(0.887 1)" text-anchor="start" dy="17.8">500 kb</text><text transform="translate(2485.4 1344.8) rotate(-8.95) scale(0.887 1)" text-anchor="start" dy="17.8">600 kb</text><text transform="translate(2494.3 1579.3) rotate(4.56) scale(0.887 1)" text-anchor="start" dy="17.8">700 kb</text><text transform="translate(2448.3 1809.4) rotate(18.07) scale(0.887 1)" text-anchor="start" dy="17.8">800 kb</text><text transform="translate(2349.8 2022.3) rotate(31.58) scale(0.887 1)" text-anchor="start" dy="17.8">900 kb</text><text transform="translate(2204.3 2206.4) rotate(45.08) scale(0.887 1)" text-anchor="start" dy="17.8">1000 kb</text><text transform="translate(2019.8 2351.4) rotate(58.59) scale(0.887 1)" text-anchor="start" dy="17.8">1100 kb</text><text transform="translate(1806.6 2449.2) rotate(72.10) scale(0.887 1)" text-anchor="start" dy="17.8">1200 kb</text><text transform="translate(1576.4 2494.6) rotate(85.61) scale(0.887 1)" text-anchor="start" dy="17.8">1300 kb</text><text transform="translate(1341.9 2484.9) rotate(-80.88) scale(0.887 1)" text-anchor="end" dy="19.8">1400 kb</text><text transform="translate(1116.2 2420.7) rotate(-67.37) scale(0.887 1)" text-anchor="end" dy="19.8">1500 kb</text><text transform="translate(911.8 2305.6) rotate(-53.86) scale(0.887 1)" text-anchor="end" dy="19.8">1600 kb</text><text transform="translate(739.9 2145.9) rotate(-40.36) scale(0.887 1)" text-anchor="end" dy="19.8">1700 kb</text><text transform="translate(610 1950.5) rotate(-26.85) scale(0.887 1)" text-anchor="end" dy="19.8">1800 kb</text><text transform="translate(529.4 1730.1) rotate(-13.34) scale(0.887 1)" text-anchor="end" dy="19.8">1900 kb</text><text transform="translate(502.5 1497.1) rotate(0.17) scale(0.887 1)" text-anchor="end" dy="19.8">2000 kb</text><text transform="translate(530.8 1264.1) rotate(13.68) scale(0.887 1)" text-anchor="end" dy="19.8">2100 kb</text><text transform="translate(612.7 1044.3) rotate(27.19) scale(0.887 1)" text-anchor="end" dy="19.8">2200 kb</text><text transform="translate(743.7 849.6) rotate(40.69) scale(0.887 1)" text-anchor="end" dy="19.8">2300 kb</text><text transform="translate(916.5 690.9) rotate(54.20) scale(0.887 1)" text-anchor="end" dy="19.8">2400 kb</text><text transform="translate(1121.7 577) rotate(67.71) scale(0.887 1)" text-anchor="end" dy="19.8">2500 kb</text><text transform="translate(1347.7 514.2) rotate(81.22) scale(0.887 1)" text-anchor="end" dy="19.8">2600 kb</text></g><path d="M2099.6 2281.5L2217.1 2434.6" stroke="#cd1c24" stroke-width="1.3"/><path d="M2044.1 2209.1L2056 2224.6" stroke="#cd1c24" stroke-width="3"/><g font-family="Liberation Sans, sans-serif"><text transform="translate(2219.6 2437.7) rotate(52.50) scale(0.84 1)" dy="23" font-size="47" fill="#cd1c24">IS21_259</text></g></svg></body></html>
